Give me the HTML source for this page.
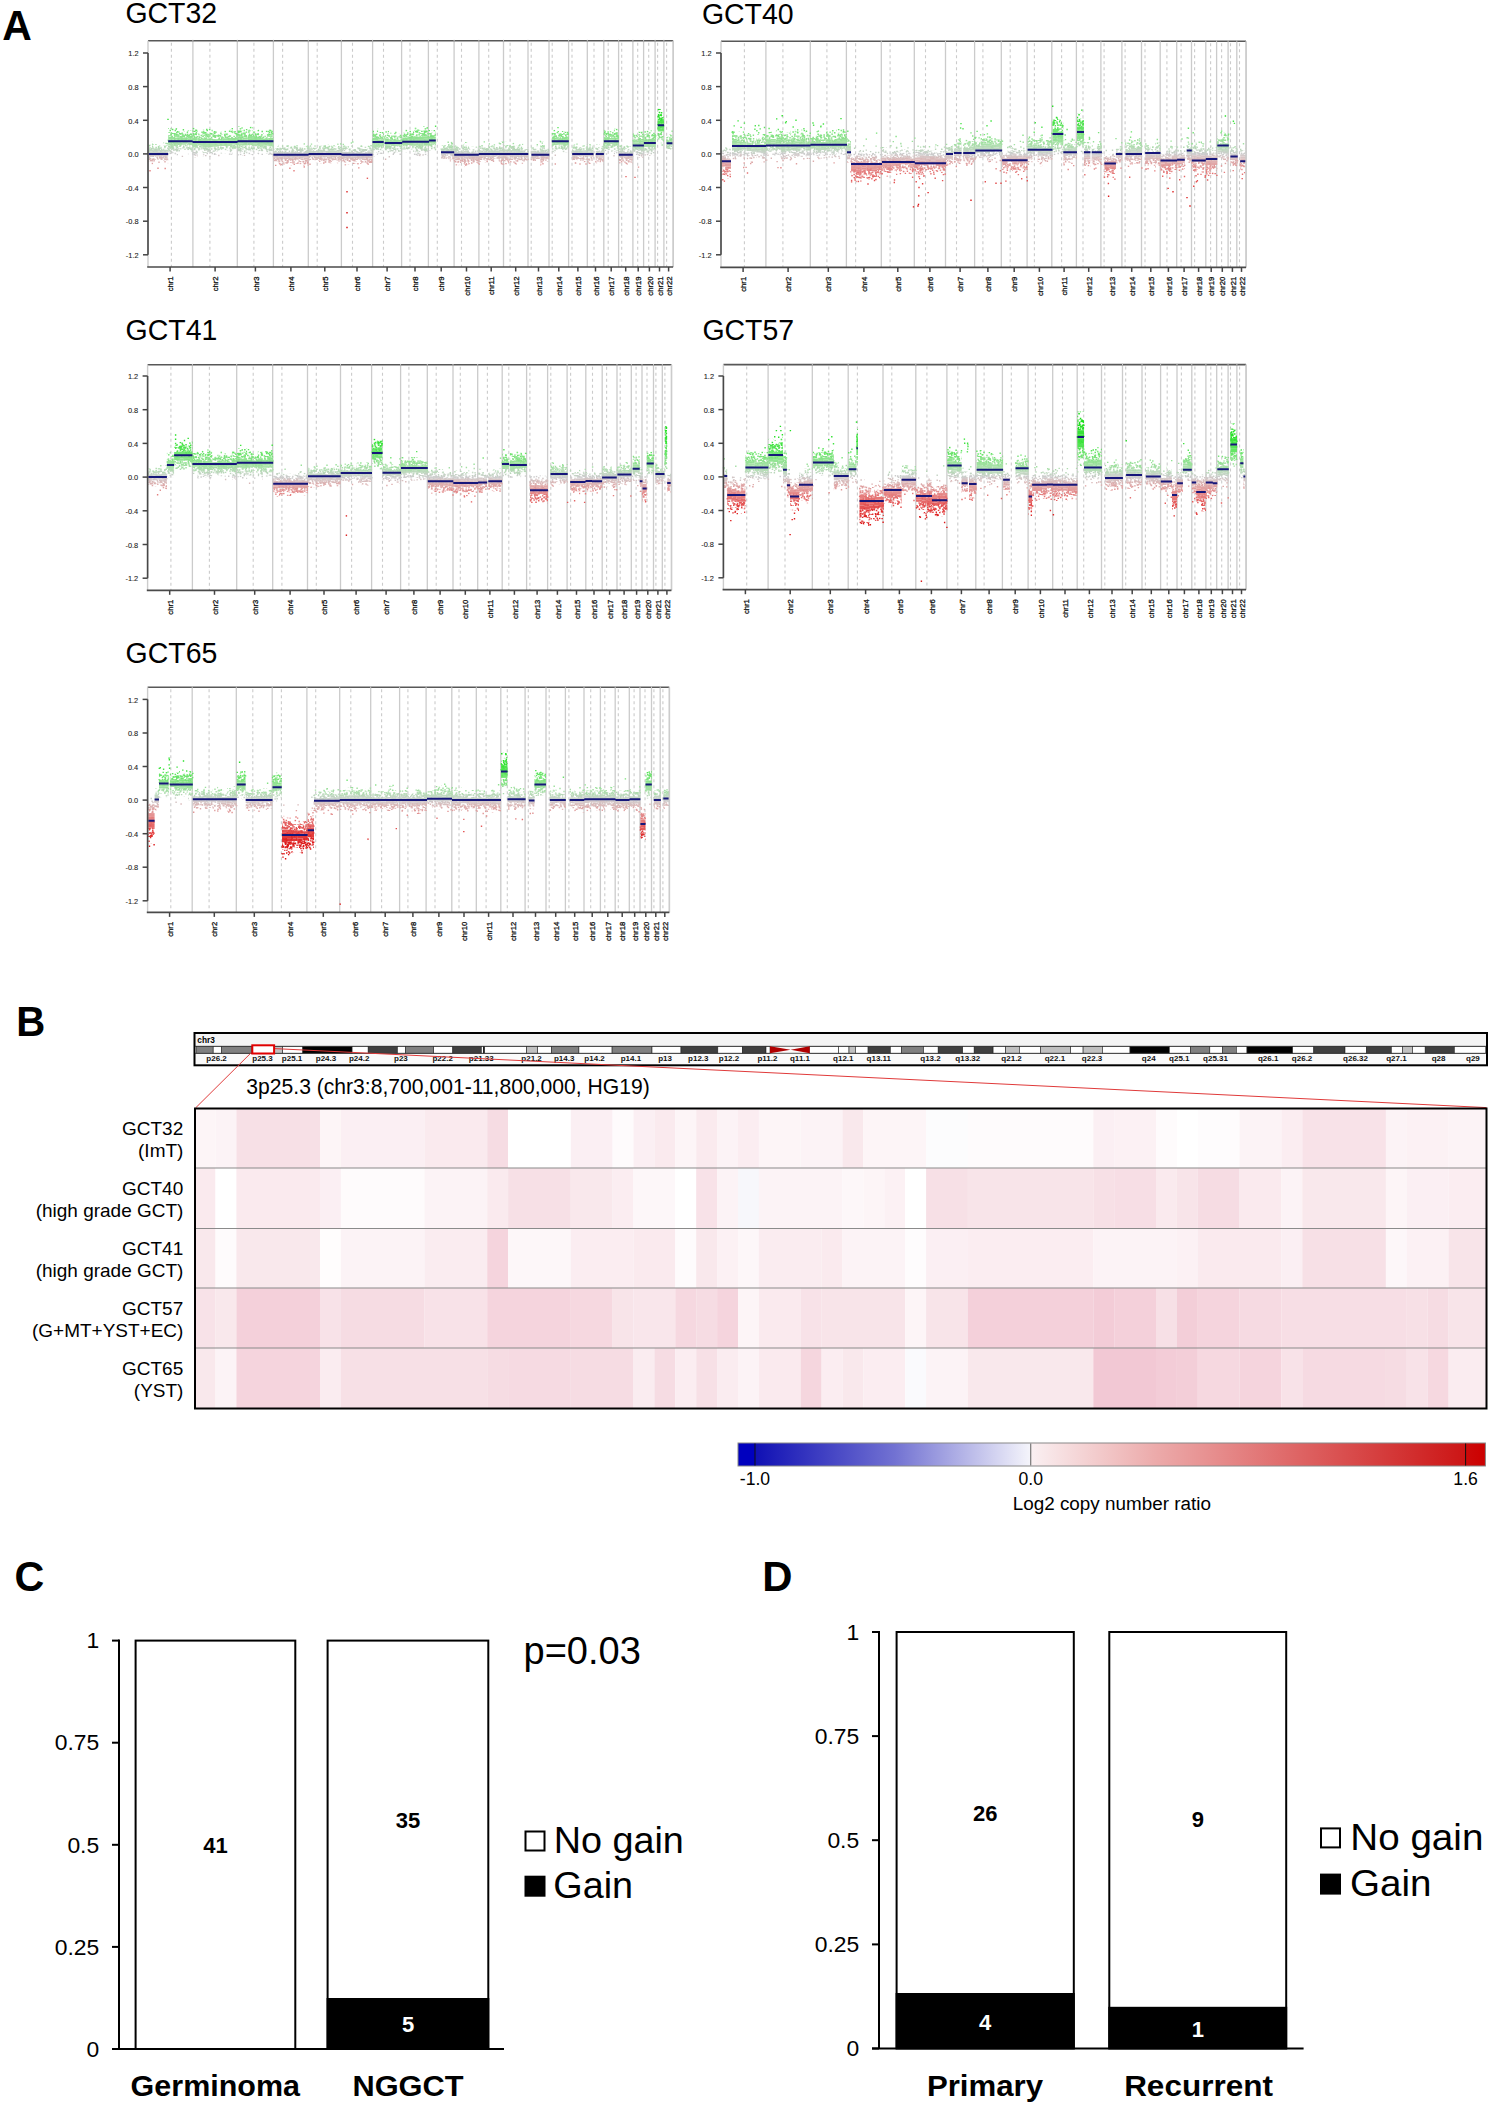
<!DOCTYPE html><html><head><meta charset="utf-8"><style>
html,body{margin:0;padding:0;background:#fff;width:1490px;height:2106px;overflow:hidden}
svg{display:block;font-family:"Liberation Sans", sans-serif}
.cb{stroke:#cbcbcb;stroke-width:1.3}
.cd{stroke:#cbcbcb;stroke-width:1.1;stroke-dasharray:3 3}
.yl{font-size:7.4px;text-anchor:end;fill:#1a1a1a;stroke:#1a1a1a;stroke-width:0.08}
.xl{font-size:7.7px;text-anchor:end;fill:#111;stroke:#111;stroke-width:0.3}
</style></head><body>
<svg width="1490" height="2106" viewBox="0 0 1490 2106">
<rect width="1490" height="2106" fill="#fff"/>
<defs>
<pattern id="pD" patternUnits="userSpaceOnUse" width="31" height="19"><path d="M7.4 10.3h1.5M11.5 11.5h1.5M19.4 1.2h1.5M0.4 15.9h1.5M8 4.5h1.5M30.9 8.9h1.5M-0.1 8.9h1.5M25.9 9.1h1.5M19.8 2.9h1.5M19.7 16.5h1.5M16.2 14.1h1.5M20.8 1.2h1.5M23.5 11.2h1.5M9.3 0.6h1.5M26.8 9h1.5M22.3 16.7h1.5M22.1 17.5h1.5M22.1 -1.5h1.5M12.2 15.2h1.5M13.8 17.8h1.5M13.8 -1.2h1.5M27.2 1.9h1.5M4.2 4.1h1.5M29.9 8.3h1.5M-1.1 8.3h1.5M19.4 5.7h1.5M15.7 7.3h1.5M10.9 11.1h1.5M18.1 17.2h1.5M21.1 17.6h1.5M21.1 -1.4h1.5M26.5 18.8h1.5M26.5 -0.2h1.5M20.8 3.1h1.5M26.7 18.3h1.5M26.7 -0.7h1.5M28 10.8h1.5M22.1 4h1.5M25.8 10.9h1.5M8.8 1.2h1.5M26.5 18.8h1.5M26.5 -0.2h1.5M2.7 15.2h1.5M12.7 2.9h1.5M9.1 14.6h1.5M27.1 0.8h1.5M19.1 0.9h1.5M22.3 6.3h1.5M27.3 18.6h1.5M27.3 -0.4h1.5M15.7 19h1.5M15.7 -0h1.5M9.6 1.5h1.5M18.6 0.6h1.5M6.1 7.8h1.5M18.9 3h1.5M1.3 16.5h1.5M9.7 18.2h1.5M9.7 -0.8h1.5M27.8 7.2h1.5M14.3 9.9h1.5M20 11.3h1.5M17.3 11.8h1.5M29.2 9.6h1.5M13.4 13.7h1.5M7.4 5.7h1.5M30.3 9.9h1.5M-0.7 9.9h1.5M17 0.2h1.5M12.9 11h1.5M0.6 11.7h1.5M19.6 1.1h1.5M19.4 8.9h1.5M21.1 6.7h1.5M21.9 14h1.5M0.7 1.2h1.5M21 18.3h1.5M21 -0.7h1.5M7.8 8.7h1.5M18.4 6.1h1.5M11.3 5.9h1.5M11.4 11.3h1.5M9.3 7.2h1.5M23.9 0.5h1.5M17.6 14h1.5M9.6 4.2h1.5M24.9 4.5h1.5M5.8 8.3h1.5M21.6 1.9h1.5M10 6.3h1.5M25.8 8.3h1.5M26.5 3.2h1.5M10.4 12.4h1.5M27.4 8.6h1.5M7 2.3h1.5M16.4 3.6h1.5M25 15.9h1.5M5.7 5.3h1.5M25 12.2h1.5M25 6.6h1.5M4 5.5h1.5M24.6 5.2h1.5M10.7 7.9h1.5M13 7.8h1.5M28.5 3h1.5M0.1 17.9h1.5M0.1 -1.1h1.5M27.3 18.8h1.5M27.3 -0.2h1.5M13.5 18.1h1.5M13.5 -0.9h1.5M28.7 4.2h1.5M23.1 15.9h1.5M20.6 9.9h1.5M9 6.5h1.5M7.1 1.3h1.5M18.2 5.5h1.5M25.1 0.9h1.5M28 13.2h1.5M28.6 17h1.5M27.9 11h1.5M0.4 14.2h1.5M5.3 5.7h1.5M20.5 10h1.5M12.8 17.8h1.5M12.8 -1.2h1.5M19 6.5h1.5M7.8 16.4h1.5M14.8 14.9h1.5M10.9 3.7h1.5M16.6 15.5h1.5M5.3 15h1.5M28.6 15.3h1.5M25.5 0.1h1.5M19.5 16.4h1.5M1.5 5.2h1.5M8.3 10h1.5M13.1 9h1.5M24.1 0h1.5M1.7 2.4h1.5M3.9 1.3h1.5M30.2 16.2h1.5M-0.8 16.2h1.5M2.7 9.5h1.5M9.8 6h1.5M10.9 12.3h1.5M18.2 6.9h1.5M5.9 6.2h1.5M3.8 10.6h1.5M22.2 7.2h1.5M2.5 3.4h1.5M11.6 11.5h1.5M24.3 7.2h1.5M24.8 11.8h1.5M13.4 7.1h1.5M15.4 13.4h1.5M13 13.2h1.5M14.3 4.7h1.5M16.6 13.2h1.5M2.2 8.1h1.5M13.2 16.7h1.5M29 7.1h1.5M27.8 15h1.5M8.1 8.8h1.5M3.8 15.5h1.5M20.5 16.9h1.5M24.6 12.7h1.5M22.7 10.7h1.5M3.2 11.2h1.5M0.2 2.7h1.5M24 0.8h1.5M2.8 1.9h1.5M27.3 3.4h1.5M0.7 16h1.5M3.8 16h1.5M20.9 15.9h1.5M29.5 11h1.5M-1.5 11h1.5M24.8 0.7h1.5M23.8 9.7h1.5M22.2 2h1.5M23.2 17.8h1.5M23.2 -1.2h1.5M1.9 6.2h1.5M17.5 15.7h1.5M7.5 3.4h1.5M7.7 11.7h1.5M23.4 7.5h1.5M11.4 7.5h1.5M10.9 7.9h1.5M2.6 9.5h1.5M30.2 7.8h1.5M-0.8 7.8h1.5M23.2 3.1h1.5M21.4 14.4h1.5M20.9 9.8h1.5M15 12.2h1.5M27.8 2.8h1.5M3 14.2h1.5M28.4 9.8h1.5M13.7 13.7h1.5M5.8 5.1h1.5M6.2 11.1h1.5M9.8 4.4h1.5M21.4 18.1h1.5M21.4 -0.9h1.5M9.2 13.4h1.5M12.8 16.2h1.5M18.1 5.1h1.5M6.7 0.4h1.5M14.9 7.3h1.5M5.3 6.8h1.5" fill="none" stroke="#fff" stroke-width="1.5"/></pattern>
<pattern id="pS" patternUnits="userSpaceOnUse" width="37" height="23"><path d="M11.9 17.8h1.5M5.3 22.8h1.5M5.3 -0.2h1.5M17.7 13.8h1.5M17.3 19.2h1.5M30.4 12.8h1.5M17.8 16.6h1.5M31.7 9.2h1.5M27.1 22.1h1.5M27.1 -0.9h1.5M17.3 5.3h1.5M8.7 16.5h1.5M25 22.1h1.5M25 -0.9h1.5M31.6 5.6h1.5M7 5.9h1.5M6.9 16.2h1.5M31.8 20.7h1.5M9.4 19.9h1.5M11.6 9.7h1.5M27 2h1.5M3.4 19.2h1.5M10.8 8.2h1.5M21.5 15.5h1.5M0.3 7.7h1.5M16.1 11.2h1.5M7.8 13.5h1.5M35.3 9h1.5M20.1 2.7h1.5M10.2 15.3h1.5M4.2 20.4h1.5M33.6 2.2h1.5M34.8 8.6h1.5M28.6 17.4h1.5M10.9 15.5h1.5M24.2 18.5h1.5M9.8 17.3h1.5M35.6 15.5h1.5M-1.4 15.5h1.5M19.8 2.6h1.5M18.3 8.1h1.5M26.6 15.6h1.5M21 4.2h1.5M23.9 14.5h1.5M6.6 20.5h1.5M24.2 2.8h1.5M34.5 3.3h1.5M12.3 16.6h1.5M22.1 12.8h1.5M24 10.5h1.5M11.6 4.1h1.5M2.5 16.5h1.5M27.9 12.5h1.5M27.4 8.3h1.5M9.8 8.8h1.5M32.3 1h1.5M18.7 5.7h1.5M28.4 8.1h1.5M12.3 9.3h1.5M20 17.7h1.5M13.1 19.5h1.5M4.1 6.2h1.5M3.7 2.6h1.5M28.8 16.7h1.5M6.8 4.4h1.5M15.4 17.1h1.5M30.2 17.2h1.5M21.9 3.4h1.5M14.7 4.5h1.5M19.5 13.1h1.5M7.5 5.8h1.5M28.9 0.7h1.5M29.7 20.5h1.5M35.1 8.8h1.5" fill="none" stroke="#fff" stroke-width="1.5"/></pattern>
<mask id="mD" maskUnits="userSpaceOnUse" x="0" y="0" width="1490" height="950"><rect width="1490" height="950" fill="url(#pD)"/></mask>
<mask id="mS" maskUnits="userSpaceOnUse" x="0" y="0" width="1490" height="950"><rect width="1490" height="950" fill="url(#pS)"/></mask>
</defs>
<text transform="translate(2.2 39.9) scale(0.963 1)" font-size="42.5" font-weight="bold">A</text>
<text transform="translate(16.2 1036.1) scale(0.945 1)" font-size="42.5" font-weight="bold">B</text>
<text transform="translate(14.4 1590.7) scale(0.970 1)" font-size="42.5" font-weight="bold">C</text>
<text transform="translate(762.3 1590.9) scale(0.985 1)" font-size="42.5" font-weight="bold">D</text>
<text transform="translate(125.4 23.4) scale(0.965 1)" font-size="29.5">GCT32</text>
<line x1="192.9" y1="40.7" x2="192.9" y2="267" class="cb"/>
<line x1="237.3" y1="40.7" x2="237.3" y2="267" class="cb"/>
<line x1="273.4" y1="40.7" x2="273.4" y2="267" class="cb"/>
<line x1="308.3" y1="40.7" x2="308.3" y2="267" class="cb"/>
<line x1="341.4" y1="40.7" x2="341.4" y2="267" class="cb"/>
<line x1="372.6" y1="40.7" x2="372.6" y2="267" class="cb"/>
<line x1="401.6" y1="40.7" x2="401.6" y2="267" class="cb"/>
<line x1="428.4" y1="40.7" x2="428.4" y2="267" class="cb"/>
<line x1="454.1" y1="40.7" x2="454.1" y2="267" class="cb"/>
<line x1="478.9" y1="40.7" x2="478.9" y2="267" class="cb"/>
<line x1="503.5" y1="40.7" x2="503.5" y2="267" class="cb"/>
<line x1="528" y1="40.7" x2="528" y2="267" class="cb"/>
<line x1="549" y1="40.7" x2="549" y2="267" class="cb"/>
<line x1="568.6" y1="40.7" x2="568.6" y2="267" class="cb"/>
<line x1="587.3" y1="40.7" x2="587.3" y2="267" class="cb"/>
<line x1="603.8" y1="40.7" x2="603.8" y2="267" class="cb"/>
<line x1="618.6" y1="40.7" x2="618.6" y2="267" class="cb"/>
<line x1="632.9" y1="40.7" x2="632.9" y2="267" class="cb"/>
<line x1="643.6" y1="40.7" x2="643.6" y2="267" class="cb"/>
<line x1="655.1" y1="40.7" x2="655.1" y2="267" class="cb"/>
<line x1="663.9" y1="40.7" x2="663.9" y2="267" class="cb"/>
<line x1="673.3" y1="40.7" x2="673.3" y2="267" class="cb"/>
<line x1="171.4" y1="42.7" x2="171.4" y2="267" class="cd"/>
<line x1="209.9" y1="42.7" x2="209.9" y2="267" class="cd"/>
<line x1="253.9" y1="42.7" x2="253.9" y2="267" class="cd"/>
<line x1="282.6" y1="42.7" x2="282.6" y2="267" class="cd"/>
<line x1="317.2" y1="42.7" x2="317.2" y2="267" class="cd"/>
<line x1="352.5" y1="42.7" x2="352.5" y2="267" class="cd"/>
<line x1="383.5" y1="42.7" x2="383.5" y2="267" class="cd"/>
<line x1="410" y1="42.7" x2="410" y2="267" class="cd"/>
<line x1="437.3" y1="42.7" x2="437.3" y2="267" class="cd"/>
<line x1="461.5" y1="42.7" x2="461.5" y2="267" class="cd"/>
<line x1="488.7" y1="42.7" x2="488.7" y2="267" class="cd"/>
<line x1="510.1" y1="42.7" x2="510.1" y2="267" class="cd"/>
<line x1="531.2" y1="42.7" x2="531.2" y2="267" class="cd"/>
<line x1="552.2" y1="42.7" x2="552.2" y2="267" class="cd"/>
<line x1="572" y1="42.7" x2="572" y2="267" class="cd"/>
<line x1="594" y1="42.7" x2="594" y2="267" class="cd"/>
<line x1="608.2" y1="42.7" x2="608.2" y2="267" class="cd"/>
<line x1="621.7" y1="42.7" x2="621.7" y2="267" class="cd"/>
<line x1="637.7" y1="42.7" x2="637.7" y2="267" class="cd"/>
<line x1="648.7" y1="42.7" x2="648.7" y2="267" class="cd"/>
<line x1="657.6" y1="42.7" x2="657.6" y2="267" class="cd"/>
<line x1="666.6" y1="42.7" x2="666.6" y2="267" class="cd"/>
<path d="M657.7 108.9h6.3v2.5h-6.3z" fill="#28e128" stroke="none" mask="url(#mS)"/>
<path d="M657.7 111.3h6.3v2.5h-6.3z" fill="#29e129" stroke="none" mask="url(#mS)"/>
<path d="M187.7 126.7h4.9v2h-4.9zM237.5 126.5h5.1v2.1h-5.1zM247.8 126.4h5.1v2.1h-5.1zM412.9 126.5h5.4v2.1h-5.4zM418.3 126.5h5.4v2.2h-5.4zM423.6 126.5h5.4v2.1h-5.4z" fill="#58e458" stroke="none" mask="url(#mS)"/>
<path d="M168.2 128.1h4.9v1.9h-4.9zM173.1 128.1h4.9v2h-4.9zM192.6 127.8h5v2.2h-5zM247.8 128.4h5.1v2.1h-5.1zM372.5 128.2h5.6v2.1h-5.6z" fill="#5fe45f" stroke="none" mask="url(#mS)"/>
<path d="M168.2 130h4.9v1.9h-4.9zM173.1 130h4.9v2h-4.9zM178 129.1h4.9v1.7h-4.9zM187.7 128.7h4.9v2h-4.9zM192.6 129.9h5v2.2h-5zM202.6 129.4h5v2h-5zM207.6 129.1h5v2h-5zM227.5 129.3h5v1.9h-5zM237.5 128.5h5.1v2.1h-5.1zM242.6 129h5.1v1.8h-5.1zM252.9 129.9h5.1v1.8h-5.1zM258 129.3h5.1v1.9h-5.1zM268.3 129.3h5.1v1.9h-5.1zM402.2 129.5h5.4v1.7h-5.4zM407.6 130.2h5.4v1.7h-5.4zM412.9 128.6h5.4v2.1h-5.4zM418.3 128.6h5.4v2.2h-5.4zM423.6 128.6h5.4v2.1h-5.4zM429 130.1h6.8v1.5h-6.8zM551.8 129.8h5.7v1.7h-5.7zM603.9 129.5h5v1.7h-5zM613.8 128.6h5v1.9h-5z" fill="#68e468" stroke="none" mask="url(#mS)"/>
<path d="M178 130.8h4.9v1.7h-4.9zM182.8 130.9h4.9v1.4h-4.9zM202.6 131.4h5v2h-5zM207.6 131.1h5v2h-5zM212.6 130.9h5v1.8h-5zM217.5 131.3h5v1.6h-5zM222.5 130.5h5v1.7h-5zM227.5 131.1h5v1.9h-5zM232.5 131h5v1.5h-5zM242.6 130.7h5.1v1.8h-5.1zM252.9 131.6h5.1v1.8h-5.1zM258 131.1h5.1v1.9h-5.1zM263.1 130.6h5.1v1.7h-5.1zM268.3 131.1h5.1v1.9h-5.1zM372.5 130.2h5.6v2.1h-5.6zM378.1 132h5.6v1.6h-5.6zM384.6 130.8h4.4v1.7h-4.4zM402.2 131.1h5.4v1.7h-5.4zM407.6 131.8h5.4v1.7h-5.4zM429 131.6h6.8v1.5h-6.8zM551.8 131.5h5.7v1.7h-5.7zM557.5 131.1h5.7v1.5h-5.7zM563.1 131.7h5.7v1.5h-5.7zM603.9 131.2h5v1.7h-5zM608.9 131.3h5v1.4h-5zM613.8 130.5h5v1.9h-5zM638.3 131.7h5.6v1.9h-5.6zM643.9 130.6h5.9v1.8h-5.9zM649.8 130.4h6v1.9h-6z" fill="#70e370" stroke="none" mask="url(#mS)"/>
<path d="M182.8 132.3h4.9v1.4h-4.9zM197.6 133h5v1.4h-5zM212.6 132.7h5v1.8h-5zM217.5 132.9h5v1.6h-5zM222.5 132.2h5v1.7h-5zM232.5 132.5h5v1.5h-5zM263.1 132.3h5.1v1.7h-5.1zM378.1 133.6h5.6v1.6h-5.6zM384.6 132.4h4.4v1.7h-4.4zM389 132.7h4.4v1.4h-4.4zM393.4 132.5h4.4v1.5h-4.4zM397.8 133.6h4.4v1.4h-4.4zM557.5 132.6h5.7v1.5h-5.7zM563.1 133.2h5.7v1.5h-5.7zM608.9 132.7h5v1.4h-5zM632.8 132.7h5.5v1.8h-5.5zM638.3 133.6h5.6v1.9h-5.6zM643.9 132.4h5.9v1.8h-5.9zM649.8 132.2h6v1.9h-6z" fill="#79e379" stroke="none" mask="url(#mS)"/>
<path d="M197.6 134.4h5v1.4h-5zM389 134.1h4.4v1.4h-4.4zM393.4 134h4.4v1.5h-4.4zM397.8 134.9h4.4v1.4h-4.4zM632.8 134.4h5.5v1.8h-5.5zM666.6 134.4h6.4v1.3h-6.4zM666.6 135.6h6.4v1.3h-6.4z" fill="#81e281" stroke="none" mask="url(#mS)"/>
<path d="M657.7 138.3h6.3v2.5h-6.3z" fill="#90e190" stroke="none" mask="url(#mS)"/>
<path d="M148 141.5h5.1v1.7h-5.1zM449.8 141.6h4.4v1.5h-4.4zM464 141.9h4.9v1.9h-4.9zM498.6 141.4h4.9v1.7h-4.9zM503.5 141.7h5v1.7h-5zM540.3 141.4h4.5v1.8h-4.5zM657.7 140.7h6.3v2.5h-6.3z" fill="#9de09d" stroke="none" mask="url(#mS)"/>
<path d="M148 143.2h5.1v1.7h-5.1zM153.1 143.9h5v1.4h-5zM158.1 143.4h5v1.4h-5zM163.1 142.6h5.1v1.5h-5.1zM293.5 143.7h5v1.7h-5zM303.6 143.2h5v1.8h-5zM318 142.8h4.7v1.5h-4.7zM327.4 143.9h4.7v1.4h-4.7zM332.1 143.8h4.7v1.4h-4.7zM336.8 143.3h4.7v1.5h-4.7zM441 142.3h4.4v1.4h-4.4zM441 143.7h4.4v1.4h-4.4zM449.8 143h4.4v1.5h-4.4zM464 143.7h4.9v1.9h-4.9zM488.7 143.3h4.9v1.5h-4.9zM498.6 143h4.9v1.7h-4.9zM503.5 143.3h5v1.7h-5zM508.5 143.1h4.9v1.5h-4.9zM513.4 142.3h5v1.6h-5zM518.4 143.8h4.9v1.5h-4.9zM531.4 143.9h4.5v1.5h-4.5zM540.3 143.2h4.5v1.8h-4.5zM572.2 143.9h5.3v1.4h-5.3zM582.9 143.9h5.3v1.4h-5.3zM588.2 142.2h5.3v1.6h-5.3zM588.2 143.7h5.3v1.6h-5.3z" fill="#a4dfa4" stroke="none" mask="url(#mS)"/>
<path d="M153.1 145.2h5v1.4h-5zM158.1 144.8h5v1.4h-5zM163.1 144.1h5.1v1.5h-5.1zM278.4 144.7h5v1.5h-5zM283.5 144.2h5v1.7h-5zM288.5 145.2h5v1.5h-5zM293.5 145.4h5v1.7h-5zM303.6 145h5v1.8h-5zM308.6 145.2h4.7v1.2h-4.7zM313.3 145.2h4.7v1.3h-4.7zM318 144.3h4.7v1.5h-4.7zM322.7 144.1h4.7v1.5h-4.7zM322.7 145.5h4.7v1.5h-4.7zM327.4 145.3h4.7v1.4h-4.7zM332.1 145.2h4.7v1.4h-4.7zM336.8 144.7h4.7v1.5h-4.7zM341.5 144.8h5.2v1.5h-5.2zM346.7 145.2h5.2v1.5h-5.2zM357 144.3h5.2v1.6h-5.2zM367.3 143.9h5.2v1.6h-5.2zM367.3 145.5h5.2v1.6h-5.2zM445.4 144.1h4.4v1.1h-4.4zM445.4 145.2h4.4v1.1h-4.4zM454.2 144.9h4.9v1.5h-4.9zM459.1 144.2h4.9v1.5h-4.9zM478.8 144.7h4.9v1.5h-4.9zM483.8 145.6h4.9v1.3h-4.9zM488.7 144.8h4.9v1.5h-4.9zM493.6 145.2h4.9v1.2h-4.9zM508.5 144.5h4.9v1.5h-4.9zM513.4 143.9h5v1.6h-5zM518.4 145.3h4.9v1.5h-4.9zM531.4 145.4h4.5v1.5h-4.5zM572.2 145.3h5.3v1.4h-5.3zM577.5 144.8h5.3v1.2h-5.3zM582.9 145.2h5.3v1.4h-5.3zM595.8 144.6h4v1.4h-4zM599.8 144.9h4.1v1.4h-4.1zM618.8 144.6h4.7v1.4h-4.7zM623.5 145.5h4.7v1.4h-4.7z" fill="#aadeaa" stroke="none" mask="url(#mS)"/>
<path d="M273.4 146.2h5v1.3h-5zM278.4 146.2h5v1.5h-5zM283.5 145.8h5v1.7h-5zM288.5 146.7h5v1.5h-5zM298.5 146.5h5v1.3h-5zM308.6 146.4h4.7v1.2h-4.7zM313.3 146.4h4.7v1.3h-4.7zM341.5 146.2h5.2v1.5h-5.2zM346.7 146.6h5.2v1.5h-5.2zM351.8 146.7h5.2v1.3h-5.2zM357 145.9h5.2v1.6h-5.2zM362.2 146.4h5.2v1.4h-5.2zM454.2 146.4h4.9v1.5h-4.9zM459.1 145.7h4.9v1.5h-4.9zM469 146.8h4.9v1.3h-4.9zM473.9 146.2h4.9v1.4h-4.9zM478.8 146.1h4.9v1.5h-4.9zM483.8 146.8h4.9v1.3h-4.9zM493.6 146.3h4.9v1.2h-4.9zM523.3 146.9h5v1.2h-5zM535.9 146.8h4.5v1.1h-4.5zM577.5 146h5.3v1.2h-5.3zM595.8 145.9h4v1.4h-4zM599.8 146.3h4.1v1.4h-4.1zM618.8 146h4.7v1.4h-4.7zM623.5 146.9h4.7v1.4h-4.7zM628.1 146h4.7v1.4h-4.7z" fill="#b1dbb1" stroke="none" mask="url(#mS)"/>
<path d="M182.8 147.6h4.9v1.4h-4.9zM232.5 148.6h5v1.5h-5zM273.4 147.5h5v1.3h-5zM298.5 147.8h5v1.3h-5zM351.8 148h5.2v1.3h-5.2zM362.2 147.7h5.2v1.4h-5.2zM429 147.6h6.8v1.5h-6.8zM469 148.1h4.9v1.3h-4.9zM473.9 147.5h4.9v1.4h-4.9zM523.3 148h5v1.2h-5zM535.9 147.8h4.5v1.1h-4.5zM544.8 147.7h4.5v1h-4.5zM544.8 148.7h4.5v1h-4.5zM557.5 148.9h5.7v1.5h-5.7zM608.9 147.8h5v1.4h-5zM628.1 147.4h4.7v1.4h-4.7zM666.6 148.9h6.4v1.3h-6.4z" fill="#b9d7b9" stroke="none" mask="url(#mS)"/>
<path d="M178 149.3h4.9v1.7h-4.9zM182.8 149h4.9v1.4h-4.9zM187.7 150.3h4.9v2h-4.9zM197.6 149.4h5v1.4h-5zM217.5 150.4h5v1.6h-5zM222.5 150.5h5v1.7h-5zM232.5 150.1h5v1.5h-5zM242.6 150.4h5.1v1.8h-5.1zM252.9 150.5h5.1v1.8h-5.1zM263.1 150.3h5.1v1.7h-5.1zM384.6 150.2h4.4v1.7h-4.4zM389 149h4.4v1.4h-4.4zM389 150.4h4.4v1.4h-4.4zM393.4 150h4.4v1.5h-4.4zM397.8 149.4h4.4v1.4h-4.4zM397.8 150.7h4.4v1.4h-4.4zM402.2 149.6h5.4v1.7h-5.4zM407.6 149.5h5.4v1.7h-5.4zM429 149h6.8v1.5h-6.8zM551.8 149.6h5.7v1.7h-5.7zM557.5 150.4h5.7v1.5h-5.7zM563.1 149.6h5.7v1.5h-5.7zM603.9 149h5v1.7h-5zM608.9 149.1h5v1.4h-5zM666.6 150.1h6.4v1.3h-6.4z" fill="#c0d4c0" stroke="none" mask="url(#mS)"/>
<path d="M168.2 150.7h4.9v1.9h-4.9zM173.1 151.4h4.9v2h-4.9zM178 151h4.9v1.7h-4.9zM197.6 150.7h5v1.4h-5zM212.6 151.6h5v1.8h-5zM217.5 152h5v1.6h-5zM222.5 152.1h5v1.7h-5zM227.5 151h5v1.9h-5zM237.5 151.2h5.1v2.1h-5.1zM242.6 152.2h5.1v1.8h-5.1zM247.8 150.4h5.1v2.1h-5.1zM252.9 152.2h5.1v1.8h-5.1zM258 151.3h5.1v1.9h-5.1zM263.1 152h5.1v1.7h-5.1zM268.3 151.3h5.1v1.9h-5.1zM378.1 150.8h5.6v1.6h-5.6zM384.6 151.9h4.4v1.7h-4.4zM393.4 151.5h4.4v1.5h-4.4zM402.2 151.2h5.4v1.7h-5.4zM407.6 151.2h5.4v1.7h-5.4zM412.9 151.6h5.4v2.1h-5.4zM418.3 151.9h5.4v2.2h-5.4zM423.6 151.1h5.4v2.1h-5.4zM551.8 151.2h5.7v1.7h-5.7zM563.1 151.1h5.7v1.5h-5.7zM603.9 150.6h5v1.7h-5zM613.8 150.9h5v1.9h-5zM643.9 152.1h5.9v1.8h-5.9zM649.8 152.1h6v1.9h-6z" fill="#c6d0c6" stroke="none" mask="url(#mS)"/>
<path d="M168.2 152.6h4.9v1.9h-4.9zM173.1 153.3h4.9v2h-4.9zM187.7 152.2h4.9v2h-4.9zM192.6 153.2h5v2.2h-5zM202.6 152.6h5v2h-5zM207.6 152.9h5v2h-5zM212.6 153.3h5v1.8h-5zM227.5 152.9h5v1.9h-5zM237.5 153.3h5.1v2.1h-5.1zM247.8 152.4h5.1v2.1h-5.1zM258 153.1h5.1v1.9h-5.1zM268.3 153.1h5.1v1.9h-5.1zM372.5 152.7h5.6v2.1h-5.6zM378.1 152.4h5.6v1.6h-5.6zM412.9 153.7h5.4v2.1h-5.4zM423.6 153.2h5.4v2.1h-5.4zM613.8 152.7h5v1.9h-5zM632.8 153.2h5.5v1.8h-5.5z" fill="#cccccc" stroke="none" mask="url(#mS)"/>
<path d="M202.6 154.6h5v2h-5zM207.6 154.9h5v2h-5zM372.5 154.7h5.6v2.1h-5.6zM418.3 154h5.4v2.2h-5.4zM632.8 154.9h5.5v1.8h-5.5zM638.3 154h5.6v1.9h-5.6zM643.9 153.9h5.9v1.8h-5.9zM649.8 153.9h6v1.9h-6z" fill="#d1c6c6" stroke="none" mask="url(#mS)"/>
<path d="M192.6 155.4h5v2.2h-5zM445.4 157.3h4.4v1.1h-4.4zM638.3 155.9h5.6v1.9h-5.6z" fill="#d6c0c0" stroke="none" mask="url(#mS)"/>
<path d="M441 158.7h4.4v1.4h-4.4zM445.4 158.4h4.4v1.1h-4.4zM493.6 158.7h4.9v1.2h-4.9zM535.9 159h4.5v1.1h-4.5zM577.5 159.2h5.3v1.2h-5.3z" fill="#d9b8b8" stroke="none" mask="url(#mS)"/>
<path d="M153.1 159.6h5v1.4h-5zM158.1 160h5v1.4h-5zM163.1 160.5h5.1v1.5h-5.1zM308.6 159.6h4.7v1.2h-4.7zM308.6 160.8h4.7v1.2h-4.7zM313.3 159.9h4.7v1.3h-4.7zM318 160.4h4.7v1.5h-4.7zM327.4 160.5h4.7v1.4h-4.7zM332.1 160.2h4.7v1.4h-4.7zM336.8 160.4h4.7v1.5h-4.7zM441 160.1h4.4v1.4h-4.4zM449.8 159.3h4.4v1.5h-4.4zM483.8 160.6h4.9v1.3h-4.9zM493.6 159.8h4.9v1.2h-4.9zM508.5 160.2h4.9v1.5h-4.9zM518.4 160.8h4.9v1.5h-4.9zM523.3 160.3h5v1.2h-5zM535.9 160h4.5v1.1h-4.5zM544.8 159.6h4.5v1h-4.5zM544.8 160.6h4.5v1h-4.5zM572.2 160.5h5.3v1.4h-5.3zM577.5 160.4h5.3v1.2h-5.3zM582.9 159.6h5.3v1.4h-5.3zM595.8 160.5h4v1.4h-4z" fill="#dbb0b0" stroke="none" mask="url(#mS)"/>
<path d="M148 161.3h5.1v1.7h-5.1zM153.1 161h5v1.4h-5zM158.1 161.3h5v1.4h-5zM163.1 162h5.1v1.5h-5.1zM273.4 161.2h5v1.3h-5zM273.4 162.5h5v1.3h-5zM298.5 162.1h5v1.3h-5zM313.3 161.1h4.7v1.3h-4.7zM318 161.8h4.7v1.5h-4.7zM322.7 161.2h4.7v1.5h-4.7zM327.4 161.9h4.7v1.4h-4.7zM332.1 161.6h4.7v1.4h-4.7zM336.8 161.8h4.7v1.5h-4.7zM346.7 162h5.2v1.5h-5.2zM351.8 161.5h5.2v1.3h-5.2zM362.2 162.2h5.2v1.4h-5.2zM449.8 160.8h4.4v1.5h-4.4zM459.1 161.7h4.9v1.5h-4.9zM469 161.8h4.9v1.3h-4.9zM473.9 161.9h4.9v1.4h-4.9zM478.8 161.9h4.9v1.5h-4.9zM483.8 161.8h4.9v1.3h-4.9zM488.7 161h4.9v1.5h-4.9zM498.6 161.4h4.9v1.7h-4.9zM503.5 161.2h5v1.7h-5zM508.5 161.6h4.9v1.5h-4.9zM513.4 161.3h5v1.6h-5zM518.4 162.2h4.9v1.5h-4.9zM523.3 161.5h5v1.2h-5zM531.4 161h4.5v1.5h-4.5zM572.2 161.9h5.3v1.4h-5.3zM582.9 160.9h5.3v1.4h-5.3zM588.2 160.8h5.3v1.6h-5.3zM588.2 162.4h5.3v1.6h-5.3zM595.8 161.8h4v1.4h-4zM599.8 161.7h4.1v1.4h-4.1zM618.8 160.9h4.7v1.4h-4.7zM618.8 162.2h4.7v1.4h-4.7zM623.5 161.6h4.7v1.4h-4.7zM628.1 162.4h4.7v1.4h-4.7z" fill="#dea8a8" stroke="none" mask="url(#mS)"/>
<path d="M148 162.9h5.1v1.7h-5.1zM278.4 162.5h5v1.5h-5zM278.4 164h5v1.5h-5zM283.5 163.6h5v1.7h-5zM288.5 163h5v1.5h-5zM298.5 163.3h5v1.3h-5zM322.7 162.6h4.7v1.5h-4.7zM341.5 162.5h5.2v1.5h-5.2zM341.5 163.9h5.2v1.5h-5.2zM346.7 163.4h5.2v1.5h-5.2zM351.8 162.7h5.2v1.3h-5.2zM357 163h5.2v1.6h-5.2zM362.2 163.5h5.2v1.4h-5.2zM367.3 162.8h5.2v1.6h-5.2zM454.2 162.5h4.9v1.5h-4.9zM454.2 164h4.9v1.5h-4.9zM459.1 163.1h4.9v1.5h-4.9zM464 163.9h4.9v1.9h-4.9zM469 163.1h4.9v1.3h-4.9zM473.9 163.2h4.9v1.4h-4.9zM478.8 163.3h4.9v1.5h-4.9zM488.7 162.5h4.9v1.5h-4.9zM498.6 163.1h4.9v1.7h-4.9zM503.5 162.8h5v1.7h-5zM513.4 162.9h5v1.6h-5zM531.4 162.4h4.5v1.5h-4.5zM540.3 162.8h4.5v1.8h-4.5zM599.8 163.1h4.1v1.4h-4.1zM623.5 163h4.7v1.4h-4.7zM628.1 163.8h4.7v1.4h-4.7z" fill="#dfa0a0" stroke="none" mask="url(#mS)"/>
<path d="M283.5 165.2h5v1.7h-5zM288.5 164.5h5v1.5h-5zM293.5 164.1h5v1.7h-5zM303.6 164.4h5v1.8h-5zM357 164.6h5.2v1.6h-5.2zM367.3 164.4h5.2v1.6h-5.2zM540.3 164.6h4.5v1.8h-4.5z" fill="#e09999" stroke="none" mask="url(#mS)"/>
<path d="M293.5 165.7h5v1.7h-5zM303.6 166.2h5v1.8h-5zM464 165.7h4.9v1.9h-4.9z" fill="#e29191" stroke="none" mask="url(#mS)"/>
<path d="M657.7 113.8h6.3v3.5h-6.3z" fill="#2ce22c" stroke="none" mask="url(#mD)"/>
<path d="M657.7 117.2h6.3v3.5h-6.3z" fill="#37e237" stroke="none" mask="url(#mD)"/>
<path d="M187.7 130.6h4.9v2.8h-4.9zM237.5 130.6h5.1v2.9h-5.1zM247.8 130.4h5.1v2.9h-5.1zM412.9 130.6h5.4v3h-5.4zM418.3 130.8h5.4v3h-5.4zM423.6 130.6h5.4v2.9h-5.4z" fill="#70e370" stroke="none" mask="url(#mD)"/>
<path d="M168.2 131.9h4.9v2.7h-4.9zM173.1 131.9h4.9v2.8h-4.9zM178 132.5h4.9v2.4h-4.9zM192.6 132h5v3h-5zM207.6 133h5v2.8h-5zM227.5 132.9h5v2.6h-5zM242.6 132.5h5.1v2.5h-5.1zM252.9 133.3h5.1v2.4h-5.1zM258 133h5.1v2.6h-5.1zM268.3 133h5.1v2.6h-5.1zM372.5 132.3h5.6v2.9h-5.6zM402.2 132.8h5.4v2.4h-5.4zM407.6 133.4h5.4v2.3h-5.4zM429 133h6.8v2.1h-6.8zM551.8 133.1h5.7v2.4h-5.7zM603.9 132.8h5v2.3h-5zM613.8 132.3h5v2.6h-5zM657.7 131.4h6.3v3.5h-6.3z" fill="#79e379" stroke="none" mask="url(#mD)"/>
<path d="M168.2 134.5h4.9v2.7h-4.9zM173.1 134.7h4.9v2.8h-4.9zM178 134.8h4.9v2.4h-4.9zM182.8 133.7h4.9v2h-4.9zM187.7 133.4h4.9v2.8h-4.9zM202.6 133.3h5v2.8h-5zM212.6 134.4h5v2.5h-5zM217.5 134.5h5v2.3h-5zM222.5 133.8h5v2.4h-5zM232.5 133.9h5v2.1h-5zM237.5 133.5h5.1v2.9h-5.1zM247.8 133.2h5.1v2.9h-5.1zM263.1 133.9h5.1v2.3h-5.1zM378.1 135.1h5.6v2.2h-5.6zM384.6 134h4.4v2.3h-4.4zM412.9 133.6h5.4v3h-5.4zM418.3 133.7h5.4v3h-5.4zM423.6 133.5h5.4v2.9h-5.4zM429 135.1h6.8v2.1h-6.8zM557.5 134h5.7v2.1h-5.7zM563.1 134.7h5.7v2.1h-5.7zM603.9 135.1h5v2.3h-5zM608.9 134.1h5v2h-5zM613.8 134.9h5v2.6h-5zM643.9 134.2h5.9v2.6h-5.9zM649.8 134h6v2.6h-6z" fill="#81e281" stroke="none" mask="url(#mD)"/>
<path d="M182.8 135.6h4.9v2h-4.9zM192.6 135h5v3h-5zM197.6 135.8h5v2h-5zM202.6 136h5v2.8h-5zM207.6 135.8h5v2.8h-5zM217.5 136.8h5v2.3h-5zM222.5 136.2h5v2.4h-5zM227.5 135.5h5v2.6h-5zM232.5 136h5v2.1h-5zM242.6 135h5.1v2.5h-5.1zM252.9 135.7h5.1v2.4h-5.1zM258 135.5h5.1v2.6h-5.1zM263.1 136.2h5.1v2.3h-5.1zM268.3 135.5h5.1v2.6h-5.1zM372.5 135.1h5.6v2.9h-5.6zM384.6 136.3h4.4v2.3h-4.4zM389 135.4h4.4v2h-4.4zM393.4 135.4h4.4v2.1h-4.4zM397.8 136.2h4.4v1.9h-4.4zM402.2 135.2h5.4v2.4h-5.4zM407.6 135.7h5.4v2.3h-5.4zM551.8 135.4h5.7v2.4h-5.7zM557.5 136.1h5.7v2.1h-5.7zM563.1 136.8h5.7v2.1h-5.7zM608.9 136h5v2h-5zM632.8 136.1h5.5v2.4h-5.5zM638.3 135.4h5.6v2.6h-5.6zM649.8 136.5h6v2.6h-6zM657.7 134.8h6.3v3.5h-6.3zM666.6 136.8h6.4v1.7h-6.4z" fill="#8ae28a" stroke="none" mask="url(#mD)"/>
<path d="M197.6 137.7h5v2h-5zM212.6 136.8h5v2.5h-5zM378.1 137.3h5.6v2.2h-5.6zM389 137.3h4.4v2h-4.4zM393.4 137.5h4.4v2.1h-4.4zM397.8 138.1h4.4v1.9h-4.4zM638.3 138h5.6v2.6h-5.6zM643.9 136.7h5.9v2.6h-5.9zM666.6 138.5h6.4v1.7h-6.4z" fill="#90e190" stroke="none" mask="url(#mD)"/>
<path d="M632.8 138.5h5.5v2.4h-5.5z" fill="#97e097" stroke="none" mask="url(#mD)"/>
<path d="M429 143.5h6.8v2.1h-6.8z" fill="#a4dfa4" stroke="none" mask="url(#mD)"/>
<path d="M148 144.8h5.1v2.4h-5.1zM178 144.6h4.9v2.4h-4.9zM182.8 143.7h4.9v2h-4.9zM187.7 144.8h4.9v2.8h-4.9zM232.5 144.5h5v2.1h-5zM247.8 144.8h5.1v2.9h-5.1zM389 145.2h4.4v2h-4.4zM402.2 144.9h5.4v2.4h-5.4zM407.6 145h5.4v2.3h-5.4zM441 145.1h4.4v2h-4.4zM449.8 144.5h4.4v2.1h-4.4zM498.6 144.7h4.9v2.4h-4.9zM503.5 145h5v2.3h-5zM540.3 145h4.5v2.5h-4.5zM551.8 145h5.7v2.4h-5.7zM557.5 144.7h5.7v2.1h-5.7zM603.9 144.5h5v2.3h-5zM608.9 143.9h5v2h-5z" fill="#aadeaa" stroke="none" mask="url(#mD)"/>
<path d="M153.1 146.5h5v1.9h-5zM158.1 146.2h5v2h-5zM163.1 145.6h5.1v2.1h-5.1zM168.2 145.5h4.9v2.7h-4.9zM173.1 145.9h4.9v2.8h-4.9zM182.8 145.7h4.9v2h-4.9zM197.6 145.6h5v2h-5zM212.6 146.7h5v2.5h-5zM217.5 146h5v2.3h-5zM222.5 145.8h5v2.4h-5zM227.5 146h5v2.6h-5zM232.5 146.6h5v2.1h-5zM237.5 145.4h5.1v2.9h-5.1zM242.6 145.4h5.1v2.5h-5.1zM252.9 145.7h5.1v2.4h-5.1zM258 146.2h5.1v2.6h-5.1zM263.1 145.7h5.1v2.3h-5.1zM268.3 146.2h5.1v2.6h-5.1zM303.6 146.7h5v2.5h-5zM318 145.8h4.7v2.1h-4.7zM322.7 146.9h4.7v2h-4.7zM327.4 146.7h4.7v2h-4.7zM332.1 146.5h4.7v2h-4.7zM336.8 146.1h4.7v2h-4.7zM378.1 146.4h5.6v2.2h-5.6zM384.6 145.7h4.4v2.3h-4.4zM393.4 145.9h4.4v2.1h-4.4zM397.8 145.7h4.4v1.9h-4.4zM412.9 145.7h5.4v3h-5.4zM418.3 146h5.4v3h-5.4zM423.6 145.4h5.4v2.9h-5.4zM429 145.5h6.8v2.1h-6.8zM441 147h4.4v2h-4.4zM445.4 146.3h4.4v1.6h-4.4zM449.8 146.6h4.4v2.1h-4.4zM464 145.5h4.9v2.6h-4.9zM488.7 146.2h4.9v2.1h-4.9zM508.5 146h4.9v2h-4.9zM513.4 145.5h5v2.3h-5zM518.4 146.7h4.9v2h-4.9zM531.4 146.8h4.5v2h-4.5zM557.5 146.8h5.7v2.1h-5.7zM563.1 145.4h5.7v2.1h-5.7zM572.2 146.7h5.3v2h-5.3zM582.9 146.5h5.3v1.9h-5.3zM588.2 145.3h5.3v2.2h-5.3zM603.9 146.7h5v2.3h-5zM608.9 145.9h5v2h-5zM613.8 145.7h5v2.6h-5zM666.6 145.5h6.4v1.7h-6.4z" fill="#b1dbb1" stroke="none" mask="url(#mD)"/>
<path d="M148 147.1h5.1v2.4h-5.1zM153.1 148.3h5v1.9h-5zM158.1 148.1h5v2h-5zM163.1 147.7h5.1v2.1h-5.1zM168.2 148.1h4.9v2.7h-4.9zM178 147h4.9v2.4h-4.9zM187.7 147.5h4.9v2.8h-4.9zM192.6 147.3h5v3h-5zM197.6 147.5h5v2h-5zM202.6 147.2h5v2.8h-5zM207.6 147.3h5v2.8h-5zM217.5 148.2h5v2.3h-5zM222.5 148.1h5v2.4h-5zM242.6 147.9h5.1v2.5h-5.1zM247.8 147.6h5.1v2.9h-5.1zM252.9 148.1h5.1v2.4h-5.1zM263.1 148h5.1v2.3h-5.1zM273.4 148.7h5v1.8h-5zM278.4 147.7h5v2.1h-5zM283.5 147.4h5v2.3h-5zM288.5 148.2h5v2.1h-5zM293.5 147.1h5v2.4h-5zM308.6 147.6h4.7v1.7h-4.7zM313.3 147.7h4.7v1.8h-4.7zM318 147.8h4.7v2.1h-4.7zM327.4 148.6h4.7v2h-4.7zM332.1 148.5h4.7v2h-4.7zM336.8 148.1h4.7v2h-4.7zM341.5 147.7h5.2v2.1h-5.2zM346.7 148h5.2v2h-5.2zM357 147.4h5.2v2.2h-5.2zM367.3 147h5.2v2.3h-5.2zM372.5 147h5.6v2.9h-5.6zM384.6 148h4.4v2.3h-4.4zM389 147.1h4.4v2h-4.4zM393.4 148h4.4v2.1h-4.4zM397.8 147.5h4.4v1.9h-4.4zM402.2 147.2h5.4v2.4h-5.4zM407.6 147.3h5.4v2.3h-5.4zM423.6 148.2h5.4v2.9h-5.4zM445.4 147.8h4.4v1.6h-4.4zM454.2 147.9h4.9v2.1h-4.9zM459.1 147.1h4.9v2.1h-4.9zM464 148.1h4.9v2.6h-4.9zM478.8 147.6h4.9v2.1h-4.9zM483.8 148.1h4.9v1.8h-4.9zM488.7 148.3h4.9v2.1h-4.9zM493.6 147.5h4.9v1.6h-4.9zM498.6 147.1h4.9v2.4h-4.9zM503.5 147.2h5v2.3h-5zM508.5 147.9h4.9v2h-4.9zM513.4 147.7h5v2.3h-5zM518.4 148.6h4.9v2h-4.9zM535.9 148.8h4.5v1.5h-4.5zM540.3 147.5h4.5v2.5h-4.5zM551.8 147.3h5.7v2.4h-5.7zM563.1 147.5h5.7v2.1h-5.7zM572.2 148.6h5.3v2h-5.3zM577.5 147.2h5.3v1.7h-5.3zM582.9 148.3h5.3v1.9h-5.3zM588.2 147.5h5.3v2.2h-5.3zM595.8 147.3h4v1.9h-4zM599.8 147.7h4.1v2h-4.1zM613.8 148.3h5v2.6h-5zM618.8 147.3h4.7v1.9h-4.7zM623.5 148.2h4.7v1.9h-4.7zM632.8 148.4h5.5v2.4h-5.5zM643.9 147.1h5.9v2.6h-5.9zM649.8 147h6v2.6h-6zM666.6 147.2h6.4v1.7h-6.4z" fill="#b9d7b9" stroke="none" mask="url(#mD)"/>
<path d="M173.1 148.6h4.9v2.8h-4.9zM202.6 149.9h5v2.8h-5zM212.6 149.2h5v2.5h-5zM227.5 148.5h5v2.6h-5zM237.5 148.3h5.1v2.9h-5.1zM258 148.7h5.1v2.6h-5.1zM268.3 148.7h5.1v2.6h-5.1zM273.4 150.5h5v1.8h-5zM278.4 149.7h5v2.1h-5zM283.5 149.7h5v2.3h-5zM288.5 150.2h5v2.1h-5zM293.5 149.5h5v2.4h-5zM298.5 149.1h5v1.9h-5zM303.6 149.2h5v2.5h-5zM308.6 149.3h4.7v1.7h-4.7zM313.3 149.4h4.7v1.8h-4.7zM322.7 148.9h4.7v2h-4.7zM341.5 149.8h5.2v2.1h-5.2zM346.7 149.9h5.2v2h-5.2zM351.8 149.2h5.2v1.8h-5.2zM357 149.6h5.2v2.2h-5.2zM362.2 149h5.2v1.9h-5.2zM367.3 149.2h5.2v2.3h-5.2zM372.5 149.8h5.6v2.9h-5.6zM378.1 148.6h5.6v2.2h-5.6zM412.9 148.7h5.4v3h-5.4zM418.3 148.9h5.4v3h-5.4zM454.2 149.9h4.9v2.1h-4.9zM459.1 149.1h4.9v2.1h-4.9zM469 149.3h4.9v1.8h-4.9zM473.9 148.8h4.9v1.9h-4.9zM478.8 149.6h4.9v2.1h-4.9zM483.8 149.8h4.9v1.8h-4.9zM493.6 149h4.9v1.6h-4.9zM523.3 149.1h5v1.6h-5zM531.4 148.8h4.5v2h-4.5zM535.9 150.2h4.5v1.5h-4.5zM544.8 149.7h4.5v1.4h-4.5zM577.5 148.9h5.3v1.7h-5.3zM595.8 149.1h4v1.9h-4zM599.8 149.7h4.1v2h-4.1zM618.8 149.2h4.7v1.9h-4.7zM623.5 150.1h4.7v1.9h-4.7zM628.1 148.8h4.7v2h-4.7zM638.3 148.8h5.6v2.6h-5.6zM643.9 149.6h5.9v2.6h-5.9zM649.8 149.6h6v2.6h-6z" fill="#c0d4c0" stroke="none" mask="url(#mD)"/>
<path d="M192.6 150.3h5v3h-5zM207.6 150.1h5v2.8h-5zM298.5 150.9h5v1.9h-5zM351.8 150.9h5.2v1.8h-5.2zM362.2 150.8h5.2v1.9h-5.2zM469 151.1h4.9v1.8h-4.9zM473.9 150.7h4.9v1.9h-4.9zM523.3 150.7h5v1.6h-5zM544.8 151.1h4.5v1.4h-4.5zM628.1 150.7h4.7v2h-4.7zM632.8 150.8h5.5v2.4h-5.5zM638.3 151.4h5.6v2.6h-5.6z" fill="#c6d0c6" stroke="none" mask="url(#mD)"/>
<path d="M441 154.9h4.4v2h-4.4zM445.4 154.2h4.4v1.6h-4.4zM449.8 155.2h4.4v2.1h-4.4zM493.6 155.5h4.9v1.6h-4.9z" fill="#d1c6c6" stroke="none" mask="url(#mD)"/>
<path d="M148 156.7h5.1v2.4h-5.1zM153.1 156h5v1.9h-5zM158.1 156.1h5v2h-5zM163.1 156.3h5.1v2.1h-5.1zM308.6 156.2h4.7v1.7h-4.7zM313.3 156.4h4.7v1.8h-4.7zM318 156.3h4.7v2.1h-4.7zM327.4 156.7h4.7v2h-4.7zM332.1 156.4h4.7v2h-4.7zM336.8 156.4h4.7v2h-4.7zM441 156.8h4.4v2h-4.4zM445.4 155.7h4.4v1.6h-4.4zM483.8 157.1h4.9v1.8h-4.9zM488.7 156.9h4.9v2.1h-4.9zM493.6 157.1h4.9v1.6h-4.9zM498.6 156.7h4.9v2.4h-4.9zM503.5 156.6h5v2.3h-5zM508.5 156.2h4.9v2h-4.9zM513.4 156.8h5v2.3h-5zM518.4 156.8h4.9v2h-4.9zM523.3 157.2h5v1.6h-5zM531.4 157h4.5v2h-4.5zM535.9 156.1h4.5v1.5h-4.5zM544.8 156.8h4.5v1.4h-4.5zM572.2 156.6h5.3v2h-5.3zM577.5 155.8h5.3v1.7h-5.3zM582.9 155.9h5.3v1.9h-5.3zM588.2 156.5h5.3v2.2h-5.3zM595.8 156.8h4v1.9h-4zM618.8 157.1h4.7v1.9h-4.7z" fill="#d6c0c0" stroke="none" mask="url(#mD)"/>
<path d="M153.1 157.8h5v1.9h-5zM158.1 158h5v2h-5zM163.1 158.4h5.1v2.1h-5.1zM273.4 157.7h5v1.8h-5zM278.4 158.3h5v2.1h-5zM298.5 158.4h5v1.9h-5zM308.6 157.9h4.7v1.7h-4.7zM313.3 158.2h4.7v1.8h-4.7zM318 158.3h4.7v2.1h-4.7zM322.7 157.2h4.7v2h-4.7zM327.4 158.6h4.7v2h-4.7zM332.1 158.3h4.7v2h-4.7zM336.8 158.4h4.7v2h-4.7zM341.5 158.3h5.2v2.1h-5.2zM346.7 158.1h5.2v2h-5.2zM351.8 158.1h5.2v1.8h-5.2zM357 158.7h5.2v2.2h-5.2zM362.2 158.5h5.2v1.9h-5.2zM367.3 158.4h5.2v2.3h-5.2zM449.8 157.3h4.4v2.1h-4.4zM454.2 158.4h4.9v2.1h-4.9zM459.1 157.6h4.9v2.1h-4.9zM469 158.3h4.9v1.8h-4.9zM473.9 158.3h4.9v1.9h-4.9zM478.8 157.9h4.9v2.1h-4.9zM483.8 158.8h4.9v1.8h-4.9zM508.5 158.2h4.9v2h-4.9zM518.4 158.8h4.9v2h-4.9zM523.3 158.8h5v1.6h-5zM535.9 157.6h4.5v1.5h-4.5zM540.3 157.8h4.5v2.5h-4.5zM544.8 158.2h4.5v1.4h-4.5zM572.2 158.6h5.3v2h-5.3zM577.5 157.5h5.3v1.7h-5.3zM582.9 157.8h5.3v1.9h-5.3zM588.2 158.6h5.3v2.2h-5.3zM595.8 158.7h4v1.9h-4zM599.8 157.8h4.1v2h-4.1zM623.5 157.9h4.7v1.9h-4.7zM628.1 158.6h4.7v2h-4.7z" fill="#d9b8b8" stroke="none" mask="url(#mD)"/>
<path d="M148 159h5.1v2.4h-5.1zM273.4 159.5h5v1.8h-5zM278.4 160.4h5v2.1h-5zM283.5 159h5v2.3h-5zM288.5 158.9h5v2.1h-5zM293.5 159.3h5v2.4h-5zM298.5 160.2h5v1.9h-5zM303.6 159.5h5v2.5h-5zM322.7 159.2h4.7v2h-4.7zM341.5 160.4h5.2v2.1h-5.2zM346.7 160.1h5.2v2h-5.2zM351.8 159.8h5.2v1.8h-5.2zM362.2 160.3h5.2v1.9h-5.2zM459.1 159.6h4.9v2.1h-4.9zM464 158.8h4.9v2.6h-4.9zM469 160.1h4.9v1.8h-4.9zM473.9 160.1h4.9v1.9h-4.9zM478.8 159.9h4.9v2.1h-4.9zM488.7 158.9h4.9v2.1h-4.9zM498.6 159.1h4.9v2.4h-4.9zM503.5 158.9h5v2.3h-5zM513.4 159.1h5v2.3h-5zM531.4 159h4.5v2h-4.5zM599.8 159.7h4.1v2h-4.1zM618.8 159h4.7v1.9h-4.7zM623.5 159.8h4.7v1.9h-4.7zM628.1 160.5h4.7v2h-4.7z" fill="#dbb0b0" stroke="none" mask="url(#mD)"/>
<path d="M283.5 161.3h5v2.3h-5zM288.5 160.9h5v2.1h-5zM293.5 161.7h5v2.4h-5zM357 160.8h5.2v2.2h-5.2zM367.3 160.6h5.2v2.3h-5.2zM454.2 160.5h4.9v2.1h-4.9zM464 161.3h4.9v2.6h-4.9zM540.3 160.3h4.5v2.5h-4.5z" fill="#dea8a8" stroke="none" mask="url(#mD)"/>
<path d="M303.6 161.9h5v2.5h-5z" fill="#dfa0a0" stroke="none" mask="url(#mD)"/>
<path d="M657.7 120.6h6.3v2.7h-6.3z" fill="#44e344" stroke="none" fill-opacity="0.92"/>
<path d="M657.7 123.3h6.3v2.7h-6.3z" fill="#52e352" stroke="none" fill-opacity="0.92"/>
<path d="M657.7 126h6.3v2.7h-6.3z" fill="#58e458" stroke="none" fill-opacity="0.92"/>
<path d="M657.7 128.7h6.3v2.7h-6.3z" fill="#68e468" stroke="none" fill-opacity="0.92"/>
<path d="M187.7 136.1h4.9v2.2h-4.9zM237.5 136.4h5.1v2.3h-5.1zM247.8 136h5.1v2.3h-5.1zM412.9 136.5h5.4v2.4h-5.4zM418.3 136.7h5.4v2.4h-5.4zM423.6 136.4h5.4v2.3h-5.4zM429 137.1h6.8v1.6h-6.8z" fill="#8ae28a" stroke="none" fill-opacity="0.92"/>
<path d="M168.2 137.1h4.9v2.1h-4.9zM173.1 137.4h4.9v2.2h-4.9zM178 137.2h4.9v1.9h-4.9zM182.8 137.6h4.9v1.6h-4.9zM187.7 138.3h4.9v2.2h-4.9zM192.6 138h5v2.4h-5zM222.5 138.5h5v1.9h-5zM227.5 138h5v2h-5zM232.5 138.1h5v1.7h-5zM242.6 137.5h5.1v2h-5.1zM247.8 138.2h5.1v2.3h-5.1zM252.9 138.1h5.1v1.9h-5.1zM258 138.1h5.1v2.1h-5.1zM263.1 138.5h5.1v1.9h-5.1zM268.3 138.1h5.1v2.1h-5.1zM372.5 138h5.6v2.3h-5.6zM384.6 138.6h4.4v1.8h-4.4zM402.2 137.5h5.4v1.9h-5.4zM407.6 137.9h5.4v1.8h-5.4zM429 138.7h6.8v1.6h-6.8zM551.8 137.7h5.7v1.9h-5.7zM557.5 138.2h5.7v1.7h-5.7zM603.9 137.3h5v1.8h-5zM608.9 137.9h5v1.6h-5zM613.8 137.5h5v2.1h-5z" fill="#90e190" stroke="none" fill-opacity="0.92"/>
<path d="M168.2 139.2h4.9v2.1h-4.9zM173.1 139.5h4.9v2.2h-4.9zM178 139.1h4.9v1.9h-4.9zM182.8 139.1h4.9v1.6h-4.9zM197.6 139.6h5v1.5h-5zM202.6 138.7h5v2.2h-5zM207.6 138.6h5v2.2h-5zM212.6 139.2h5v1.9h-5zM217.5 139h5v1.8h-5zM222.5 140.3h5v1.9h-5zM227.5 140h5v2h-5zM232.5 139.7h5v1.7h-5zM237.5 138.6h5.1v2.3h-5.1zM242.6 139.5h5.1v2h-5.1zM252.9 140h5.1v1.9h-5.1zM258 140.1h5.1v2.1h-5.1zM263.1 140.3h5.1v1.9h-5.1zM268.3 140.1h5.1v2.1h-5.1zM378.1 139.5h5.6v1.8h-5.6zM384.6 140.3h4.4v1.8h-4.4zM389 139.2h4.4v1.5h-4.4zM393.4 139.5h4.4v1.7h-4.4zM397.8 139.9h4.4v1.5h-4.4zM402.2 139.3h5.4v1.9h-5.4zM407.6 139.7h5.4v1.8h-5.4zM412.9 138.8h5.4v2.4h-5.4zM418.3 139h5.4v2.4h-5.4zM423.6 138.6h5.4v2.3h-5.4zM429 140.3h6.8v1.6h-6.8zM551.8 139.6h5.7v1.9h-5.7zM557.5 139.8h5.7v1.7h-5.7zM563.1 138.8h5.7v1.7h-5.7zM603.9 139.1h5v1.8h-5zM608.9 139.4h5v1.6h-5zM613.8 139.5h5v2.1h-5zM643.9 139.2h5.9v2h-5.9zM649.8 139.1h6v2h-6zM666.6 140.2h6.4v1.4h-6.4z" fill="#97e097" stroke="none" fill-opacity="0.92"/>
<path d="M168.2 141.3h4.9v2.1h-4.9zM173.1 141.7h4.9v2.2h-4.9zM178 140.9h4.9v1.9h-4.9zM182.8 140.6h4.9v1.6h-4.9zM182.8 142.2h4.9v1.6h-4.9zM187.7 140.4h4.9v2.2h-4.9zM192.6 140.3h5v2.4h-5zM197.6 141.1h5v1.5h-5zM202.6 140.8h5v2.2h-5zM207.6 140.8h5v2.2h-5zM212.6 141.1h5v1.9h-5zM217.5 140.7h5v1.8h-5zM232.5 141.3h5v1.7h-5zM237.5 140.9h5.1v2.3h-5.1zM242.6 141.5h5.1v2h-5.1zM247.8 140.4h5.1v2.3h-5.1zM252.9 141.9h5.1v1.9h-5.1zM372.5 140.2h5.6v2.3h-5.6zM378.1 141.2h5.6v1.8h-5.6zM389 140.7h4.4v1.5h-4.4zM393.4 141.1h4.4v1.7h-4.4zM397.8 141.3h4.4v1.5h-4.4zM402.2 141.2h5.4v1.9h-5.4zM407.6 141.5h5.4v1.8h-5.4zM412.9 141.1h5.4v2.4h-5.4zM418.3 141.3h5.4v2.4h-5.4zM423.6 140.9h5.4v2.3h-5.4zM429 141.9h6.8v1.6h-6.8zM551.8 141.4h5.7v1.9h-5.7zM557.5 141.5h5.7v1.7h-5.7zM563.1 140.5h5.7v1.7h-5.7zM563.1 142.1h5.7v1.7h-5.7zM603.9 140.9h5v1.8h-5zM608.9 140.9h5v1.6h-5zM613.8 141.6h5v2.1h-5zM632.8 140.9h5.5v1.9h-5.5zM638.3 140.6h5.6v2.1h-5.6zM643.9 141.2h5.9v2h-5.9zM649.8 141.1h6v2h-6zM666.6 141.5h6.4v1.4h-6.4z" fill="#9de09d" stroke="none" fill-opacity="0.92"/>
<path d="M168.2 143.4h4.9v2.1h-4.9zM178 142.8h4.9v1.9h-4.9zM187.7 142.6h4.9v2.2h-4.9zM192.6 142.6h5v2.4h-5zM197.6 142.6h5v1.5h-5zM202.6 143h5v2.2h-5zM207.6 143h5v2.2h-5zM212.6 143h5v1.9h-5zM217.5 142.5h5v1.8h-5zM222.5 142.2h5v1.9h-5zM227.5 142h5v2h-5zM232.5 142.9h5v1.7h-5zM237.5 143.2h5.1v2.3h-5.1zM242.6 143.4h5.1v2h-5.1zM247.8 142.6h5.1v2.3h-5.1zM258 142.1h5.1v2.1h-5.1zM263.1 142.1h5.1v1.9h-5.1zM268.3 142.1h5.1v2.1h-5.1zM372.5 142.5h5.6v2.3h-5.6zM378.1 143h5.6v1.8h-5.6zM384.6 142.1h4.4v1.8h-4.4zM389 142.2h4.4v1.5h-4.4zM389 143.7h4.4v1.5h-4.4zM393.4 142.7h4.4v1.7h-4.4zM397.8 142.8h4.4v1.5h-4.4zM402.2 143h5.4v1.9h-5.4zM407.6 143.3h5.4v1.8h-5.4zM412.9 143.4h5.4v2.4h-5.4zM423.6 143.1h5.4v2.3h-5.4zM551.8 143.2h5.7v1.9h-5.7zM557.5 143.1h5.7v1.7h-5.7zM563.1 143.8h5.7v1.7h-5.7zM603.9 142.7h5v1.8h-5zM608.9 142.4h5v1.6h-5zM632.8 142.8h5.5v1.9h-5.5zM638.3 142.7h5.6v2.1h-5.6zM643.9 143.2h5.9v2h-5.9zM649.8 143.1h6v2h-6zM666.6 142.9h6.4v1.4h-6.4z" fill="#a4dfa4" stroke="none" fill-opacity="0.92"/>
<path d="M173.1 143.8h4.9v2.2h-4.9zM192.6 145h5v2.4h-5zM197.6 144.1h5v1.5h-5zM202.6 145.1h5v2.2h-5zM207.6 145.1h5v2.2h-5zM212.6 144.9h5v1.9h-5zM217.5 144.2h5v1.8h-5zM222.5 144h5v1.9h-5zM227.5 144h5v2h-5zM252.9 143.8h5.1v1.9h-5.1zM258 144.1h5.1v2.1h-5.1zM263.1 143.9h5.1v1.9h-5.1zM268.3 144.1h5.1v2.1h-5.1zM372.5 144.7h5.6v2.3h-5.6zM378.1 144.7h5.6v1.8h-5.6zM384.6 143.9h4.4v1.8h-4.4zM393.4 144.3h4.4v1.7h-4.4zM397.8 144.2h4.4v1.5h-4.4zM418.3 143.6h5.4v2.4h-5.4zM613.8 143.6h5v2.1h-5zM632.8 144.6h5.5v1.9h-5.5zM638.3 144.7h5.6v2.1h-5.6zM643.9 145.1h5.9v2h-5.9zM649.8 145h6v2h-6zM666.6 144.2h6.4v1.4h-6.4z" fill="#aadeaa" stroke="none" fill-opacity="0.92"/>
<path d="M632.8 146.5h5.5v1.9h-5.5zM638.3 146.8h5.6v2.1h-5.6z" fill="#b1dbb1" stroke="none" fill-opacity="0.92"/>
<path d="M441 148.9h4.4v1.6h-4.4zM449.8 148.7h4.4v1.7h-4.4z" fill="#b9d7b9" stroke="none" fill-opacity="0.92"/>
<path d="M148 149.4h5.1v1.9h-5.1zM153.1 150.2h5v1.5h-5zM158.1 150h5v1.6h-5zM163.1 149.8h5.1v1.7h-5.1zM318 149.8h4.7v1.7h-4.7zM327.4 150.6h4.7v1.6h-4.7zM332.1 150.4h4.7v1.6h-4.7zM336.8 150.1h4.7v1.6h-4.7zM441 150.4h4.4v1.6h-4.4zM445.4 149.4h4.4v1.3h-4.4zM445.4 150.6h4.4v1.3h-4.4zM449.8 150.3h4.4v1.7h-4.4zM488.7 150.4h4.9v1.7h-4.9zM493.6 150.6h4.9v1.3h-4.9zM498.6 149.4h4.9v1.9h-4.9zM503.5 149.5h5v1.8h-5zM508.5 149.9h4.9v1.6h-4.9zM513.4 149.9h5v1.8h-5zM540.3 150h4.5v2h-4.5zM572.2 150.6h5.3v1.6h-5.3zM577.5 150.5h5.3v1.4h-5.3zM582.9 150.2h5.3v1.5h-5.3zM588.2 149.6h5.3v1.8h-5.3z" fill="#c0d4c0" stroke="none" fill-opacity="0.92"/>
<path d="M148 151.2h5.1v1.9h-5.1zM153.1 151.6h5v1.5h-5zM158.1 151.5h5v1.6h-5zM163.1 151.4h5.1v1.7h-5.1zM273.4 152.2h5v1.4h-5zM278.4 151.8h5v1.7h-5zM283.5 152h5v1.8h-5zM293.5 151.9h5v1.9h-5zM303.6 151.7h5v2h-5zM308.6 151h4.7v1.4h-4.7zM308.6 152.3h4.7v1.4h-4.7zM313.3 151.1h4.7v1.4h-4.7zM318 151.5h4.7v1.7h-4.7zM322.7 150.9h4.7v1.6h-4.7zM327.4 152.1h4.7v1.6h-4.7zM332.1 151.9h4.7v1.6h-4.7zM336.8 151.7h4.7v1.6h-4.7zM341.5 151.8h5.2v1.7h-5.2zM346.7 151.9h5.2v1.6h-5.2zM357 151.8h5.2v1.8h-5.2zM367.3 151.5h5.2v1.8h-5.2zM441 151.9h4.4v1.6h-4.4zM445.4 151.8h4.4v1.3h-4.4zM449.8 151.9h4.4v1.7h-4.4zM454.2 152h4.9v1.7h-4.9zM459.1 151.2h4.9v1.6h-4.9zM464 150.7h4.9v2.1h-4.9zM478.8 151.6h4.9v1.6h-4.9zM483.8 151.6h4.9v1.4h-4.9zM488.7 152h4.9v1.7h-4.9zM493.6 151.8h4.9v1.3h-4.9zM498.6 151.2h4.9v1.9h-4.9zM503.5 151.3h5v1.8h-5zM508.5 151.5h4.9v1.6h-4.9zM513.4 151.6h5v1.8h-5zM518.4 150.6h4.9v1.6h-4.9zM518.4 152.2h4.9v1.6h-4.9zM523.3 152.3h5v1.3h-5zM531.4 150.8h4.5v1.6h-4.5zM535.9 151.7h4.5v1.2h-4.5zM540.3 152h4.5v2h-4.5zM544.8 152.5h4.5v1.1h-4.5zM572.2 152.1h5.3v1.6h-5.3zM577.5 151.9h5.3v1.4h-5.3zM582.9 151.6h5.3v1.5h-5.3zM588.2 151.4h5.3v1.8h-5.3zM595.8 151h4v1.5h-4zM599.8 151.6h4.1v1.6h-4.1zM618.8 151.1h4.7v1.5h-4.7zM623.5 152h4.7v1.5h-4.7z" fill="#c6d0c6" stroke="none" fill-opacity="0.92"/>
<path d="M148 153.1h5.1v1.9h-5.1zM153.1 153.1h5v1.5h-5zM158.1 153.1h5v1.6h-5zM163.1 153.1h5.1v1.7h-5.1zM273.4 153.6h5v1.4h-5zM278.4 153.4h5v1.7h-5zM283.5 153.7h5v1.8h-5zM288.5 152.3h5v1.7h-5zM293.5 153.7h5v1.9h-5zM298.5 152.7h5v1.5h-5zM303.6 153.6h5v2h-5zM308.6 153.6h4.7v1.4h-4.7zM313.3 152.4h4.7v1.4h-4.7zM313.3 153.8h4.7v1.4h-4.7zM318 153.1h4.7v1.7h-4.7zM322.7 152.5h4.7v1.6h-4.7zM327.4 153.6h4.7v1.6h-4.7zM332.1 153.4h4.7v1.6h-4.7zM336.8 153.3h4.7v1.6h-4.7zM341.5 153.5h5.2v1.7h-5.2zM346.7 153.5h5.2v1.6h-5.2zM351.8 152.6h5.2v1.4h-5.2zM351.8 154h5.2v1.4h-5.2zM357 153.5h5.2v1.8h-5.2zM362.2 152.7h5.2v1.5h-5.2zM367.3 153.2h5.2v1.8h-5.2zM441 153.4h4.4v1.6h-4.4zM445.4 153h4.4v1.3h-4.4zM449.8 153.6h4.4v1.7h-4.4zM454.2 153.6h4.9v1.7h-4.9zM459.1 152.8h4.9v1.6h-4.9zM464 152.7h4.9v2.1h-4.9zM469 152.8h4.9v1.4h-4.9zM473.9 152.5h4.9v1.5h-4.9zM473.9 153.9h4.9v1.5h-4.9zM478.8 153.2h4.9v1.6h-4.9zM483.8 153h4.9v1.4h-4.9zM488.7 153.6h4.9v1.7h-4.9zM493.6 153.1h4.9v1.3h-4.9zM498.6 153.1h4.9v1.9h-4.9zM503.5 153.1h5v1.8h-5zM508.5 153.1h4.9v1.6h-4.9zM513.4 153.4h5v1.8h-5zM518.4 153.7h4.9v1.6h-4.9zM523.3 153.5h5v1.3h-5zM531.4 152.3h4.5v1.6h-4.5zM531.4 153.9h4.5v1.6h-4.5zM535.9 152.8h4.5v1.2h-4.5zM535.9 153.9h4.5v1.2h-4.5zM544.8 153.6h4.5v1.1h-4.5zM572.2 153.6h5.3v1.6h-5.3zM577.5 153.2h5.3v1.4h-5.3zM582.9 153.1h5.3v1.5h-5.3zM588.2 153.1h5.3v1.8h-5.3zM595.8 152.4h4v1.5h-4zM595.8 153.9h4v1.5h-4zM599.8 153.2h4.1v1.6h-4.1zM618.8 152.6h4.7v1.5h-4.7zM623.5 153.4h4.7v1.5h-4.7zM628.1 152.6h4.7v1.5h-4.7z" fill="#cccccc" stroke="none" fill-opacity="0.92"/>
<path d="M148 154.9h5.1v1.9h-5.1zM153.1 154.5h5v1.5h-5zM158.1 154.6h5v1.6h-5zM163.1 154.7h5.1v1.7h-5.1zM273.4 155h5v1.4h-5zM278.4 155.1h5v1.7h-5zM283.5 155.5h5v1.8h-5zM288.5 153.9h5v1.7h-5zM288.5 155.6h5v1.7h-5zM298.5 154.2h5v1.5h-5zM298.5 155.6h5v1.5h-5zM308.6 154.9h4.7v1.4h-4.7zM313.3 155.1h4.7v1.4h-4.7zM318 154.7h4.7v1.7h-4.7zM322.7 154.1h4.7v1.6h-4.7zM322.7 155.6h4.7v1.6h-4.7zM327.4 155.1h4.7v1.6h-4.7zM332.1 154.9h4.7v1.6h-4.7zM336.8 154.8h4.7v1.6h-4.7zM341.5 155.1h5.2v1.7h-5.2zM346.7 155h5.2v1.6h-5.2zM351.8 155.3h5.2v1.4h-5.2zM357 155.2h5.2v1.8h-5.2zM362.2 154.1h5.2v1.5h-5.2zM362.2 155.6h5.2v1.5h-5.2zM367.3 154.9h5.2v1.8h-5.2zM454.2 155.2h4.9v1.7h-4.9zM459.1 154.4h4.9v1.6h-4.9zM464 154.7h4.9v2.1h-4.9zM469 154.2h4.9v1.4h-4.9zM469 155.6h4.9v1.4h-4.9zM473.9 155.4h4.9v1.5h-4.9zM478.8 154.7h4.9v1.6h-4.9zM483.8 154.3h4.9v1.4h-4.9zM483.8 155.7h4.9v1.4h-4.9zM488.7 155.2h4.9v1.7h-4.9zM493.6 154.3h4.9v1.3h-4.9zM498.6 154.9h4.9v1.9h-4.9zM503.5 154.8h5v1.8h-5zM508.5 154.6h4.9v1.6h-4.9zM513.4 155.1h5v1.8h-5zM518.4 155.3h4.9v1.6h-4.9zM523.3 154.7h5v1.3h-5zM531.4 155.5h4.5v1.6h-4.5zM535.9 155h4.5v1.2h-4.5zM540.3 153.9h4.5v2h-4.5zM544.8 154.7h4.5v1.1h-4.5zM544.8 155.7h4.5v1.1h-4.5zM572.2 155.1h5.3v1.6h-5.3zM577.5 154.5h5.3v1.4h-5.3zM582.9 154.5h5.3v1.5h-5.3zM588.2 154.8h5.3v1.8h-5.3zM595.8 155.3h4v1.5h-4zM599.8 154.7h4.1v1.6h-4.1zM618.8 154.1h4.7v1.5h-4.7zM618.8 155.6h4.7v1.5h-4.7zM623.5 154.9h4.7v1.5h-4.7zM628.1 154.1h4.7v1.5h-4.7zM628.1 155.6h4.7v1.5h-4.7z" fill="#d1c6c6" stroke="none" fill-opacity="0.92"/>
<path d="M273.4 156.3h5v1.4h-5zM278.4 156.7h5v1.7h-5zM288.5 157.2h5v1.7h-5zM293.5 155.6h5v1.9h-5zM298.5 157h5v1.5h-5zM303.6 155.6h5v2h-5zM341.5 156.7h5.2v1.7h-5.2zM346.7 156.6h5.2v1.6h-5.2zM351.8 156.7h5.2v1.4h-5.2zM357 156.9h5.2v1.8h-5.2zM362.2 157h5.2v1.5h-5.2zM367.3 156.7h5.2v1.8h-5.2zM454.2 156.8h4.9v1.7h-4.9zM459.1 156h4.9v1.6h-4.9zM464 156.7h4.9v2.1h-4.9zM469 157h4.9v1.4h-4.9zM473.9 156.8h4.9v1.5h-4.9zM478.8 156.3h4.9v1.6h-4.9zM523.3 156h5v1.3h-5zM540.3 155.9h4.5v2h-4.5zM599.8 156.2h4.1v1.6h-4.1zM623.5 156.4h4.7v1.5h-4.7zM628.1 157.1h4.7v1.5h-4.7z" fill="#d6c0c0" stroke="none" fill-opacity="0.92"/>
<path d="M283.5 157.3h5v1.8h-5zM293.5 157.4h5v1.9h-5zM303.6 157.5h5v2h-5z" fill="#d9b8b8" stroke="none" fill-opacity="0.92"/>
<path d="M153.8 154.6h1.4M158.1 154.9h1.4M148.7 153.1h1.4M159 153h1.4M164.6 154h1.4M160.2 154.9h1.4M148.5 154.2h1.4M163.3 153.8h1.4M155.7 154.1h1.4M162.7 152.8h1.4M148.5 153.2h1.4M147.8 153.2h1.4M150.9 154.4h1.4M147.4 155.2h1.4M151.5 154.4h1.4M147.3 153.1h1.4M159.7 152.9h1.4M152.4 154.9h1.4M156.7 152.7h1.4M154.2 153.2h1.4M158 152.8h1.4M163.8 153.4h1.4M193.9 152.8h1.4M214.1 153.6h1.4M252 154.6h1.4M300.3 152.8h1.4M272.9 154.9h1.4M280.7 154.6h1.4M284.5 153.9h1.4M303.7 154.9h1.4M299 152.7h1.4M292.8 152.8h1.4M273.7 153.3h1.4M276.6 153.4h1.4M276.2 154.6h1.4M303.1 153.9h1.4M290 154.6h1.4M286.8 153.7h1.4M278.7 154.1h1.4M303.9 153.8h1.4M278.1 154.7h1.4M279.6 153.1h1.4M286.4 153.4h1.4M298.1 152.8h1.4M300.2 152.9h1.4M294.6 153.2h1.4M278.4 153.8h1.4M290.7 152.9h1.4M280.6 152.8h1.4M305.8 153.7h1.4M277.3 153.1h1.4M287.7 153.1h1.4M329.5 153.4h1.4M311.2 153.4h1.4M315.6 154.9h1.4M323.3 153.9h1.4M337.4 154.7h1.4M314.8 154.7h1.4M321.8 152.7h1.4M329.4 154.2h1.4M318.8 155.1h1.4M313.9 152.9h1.4M317.8 154.8h1.4M312.1 154.3h1.4M334.8 153.5h1.4M326.1 152.9h1.4M327.9 154.8h1.4M323.2 154.1h1.4M310.8 153.3h1.4M314.1 153.3h1.4M311.4 154h1.4M348.7 154.1h1.4M343.4 152.9h1.4M369 152.8h1.4M370.7 154.5h1.4M348.7 153.9h1.4M368.8 153.8h1.4M364.2 153.7h1.4M348.2 154.5h1.4M361.8 155.2h1.4M345.6 153.2h1.4M348.8 154.4h1.4M343.8 154.8h1.4M368.6 155.1h1.4M365.8 154.6h1.4M366.6 154.6h1.4M346.6 152.9h1.4M359.7 155.1h1.4M359.8 152.7h1.4M366 154.4h1.4M363.5 153.6h1.4M363.2 153.7h1.4M352.3 153.4h1.4M344.5 153.5h1.4M362.5 154.5h1.4M367.8 153.2h1.4M356.1 154.3h1.4M359.1 153h1.4M345.4 154.8h1.4M352.9 152.7h1.4M364.9 154.6h1.4M370.5 154.7h1.4M341.4 153.2h1.4M399.5 154.3h1.4M393.1 153.2h1.4M392.6 154.3h1.4M443.6 154.6h1.4M446.8 152.7h1.4M441.6 152.8h1.4M450.5 153.2h1.4M443.1 153.1h1.4M444.8 154.7h1.4M448.3 153.2h1.4M452.8 153.2h1.4M451.8 154.9h1.4M463 153.9h1.4M453.6 155.1h1.4M464.8 153.8h1.4M462.4 153h1.4M461 155h1.4M461.5 152.9h1.4M465.3 154.6h1.4M467.5 153.8h1.4M455.2 152.7h1.4M461.7 153.5h1.4M476.3 154.6h1.4M457.3 154.6h1.4M466.4 153.4h1.4M472.5 154.1h1.4M477.8 154.7h1.4M469.1 155.1h1.4M460 154.5h1.4M472.2 152.7h1.4M460.8 153.2h1.4M474.9 154.7h1.4M485.6 153.5h1.4M482.9 154.4h1.4M489.7 154h1.4M499.4 154h1.4M498.3 152.9h1.4M496.8 153.4h1.4M523.1 154.8h1.4M520.3 153.9h1.4M507.4 153.2h1.4M511.6 154.6h1.4M509.2 153.2h1.4M489.1 154.4h1.4M518.4 154.5h1.4M501.8 153.8h1.4M513.6 153.2h1.4M494.1 153.2h1.4M488.1 152.8h1.4M500 154.5h1.4M522.7 154.5h1.4M519.7 153.1h1.4M511.3 154.6h1.4M511.8 153.4h1.4M483.1 153.8h1.4M494.6 155.1h1.4M478.4 154.6h1.4M480.6 154.1h1.4M507 153.1h1.4M491.6 155h1.4M509.7 152.8h1.4M523.8 155h1.4M483.1 154.9h1.4M523.2 153h1.4M482.7 154.3h1.4M492.5 153.9h1.4M494.6 153.8h1.4M505.4 154.4h1.4M482.9 153.1h1.4M485.5 152.8h1.4M502.7 154.9h1.4M487.9 153.4h1.4M539.4 154h1.4M540.9 154.1h1.4M546.6 155h1.4M535.1 153.8h1.4M541.8 154.8h1.4M545.3 153.5h1.4M535.1 154h1.4M534.2 153.3h1.4M539.3 154.8h1.4M544.6 154.7h1.4M548 154.8h1.4M545.5 152.9h1.4M539.5 153.7h1.4M542.4 153.4h1.4M531 153.5h1.4M534 153.2h1.4M547.8 153.7h1.4M545.6 154.8h1.4M533.8 154.8h1.4M590.6 154.3h1.4M574.3 155.1h1.4M584.4 154.4h1.4M574.5 153.8h1.4M580.5 153.3h1.4M592 154h1.4M581.2 153.7h1.4M586.6 155h1.4M575.7 154.2h1.4M572.4 154h1.4M583.5 152.9h1.4M592.4 154.2h1.4M574.4 153h1.4M589.2 154.8h1.4M590.4 153.7h1.4M585.1 152.8h1.4M580.9 154.1h1.4M581.5 154.9h1.4M585.8 153.6h1.4M597 155h1.4M595.4 154.7h1.4M602.5 153.6h1.4M601.2 153.4h1.4M599.9 154h1.4M598.3 154.6h1.4M603 153.3h1.4M598 154.6h1.4M605.8 154h1.4M627.2 155.1h1.4M619.9 153.7h1.4M625.4 154.7h1.4M628.8 154h1.4M623.5 152.7h1.4M627.1 154.1h1.4M624.5 154.2h1.4M621.3 154.5h1.4M619.1 154.9h1.4M631 153.5h1.4M621 153.9h1.4M620.6 155.1h1.4M628.5 154.2h1.4M631.3 152.9h1.4M621.3 153.7h1.4M624.2 152.9h1.4M621.4 154.1h1.4M642.8 153h1.4M642.7 153.8h1.4" fill="none" stroke="#cccccc" stroke-width="1.4"/>
<path d="M148.5 150.8h1.4M155.9 151.1h1.4M160 151.2h1.4M156.5 150.2h1.4M162 152.4h1.4M160.4 152h1.4M148.5 152.6h1.4M154.5 150.9h1.4M155.2 150.5h1.4M148.6 151.3h1.4M164.4 151.8h1.4M152.6 151.3h1.4M154 150.6h1.4M154.5 150.3h1.4M191.2 151.1h1.4M169.3 150.5h1.4M169.5 151.7h1.4M209.4 150.6h1.4M196.6 152.1h1.4M243.9 151.8h1.4M266.1 150.9h1.4M258.9 150.4h1.4M306.7 150.3h1.4M298.9 150.6h1.4M277.8 151.5h1.4M304.9 151.8h1.4M306.6 152.2h1.4M291.6 150.8h1.4M280 151.8h1.4M285 151.4h1.4M297.5 150.3h1.4M291.1 152h1.4M304.7 151.9h1.4M299.9 151.9h1.4M283.7 152.1h1.4M296.5 151.4h1.4M300.1 150.6h1.4M305.8 151.5h1.4M291.7 152.3h1.4M273.2 151.6h1.4M317.8 151.7h1.4M337.6 150.8h1.4M329.9 151.4h1.4M326.2 151.5h1.4M309.2 151h1.4M308.1 150.2h1.4M309.2 152.4h1.4M316.3 150.8h1.4M318.1 150.9h1.4M312.7 152.2h1.4M320.3 151.2h1.4M327.7 152.3h1.4M321.8 151.4h1.4M314.5 151.9h1.4M321.1 150.9h1.4M312.8 151h1.4M341.8 150.4h1.4M360.8 151.8h1.4M343.8 150.4h1.4M362.9 150.9h1.4M356.1 151.7h1.4M352.6 150.3h1.4M357.5 152.6h1.4M348.6 152.3h1.4M365.7 150.4h1.4M360.4 151.5h1.4M370.9 150.7h1.4M400.8 151.1h1.4M391 150.5h1.4M395 150.9h1.4M398.3 151.3h1.4M447.8 150.2h1.4M450.5 152h1.4M450 152.5h1.4M446.6 150.4h1.4M441.3 150.8h1.4M467.3 151h1.4M467 152.1h1.4M462.1 152.5h1.4M471.4 152.2h1.4M476.6 151.1h1.4M468.3 152.4h1.4M458.1 151.6h1.4M454.9 150.6h1.4M472.6 151.1h1.4M455 151.1h1.4M506.8 151.1h1.4M513.6 152.5h1.4M484.8 151.9h1.4M523.6 151.1h1.4M491.2 150.4h1.4M498.4 152h1.4M519.8 152.5h1.4M519.1 152h1.4M485.7 151.6h1.4M517.9 152.2h1.4M497 151.9h1.4M488 152.1h1.4M523.9 151.3h1.4M494.4 150.7h1.4M503.4 151.6h1.4M516.2 152.3h1.4M481.9 151.3h1.4M498.8 152.3h1.4M527.5 151.8h1.4M493.6 151.6h1.4M521 151.3h1.4M517.8 150.5h1.4M492.5 152.6h1.4M519.6 152.1h1.4M480.2 151h1.4M489.2 150.9h1.4M491.5 151.7h1.4M507.6 150.3h1.4M510.9 151.6h1.4M483.9 152h1.4M503.2 150.7h1.4M535 151.9h1.4M545.8 150.6h1.4M537 152h1.4M546.9 152h1.4M544.9 151.3h1.4M536.8 151.9h1.4M537.8 151.2h1.4M552.4 151.4h1.4M554.3 150.5h1.4M587.6 150.2h1.4M576.3 151.8h1.4M585.9 152.2h1.4M576.1 152.4h1.4M572.1 150.4h1.4M580.1 152.3h1.4M575 151.3h1.4M579.1 151.9h1.4M590.9 152.2h1.4M581.6 152.1h1.4M586.6 152.3h1.4M575.9 151.4h1.4M597 152.6h1.4M597 152.4h1.4M603 151.8h1.4M601.1 151.2h1.4M604.8 150.4h1.4M611.1 151.1h1.4M620.1 151.7h1.4M623.2 151.2h1.4M621.6 150.6h1.4M631.2 152.1h1.4M630.1 151.2h1.4M630.2 152.6h1.4M623.2 151.2h1.4M627.2 151.3h1.4M633.8 150.5h1.4M650.8 150.8h1.4" fill="none" stroke="#c3d2c3" stroke-width="1.4"/>
<path d="M150.2 155.9h1.4M161 155.5h1.4M165 155.3h1.4M155.1 156.1h1.4M152 155.9h1.4M157.7 155.2h1.4M165 157h1.4M164.7 155.4h1.4M181.7 156.4h1.4M218.1 155.5h1.4M243.8 155.4h1.4M297.2 155.8h1.4M292.2 157.1h1.4M300.5 155.2h1.4M276.5 156.5h1.4M297.1 156.4h1.4M283.9 156.8h1.4M273.4 155.7h1.4M288.1 157.5h1.4M272.7 156.5h1.4M282.7 155.9h1.4M275.5 156.5h1.4M304 155.6h1.4M299.2 155.8h1.4M276.3 156.1h1.4M298.5 155.3h1.4M286.7 156h1.4M292.9 156.7h1.4M285.2 155.2h1.4M287.5 156.2h1.4M289.2 156.3h1.4M302 155.2h1.4M302.6 156.4h1.4M272.8 155.2h1.4M322 155.5h1.4M308.1 156.6h1.4M323.3 156.8h1.4M339.5 156.7h1.4M308.8 157.2h1.4M335.1 156.1h1.4M309.5 156.4h1.4M329.5 155.9h1.4M337.8 157.1h1.4M330.8 156.7h1.4M330.3 155.6h1.4M333 156.8h1.4M335 156.1h1.4M338.1 157.6h1.4M321.5 155.2h1.4M312.9 155.5h1.4M332 156.1h1.4M309.5 155.3h1.4M319.9 156.1h1.4M320.6 156.2h1.4M339 156.2h1.4M309.9 155.7h1.4M331 157.6h1.4M308 156.2h1.4M335.9 155.8h1.4M330.4 155.2h1.4M313.8 156.4h1.4M333.8 156.2h1.4M356.9 156.4h1.4M358.4 157.4h1.4M360.7 157.4h1.4M354.7 157.5h1.4M365.2 155.6h1.4M344.1 157.6h1.4M348.8 156.6h1.4M366.3 155.9h1.4M347.7 156h1.4M346 157.1h1.4M361.5 157.3h1.4M371.1 157.3h1.4M358.5 155.9h1.4M346.4 155.2h1.4M343.3 156.7h1.4M367.8 156.6h1.4M346.6 157h1.4M356.7 155.8h1.4M346.5 155.2h1.4M362.6 156.5h1.4M349.5 156.1h1.4M368.2 156.3h1.4M361.8 156.6h1.4M356.9 156.4h1.4M388.6 156.8h1.4M441.8 156.8h1.4M452 155.5h1.4M442.5 155.4h1.4M441.9 157.6h1.4M441.8 155.8h1.4M449.4 157.3h1.4M454.6 155.9h1.4M460.2 156.9h1.4M477.9 156.1h1.4M457.7 155.6h1.4M455.5 156.7h1.4M459.8 156.2h1.4M457.5 155.4h1.4M463.3 156.8h1.4M468.3 157h1.4M461.5 156.6h1.4M470.2 157.3h1.4M468.2 155.2h1.4M473.5 156.1h1.4M468.3 156.3h1.4M471.7 156h1.4M454.2 156.1h1.4M455 156.6h1.4M476.6 155.4h1.4M457.2 155.3h1.4M459 156.2h1.4M494.9 156.1h1.4M512.2 156.1h1.4M502.9 156h1.4M491.6 157.2h1.4M496 155.6h1.4M497.9 157.3h1.4M510.1 156.4h1.4M501.5 157.3h1.4M524 157.6h1.4M511.8 155.6h1.4M503.9 155.8h1.4M509.6 156h1.4M498.3 156.4h1.4M518.2 156.9h1.4M526.2 157h1.4M515.5 157.4h1.4M479.4 157.2h1.4M520.6 157.1h1.4M488.1 155.7h1.4M504.7 157.3h1.4M480.6 155.8h1.4M504.5 156.4h1.4M520.8 155.5h1.4M517.7 156h1.4M492.6 156.2h1.4M505.8 155.2h1.4M517.7 156.5h1.4M497.5 157.1h1.4M511.7 157.1h1.4M524.1 157.4h1.4M482.5 156.1h1.4M523.9 155.7h1.4M492.9 155.2h1.4M484.6 155.7h1.4M531.3 157.3h1.4M547.5 155.9h1.4M542.9 155.7h1.4M547.9 156.6h1.4M535.2 156.7h1.4M534.9 156.9h1.4M547.6 156.7h1.4M532.3 155.8h1.4M548.4 155.8h1.4M554.6 155.3h1.4M586.4 156.6h1.4M572.3 157.2h1.4M573.9 155.8h1.4M578.6 155.9h1.4M584.9 156.5h1.4M582.4 155.5h1.4M592.5 155.5h1.4M575.6 157.1h1.4M592.2 155.6h1.4M591.7 155.4h1.4M571.8 155.2h1.4M573.7 157h1.4M573.7 155.6h1.4M596.2 155.5h1.4M595.7 156.3h1.4M600.4 155.2h1.4M613.3 155.7h1.4M630.8 157h1.4M627.4 156.1h1.4M621.4 156.2h1.4M619.4 156.6h1.4M619.8 157h1.4M621.5 156.1h1.4M628.3 157.3h1.4M630.7 157.1h1.4M621.1 155.5h1.4" fill="none" stroke="#d4c3c3" stroke-width="1.4"/>
<path d="M151 148.7h1.4M150.4 149.5h1.4M148.9 150h1.4M158.4 149.3h1.4M154.8 149.5h1.4M161 149.6h1.4M149.3 147.8h1.4M158.1 149.4h1.4M172.3 147.8h1.4M188 147.8h1.4M191.2 149.7h1.4M171.1 149.2h1.4M186.3 148h1.4M182.4 147.9h1.4M190.5 149.6h1.4M172.9 148.4h1.4M169.1 148h1.4M187.5 149.4h1.4M184.3 149.3h1.4M198.2 149.8h1.4M214.5 148.8h1.4M220.8 147.9h1.4M222.2 147.8h1.4M214.8 149.5h1.4M204.8 148.2h1.4M196.9 147.6h1.4M205.7 148.4h1.4M214.6 148.7h1.4M194.1 148.7h1.4M232.2 148.6h1.4M258.6 147.9h1.4M238.2 149.3h1.4M240 148.6h1.4M253.3 148.7h1.4M257.6 148.3h1.4M283.6 148.5h1.4M280.2 148.7h1.4M285.5 149.7h1.4M285.7 149.9h1.4M299.5 148.2h1.4M296 149.8h1.4M284.2 149.8h1.4M276.3 149.2h1.4M289.9 147.9h1.4M277 148.8h1.4M286.5 149.3h1.4M301.5 148.4h1.4M319.3 148.7h1.4M327.9 148.4h1.4M328.8 150.1h1.4M308.1 148.2h1.4M331.5 149.5h1.4M323.9 148.7h1.4M333.9 148.9h1.4M365 149.7h1.4M359.3 149h1.4M348.8 149.4h1.4M349.1 149.8h1.4M342.7 148.5h1.4M354.3 149.7h1.4M375.7 148.2h1.4M381 147.6h1.4M377.4 149.2h1.4M393.4 149.1h1.4M386.7 147.8h1.4M385 147.8h1.4M385.7 148.9h1.4M391.6 148.1h1.4M389.4 149.1h1.4M389.3 148.1h1.4M425.2 148.9h1.4M420.7 147.6h1.4M421.5 148.9h1.4M407.9 147.8h1.4M433.7 147.7h1.4M434.8 149.3h1.4M441.8 149.1h1.4M443.3 149.3h1.4M448.1 149.7h1.4M447.6 149.9h1.4M445.5 148.2h1.4M440.5 149.1h1.4M442.8 150h1.4M441.8 149.3h1.4M444.1 148.5h1.4M445.3 149.4h1.4M446.9 149.5h1.4M450.9 149.8h1.4M456.2 148.7h1.4M457.4 147.6h1.4M502.1 149.5h1.4M507.7 150h1.4M495.9 147.8h1.4M484.1 148.2h1.4M485.4 149.7h1.4M512.3 147.8h1.4M514.9 149.7h1.4M518.6 150h1.4M512.5 147.6h1.4M513.3 149.5h1.4M500.1 148.5h1.4M490.9 149.8h1.4M512.1 149.5h1.4M510.6 147.9h1.4M487 148.9h1.4M521.3 148.8h1.4M533.5 149.6h1.4M547.6 149.4h1.4M541.8 150h1.4M532.9 149.1h1.4M565.8 148.3h1.4M561.8 147.7h1.4M564.8 149.3h1.4M555.8 148.4h1.4M563.9 147.9h1.4M562.1 149.2h1.4M577.3 149.9h1.4M588.3 149.2h1.4M589.4 149.6h1.4M588.7 148.3h1.4M579.6 150h1.4M586.2 149.5h1.4M595.4 148.5h1.4M602.6 149.5h1.4M596.4 148.8h1.4M596 148.7h1.4M608.1 147.6h1.4M606.9 148.5h1.4M621.2 148.7h1.4M622.1 149.2h1.4M635.7 148.7h1.4M634.7 149.1h1.4M636.6 149.4h1.4M634.7 148.3h1.4M644.7 149h1.4M650.2 149.8h1.4M644.3 150.1h1.4M646 149.8h1.4M669.9 148.9h1.4M666.4 147.6h1.4M668.9 148.1h1.4" fill="none" stroke="#b9d7b9" stroke-width="1.4"/>
<path d="M159 157.7h1.4M149.9 158.6h1.4M152.9 159.4h1.4M298.8 158.2h1.4M281.1 158.2h1.4M294.9 159.1h1.4M275 159.5h1.4M294.9 159.1h1.4M273.8 158.2h1.4M279.2 158.1h1.4M276.6 158.2h1.4M294.8 159.9h1.4M286.1 158.6h1.4M280.9 159.9h1.4M277.1 158.8h1.4M295 158.2h1.4M277.7 159h1.4M295.3 158.5h1.4M294.9 157.8h1.4M280.1 158.9h1.4M289.2 158.8h1.4M280.7 159.6h1.4M338.5 158.3h1.4M312.5 159.2h1.4M314.4 159.5h1.4M325.4 159.7h1.4M324.1 159.7h1.4M320.2 158.9h1.4M319.9 159h1.4M318.4 158.3h1.4M309.7 159.4h1.4M308.4 159.9h1.4M340.2 157.8h1.4M331.9 159.7h1.4M320 158.1h1.4M327.7 159.6h1.4M334.6 157.8h1.4M327 157.8h1.4M337 157.9h1.4M366.2 157.9h1.4M361.8 159.1h1.4M341.9 158.4h1.4M345.1 159.6h1.4M354.8 158.4h1.4M366.9 159.4h1.4M340.9 158.3h1.4M366.1 158.5h1.4M341.3 158.1h1.4M366.4 158.1h1.4M357.3 158.1h1.4M365.9 157.8h1.4M357.6 157.8h1.4M384.9 159.3h1.4M445.7 158.1h1.4M457.7 158.7h1.4M469.1 158.6h1.4M469.1 158.4h1.4M471.6 157.7h1.4M476.2 157.9h1.4M477.8 158.5h1.4M461.6 158h1.4M466.8 159h1.4M472.6 159.9h1.4M472.5 159.1h1.4M456.7 159.2h1.4M473.2 157.8h1.4M455.1 159.8h1.4M492.1 159.5h1.4M479.1 158.4h1.4M505 158h1.4M498.8 158h1.4M527.5 159.3h1.4M490.7 158.2h1.4M513.4 158h1.4M521.1 158.1h1.4M496.5 158h1.4M501.5 159.8h1.4M480.8 157.8h1.4M492.7 157.9h1.4M524.6 158.6h1.4M502.1 159.5h1.4M486.5 159h1.4M541.1 159.2h1.4M543.4 157.8h1.4M547.2 158h1.4M534.3 159.2h1.4M545.5 157.8h1.4M541.3 159.6h1.4M543 159h1.4M530.8 159.5h1.4M541.5 157.7h1.4M536.7 158.4h1.4M577.4 157.9h1.4M572.8 159.1h1.4M575.7 158.3h1.4M572.8 158.7h1.4M577.1 158.1h1.4M588.8 159.2h1.4M573 158.4h1.4M581.8 158.3h1.4M574.2 157.8h1.4M600.2 159.4h1.4M598.8 158.8h1.4M602 159.7h1.4M627.4 158.2h1.4M621.4 158.3h1.4M620.1 159.7h1.4" fill="none" stroke="#d9b8b8" stroke-width="1.4"/>
<path d="M157.9 146.8h1.4M164 146.5h1.4M175.5 146.7h1.4M179.2 146.2h1.4M171.4 145.2h1.4M185.1 145.6h1.4M171.1 146.7h1.4M195.2 145.3h1.4M217.4 145.7h1.4M194.6 145.2h1.4M192.1 145.5h1.4M196.5 146.1h1.4M233.5 145.9h1.4M216.9 145.1h1.4M232.6 146.1h1.4M225.6 146.5h1.4M205.1 147h1.4M208.7 145.6h1.4M235.2 147h1.4M209.3 146.6h1.4M242.3 147.3h1.4M272.4 147.1h1.4M239.1 145.6h1.4M237 146.4h1.4M237.3 147.3h1.4M252.1 145.6h1.4M255.2 145.5h1.4M240.6 146.6h1.4M272.4 145.9h1.4M259.7 146.6h1.4M244 147.4h1.4M281.9 146.1h1.4M309.8 146h1.4M328.7 146.5h1.4M324.7 146.4h1.4M340.1 147.4h1.4M347.6 146.9h1.4M378.2 147h1.4M374.1 147.3h1.4M375 145.8h1.4M380.6 146.9h1.4M380.6 145.6h1.4M378.6 146.6h1.4M398.7 146.1h1.4M390.2 146.7h1.4M390.1 147h1.4M385.6 147.5h1.4M400.9 146.8h1.4M391.1 145.2h1.4M392.7 145.3h1.4M394 145.7h1.4M386.9 146.7h1.4M421.3 147.5h1.4M405.3 145.6h1.4M406 145.5h1.4M422 146.6h1.4M414.7 147.4h1.4M430.3 145.8h1.4M430.6 145.7h1.4M430.8 145.1h1.4M450.3 147.1h1.4M451.8 146.6h1.4M449.2 147.5h1.4M449.3 146.8h1.4M448.1 145.6h1.4M464 147.2h1.4M463.6 147.3h1.4M520.8 147.5h1.4M488.7 147.3h1.4M491.2 146.5h1.4M563.8 145.7h1.4M560.9 146.8h1.4M564.1 145.6h1.4M560.6 146.1h1.4M563.9 147.5h1.4M564.3 146.2h1.4M562.5 145.9h1.4M576 147.3h1.4M612.2 145.6h1.4M610.9 146.2h1.4M613.9 145.5h1.4M609.3 145.6h1.4M612 146.7h1.4M607.7 145.1h1.4M614.1 145.6h1.4M626.3 146.1h1.4M623.7 147.2h1.4M634.6 145.5h1.4M635 145.5h1.4M641.9 146.2h1.4M642.6 146.3h1.4M632.9 146.6h1.4M638.4 146.5h1.4M639.6 145.2h1.4M634.7 147.2h1.4M651.9 146.6h1.4M644 146.2h1.4M649.1 146.7h1.4M670.5 146.4h1.4M667 146.6h1.4M668.9 145.4h1.4" fill="none" stroke="#aedcae" stroke-width="1.4"/>
<path d="M164.3 161.8h1.4M158.3 162.2h1.4M302.5 161.7h1.4M287.1 160.7h1.4M330.4 161.4h1.4M319 161.4h1.4M324.5 162.1h1.4M329.5 160.5h1.4M328.6 160.7h1.4M353.1 160.5h1.4M342.5 160.3h1.4M459.9 162.4h1.4M476.6 160.8h1.4M453.7 160.6h1.4M467.8 160.8h1.4M461.9 160.7h1.4M457.5 161.7h1.4M492.8 161.3h1.4M486.6 161.5h1.4M500.5 162.1h1.4M500.6 160.8h1.4M516.9 160.8h1.4M507.7 161.2h1.4M542.5 160.5h1.4M595.1 161.7h1.4M599.6 161.5h1.4M630.3 161.9h1.4" fill="none" stroke="#ddacac" stroke-width="1.4"/>
<path d="M191.4 144.5h1.4M178.1 144.3h1.4M180.3 143.8h1.4M189.8 144h1.4M170.5 143.3h1.4M171.3 142.6h1.4M189 144.9h1.4M167.9 142.8h1.4M174 144.4h1.4M168.7 142.7h1.4M204.6 143.4h1.4M202.9 143.8h1.4M193.8 143.1h1.4M225.6 144h1.4M236.1 143.1h1.4M231.9 142.9h1.4M220 144.3h1.4M224.6 142.9h1.4M215.1 144.2h1.4M228.7 142.8h1.4M208.6 144.1h1.4M236.7 145h1.4M224.2 144.1h1.4M235.7 144.1h1.4M214.5 142.6h1.4M193.3 142.8h1.4M196.8 142.7h1.4M221 144.5h1.4M209.3 143h1.4M218.9 143.6h1.4M201.8 144.9h1.4M200.2 144.9h1.4M225.4 144.2h1.4M199.5 142.9h1.4M225.5 144.9h1.4M203.7 143.7h1.4M243.9 143h1.4M263.7 143.3h1.4M267 143.2h1.4M245.7 144.1h1.4M251 144.5h1.4M246 143h1.4M237.2 143.6h1.4M242.7 144.2h1.4M248 144.1h1.4M270.7 143.8h1.4M265 143.5h1.4M244.6 143.7h1.4M258.3 143.8h1.4M251.9 143.9h1.4M263.1 142.6h1.4M267.6 142.9h1.4M265.1 143.6h1.4M269 143.8h1.4M265.4 144.4h1.4M244.9 143.7h1.4M259.2 142.8h1.4M268.1 144h1.4M257 144.1h1.4M270.4 145h1.4M310.8 144.1h1.4M350.7 143h1.4M342.6 144.5h1.4M382.4 144.2h1.4M382.5 142.7h1.4M373.2 143.3h1.4M378 144.5h1.4M373.5 143.9h1.4M376.2 144.9h1.4M393 144.6h1.4M393.2 143.1h1.4M392.9 144h1.4M387.2 143.3h1.4M398.7 144.3h1.4M386 142.9h1.4M385.7 144.9h1.4M397.5 143.8h1.4M391.8 144.9h1.4M388.2 143.5h1.4M392.4 142.9h1.4M401 144.9h1.4M393.3 143.7h1.4M387.3 142.9h1.4M411 144.1h1.4M413.6 142.6h1.4M425.6 144.9h1.4M411.4 144h1.4M424.9 143.6h1.4M415.2 142.6h1.4M416.7 143.1h1.4M409.5 142.8h1.4M412.6 142.7h1.4M424.2 144.8h1.4M402.6 143.4h1.4M424 143.7h1.4M421.6 143.2h1.4M426.4 143.2h1.4M403 145.1h1.4M421.9 142.7h1.4M409.8 143.4h1.4M409.5 144.5h1.4M404.6 143.6h1.4M406.8 143.7h1.4M418.3 145h1.4M408.1 144.4h1.4M406.5 144.7h1.4M411.4 145h1.4M405.7 143.2h1.4M430.2 145h1.4M433.8 143.1h1.4M434.8 142.7h1.4M428.9 144.7h1.4M493.7 144.9h1.4M519.1 145h1.4M536.6 144.8h1.4M541.6 143.1h1.4M553.6 143.9h1.4M564.6 144.9h1.4M563.7 143.1h1.4M552.9 144.6h1.4M567.1 143.6h1.4M562.5 143.1h1.4M576.3 144.1h1.4M606.9 144.7h1.4M607.9 144.9h1.4M603.4 144.1h1.4M604.2 142.8h1.4M607.7 143h1.4M615.9 144.3h1.4M603.3 144.3h1.4M639 144.9h1.4M638.3 143.6h1.4M632.7 144.5h1.4M635.3 145h1.4M639.4 143.3h1.4M639.4 143.6h1.4M639 142.7h1.4M647.4 144.9h1.4M648.4 143.7h1.4M651.2 142.9h1.4M643.4 143.5h1.4M646.4 142.9h1.4M647.2 144.8h1.4M646.3 143.5h1.4M661.5 145h1.4M666.3 142.7h1.4M672.1 143.7h1.4M589.3 144.6h1.4" fill="none" stroke="#a4dfa4" stroke-width="1.4"/>
<path d="M297.3 163h1.4M309.3 164.3h1.4M585.3 164h1.4M574.8 163h1.4M579.3 164h1.4M554.6 164h1.4" fill="none" stroke="#dfa0a0" stroke-width="1.4"/>
<path d="M168.2 141.7h1.4M172.9 142.4h1.4M187.7 141.3h1.4M167.6 140.3h1.4M171.7 142.1h1.4M178.5 141.8h1.4M172.3 141.7h1.4M181.4 140h1.4M184.3 140.5h1.4M170.2 141.8h1.4M179.7 141.8h1.4M173.6 140.6h1.4M177.1 141h1.4M195.1 141.4h1.4M213.2 142.1h1.4M195.9 142h1.4M222.6 142h1.4M197.9 141.1h1.4M213.9 140.1h1.4M221.5 142.4h1.4M213.4 141.5h1.4M198.5 142.3h1.4M232 141.7h1.4M228.7 141.2h1.4M231.7 141.1h1.4M198.2 141h1.4M229.6 142h1.4M224.8 142h1.4M205.3 141.5h1.4M200.5 141.4h1.4M207.3 141.9h1.4M230.6 142.5h1.4M234.7 141h1.4M232.1 142.2h1.4M209.5 142.2h1.4M231.6 141.8h1.4M210.8 142.1h1.4M221.9 141.8h1.4M207.1 141h1.4M222.5 140.1h1.4M235.4 140.8h1.4M201.9 142.1h1.4M233 142h1.4M234.3 141.6h1.4M233.6 140h1.4M248.3 140.9h1.4M268.5 141.6h1.4M262.3 140.8h1.4M257.2 141.5h1.4M270.2 142.2h1.4M267.9 141.7h1.4M258.2 140.5h1.4M261.2 142.4h1.4M249.9 141.7h1.4M270 141.1h1.4M269.3 140.1h1.4M238.3 141.2h1.4M266.9 142.5h1.4M254.4 140.6h1.4M255.1 142.4h1.4M270.9 141.4h1.4M239.2 141.2h1.4M244.3 141.4h1.4M242.6 140.2h1.4M257.8 141.4h1.4M238 141h1.4M241.5 142h1.4M240.6 141.2h1.4M241.6 141.1h1.4M270.6 140.9h1.4M266 141.6h1.4M352.1 142h1.4M378.7 140.8h1.4M375.3 141.2h1.4M371.9 140.1h1.4M376.7 140.5h1.4M380.1 141.8h1.4M382 141.9h1.4M380.4 142.4h1.4M379.9 140.8h1.4M377.4 140.7h1.4M390.2 140.4h1.4M419.3 140.6h1.4M413.4 140.2h1.4M419.3 140.5h1.4M402.6 140.2h1.4M423.9 142h1.4M424.4 140.5h1.4M420.3 142.4h1.4M412.5 140.2h1.4M410.2 141h1.4M411.2 141.1h1.4M428.1 141.4h1.4M404.4 142.4h1.4M413.1 142.2h1.4M426.1 141.9h1.4M411.4 141.6h1.4M416.7 140.5h1.4M433 141.3h1.4M430.6 140.9h1.4M430.3 141.9h1.4M428.5 142.5h1.4M447.5 142.3h1.4M483.6 141.9h1.4M539.7 141.4h1.4M558.8 141.3h1.4M566.5 142.2h1.4M567.7 142.5h1.4M556.4 142.5h1.4M556.6 142.3h1.4M556.5 141.1h1.4M561.8 141.1h1.4M565.2 142.5h1.4M557.1 141.8h1.4M608.7 141.1h1.4M613.5 140.3h1.4M609.8 141.3h1.4M617.1 142h1.4M615.7 141.2h1.4M613.4 141.5h1.4M603.6 140.4h1.4M617.6 142.4h1.4M617.1 140.8h1.4M615.5 142.2h1.4M641.4 141.2h1.4M632.4 140.7h1.4M633.4 141.6h1.4M639.4 140.2h1.4M641.5 141.4h1.4M641 141.1h1.4M639.6 141.1h1.4M645.8 140.8h1.4M648 142.5h1.4M647.6 141.5h1.4M643.9 142h1.4M650.6 141.4h1.4M654.3 140.7h1.4M651.4 142.2h1.4M651.7 140.8h1.4M645.5 140.5h1.4M651.1 141.2h1.4M650.1 140.9h1.4M667.7 141.7h1.4M670.8 142.2h1.4M666.6 140.7h1.4M666.7 141.6h1.4" fill="none" stroke="#9ae09a" stroke-width="1.4"/>
<path d="M275 165.4h1.4M637.8 167.1h1.4" fill="none" stroke="#e19595" stroke-width="1.4"/>
<path d="M189.7 138.1h1.4M185.8 138h1.4M173.4 137.7h1.4M173.6 137.9h1.4M181.2 139h1.4M174.1 139.5h1.4M177.8 138.8h1.4M181 139.3h1.4M186 137.9h1.4M185.4 139.5h1.4M177.4 139.2h1.4M231 138h1.4M199 137.6h1.4M205.8 138h1.4M200.9 138.8h1.4M218.2 139.2h1.4M212.1 139.6h1.4M198.3 140h1.4M233.5 139.3h1.4M204.3 138.7h1.4M199.4 139.7h1.4M208.8 139.5h1.4M194.7 140h1.4M209.8 139h1.4M202.3 138.9h1.4M220.9 139.9h1.4M220.5 139.8h1.4M235 137.7h1.4M235 139h1.4M221.8 137.5h1.4M198.3 138.2h1.4M232.2 139.3h1.4M234.8 138.3h1.4M226.3 138h1.4M193.5 139.3h1.4M227.9 138.9h1.4M248.5 139.2h1.4M240.3 139.5h1.4M255 139h1.4M265.4 138.6h1.4M259.7 138h1.4M247.8 137.9h1.4M250.1 139.2h1.4M240.7 137.5h1.4M251.3 138.9h1.4M255.4 139h1.4M237.6 139.8h1.4M253.8 138.1h1.4M240.1 138h1.4M255 138.6h1.4M263.5 139.9h1.4M240.2 138.8h1.4M237.2 139.3h1.4M251.4 139.8h1.4M375 138h1.4M372.8 139h1.4M381.6 138.3h1.4M380.6 137.7h1.4M386.5 139.8h1.4M394.1 139.8h1.4M384.1 138.9h1.4M391.6 139.2h1.4M399.6 137.6h1.4M390.1 137.6h1.4M405.7 138.9h1.4M423.9 139.9h1.4M406.2 139.6h1.4M411.2 138.3h1.4M404.9 138.9h1.4M409.6 139.3h1.4M410.9 139.1h1.4M413 139.7h1.4M416.1 138h1.4M415.3 138.1h1.4M403.1 139.5h1.4M402.2 139.8h1.4M410.3 140h1.4M431.3 138.5h1.4M431.3 139.8h1.4M432.1 139.8h1.4M430.5 138.7h1.4M557.3 137.6h1.4M562.7 138.4h1.4M553.5 139.5h1.4M554.3 138.6h1.4M567.5 138.7h1.4M561.9 138.8h1.4M552.3 138.1h1.4M564.8 137.7h1.4M559.6 138.1h1.4M614.7 139.4h1.4M608.4 137.7h1.4M614.7 138.7h1.4M607.5 138.4h1.4M617.6 138.1h1.4M604.9 139.5h1.4M637.9 139.8h1.4M639.3 138.9h1.4M644.1 137.9h1.4M651.6 138.8h1.4M653 138h1.4M645.3 140h1.4M648.9 139.1h1.4M671.8 137.5h1.4M672.2 137.6h1.4M669.9 140h1.4M666.5 137.6h1.4M671.2 139h1.4M670.6 139.7h1.4" fill="none" stroke="#90e190" stroke-width="1.4"/>
<path d="M164.5 168.5h1.4M289.2 168.2h1.4M358.1 167.9h1.4M157.3 168.2h1.4" fill="none" stroke="#e38a8a" stroke-width="1.4"/>
<path d="M183.4 135.9h1.4M185.2 135.3h1.4M170.7 136.9h1.4M179.7 136.7h1.4M181.1 137h1.4M169.3 135.6h1.4M186.6 136.2h1.4M191.7 136h1.4M190.3 136.8h1.4M203.4 135.2h1.4M214.5 137.4h1.4M217.5 136.3h1.4M229 136.5h1.4M215.4 135.8h1.4M212.4 135h1.4M201.5 136.1h1.4M224.8 136h1.4M228.8 136h1.4M200.6 135.4h1.4M207.1 136.5h1.4M206.1 135.1h1.4M245.7 136h1.4M259.1 136.9h1.4M241.1 135.7h1.4M241.9 137.3h1.4M267.8 135h1.4M253.3 136.3h1.4M255.5 136.3h1.4M262.8 137.2h1.4M254.5 137.3h1.4M259.6 137.5h1.4M252.7 135.7h1.4M260.2 137.3h1.4M238.9 135.9h1.4M373.1 136.4h1.4M377.8 137.4h1.4M376.1 137.2h1.4M373.6 135.2h1.4M373 135.5h1.4M393.8 136.7h1.4M386.9 135.3h1.4M384 137.1h1.4M388.3 135.6h1.4M391 137.5h1.4M411.6 136.8h1.4M410.1 137.5h1.4M409.1 135.5h1.4M405 135.4h1.4M421.2 135.5h1.4M402.8 135.9h1.4M409 137.5h1.4M427.5 136.4h1.4M403.8 136.3h1.4M424.2 135.1h1.4M423.8 135.2h1.4M433.2 135.8h1.4M432.8 136.6h1.4M552.8 137.3h1.4M558.7 135.9h1.4M562 136.8h1.4M553 137.2h1.4M553.4 137.2h1.4M612.9 135.5h1.4M604.6 135.1h1.4M617.6 137.3h1.4M613.5 136.8h1.4M633.9 136h1.4M653.9 137.3h1.4M646.8 136.3h1.4M654.9 135.7h1.4M654.7 136.6h1.4" fill="none" stroke="#86e286" stroke-width="1.4"/>
<path d="M293.3 170.7h1.4M149.3 170.7h1.4" fill="none" stroke="#e47e7e" stroke-width="1.4"/>
<path d="M190.8 134.7h1.4M190.4 134.2h1.4M170.6 134.9h1.4M173.8 134.9h1.4M176.1 134.4h1.4M186.7 132.5h1.4M170.1 134.1h1.4M184.7 134.5h1.4M203.7 132.7h1.4M235.8 133.8h1.4M213.7 133.2h1.4M203.1 132.5h1.4M220.2 133.2h1.4M214.2 133.3h1.4M234.9 133.6h1.4M270.8 133.9h1.4M261.2 134.7h1.4M240.9 134.7h1.4M395.1 132.5h1.4M411.8 134.5h1.4M418.4 134.7h1.4M407.1 133h1.4M416.2 135h1.4M423.5 133.2h1.4M566.3 134.4h1.4M556.6 132.6h1.4M563.2 133.8h1.4M567.5 134h1.4M560.1 134h1.4M614.1 134.3h1.4M605.9 134.6h1.4M603.5 134h1.4M605.9 134h1.4" fill="none" stroke="#79e379" stroke-width="1.4"/>
<path d="M201.4 132.3h1.4M253.8 132.1h1.4M245.7 132.1h1.4M415 131.6h1.4M671.6 131.2h1.4" fill="none" stroke="#6ce36c" stroke-width="1.4"/>
<path d="M634.3 177.4h1.4M625.3 176.6h1.4" fill="none" stroke="#e46767" stroke-width="1.4"/>
<path d="M175.6 129h1.4M182.7 129.8h1.4M206.1 129.5h1.4M231.6 128.6h1.4M557.3 127.6h1.4M662 129.1h1.4M657.6 128.7h1.4M657.4 128.1h1.4M659 128.9h1.4" fill="none" stroke="#5fe45f" stroke-width="1.4"/>
<path d="M366.7 178.3h1.4" fill="none" stroke="#e45c5c" stroke-width="1.4"/>
<path d="M434.9 126.3h1.4M661 125.6h1.4M662.9 125.8h1.4M660 127.3h1.4" fill="none" stroke="#55e455" stroke-width="1.4"/>
<path d="M657.2 124.4h1.4M660.9 122.7h1.4M658 123.8h1.4M661.5 124.9h1.4" fill="none" stroke="#4be34b" stroke-width="1.4"/>
<path d="M661 120.5h1.4M661.2 120.4h1.4M659.9 120.2h1.4M660.3 120.5h1.4" fill="none" stroke="#41e341" stroke-width="1.4"/>
<path d="M660.4 119.1h1.4M167.3 119.4h1.4" fill="none" stroke="#37e237" stroke-width="1.4"/>
<path d="M657.4 116.7h1.4" fill="none" stroke="#2de22d" stroke-width="1.4"/>
<path d="M346.3 191.7h1.4" fill="none" stroke="#df2727" stroke-width="1.4"/>
<path d="M346.3 212.8h1.4" fill="none" stroke="#d90f0f" stroke-width="1.4"/>
<path d="M346.3 227.5h1.4" fill="none" stroke="#d70a0a" stroke-width="1.4"/>
<path d="M148 153.9H168.2M168.2 141.3H192.6M192.6 142.1H237.5M237.5 141.3H273.4M273.4 154.7H308.6M308.6 153.9H341.5M341.5 154.7H372.5M372.5 142.1H383.7M384.6 143H402.2M402.2 141.7H429M429 140.4H435.8M441 152.2H454.2M454.2 154.7H478.8M478.8 153.9H528.3M531.4 154.7H549.3M551.8 141.3H568.8M572.2 153.9H593.5M595.8 153.9H603.9M603.9 141.3H618.8M618.8 154.7H632.8M632.8 145.5H643.9M643.9 143H655.8M657.7 125.3H664M666.6 143.3H673" fill="none" stroke="#16167a" stroke-width="2"/>
<line x1="148" y1="40.7" x2="673.1" y2="40.7" stroke="#585858" stroke-width="1.6"/>
<line x1="192.9" y1="39.8" x2="192.9" y2="41.6" stroke="#c4c4c4" stroke-width="1"/>
<line x1="237.3" y1="39.8" x2="237.3" y2="41.6" stroke="#c4c4c4" stroke-width="1"/>
<line x1="273.4" y1="39.8" x2="273.4" y2="41.6" stroke="#c4c4c4" stroke-width="1"/>
<line x1="308.3" y1="39.8" x2="308.3" y2="41.6" stroke="#c4c4c4" stroke-width="1"/>
<line x1="341.4" y1="39.8" x2="341.4" y2="41.6" stroke="#c4c4c4" stroke-width="1"/>
<line x1="372.6" y1="39.8" x2="372.6" y2="41.6" stroke="#c4c4c4" stroke-width="1"/>
<line x1="401.6" y1="39.8" x2="401.6" y2="41.6" stroke="#c4c4c4" stroke-width="1"/>
<line x1="428.4" y1="39.8" x2="428.4" y2="41.6" stroke="#c4c4c4" stroke-width="1"/>
<line x1="454.1" y1="39.8" x2="454.1" y2="41.6" stroke="#c4c4c4" stroke-width="1"/>
<line x1="478.9" y1="39.8" x2="478.9" y2="41.6" stroke="#c4c4c4" stroke-width="1"/>
<line x1="503.5" y1="39.8" x2="503.5" y2="41.6" stroke="#c4c4c4" stroke-width="1"/>
<line x1="528" y1="39.8" x2="528" y2="41.6" stroke="#c4c4c4" stroke-width="1"/>
<line x1="549" y1="39.8" x2="549" y2="41.6" stroke="#c4c4c4" stroke-width="1"/>
<line x1="568.6" y1="39.8" x2="568.6" y2="41.6" stroke="#c4c4c4" stroke-width="1"/>
<line x1="587.3" y1="39.8" x2="587.3" y2="41.6" stroke="#c4c4c4" stroke-width="1"/>
<line x1="603.8" y1="39.8" x2="603.8" y2="41.6" stroke="#c4c4c4" stroke-width="1"/>
<line x1="618.6" y1="39.8" x2="618.6" y2="41.6" stroke="#c4c4c4" stroke-width="1"/>
<line x1="632.9" y1="39.8" x2="632.9" y2="41.6" stroke="#c4c4c4" stroke-width="1"/>
<line x1="643.6" y1="39.8" x2="643.6" y2="41.6" stroke="#c4c4c4" stroke-width="1"/>
<line x1="655.1" y1="39.8" x2="655.1" y2="41.6" stroke="#c4c4c4" stroke-width="1"/>
<line x1="663.9" y1="39.8" x2="663.9" y2="41.6" stroke="#c4c4c4" stroke-width="1"/>
<line x1="673.1" y1="40.7" x2="673.1" y2="267" stroke="#ccc" stroke-width="1.4"/>
<line x1="148" y1="40.7" x2="148" y2="267" stroke="#ccc" stroke-width="1.4"/>
<line x1="148" y1="53" x2="148" y2="254.8" stroke="#484848" stroke-width="1.6"/>
<line x1="147.2" y1="267" x2="673.1" y2="267" stroke="#4a4a4a" stroke-width="1.7"/>
<line x1="143" y1="53" x2="148" y2="53" stroke="#444" stroke-width="1.5"/>
<text x="138.6" y="56.2" class="yl">1.2</text>
<line x1="143" y1="86.6" x2="148" y2="86.6" stroke="#444" stroke-width="1.5"/>
<text x="138.6" y="89.8" class="yl">0.8</text>
<line x1="143" y1="120.3" x2="148" y2="120.3" stroke="#444" stroke-width="1.5"/>
<text x="138.6" y="123.5" class="yl">0.4</text>
<line x1="143" y1="153.9" x2="148" y2="153.9" stroke="#444" stroke-width="1.5"/>
<text x="138.6" y="157.1" class="yl">0.0</text>
<line x1="143" y1="187.5" x2="148" y2="187.5" stroke="#444" stroke-width="1.5"/>
<text x="138.6" y="190.7" class="yl">-0.4</text>
<line x1="143" y1="221.2" x2="148" y2="221.2" stroke="#444" stroke-width="1.5"/>
<text x="138.6" y="224.4" class="yl">-0.8</text>
<line x1="143" y1="254.8" x2="148" y2="254.8" stroke="#444" stroke-width="1.5"/>
<text x="138.6" y="258" class="yl">-1.2</text>
<line x1="170.1" y1="267" x2="170.1" y2="271.5" stroke="#444" stroke-width="1.5"/>
<text transform="translate(173.2 276.4) rotate(-90)" class="xl">chr1</text>
<line x1="215.1" y1="267" x2="215.1" y2="271.5" stroke="#444" stroke-width="1.5"/>
<text transform="translate(218.2 276.4) rotate(-90)" class="xl">chr2</text>
<line x1="255.4" y1="267" x2="255.4" y2="271.5" stroke="#444" stroke-width="1.5"/>
<text transform="translate(258.5 276.4) rotate(-90)" class="xl">chr3</text>
<line x1="290.9" y1="267" x2="290.9" y2="271.5" stroke="#444" stroke-width="1.5"/>
<text transform="translate(294 276.4) rotate(-90)" class="xl">chr4</text>
<line x1="324.8" y1="267" x2="324.8" y2="271.5" stroke="#444" stroke-width="1.5"/>
<text transform="translate(327.9 276.4) rotate(-90)" class="xl">chr5</text>
<line x1="357" y1="267" x2="357" y2="271.5" stroke="#444" stroke-width="1.5"/>
<text transform="translate(360.1 276.4) rotate(-90)" class="xl">chr6</text>
<line x1="387.1" y1="267" x2="387.1" y2="271.5" stroke="#444" stroke-width="1.5"/>
<text transform="translate(390.2 276.4) rotate(-90)" class="xl">chr7</text>
<line x1="415" y1="267" x2="415" y2="271.5" stroke="#444" stroke-width="1.5"/>
<text transform="translate(418.1 276.4) rotate(-90)" class="xl">chr8</text>
<line x1="441.2" y1="267" x2="441.2" y2="271.5" stroke="#444" stroke-width="1.5"/>
<text transform="translate(444.3 276.4) rotate(-90)" class="xl">chr9</text>
<line x1="466.5" y1="267" x2="466.5" y2="271.5" stroke="#444" stroke-width="1.5"/>
<text transform="translate(469.6 276.4) rotate(-90)" class="xl">chr10</text>
<line x1="491.2" y1="267" x2="491.2" y2="271.5" stroke="#444" stroke-width="1.5"/>
<text transform="translate(494.3 276.4) rotate(-90)" class="xl">chr11</text>
<line x1="515.7" y1="267" x2="515.7" y2="271.5" stroke="#444" stroke-width="1.5"/>
<text transform="translate(518.8 276.4) rotate(-90)" class="xl">chr12</text>
<line x1="538.5" y1="267" x2="538.5" y2="271.5" stroke="#444" stroke-width="1.5"/>
<text transform="translate(541.6 276.4) rotate(-90)" class="xl">chr13</text>
<line x1="558.8" y1="267" x2="558.8" y2="271.5" stroke="#444" stroke-width="1.5"/>
<text transform="translate(561.9 276.4) rotate(-90)" class="xl">chr14</text>
<line x1="577.9" y1="267" x2="577.9" y2="271.5" stroke="#444" stroke-width="1.5"/>
<text transform="translate(581 276.4) rotate(-90)" class="xl">chr15</text>
<line x1="595.5" y1="267" x2="595.5" y2="271.5" stroke="#444" stroke-width="1.5"/>
<text transform="translate(598.6 276.4) rotate(-90)" class="xl">chr16</text>
<line x1="611.2" y1="267" x2="611.2" y2="271.5" stroke="#444" stroke-width="1.5"/>
<text transform="translate(614.3 276.4) rotate(-90)" class="xl">chr17</text>
<line x1="625.7" y1="267" x2="625.7" y2="271.5" stroke="#444" stroke-width="1.5"/>
<text transform="translate(628.8 276.4) rotate(-90)" class="xl">chr18</text>
<line x1="638.2" y1="267" x2="638.2" y2="271.5" stroke="#444" stroke-width="1.5"/>
<text transform="translate(641.3 276.4) rotate(-90)" class="xl">chr19</text>
<line x1="649.4" y1="267" x2="649.4" y2="271.5" stroke="#444" stroke-width="1.5"/>
<text transform="translate(652.5 276.4) rotate(-90)" class="xl">chr20</text>
<line x1="659.5" y1="267" x2="659.5" y2="271.5" stroke="#444" stroke-width="1.5"/>
<text transform="translate(662.6 276.4) rotate(-90)" class="xl">chr21</text>
<line x1="668.6" y1="267" x2="668.6" y2="271.5" stroke="#444" stroke-width="1.5"/>
<text transform="translate(671.7 276.4) rotate(-90)" class="xl">chr22</text>
<text transform="translate(701.9 23.8) scale(0.965 1)" font-size="29.5">GCT40</text>
<line x1="765.9" y1="41.2" x2="765.9" y2="267.4" class="cb"/>
<line x1="810.3" y1="41.2" x2="810.3" y2="267.4" class="cb"/>
<line x1="846.4" y1="41.2" x2="846.4" y2="267.4" class="cb"/>
<line x1="881.3" y1="41.2" x2="881.3" y2="267.4" class="cb"/>
<line x1="914.3" y1="41.2" x2="914.3" y2="267.4" class="cb"/>
<line x1="945.5" y1="41.2" x2="945.5" y2="267.4" class="cb"/>
<line x1="974.6" y1="41.2" x2="974.6" y2="267.4" class="cb"/>
<line x1="1001.3" y1="41.2" x2="1001.3" y2="267.4" class="cb"/>
<line x1="1027.1" y1="41.2" x2="1027.1" y2="267.4" class="cb"/>
<line x1="1051.8" y1="41.2" x2="1051.8" y2="267.4" class="cb"/>
<line x1="1076.4" y1="41.2" x2="1076.4" y2="267.4" class="cb"/>
<line x1="1100.9" y1="41.2" x2="1100.9" y2="267.4" class="cb"/>
<line x1="1121.9" y1="41.2" x2="1121.9" y2="267.4" class="cb"/>
<line x1="1141.5" y1="41.2" x2="1141.5" y2="267.4" class="cb"/>
<line x1="1160.2" y1="41.2" x2="1160.2" y2="267.4" class="cb"/>
<line x1="1176.7" y1="41.2" x2="1176.7" y2="267.4" class="cb"/>
<line x1="1191.5" y1="41.2" x2="1191.5" y2="267.4" class="cb"/>
<line x1="1205.8" y1="41.2" x2="1205.8" y2="267.4" class="cb"/>
<line x1="1216.6" y1="41.2" x2="1216.6" y2="267.4" class="cb"/>
<line x1="1228.1" y1="41.2" x2="1228.1" y2="267.4" class="cb"/>
<line x1="1236.8" y1="41.2" x2="1236.8" y2="267.4" class="cb"/>
<line x1="1246.2" y1="41.2" x2="1246.2" y2="267.4" class="cb"/>
<line x1="744.4" y1="43.2" x2="744.4" y2="267.4" class="cd"/>
<line x1="782.9" y1="43.2" x2="782.9" y2="267.4" class="cd"/>
<line x1="826.9" y1="43.2" x2="826.9" y2="267.4" class="cd"/>
<line x1="855.6" y1="43.2" x2="855.6" y2="267.4" class="cd"/>
<line x1="890.1" y1="43.2" x2="890.1" y2="267.4" class="cd"/>
<line x1="925.5" y1="43.2" x2="925.5" y2="267.4" class="cd"/>
<line x1="956.5" y1="43.2" x2="956.5" y2="267.4" class="cd"/>
<line x1="982.9" y1="43.2" x2="982.9" y2="267.4" class="cd"/>
<line x1="1010.2" y1="43.2" x2="1010.2" y2="267.4" class="cd"/>
<line x1="1034.4" y1="43.2" x2="1034.4" y2="267.4" class="cd"/>
<line x1="1061.6" y1="43.2" x2="1061.6" y2="267.4" class="cd"/>
<line x1="1083" y1="43.2" x2="1083" y2="267.4" class="cd"/>
<line x1="1104.1" y1="43.2" x2="1104.1" y2="267.4" class="cd"/>
<line x1="1125.1" y1="43.2" x2="1125.1" y2="267.4" class="cd"/>
<line x1="1145" y1="43.2" x2="1145" y2="267.4" class="cd"/>
<line x1="1166.9" y1="43.2" x2="1166.9" y2="267.4" class="cd"/>
<line x1="1181.1" y1="43.2" x2="1181.1" y2="267.4" class="cd"/>
<line x1="1194.6" y1="43.2" x2="1194.6" y2="267.4" class="cd"/>
<line x1="1210.6" y1="43.2" x2="1210.6" y2="267.4" class="cd"/>
<line x1="1221.6" y1="43.2" x2="1221.6" y2="267.4" class="cd"/>
<line x1="1230.5" y1="43.2" x2="1230.5" y2="267.4" class="cd"/>
<line x1="1239.5" y1="43.2" x2="1239.5" y2="267.4" class="cd"/>
<path d="M1077 113.3h7v2.8h-7z" fill="#2ce22c" stroke="none" mask="url(#mS)"/>
<path d="M1052.5 115.5h5.4v2.9h-5.4zM1077 116.1h7v2.8h-7z" fill="#30e230" stroke="none" mask="url(#mS)"/>
<path d="M1052.5 118.3h5.4v2.9h-5.4zM1057.9 119.4h5.4v2.6h-5.4z" fill="#3ee33e" stroke="none" mask="url(#mS)"/>
<path d="M1057.9 121.9h5.4v2.6h-5.4z" fill="#4be34b" stroke="none" mask="url(#mS)"/>
<path d="M790.7 129.4h4.9v2.3h-4.9zM800.6 129.7h4.9v2h-4.9zM836.6 129h5.2v2h-5.2z" fill="#68e468" stroke="none" mask="url(#mS)"/>
<path d="M732 130.9h4.9v2.1h-4.9zM736.9 131h4.9v2.2h-4.9zM766 132h4.9v1.6h-4.9zM770.9 131.4h4.9v1.6h-4.9zM775.9 130.6h4.9v1.9h-4.9zM790.7 131.7h4.9v2.3h-4.9zM795.7 131.3h4.9v2.1h-4.9zM800.6 131.7h4.9v2h-4.9zM815.7 131.2h5.2v2.1h-5.2zM826.1 131.4h5.2v1.8h-5.2zM836.6 131h5.2v2h-5.2zM841.8 130.7h5.2v1.8h-5.2z" fill="#70e370" stroke="none" mask="url(#mS)"/>
<path d="M732 133h4.9v2.1h-4.9zM736.9 133.1h4.9v2.2h-4.9zM766 133.5h4.9v1.6h-4.9zM770.9 133h4.9v1.6h-4.9zM775.9 132.5h4.9v1.9h-4.9zM785.8 132.7h4.9v2h-4.9zM795.7 133.4h4.9v2.1h-4.9zM815.7 133.3h5.2v2.1h-5.2zM820.9 133.3h5.2v1.9h-5.2zM826.1 133.1h5.2v1.8h-5.2zM831.4 132h5.2v1.9h-5.2zM841.8 132.5h5.2v1.8h-5.2zM1223 132.3h5.8v2.4h-5.8z" fill="#79e379" stroke="none" mask="url(#mS)"/>
<path d="M741.7 133.8h4.9v1.7h-4.9zM746.6 134h4.9v1.9h-4.9zM756.3 134.3h4.9v2h-4.9zM761.1 134.6h4.9v2.1h-4.9zM780.8 134.1h4.9v2h-4.9zM785.8 134.7h4.9v2h-4.9zM805.6 134h4.9v1.8h-4.9zM810.5 135.1h5.2v1.5h-5.2zM820.9 135.1h5.2v1.9h-5.2zM831.4 133.8h5.2v1.9h-5.2zM980.7 134.1h5.4v2h-5.4zM986 134.7h5.4v1.9h-5.4zM1223 134.6h5.8v2.4h-5.8z" fill="#81e281" stroke="none" mask="url(#mS)"/>
<path d="M741.7 135.5h4.9v1.7h-4.9zM746.6 135.9h4.9v1.9h-4.9zM756.3 136.3h4.9v2h-4.9zM761.1 136.6h4.9v2.1h-4.9zM780.8 136h4.9v2h-4.9zM805.6 135.8h4.9v1.8h-4.9zM810.5 136.6h5.2v1.5h-5.2zM980.7 136h5.4v2h-5.4zM986 136.6h5.4v1.9h-5.4zM996.7 136.4h5.4v1.6h-5.4zM1027.6 136.7h5v1.9h-5zM1032.6 136.7h5v1.7h-5zM1037.6 135.6h5v2.2h-5zM1217.3 135.7h5.8v1.9h-5.8z" fill="#8ae28a" stroke="none" mask="url(#mS)"/>
<path d="M751.4 137.7h4.9v1.6h-4.9zM847 137.3h4v1.9h-4zM969.2 137.3h6v1.9h-6zM975.3 138.6h5.4v1.6h-5.4zM991.4 137.6h5.4v1.5h-5.4zM996.7 138h5.4v1.6h-5.4zM1027.6 138.5h5v1.9h-5zM1032.6 138.3h5v1.7h-5zM1037.6 137.8h5v2.2h-5zM1047.5 137.4h5v1.9h-5zM1136.5 138.2h5.5v1.9h-5.5zM1217.3 137.5h5.8v1.9h-5.8z" fill="#90e190" stroke="none" mask="url(#mS)"/>
<path d="M751.4 139.2h4.9v1.6h-4.9zM847 139.1h4v1.9h-4zM957.8 139.1h3.9v1.8h-3.9zM963.2 139.5h6v1.9h-6zM969.2 139.2h6v1.9h-6zM975.3 140.2h5.4v1.6h-5.4zM991.4 139h5.4v1.5h-5.4zM1047.5 139.3h5v1.9h-5zM1063.3 140.4h4.6v1.7h-4.6zM1131 139.8h5.5v1.7h-5.5zM1136.5 140h5.5v1.9h-5.5z" fill="#97e097" stroke="none" mask="url(#mS)"/>
<path d="M953.9 141.1h3.9v1.7h-3.9zM957.8 140.9h3.9v1.8h-3.9zM963.2 141.3h6v1.9h-6zM1042.5 141.2h5v1.5h-5zM1067.9 140.7h4.6v1.6h-4.6zM1072.4 141.7h4.6v1.4h-4.6zM1084 141.9h6.4v1.9h-6.4zM1125.5 142h5.5v1.7h-5.5zM1131 141.5h5.5v1.7h-5.5z" fill="#9de09d" stroke="none" mask="url(#mS)"/>
<path d="M953.9 142.7h3.9v1.7h-3.9zM1042.5 142.7h5v1.5h-5zM1063.3 142.1h4.6v1.7h-4.6zM1067.9 142.3h4.6v1.6h-4.6zM1072.4 143.1h4.6v1.4h-4.6zM1096.8 142.8h5.1v1.6h-5.1zM1125.5 143.6h5.5v1.7h-5.5zM1145.2 142.4h5.1v2h-5.1zM1155.4 142.6h5.1v1.9h-5.1zM1186.7 143.1h5.1v1.4h-5.1zM1191.8 142.5h4.7v2.2h-4.7zM1201.1 143.2h4.7v2.1h-4.7z" fill="#a4dfa4" stroke="none" mask="url(#mS)"/>
<path d="M946 144.4h7v1.6h-7zM1084 143.8h6.4v1.9h-6.4zM1091.7 145h5.1v1.5h-5.1zM1096.8 144.4h5.1v1.6h-5.1zM1145.2 144.3h5.1v2h-5.1zM1155.4 144.4h5.1v1.9h-5.1zM1186.7 144.5h5.1v1.4h-5.1zM1191.8 144.6h4.7v2.2h-4.7zM1201.1 145.3h4.7v2.1h-4.7zM1205.8 144.8h5.8v2.3h-5.8z" fill="#aadeaa" stroke="none" mask="url(#mS)"/>
<path d="M920 145.3h5.2v2.2h-5.2zM925.2 146.9h5.2v2h-5.2zM930.4 146.4h5.2v2h-5.2zM946 145.9h7v1.6h-7zM1022.5 146.4h5.1v1.9h-5.1zM1077 146.6h7v2.8h-7zM1091.7 146.5h5.1v1.5h-5.1zM1115.9 146.2h6.4v1.3h-6.4zM1150.3 146.3h5.1v1.4h-5.1zM1171.6 146.8h5.5v1.9h-5.5zM1196.5 146.3h4.7v1.7h-4.7zM1211.5 146.9h5.8v2h-5.8zM1230.4 147.2h7.3v1.4h-7.3zM1240.2 146.8h5.8v1.7h-5.8z" fill="#b1dbb1" stroke="none" mask="url(#mS)"/>
<path d="M882 147.3h4.7v2.1h-4.7zM891.4 148h4.7v1.9h-4.7zM914.8 148.2h5.2v2h-5.2zM920 147.5h5.2v2.2h-5.2zM930.4 148.4h5.2v2h-5.2zM1007.2 147.8h5.1v1.5h-5.1zM1012.3 147.1h5.1v1.9h-5.1zM1017.4 148.1h5.1v1.6h-5.1zM1022.5 148.3h5.1v1.9h-5.1zM1115.9 147.5h6.4v1.3h-6.4zM1150.3 147.7h5.1v1.4h-5.1zM1171.6 148.6h5.5v1.9h-5.5zM1196.5 147.9h4.7v1.7h-4.7zM1205.8 147h5.8v2.3h-5.8zM1230.4 148.5h7.3v1.4h-7.3zM1240.2 148.5h5.8v1.7h-5.8z" fill="#b9d7b9" stroke="none" mask="url(#mS)"/>
<path d="M721 149h5v1.9h-5zM726 149.3h5v2.2h-5zM766 150.3h4.9v1.6h-4.9zM770.9 150.5h4.9v1.6h-4.9zM882 149.4h4.7v2.1h-4.7zM891.4 149.9h4.7v1.9h-4.7zM896.1 149h4.7v1.9h-4.7zM900.7 149.6h4.7v1.6h-4.7zM914.8 150.1h5.2v2h-5.2zM925.2 148.8h5.2v2h-5.2zM935.6 149.6h5.2v1.8h-5.2zM940.8 149.3h5.2v1.9h-5.2zM1007.2 149.3h5.1v1.5h-5.1zM1012.3 149h5.1v1.9h-5.1zM1017.4 149.7h5.1v1.6h-5.1zM1052.5 149.3h5.4v2.9h-5.4zM1057.9 149.7h5.4v2.6h-5.4zM1077 149.4h7v2.8h-7zM1177.1 150.6h3.8v1.5h-3.8zM1180.9 150.2h3.9v1.4h-3.9zM1211.5 148.8h5.8v2h-5.8z" fill="#c0d4c0" stroke="none" mask="url(#mS)"/>
<path d="M721 150.9h5v1.9h-5zM726 151.4h5v2.2h-5zM766 151.8h4.9v1.6h-4.9zM770.9 152.1h4.9v1.6h-4.9zM826.1 151.8h5.2v1.8h-5.2zM841.8 151.5h5.2v1.8h-5.2zM856.2 151.2h5.2v2.3h-5.2zM886.7 152.1h4.7v1.8h-4.7zM896.1 150.9h4.7v1.9h-4.7zM900.7 151.2h4.7v1.6h-4.7zM905.4 150.8h4.7v1.5h-4.7zM905.4 152.2h4.7v1.5h-4.7zM935.6 151.4h5.2v1.8h-5.2zM940.8 151.2h5.2v1.9h-5.2zM1002.1 152.1h5.1v1.3h-5.1zM1110.2 152h5.8v1.9h-5.8zM1166 150.6h5.5v1.7h-5.5zM1177.1 152.1h3.8v1.5h-3.8zM1180.9 151.5h3.9v1.4h-3.9z" fill="#c6d0c6" stroke="none" mask="url(#mS)"/>
<path d="M775.9 153h4.9v1.9h-4.9zM800.6 153.1h4.9v2h-4.9zM810.5 152.6h5.2v1.5h-5.2zM826.1 153.5h5.2v1.8h-5.2zM836.6 152.9h5.2v2h-5.2zM841.8 153.2h5.2v1.8h-5.2zM851 153.2h5.2v2h-5.2zM856.2 153.5h5.2v2.3h-5.2zM861.3 153.8h5.2v1.8h-5.2zM871.7 152.8h5.2v2.1h-5.2zM886.7 153.9h4.7v1.8h-4.7zM910.1 153.5h4.7v1.5h-4.7zM1002.1 153.3h5.1v1.3h-5.1zM1052.5 152.2h5.4v2.9h-5.4zM1057.9 152.3h5.4v2.6h-5.4zM1160.5 152.9h5.5v1.5h-5.5zM1166 152.3h5.5v1.7h-5.5z" fill="#cccccc" stroke="none" mask="url(#mS)"/>
<path d="M741.7 154.2h4.9v1.7h-4.9zM775.9 154.9h4.9v1.9h-4.9zM800.6 155h4.9v2h-4.9zM805.6 155.5h4.9v1.8h-4.9zM810.5 154.1h5.2v1.5h-5.2zM820.9 154.9h5.2v1.9h-5.2zM831.4 154.3h5.2v1.9h-5.2zM836.6 154.9h5.2v2h-5.2zM851 155.2h5.2v2h-5.2zM861.3 155.5h5.2v1.8h-5.2zM866.5 154.3h5.2v1.9h-5.2zM871.7 154.8h5.2v2.1h-5.2zM910.1 154.9h4.7v1.5h-4.7zM991.4 154.7h5.4v1.5h-5.4zM996.7 155.6h5.4v1.6h-5.4zM1104.4 154.1h5.8v1.6h-5.8zM1104.4 155.6h5.8v1.6h-5.8zM1110.2 153.9h5.8v1.9h-5.8zM1160.5 154.4h5.5v1.5h-5.5z" fill="#d1c6c6" stroke="none" mask="url(#mS)"/>
<path d="M732 155.6h4.9v2.1h-4.9zM736.9 156.4h4.9v2.2h-4.9zM741.7 155.9h4.9v1.7h-4.9zM746.6 155.9h4.9v1.9h-4.9zM751.4 156.1h4.9v1.6h-4.9zM785.8 156.2h4.9v2h-4.9zM790.7 156.6h4.9v2.3h-4.9zM795.7 156.4h4.9v2.1h-4.9zM815.7 155.6h5.2v2.1h-5.2zM820.9 156.7h5.2v1.9h-5.2zM831.4 156.1h5.2v1.9h-5.2zM866.5 156.1h5.2v1.9h-5.2zM876.8 156.8h5.2v1.5h-5.2zM975.3 157.1h5.4v1.6h-5.4zM986 156.8h5.4v1.9h-5.4zM991.4 156.2h5.4v1.5h-5.4zM996.7 157.2h5.4v1.6h-5.4zM1032.6 156.2h5v1.7h-5z" fill="#d6c0c0" stroke="none" mask="url(#mS)"/>
<path d="M732 157.7h4.9v2.1h-4.9zM736.9 158.5h4.9v2.2h-4.9zM746.6 157.8h4.9v1.9h-4.9zM751.4 157.6h4.9v1.6h-4.9zM756.3 158.1h4.9v2h-4.9zM761.1 158.8h4.9v2.1h-4.9zM780.8 157.8h4.9v2h-4.9zM785.8 158.2h4.9v2h-4.9zM795.7 158.4h4.9v2.1h-4.9zM805.6 157.3h4.9v1.8h-4.9zM815.7 157.6h5.2v2.1h-5.2zM876.8 158.3h5.2v1.5h-5.2zM975.3 158.7h5.4v1.6h-5.4zM980.7 157.2h5.4v2h-5.4zM986 158.6h5.4v1.9h-5.4zM1027.6 158.5h5v1.9h-5zM1032.6 157.8h5v1.7h-5zM1042.5 159h5v1.5h-5zM1072.4 157.9h4.6v1.4h-4.6zM1217.3 157.5h5.8v1.9h-5.8z" fill="#d9b8b8" stroke="none" mask="url(#mS)"/>
<path d="M756.3 160.1h4.9v2h-4.9zM780.8 159.7h4.9v2h-4.9zM790.7 158.8h4.9v2.3h-4.9zM847 159.1h4v1.9h-4zM957.8 160.4h3.9v1.8h-3.9zM969.2 160.1h6v1.9h-6zM980.7 159.1h5.4v2h-5.4zM1027.6 160.3h5v1.9h-5zM1042.5 160.5h5v1.5h-5zM1047.5 159.4h5v1.9h-5zM1067.9 159.6h4.6v1.6h-4.6zM1072.4 159.3h4.6v1.4h-4.6zM1131 160h5.5v1.7h-5.5zM1136.5 160.1h5.5v1.9h-5.5zM1186.7 159.8h5.1v1.4h-5.1zM1217.3 159.3h5.8v1.9h-5.8zM1223 159.9h5.8v2.4h-5.8z" fill="#dbb0b0" stroke="none" mask="url(#mS)"/>
<path d="M761.1 160.8h4.9v2.1h-4.9zM847 160.9h4v1.9h-4zM953.9 160.8h3.9v1.7h-3.9zM957.8 162.2h3.9v1.8h-3.9zM963.2 161.1h6v1.9h-6zM969.2 161.9h6v1.9h-6zM1037.6 161.8h5v2.2h-5zM1047.5 161.3h5v1.9h-5zM1063.3 160.8h4.6v1.7h-4.6zM1067.9 161.2h4.6v1.6h-4.6zM1091.7 162.4h5.1v1.5h-5.1zM1096.8 161.3h5.1v1.6h-5.1zM1115.9 161.3h6.4v1.3h-6.4zM1125.5 161.9h5.5v1.7h-5.5zM1131 161.7h5.5v1.7h-5.5zM1136.5 161.9h5.5v1.9h-5.5zM1186.7 161.2h5.1v1.4h-5.1z" fill="#dea8a8" stroke="none" mask="url(#mS)"/>
<path d="M946 163h7v1.6h-7zM953.9 162.4h3.9v1.7h-3.9zM963.2 162.9h6v1.9h-6zM1063.3 162.4h4.6v1.7h-4.6zM1091.7 163.8h5.1v1.5h-5.1zM1096.8 162.8h5.1v1.6h-5.1zM1115.9 162.6h6.4v1.3h-6.4zM1125.5 163.6h5.5v1.7h-5.5zM1150.3 162.9h5.1v1.4h-5.1zM1223 162.2h5.8v2.4h-5.8zM1230.4 163.7h7.3v1.4h-7.3z" fill="#dfa0a0" stroke="none" mask="url(#mS)"/>
<path d="M946 164.5h7v1.6h-7zM1007.2 165.8h5.1v1.5h-5.1zM1037.6 164h5v2.2h-5zM1084 164.6h6.4v1.9h-6.4zM1150.3 164.3h5.1v1.4h-5.1zM1155.4 164.2h5.1v1.9h-5.1zM1230.4 165.1h7.3v1.4h-7.3z" fill="#e09999" stroke="none" mask="url(#mS)"/>
<path d="M1002.1 167.4h5.1v1.3h-5.1zM1007.2 167.3h5.1v1.5h-5.1zM1017.4 167.1h5.1v1.6h-5.1zM1084 166.5h6.4v1.9h-6.4zM1145.2 165.8h5.1v2h-5.1zM1155.4 166.1h5.1v1.9h-5.1zM1180.9 166.5h3.9v1.4h-3.9zM1196.5 166.5h4.7v1.7h-4.7zM1240.2 166.5h5.8v1.7h-5.8z" fill="#e29191" stroke="none" mask="url(#mS)"/>
<path d="M856.2 180.4h5.2v2.3h-5.2zM871.7 179h5.2v2.1h-5.2z" fill="#e35454" stroke="none" mask="url(#mS)"/>
<path d="M900.7 168.6h4.7v1.6h-4.7zM905.4 168h4.7v1.5h-4.7zM1002.1 168.7h5.1v1.3h-5.1zM1017.4 168.7h5.1v1.6h-5.1zM1022.5 168.4h5.1v1.9h-5.1zM1145.2 167.7h5.1v2h-5.1zM1171.6 168.7h5.5v1.9h-5.5zM1177.1 168h3.8v1.5h-3.8zM1180.9 167.9h3.9v1.4h-3.9zM1191.8 168.6h4.7v2.2h-4.7zM1196.5 168.2h4.7v1.7h-4.7zM1201.1 168h4.7v2.1h-4.7zM1240.2 168.1h5.8v1.7h-5.8z" fill="#e38a8a" stroke="none" mask="url(#mS)"/>
<path d="M851 178.7h5.2v2h-5.2zM856.2 178.2h5.2v2.3h-5.2zM866.5 177.8h5.2v1.9h-5.2z" fill="#e45c5c" stroke="none" mask="url(#mS)"/>
<path d="M726 176.8h5v2.2h-5zM851 176.7h5.2v2h-5.2zM861.3 176.2h5.2v1.8h-5.2zM866.5 176h5.2v1.9h-5.2zM871.7 177h5.2v2.1h-5.2zM1110.2 175.8h5.8v1.9h-5.8z" fill="#e46464" stroke="none" mask="url(#mS)"/>
<path d="M726 174.7h5v2.2h-5zM861.3 174.5h5.2v1.8h-5.2zM876.8 175.6h5.2v1.5h-5.2zM882 174.6h4.7v2.1h-4.7zM886.7 174.7h4.7v1.8h-4.7z" fill="#e46b6b" stroke="none" mask="url(#mS)"/>
<path d="M721 173.5h5v1.9h-5zM876.8 174.2h5.2v1.5h-5.2zM882 172.5h4.7v2.1h-4.7zM886.7 172.9h4.7v1.8h-4.7zM896.1 173.2h4.7v1.9h-4.7zM914.8 173.2h5.2v2h-5.2zM920 173.3h5.2v2.2h-5.2zM935.6 172.8h5.2v1.8h-5.2zM940.8 173.5h5.2v1.9h-5.2zM1104.4 173.6h5.8v1.6h-5.8zM1110.2 173.9h5.8v1.9h-5.8zM1205.8 173.7h5.8v2.3h-5.8zM1211.5 172.6h5.8v2h-5.8z" fill="#e47373" stroke="none" mask="url(#mS)"/>
<path d="M721 171.7h5v1.9h-5zM891.4 172.2h4.7v1.9h-4.7zM896.1 171.4h4.7v1.9h-4.7zM910.1 170.9h4.7v1.5h-4.7zM910.1 172.4h4.7v1.5h-4.7zM914.8 171.3h5.2v2h-5.2zM920 171.1h5.2v2.2h-5.2zM925.2 171.7h5.2v2h-5.2zM930.4 172h5.2v2h-5.2zM935.6 171h5.2v1.8h-5.2zM940.8 171.7h5.2v1.9h-5.2zM1012.3 171.5h5.1v1.9h-5.1zM1104.4 172.1h5.8v1.6h-5.8zM1160.5 170.8h5.5v1.5h-5.5zM1160.5 172.3h5.5v1.5h-5.5zM1166 172.1h5.5v1.7h-5.5zM1191.8 170.7h4.7v2.2h-4.7zM1205.8 171.5h5.8v2.3h-5.8zM1211.5 170.7h5.8v2h-5.8z" fill="#e47a7a" stroke="none" mask="url(#mS)"/>
<path d="M891.4 170.4h4.7v1.9h-4.7zM900.7 170.1h4.7v1.6h-4.7zM905.4 169.4h4.7v1.5h-4.7zM925.2 169.8h5.2v2h-5.2zM930.4 170h5.2v2h-5.2zM1012.3 169.6h5.1v1.9h-5.1zM1022.5 170.2h5.1v1.9h-5.1zM1166 170.4h5.5v1.7h-5.5zM1171.6 170.5h5.5v1.9h-5.5zM1177.1 169.5h3.8v1.5h-3.8zM1201.1 170.1h4.7v2.1h-4.7z" fill="#e48282" stroke="none" mask="url(#mS)"/>
<path d="M1077 118.9h7v3.9h-7z" fill="#3ee33e" stroke="none" mask="url(#mD)"/>
<path d="M1052.5 121.1h5.4v4h-5.4z" fill="#4be34b" stroke="none" mask="url(#mD)"/>
<path d="M1077 122.8h7v3.9h-7z" fill="#52e352" stroke="none" mask="url(#mD)"/>
<path d="M1052.5 125.1h5.4v4h-5.4zM1057.9 124.4h5.4v3.6h-5.4z" fill="#58e458" stroke="none" mask="url(#mD)"/>
<path d="M1057.9 128h5.4v3.6h-5.4z" fill="#68e468" stroke="none" mask="url(#mD)"/>
<path d="M836.6 133h5.2v2.8h-5.2z" fill="#79e379" stroke="none" mask="url(#mD)"/>
<path d="M766 135h4.9v2.2h-4.9zM770.9 134.6h4.9v2.3h-4.9zM775.9 134.3h4.9v2.7h-4.9zM790.7 133.9h4.9v3.2h-4.9zM800.6 133.6h4.9v2.8h-4.9zM826.1 134.8h5.2v2.4h-5.2zM841.8 134.2h5.2v2.5h-5.2z" fill="#81e281" stroke="none" mask="url(#mD)"/>
<path d="M732 135h4.9v2.9h-4.9zM736.9 135.2h4.9v3h-4.9zM770.9 136.8h4.9v2.3h-4.9zM795.7 135.5h4.9v3h-4.9zM800.6 136.3h4.9v2.8h-4.9zM815.7 135.3h5.2v2.9h-5.2zM831.4 135.7h5.2v2.7h-5.2zM836.6 135.8h5.2v2.8h-5.2zM841.8 136.6h5.2v2.5h-5.2z" fill="#8ae28a" stroke="none" mask="url(#mD)"/>
<path d="M732 137.9h4.9v2.9h-4.9zM741.7 137.2h4.9v2.4h-4.9zM746.6 137.7h4.9v2.6h-4.9zM766 137.2h4.9v2.2h-4.9zM775.9 137h4.9v2.7h-4.9zM780.8 138h4.9v2.8h-4.9zM785.8 136.6h4.9v2.8h-4.9zM790.7 137.1h4.9v3.2h-4.9zM805.6 137.5h4.9v2.6h-4.9zM810.5 138h5.2v2.1h-5.2zM815.7 138.1h5.2v2.9h-5.2zM820.9 136.9h5.2v2.6h-5.2zM826.1 137.2h5.2v2.4h-5.2zM831.4 138.3h5.2v2.7h-5.2zM980.7 138h5.4v2.7h-5.4zM1223 136.9h5.8v3.3h-5.8z" fill="#90e190" stroke="none" mask="url(#mD)"/>
<path d="M736.9 138.2h4.9v3h-4.9zM741.7 139.6h4.9v2.4h-4.9zM756.3 138.3h4.9v2.8h-4.9zM761.1 138.7h4.9v2.9h-4.9zM785.8 139.4h4.9v2.8h-4.9zM795.7 138.4h4.9v3h-4.9zM810.5 140.1h5.2v2.1h-5.2zM820.9 139.4h5.2v2.6h-5.2zM986 138.4h5.4v2.6h-5.4zM996.7 139.6h5.4v2.3h-5.4zM1032.6 139.9h5v2.3h-5zM1077 138.8h7v3.9h-7zM1217.3 139.4h5.8v2.6h-5.8z" fill="#97e097" stroke="none" mask="url(#mD)"/>
<path d="M746.6 140.2h4.9v2.6h-4.9zM751.4 140.8h4.9v2.2h-4.9zM756.3 141.1h4.9v2.8h-4.9zM761.1 141.5h4.9v2.9h-4.9zM780.8 140.8h4.9v2.8h-4.9zM805.6 140.1h4.9v2.6h-4.9zM847 141h4v2.6h-4zM969.2 141.1h6v2.7h-6zM975.3 141.7h5.4v2.2h-5.4zM980.7 140.7h5.4v2.7h-5.4zM986 141h5.4v2.6h-5.4zM991.4 140.5h5.4v2h-5.4zM996.7 141.8h5.4v2.3h-5.4zM1027.6 140.3h5v2.6h-5zM1037.6 140h5v3.1h-5zM1047.5 141.1h5v2.6h-5zM1223 140.1h5.8v3.3h-5.8z" fill="#9de09d" stroke="none" mask="url(#mD)"/>
<path d="M751.4 142.9h4.9v2.2h-4.9zM957.8 142.6h3.9v2.5h-3.9zM963.2 143.1h6v2.6h-6zM991.4 142.5h5.4v2h-5.4zM1027.6 142.9h5v2.6h-5zM1032.6 142.2h5v2.3h-5zM1037.6 143.1h5v3.1h-5zM1052.5 141.4h5.4v4h-5.4zM1057.9 142.6h5.4v3.6h-5.4zM1131 143.2h5.5v2.4h-5.5zM1136.5 141.8h5.5v2.6h-5.5zM1217.3 141.9h5.8v2.6h-5.8z" fill="#a4dfa4" stroke="none" mask="url(#mD)"/>
<path d="M847 143.5h4v2.6h-4zM953.9 144.3h3.9v2.3h-3.9zM969.2 143.8h6v2.7h-6zM975.3 143.9h5.4v2.2h-5.4zM1042.5 144.2h5v2.1h-5zM1047.5 143.7h5v2.6h-5zM1063.3 143.8h4.6v2.4h-4.6zM1067.9 143.8h4.6v2.3h-4.6zM1072.4 144.4h4.6v1.9h-4.6zM1077 142.7h7v3.9h-7zM1136.5 144.4h5.5v2.6h-5.5z" fill="#aadeaa" stroke="none" mask="url(#mD)"/>
<path d="M766 146h4.9v2.2h-4.9zM770.9 146.1h4.9v2.3h-4.9zM841.8 146.7h5.2v2.5h-5.2zM953.9 146.6h3.9v2.3h-3.9zM957.8 145.1h3.9v2.5h-3.9zM963.2 145.6h6v2.6h-6zM1042.5 146.3h5v2.1h-5zM1052.5 145.4h5.4v4h-5.4zM1057.9 146.2h5.4v3.6h-5.4zM1063.3 146.2h4.6v2.4h-4.6zM1067.9 146h4.6v2.3h-4.6zM1072.4 146.3h4.6v1.9h-4.6zM1084 145.7h6.4v2.7h-6.4zM1096.8 145.9h5.1v2.2h-5.1zM1125.5 145.3h5.5v2.4h-5.5zM1131 145.6h5.5v2.4h-5.5zM1145.2 146.3h5.1v2.8h-5.1zM1155.4 146.2h5.1v2.6h-5.1zM1186.7 145.9h5.1v2h-5.1z" fill="#b1dbb1" stroke="none" mask="url(#mD)"/>
<path d="M766 148.2h4.9v2.2h-4.9zM770.9 148.3h4.9v2.3h-4.9zM775.9 147.8h4.9v2.7h-4.9zM800.6 147.6h4.9v2.8h-4.9zM810.5 148.5h5.2v2.1h-5.2zM826.1 147h5.2v2.4h-5.2zM836.6 147.4h5.2v2.8h-5.2zM946 147.5h7v2.2h-7zM1084 148.4h6.4v2.7h-6.4zM1091.7 147.9h5.1v2.1h-5.1zM1096.8 148.1h5.1v2.2h-5.1zM1115.9 148.8h6.4v1.8h-6.4zM1125.5 147.6h5.5v2.4h-5.5zM1186.7 147.8h5.1v2h-5.1zM1191.8 146.8h4.7v3.1h-4.7zM1201.1 147.3h4.7v2.9h-4.7z" fill="#b9d7b9" stroke="none" mask="url(#mD)"/>
<path d="M732 149.8h4.9v2.9h-4.9zM741.7 149.4h4.9v2.4h-4.9zM815.7 149.9h5.2v2.9h-5.2zM820.9 149.9h5.2v2.6h-5.2zM826.1 149.4h5.2v2.4h-5.2zM831.4 149.1h5.2v2.7h-5.2zM841.8 149.1h5.2v2.5h-5.2zM920 149.6h5.2v3.1h-5.2zM946 149.7h7v2.2h-7zM1022.5 150.1h5.1v2.6h-5.1zM1091.7 150h5.1v2.1h-5.1zM1145.2 149h5.1v2.8h-5.1zM1150.3 149.1h5.1v2h-5.1zM1155.4 148.7h5.1v2.6h-5.1zM1196.5 149.6h4.7v2.4h-4.7zM1205.8 149.3h5.8v3.2h-5.8zM1230.4 149.9h7.3v2h-7.3zM1240.2 150.1h5.8v2.3h-5.8z" fill="#c0d4c0" stroke="none" mask="url(#mD)"/>
<path d="M736.9 150.5h4.9v3h-4.9zM741.7 151.8h4.9v2.4h-4.9zM746.6 150.8h4.9v2.6h-4.9zM751.4 151.8h4.9v2.2h-4.9zM775.9 150.4h4.9v2.7h-4.9zM785.8 150.7h4.9v2.8h-4.9zM790.7 150.2h4.9v3.2h-4.9zM795.7 150.5h4.9v3h-4.9zM800.6 150.3h4.9v2.8h-4.9zM805.6 150.4h4.9v2.6h-4.9zM810.5 150.6h5.2v2.1h-5.2zM831.4 151.7h5.2v2.7h-5.2zM836.6 150.2h5.2v2.8h-5.2zM882 151.5h4.7v3h-4.7zM891.4 151.7h4.7v2.7h-4.7zM925.2 150.7h5.2v2.7h-5.2zM930.4 150.4h5.2v2.8h-5.2zM986 151.6h5.4v2.6h-5.4zM991.4 150.7h5.4v2h-5.4zM996.7 151.1h5.4v2.3h-5.4zM1007.2 150.8h5.1v2.1h-5.1zM1012.3 150.8h5.1v2.7h-5.1zM1017.4 151.3h5.1v2.3h-5.1zM1032.6 151.6h5v2.3h-5zM1115.9 150.5h6.4v1.8h-6.4zM1150.3 151h5.1v2h-5.1zM1171.6 150.4h5.5v2.6h-5.5zM1191.8 149.9h4.7v3.1h-4.7zM1201.1 150.2h4.7v2.9h-4.7zM1211.5 150.8h5.8v2.8h-5.8zM1230.4 151.8h7.3v2h-7.3z" fill="#c6d0c6" stroke="none" mask="url(#mD)"/>
<path d="M721 152.8h5v2.7h-5zM732 152.7h4.9v2.9h-4.9zM746.6 153.4h4.9v2.6h-4.9zM756.3 152.5h4.9v2.8h-4.9zM761.1 153.1h4.9v2.9h-4.9zM780.8 152.2h4.9v2.8h-4.9zM805.6 153h4.9v2.6h-4.9zM815.7 152.8h5.2v2.9h-5.2zM820.9 152.4h5.2v2.6h-5.2zM896.1 152.7h4.7v2.7h-4.7zM900.7 152.7h4.7v2.3h-4.7zM905.4 153.7h4.7v2.1h-4.7zM914.8 152h5.2v2.8h-5.2zM920 152.6h5.2v3.1h-5.2zM925.2 153.4h5.2v2.7h-5.2zM930.4 153.1h5.2v2.8h-5.2zM935.6 153.2h5.2v2.6h-5.2zM940.8 153h5.2v2.7h-5.2zM975.3 152.8h5.4v2.2h-5.4zM980.7 151.8h5.4v2.7h-5.4zM991.4 152.7h5.4v2h-5.4zM996.7 153.4h5.4v2.3h-5.4zM1007.2 152.9h5.1v2.1h-5.1zM1017.4 153.5h5.1v2.3h-5.1zM1022.5 152.6h5.1v2.6h-5.1zM1027.6 153.4h5v2.6h-5zM1171.6 153h5.5v2.6h-5.5zM1177.1 153.5h3.8v2.1h-3.8zM1180.9 152.9h3.9v2h-3.9zM1196.5 152h4.7v2.4h-4.7zM1205.8 152.4h5.8v3.2h-5.8zM1217.3 152.4h5.8v2.6h-5.8zM1240.2 152.4h5.8v2.3h-5.8z" fill="#cccccc" stroke="none" mask="url(#mD)"/>
<path d="M726 153.5h5v3h-5zM736.9 153.4h4.9v3h-4.9zM751.4 153.9h4.9v2.2h-4.9zM780.8 155h4.9v2.8h-4.9zM785.8 153.5h4.9v2.8h-4.9zM790.7 153.4h4.9v3.2h-4.9zM795.7 153.4h4.9v3h-4.9zM847 154h4v2.6h-4zM882 154.5h4.7v3h-4.7zM891.4 154.3h4.7v2.7h-4.7zM900.7 155h4.7v2.3h-4.7zM914.8 154.7h5.2v2.8h-5.2zM969.2 154.8h6v2.7h-6zM975.3 155h5.4v2.2h-5.4zM980.7 154.5h5.4v2.7h-5.4zM986 154.2h5.4v2.6h-5.4zM1002.1 154.6h5.1v1.8h-5.1zM1012.3 153.5h5.1v2.7h-5.1zM1032.6 153.9h5v2.3h-5zM1042.5 154.9h5v2.1h-5zM1047.5 154.3h5v2.6h-5zM1067.9 155.2h4.6v2.3h-4.6zM1072.4 154.1h4.6v1.9h-4.6zM1136.5 155h5.5v2.6h-5.5zM1166 153.9h5.5v2.4h-5.5zM1180.9 154.8h3.9v2h-3.9zM1211.5 153.6h5.8v2.8h-5.8zM1217.3 155h5.8v2.6h-5.8zM1223 153.5h5.8v3.3h-5.8z" fill="#d1c6c6" stroke="none" mask="url(#mD)"/>
<path d="M721 155.4h5v2.7h-5zM726 156.5h5v3h-5zM756.3 155.3h4.9v2.8h-4.9zM761.1 155.9h4.9v2.9h-4.9zM847 156.6h4v2.6h-4zM856.2 155.7h5.2v3.2h-5.2zM886.7 155.6h4.7v2.5h-4.7zM896.1 155.3h4.7v2.7h-4.7zM905.4 155.7h4.7v2.1h-4.7zM910.1 156.4h4.7v2.1h-4.7zM935.6 155.7h5.2v2.6h-5.2zM940.8 155.7h5.2v2.7h-5.2zM953.9 156.2h3.9v2.3h-3.9zM957.8 155.4h3.9v2.5h-3.9zM963.2 156h6v2.6h-6zM1002.1 156.4h5.1v1.8h-5.1zM1027.6 156h5v2.6h-5zM1037.6 155.7h5v3.1h-5zM1042.5 156.9h5v2.1h-5zM1063.3 156h4.6v2.4h-4.6zM1072.4 156h4.6v1.9h-4.6zM1096.8 157h5.1v2.2h-5.1zM1110.2 155.7h5.8v2.6h-5.8zM1131 155.3h5.5v2.4h-5.5zM1160.5 155.9h5.5v2.1h-5.5zM1166 156.2h5.5v2.4h-5.5zM1177.1 155.5h3.8v2.1h-3.8zM1186.7 155.9h5.1v2h-5.1z" fill="#d6c0c0" stroke="none" mask="url(#mD)"/>
<path d="M851 157.1h5.2v2.8h-5.2zM861.3 157.2h5.2v2.5h-5.2zM866.5 157.9h5.2v2.6h-5.2zM871.7 156.8h5.2v2.9h-5.2zM886.7 158h4.7v2.5h-4.7zM910.1 158.4h4.7v2.1h-4.7zM946 158.6h7v2.2h-7zM953.9 158.5h3.9v2.3h-3.9zM957.8 157.9h3.9v2.5h-3.9zM969.2 157.4h6v2.7h-6zM1047.5 156.9h5v2.6h-5zM1063.3 158.4h4.6v2.4h-4.6zM1067.9 157.4h4.6v2.3h-4.6zM1091.7 158.3h5.1v2.1h-5.1zM1104.4 157.1h5.8v2.2h-5.8zM1110.2 158.2h5.8v2.6h-5.8zM1115.9 157.8h6.4v1.8h-6.4zM1125.5 157.3h5.5v2.4h-5.5zM1131 157.7h5.5v2.4h-5.5zM1136.5 157.5h5.5v2.6h-5.5zM1160.5 158h5.5v2.1h-5.5zM1186.7 157.9h5.1v2h-5.1zM1223 156.7h5.8v3.3h-5.8z" fill="#d9b8b8" stroke="none" mask="url(#mD)"/>
<path d="M851 159.9h5.2v2.8h-5.2zM856.2 158.8h5.2v3.2h-5.2zM861.3 159.6h5.2v2.5h-5.2zM871.7 159.7h5.2v2.9h-5.2zM876.8 159.7h5.2v2.1h-5.2zM963.2 158.6h6v2.6h-6zM1037.6 158.8h5v3.1h-5zM1084 159.3h6.4v2.7h-6.4zM1091.7 160.4h5.1v2.1h-5.1zM1096.8 159.2h5.1v2.2h-5.1zM1104.4 159.2h5.8v2.2h-5.8zM1115.9 159.6h6.4v1.8h-6.4zM1125.5 159.6h5.5v2.4h-5.5zM1150.3 159h5.1v2h-5.1zM1155.4 159.2h5.1v2.6h-5.1zM1230.4 159.8h7.3v2h-7.3z" fill="#dbb0b0" stroke="none" mask="url(#mD)"/>
<path d="M866.5 160.4h5.2v2.6h-5.2zM876.8 161.7h5.2v2.1h-5.2zM946 160.8h7v2.2h-7zM1007.2 161.6h5.1v2.1h-5.1zM1145.2 160.3h5.1v2.8h-5.1zM1150.3 161h5.1v2h-5.1zM1155.4 161.7h5.1v2.6h-5.1zM1196.5 161.8h4.7v2.4h-4.7zM1230.4 161.8h7.3v2h-7.3zM1240.2 161.9h5.8v2.3h-5.8z" fill="#dea8a8" stroke="none" mask="url(#mD)"/>
<path d="M1002.1 163.8h5.1v1.8h-5.1zM1007.2 163.7h5.1v2.1h-5.1zM1017.4 162.7h5.1v2.3h-5.1zM1022.5 163.2h5.1v2.6h-5.1zM1084 162h6.4v2.7h-6.4zM1145.2 163h5.1v2.8h-5.1zM1180.9 162.7h3.9v2h-3.9zM1191.8 162.5h4.7v3.1h-4.7zM1201.1 162.2h4.7v2.9h-4.7z" fill="#dfa0a0" stroke="none" mask="url(#mD)"/>
<path d="M891.4 165.1h4.7v2.7h-4.7zM900.7 164.1h4.7v2.3h-4.7zM905.4 164h4.7v2.1h-4.7zM925.2 164.5h5.2v2.7h-5.2zM930.4 164.5h5.2v2.8h-5.2zM1002.1 165.6h5.1v1.8h-5.1zM1012.3 164.3h5.1v2.7h-5.1zM1017.4 164.9h5.1v2.3h-5.1zM1171.6 163.6h5.5v2.6h-5.5zM1177.1 164h3.8v2.1h-3.8zM1180.9 164.6h3.9v2h-3.9zM1196.5 164.2h4.7v2.4h-4.7zM1211.5 165.1h5.8v2.8h-5.8zM1240.2 164.2h5.8v2.3h-5.8z" fill="#e09999" stroke="none" mask="url(#mD)"/>
<path d="M721 166.4h5v2.7h-5zM882 166.6h4.7v3h-4.7zM896.1 166.1h4.7v2.7h-4.7zM900.7 166.3h4.7v2.3h-4.7zM905.4 166h4.7v2.1h-4.7zM910.1 166.8h4.7v2.1h-4.7zM914.8 165.9h5.2v2.8h-5.2zM920 165.1h5.2v3.1h-5.2zM935.6 166h5.2v2.6h-5.2zM940.8 166.5h5.2v2.7h-5.2zM1022.5 165.8h5.1v2.6h-5.1zM1160.5 166.7h5.5v2.1h-5.5zM1166 165.8h5.5v2.4h-5.5zM1171.6 166.2h5.5v2.6h-5.5zM1177.1 166h3.8v2.1h-3.8zM1191.8 165.5h4.7v3.1h-4.7zM1201.1 165.1h4.7v2.9h-4.7zM1205.8 165.3h5.8v3.2h-5.8z" fill="#e29191" stroke="none" mask="url(#mD)"/>
<path d="M886.7 168.1h4.7v2.5h-4.7zM891.4 167.8h4.7v2.7h-4.7zM920 168.1h5.2v3.1h-5.2zM925.2 167.2h5.2v2.7h-5.2zM930.4 167.3h5.2v2.8h-5.2zM935.6 168.5h5.2v2.6h-5.2zM1012.3 167h5.1v2.7h-5.1zM1104.4 167.9h5.8v2.2h-5.8zM1160.5 168.7h5.5v2.1h-5.5zM1166 168.1h5.5v2.4h-5.5zM1211.5 167.9h5.8v2.8h-5.8z" fill="#e38a8a" stroke="none" mask="url(#mD)"/>
<path d="M851 174h5.2v2.8h-5.2zM856.2 175h5.2v3.2h-5.2zM871.7 174.2h5.2v2.9h-5.2z" fill="#e46b6b" stroke="none" mask="url(#mD)"/>
<path d="M856.2 171.9h5.2v3.2h-5.2zM861.3 172.1h5.2v2.5h-5.2zM866.5 173.4h5.2v2.6h-5.2z" fill="#e47373" stroke="none" mask="url(#mD)"/>
<path d="M726 171.8h5v3h-5zM851 171.2h5.2v2.8h-5.2zM866.5 170.9h5.2v2.6h-5.2zM871.7 171.4h5.2v2.9h-5.2zM876.8 172.1h5.2v2.1h-5.2zM886.7 170.5h4.7v2.5h-4.7zM1110.2 171.4h5.8v2.6h-5.8z" fill="#e47a7a" stroke="none" mask="url(#mD)"/>
<path d="M721 169h5v2.7h-5zM726 168.8h5v3h-5zM861.3 169.6h5.2v2.5h-5.2zM876.8 170.1h5.2v2.1h-5.2zM882 169.6h4.7v3h-4.7zM896.1 168.7h4.7v2.7h-4.7zM910.1 168.9h4.7v2.1h-4.7zM914.8 168.6h5.2v2.8h-5.2zM940.8 169.1h5.2v2.7h-5.2zM1104.4 170h5.8v2.2h-5.8zM1110.2 168.8h5.8v2.6h-5.8zM1205.8 168.4h5.8v3.2h-5.8z" fill="#e48282" stroke="none" mask="url(#mD)"/>
<path d="M1077 126.6h7v3.1h-7z" fill="#5fe45f" stroke="none" fill-opacity="0.92"/>
<path d="M1052.5 129h5.4v3.2h-5.4z" fill="#68e468" stroke="none" fill-opacity="0.92"/>
<path d="M1077 129.7h7v3.1h-7z" fill="#70e370" stroke="none" fill-opacity="0.92"/>
<path d="M1052.5 132.1h5.4v3.2h-5.4zM1057.9 131.5h5.4v2.8h-5.4zM1077 132.7h7v3.1h-7z" fill="#79e379" stroke="none" fill-opacity="0.92"/>
<path d="M1057.9 134.3h5.4v2.8h-5.4z" fill="#81e281" stroke="none" fill-opacity="0.92"/>
<path d="M1052.5 135.2h5.4v3.2h-5.4zM1077 135.8h7v3.1h-7z" fill="#8ae28a" stroke="none" fill-opacity="0.92"/>
<path d="M1057.9 137.1h5.4v2.8h-5.4z" fill="#90e190" stroke="none" fill-opacity="0.92"/>
<path d="M766 139.3h4.9v1.7h-4.9zM770.9 139h4.9v1.8h-4.9zM775.9 139.6h4.9v2.1h-4.9zM800.6 139.1h4.9v2.2h-4.9zM826.1 139.6h5.2v1.9h-5.2zM836.6 138.6h5.2v2.2h-5.2zM841.8 139.1h5.2v2h-5.2zM1052.5 138.3h5.4v3.2h-5.4zM1057.9 139.9h5.4v2.8h-5.4z" fill="#97e097" stroke="none" fill-opacity="0.92"/>
<path d="M732 140.8h4.9v2.3h-4.9zM736.9 141.2h4.9v2.4h-4.9zM741.7 141.9h4.9v1.9h-4.9zM766 141h4.9v1.7h-4.9zM770.9 140.8h4.9v1.8h-4.9zM775.9 141.6h4.9v2.1h-4.9zM790.7 140.3h4.9v2.5h-4.9zM795.7 141.3h4.9v2.3h-4.9zM800.6 141.2h4.9v2.2h-4.9zM810.5 142.1h5.2v1.7h-5.2zM815.7 141h5.2v2.3h-5.2zM820.9 141.9h5.2v2h-5.2zM826.1 141.4h5.2v1.9h-5.2zM831.4 140.9h5.2v2.1h-5.2zM836.6 140.8h5.2v2.2h-5.2zM841.8 141h5.2v2h-5.2z" fill="#9de09d" stroke="none" fill-opacity="0.92"/>
<path d="M732 143h4.9v2.3h-4.9zM736.9 143.5h4.9v2.4h-4.9zM746.6 142.8h4.9v2.1h-4.9zM766 142.7h4.9v1.7h-4.9zM770.9 142.5h4.9v1.8h-4.9zM780.8 143.5h4.9v2.2h-4.9zM785.8 142.1h4.9v2.2h-4.9zM790.7 142.8h4.9v2.5h-4.9zM800.6 143.3h4.9v2.2h-4.9zM805.6 142.6h4.9v2h-4.9zM810.5 143.7h5.2v1.7h-5.2zM815.7 143.2h5.2v2.3h-5.2zM826.1 143.3h5.2v1.9h-5.2zM831.4 142.9h5.2v2.1h-5.2zM836.6 143h5.2v2.2h-5.2zM841.8 142.9h5.2v2h-5.2zM980.7 143.4h5.4v2.2h-5.4zM986 143.6h5.4v2.1h-5.4zM1223 143.4h5.8v2.6h-5.8z" fill="#a4dfa4" stroke="none" fill-opacity="0.92"/>
<path d="M741.7 143.8h4.9v1.9h-4.9zM746.6 144.8h4.9v2.1h-4.9zM751.4 145.1h4.9v1.7h-4.9zM756.3 143.8h4.9v2.2h-4.9zM761.1 144.3h4.9v2.3h-4.9zM766 144.4h4.9v1.7h-4.9zM770.9 144.3h4.9v1.8h-4.9zM775.9 143.7h4.9v2.1h-4.9zM785.8 144.2h4.9v2.2h-4.9zM795.7 143.6h4.9v2.3h-4.9zM805.6 144.5h4.9v2h-4.9zM810.5 145.3h5.2v1.7h-5.2zM820.9 143.9h5.2v2h-5.2zM826.1 145.2h5.2v1.9h-5.2zM831.4 145h5.2v2.1h-5.2zM836.6 145.2h5.2v2.2h-5.2zM841.8 144.8h5.2v2h-5.2zM991.4 144.5h5.4v1.6h-5.4zM996.7 144.1h5.4v1.8h-5.4zM1032.6 144.5h5v1.8h-5zM1217.3 144.4h5.8v2h-5.8z" fill="#aadeaa" stroke="none" fill-opacity="0.92"/>
<path d="M732 145.3h4.9v2.3h-4.9zM736.9 145.8h4.9v2.4h-4.9zM741.7 145.7h4.9v1.9h-4.9zM746.6 146.8h4.9v2.1h-4.9zM751.4 146.7h4.9v1.7h-4.9zM756.3 146h4.9v2.2h-4.9zM761.1 146.5h4.9v2.3h-4.9zM775.9 145.7h4.9v2.1h-4.9zM780.8 145.7h4.9v2.2h-4.9zM785.8 146.4h4.9v2.2h-4.9zM790.7 145.3h4.9v2.5h-4.9zM795.7 145.9h4.9v2.3h-4.9zM800.6 145.5h4.9v2.2h-4.9zM805.6 146.5h4.9v2h-4.9zM810.5 146.9h5.2v1.7h-5.2zM815.7 145.4h5.2v2.3h-5.2zM820.9 145.9h5.2v2h-5.2zM847 146h4v2h-4zM969.2 146.4h6v2.1h-6zM975.3 146h5.4v1.7h-5.4zM980.7 145.5h5.4v2.2h-5.4zM986 145.6h5.4v2.1h-5.4zM991.4 146h5.4v1.6h-5.4zM996.7 145.8h5.4v1.8h-5.4zM1027.6 145.4h5v2.1h-5zM1032.6 146.3h5v1.8h-5zM1037.6 146.1h5v2.5h-5zM1047.5 146.2h5v2.1h-5zM1136.5 146.9h5.5v2.1h-5.5zM1217.3 146.4h5.8v2h-5.8zM1223 145.9h5.8v2.6h-5.8z" fill="#b1dbb1" stroke="none" fill-opacity="0.92"/>
<path d="M732 147.6h4.9v2.3h-4.9zM736.9 148.1h4.9v2.4h-4.9zM741.7 147.5h4.9v1.9h-4.9zM751.4 148.4h4.9v1.7h-4.9zM756.3 148.2h4.9v2.2h-4.9zM780.8 147.9h4.9v2.2h-4.9zM785.8 148.6h4.9v2.2h-4.9zM790.7 147.7h4.9v2.5h-4.9zM795.7 148.2h4.9v2.3h-4.9zM805.6 148.5h4.9v2h-4.9zM815.7 147.7h5.2v2.3h-5.2zM820.9 147.9h5.2v2h-5.2zM831.4 147h5.2v2.1h-5.2zM847 148h4v2h-4zM957.8 147.6h3.9v2h-3.9zM963.2 148.1h6v2h-6zM969.2 148.5h6v2.1h-6zM975.3 147.7h5.4v1.7h-5.4zM980.7 147.6h5.4v2.2h-5.4zM986 147.6h5.4v2.1h-5.4zM991.4 147.6h5.4v1.6h-5.4zM996.7 147.6h5.4v1.8h-5.4zM1027.6 147.4h5v2.1h-5zM1032.6 148h5v1.8h-5zM1042.5 148.3h5v1.7h-5zM1047.5 148.3h5v2.1h-5zM1063.3 148.6h4.6v1.9h-4.6zM1067.9 148.3h4.6v1.8h-4.6zM1072.4 148.2h4.6v1.5h-4.6zM1131 147.9h5.5v1.9h-5.5zM1217.3 148.4h5.8v2h-5.8z" fill="#b9d7b9" stroke="none" fill-opacity="0.92"/>
<path d="M746.6 148.8h4.9v2.1h-4.9zM751.4 150.1h4.9v1.7h-4.9zM761.1 148.7h4.9v2.3h-4.9zM780.8 150.1h4.9v2.2h-4.9zM847 150h4v2h-4zM953.9 148.9h3.9v1.9h-3.9zM957.8 149.6h3.9v2h-3.9zM963.2 150.1h6v2h-6zM975.3 149.4h5.4v1.7h-5.4zM980.7 149.7h5.4v2.2h-5.4zM986 149.6h5.4v2.1h-5.4zM991.4 149.2h5.4v1.6h-5.4zM996.7 149.4h5.4v1.8h-5.4zM1027.6 149.4h5v2.1h-5zM1032.6 149.8h5v1.8h-5zM1037.6 148.5h5v2.5h-5zM1042.5 150h5v1.7h-5zM1047.5 150.3h5v2.1h-5zM1063.3 150.4h4.6v1.9h-4.6zM1067.9 150h4.6v1.8h-4.6zM1072.4 149.7h4.6v1.5h-4.6zM1096.8 150.2h5.1v1.7h-5.1zM1125.5 150h5.5v1.9h-5.5zM1131 149.8h5.5v1.9h-5.5zM1136.5 149h5.5v2.1h-5.5zM1186.7 149.8h5.1v1.6h-5.1zM1223 148.4h5.8v2.6h-5.8z" fill="#c0d4c0" stroke="none" fill-opacity="0.92"/>
<path d="M756.3 150.4h4.9v2.2h-4.9zM761.1 150.9h4.9v2.3h-4.9zM847 152h4v2h-4zM946 151.8h7v1.8h-7zM953.9 150.7h3.9v1.9h-3.9zM957.8 151.5h3.9v2h-3.9zM969.2 150.6h6v2.1h-6zM975.3 151.1h5.4v1.7h-5.4zM1027.6 151.4h5v2.1h-5zM1037.6 150.9h5v2.5h-5zM1042.5 151.6h5v1.7h-5zM1067.9 151.7h4.6v1.8h-4.6zM1072.4 151.2h4.6v1.5h-4.6zM1084 151h6.4v2.1h-6.4zM1091.7 152h5.1v1.6h-5.1zM1096.8 151.9h5.1v1.7h-5.1zM1115.9 152.3h6.4v1.4h-6.4zM1125.5 151.8h5.5v1.9h-5.5zM1131 151.6h5.5v1.9h-5.5zM1136.5 151h5.5v2.1h-5.5zM1145.2 151.7h5.1v2.2h-5.1zM1155.4 151.3h5.1v2h-5.1zM1186.7 151.3h5.1v1.6h-5.1zM1217.3 150.4h5.8v2h-5.8zM1223 151h5.8v2.6h-5.8z" fill="#c6d0c6" stroke="none" fill-opacity="0.92"/>
<path d="M946 153.5h7v1.8h-7zM953.9 152.6h3.9v1.9h-3.9zM957.8 153.5h3.9v2h-3.9zM963.2 152.1h6v2h-6zM969.2 152.7h6v2.1h-6zM1037.6 153.3h5v2.5h-5zM1042.5 153.2h5v1.7h-5zM1047.5 152.3h5v2.1h-5zM1063.3 152.3h4.6v1.9h-4.6zM1067.9 153.5h4.6v1.8h-4.6zM1072.4 152.6h4.6v1.5h-4.6zM1084 153.1h6.4v2.1h-6.4zM1091.7 153.6h5.1v1.6h-5.1zM1096.8 153.6h5.1v1.7h-5.1zM1115.9 153.7h6.4v1.4h-6.4zM1125.5 153.6h5.5v1.9h-5.5zM1131 153.5h5.5v1.9h-5.5zM1136.5 153h5.5v2.1h-5.5zM1150.3 153h5.1v1.6h-5.1zM1155.4 153.3h5.1v2h-5.1zM1186.7 152.8h5.1v1.6h-5.1zM1191.8 152.9h4.7v2.4h-4.7zM1201.1 153.1h4.7v2.3h-4.7zM1230.4 153.8h7.3v1.6h-7.3z" fill="#cccccc" stroke="none" fill-opacity="0.92"/>
<path d="M946 155.2h7v1.8h-7zM953.9 154.4h3.9v1.9h-3.9zM963.2 154.1h6v2h-6zM1007.2 155h5.1v1.7h-5.1zM1022.5 155.2h5.1v2.1h-5.1zM1063.3 154.1h4.6v1.9h-4.6zM1084 155.2h6.4v2.1h-6.4zM1091.7 155.2h5.1v1.6h-5.1zM1096.8 155.3h5.1v1.7h-5.1zM1115.9 155h6.4v1.4h-6.4zM1125.5 155.5h5.5v1.9h-5.5zM1145.2 153.9h5.1v2.2h-5.1zM1150.3 154.5h5.1v1.6h-5.1zM1155.4 155.2h5.1v2h-5.1zM1186.7 154.4h5.1v1.6h-5.1zM1196.5 154.4h4.7v1.9h-4.7zM1230.4 155.3h7.3v1.6h-7.3zM1240.2 154.7h5.8v1.8h-5.8z" fill="#d1c6c6" stroke="none" fill-opacity="0.92"/>
<path d="M891.4 157h4.7v2.1h-4.7zM900.7 157.2h4.7v1.8h-4.7zM920 155.6h5.2v2.4h-5.2zM925.2 156.1h5.2v2.2h-5.2zM930.4 155.9h5.2v2.2h-5.2zM946 156.9h7v1.8h-7zM1007.2 156.6h5.1v1.7h-5.1zM1012.3 156.1h5.1v2.1h-5.1zM1017.4 155.7h5.1v1.8h-5.1zM1091.7 156.8h5.1v1.6h-5.1zM1115.9 156.4h6.4v1.4h-6.4zM1145.2 156h5.1v2.2h-5.1zM1150.3 156h5.1v1.6h-5.1zM1171.6 155.6h5.5v2.1h-5.5zM1180.9 156.7h3.9v1.5h-3.9zM1191.8 155.3h4.7v2.4h-4.7zM1196.5 156.2h4.7v1.9h-4.7zM1201.1 155.4h4.7v2.3h-4.7zM1205.8 155.5h5.8v2.5h-5.8zM1211.5 156.4h5.8v2.2h-5.8zM1230.4 156.8h7.3v1.6h-7.3zM1240.2 156.5h5.8v1.8h-5.8z" fill="#d6c0c0" stroke="none" fill-opacity="0.92"/>
<path d="M721 158.1h5v2.1h-5zM882 157.4h4.7v2.4h-4.7zM896.1 157.9h4.7v2.1h-4.7zM900.7 158.9h4.7v1.8h-4.7zM905.4 157.7h4.7v1.6h-4.7zM914.8 157.4h5.2v2.2h-5.2zM920 158h5.2v2.4h-5.2zM925.2 158.2h5.2v2.2h-5.2zM930.4 158h5.2v2.2h-5.2zM935.6 158.2h5.2v2h-5.2zM940.8 158.3h5.2v2.1h-5.2zM1002.1 158.2h5.1v1.5h-5.1zM1007.2 158.3h5.1v1.7h-5.1zM1012.3 158.1h5.1v2.1h-5.1zM1017.4 157.5h5.1v1.8h-5.1zM1022.5 157.2h5.1v2.1h-5.1zM1084 157.2h6.4v2.1h-6.4zM1145.2 158.1h5.1v2.2h-5.1zM1150.3 157.5h5.1v1.6h-5.1zM1155.4 157.2h5.1v2h-5.1zM1166 158.5h5.5v1.9h-5.5zM1171.6 157.6h5.5v2.1h-5.5zM1177.1 157.6h3.8v1.6h-3.8zM1180.9 158.2h3.9v1.5h-3.9zM1191.8 157.7h4.7v2.4h-4.7zM1196.5 158.1h4.7v1.9h-4.7zM1201.1 157.7h4.7v2.3h-4.7zM1205.8 157.9h5.8v2.5h-5.8zM1211.5 158.6h5.8v2.2h-5.8zM1230.4 158.3h7.3v1.6h-7.3zM1240.2 158.3h5.8v1.8h-5.8z" fill="#d9b8b8" stroke="none" fill-opacity="0.92"/>
<path d="M721 160.1h5v2.1h-5zM726 159.4h5v2.4h-5zM882 159.7h4.7v2.4h-4.7zM886.7 160.4h4.7v2h-4.7zM891.4 159h4.7v2.1h-4.7zM896.1 160h4.7v2.1h-4.7zM905.4 159.3h4.7v1.6h-4.7zM910.1 160.4h4.7v1.6h-4.7zM914.8 159.5h5.2v2.2h-5.2zM925.2 160.3h5.2v2.2h-5.2zM930.4 160.2h5.2v2.2h-5.2zM935.6 160.1h5.2v2h-5.2zM940.8 160.3h5.2v2.1h-5.2zM1002.1 159.6h5.1v1.5h-5.1zM1007.2 159.9h5.1v1.7h-5.1zM1012.3 160.2h5.1v2.1h-5.1zM1017.4 159.2h5.1v1.8h-5.1zM1022.5 159.2h5.1v2.1h-5.1zM1160.5 160.1h5.5v1.7h-5.5zM1166 160.3h5.5v1.9h-5.5zM1171.6 159.6h5.5v2.1h-5.5zM1177.1 159.2h3.8v1.6h-3.8zM1180.9 159.7h3.9v1.5h-3.9zM1191.8 160.1h4.7v2.4h-4.7zM1196.5 159.9h4.7v1.9h-4.7zM1201.1 160h4.7v2.3h-4.7zM1240.2 160.1h5.8v1.8h-5.8z" fill="#dbb0b0" stroke="none" fill-opacity="0.92"/>
<path d="M726 161.8h5v2.4h-5zM861.3 162.1h5.2v1.9h-5.2zM891.4 161h4.7v2.1h-4.7zM896.1 162h4.7v2.1h-4.7zM900.7 160.7h4.7v1.8h-4.7zM905.4 160.8h4.7v1.6h-4.7zM910.1 162h4.7v1.6h-4.7zM914.8 161.7h5.2v2.2h-5.2zM920 160.4h5.2v2.4h-5.2zM935.6 162.1h5.2v2h-5.2zM1002.1 161h5.1v1.5h-5.1zM1002.1 162.4h5.1v1.5h-5.1zM1017.4 160.9h5.1v1.8h-5.1zM1022.5 161.2h5.1v2.1h-5.1zM1104.4 161.3h5.8v1.7h-5.8zM1110.2 160.8h5.8v2.1h-5.8zM1160.5 161.7h5.5v1.7h-5.5zM1166 162.2h5.5v1.9h-5.5zM1171.6 161.6h5.5v2.1h-5.5zM1177.1 160.8h3.8v1.6h-3.8zM1180.9 161.2h3.9v1.5h-3.9zM1205.8 160.4h5.8v2.5h-5.8zM1211.5 160.7h5.8v2.2h-5.8z" fill="#dea8a8" stroke="none" fill-opacity="0.92"/>
<path d="M721 162.2h5v2.1h-5zM851 162.6h5.2v2.2h-5.2zM856.2 162h5.2v2.5h-5.2zM866.5 163h5.2v2h-5.2zM871.7 162.5h5.2v2.3h-5.2zM876.8 163.8h5.2v1.6h-5.2zM882 162h4.7v2.4h-4.7zM886.7 162.4h4.7v2h-4.7zM891.4 163.1h4.7v2.1h-4.7zM900.7 162.4h4.7v1.8h-4.7zM905.4 162.4h4.7v1.6h-4.7zM910.1 163.6h4.7v1.6h-4.7zM920 162.7h5.2v2.4h-5.2zM925.2 162.4h5.2v2.2h-5.2zM930.4 162.4h5.2v2.2h-5.2zM940.8 162.4h5.2v2.1h-5.2zM1012.3 162.3h5.1v2.1h-5.1zM1104.4 162.9h5.8v1.7h-5.8zM1110.2 162.8h5.8v2.1h-5.8zM1160.5 163.4h5.5v1.7h-5.5zM1177.1 162.4h3.8v1.6h-3.8zM1205.8 162.8h5.8v2.5h-5.8zM1211.5 162.9h5.8v2.2h-5.8z" fill="#dfa0a0" stroke="none" fill-opacity="0.92"/>
<path d="M721 164.3h5v2.1h-5zM726 164.1h5v2.4h-5zM851 164.8h5.2v2.2h-5.2zM856.2 164.5h5.2v2.5h-5.2zM861.3 164h5.2v1.9h-5.2zM866.5 164.9h5.2v2h-5.2zM871.7 164.7h5.2v2.3h-5.2zM876.8 165.3h5.2v1.6h-5.2zM882 164.3h4.7v2.4h-4.7zM886.7 164.3h4.7v2h-4.7zM896.1 164.1h4.7v2.1h-4.7zM910.1 165.2h4.7v1.6h-4.7zM914.8 163.8h5.2v2.2h-5.2zM935.6 164.1h5.2v2h-5.2zM940.8 164.4h5.2v2.1h-5.2zM1104.4 164.6h5.8v1.7h-5.8zM1110.2 164.8h5.8v2.1h-5.8zM1160.5 165h5.5v1.7h-5.5zM1166 164h5.5v1.9h-5.5z" fill="#e09999" stroke="none" fill-opacity="0.92"/>
<path d="M726 166.4h5v2.4h-5zM851 166.9h5.2v2.2h-5.2zM856.2 166.9h5.2v2.5h-5.2zM861.3 165.9h5.2v1.9h-5.2zM866.5 166.9h5.2v2h-5.2zM871.7 166.9h5.2v2.3h-5.2zM876.8 166.9h5.2v1.6h-5.2zM886.7 166.2h4.7v2h-4.7zM1104.4 166.2h5.8v1.7h-5.8zM1110.2 166.8h5.8v2.1h-5.8z" fill="#e29191" stroke="none" fill-opacity="0.92"/>
<path d="M861.3 167.8h5.2v1.9h-5.2zM876.8 168.5h5.2v1.6h-5.2z" fill="#e38a8a" stroke="none" fill-opacity="0.92"/>
<path d="M851 169.1h5.2v2.2h-5.2zM856.2 169.4h5.2v2.5h-5.2zM866.5 168.9h5.2v2h-5.2zM871.7 169.2h5.2v2.3h-5.2z" fill="#e48282" stroke="none" fill-opacity="0.92"/>
<path d="M726.5 154.7h1.4M729.5 152.9h1.4M721.8 153.4h1.4M729.6 153.8h1.4M728.2 154.6h1.4M734.3 154.2h1.4M746.2 153.4h1.4M736.1 154.6h1.4M743.9 155.1h1.4M737 154.7h1.4M743.6 152.6h1.4M743.6 154.6h1.4M731.7 153.5h1.4M765.1 153h1.4M772.4 154.2h1.4M774.1 154.7h1.4M795.1 154.9h1.4M801.3 153.2h1.4M806.9 152.9h1.4M780.8 153.5h1.4M765.5 154.8h1.4M808.4 153h1.4M794.4 153.2h1.4M777.4 154.2h1.4M803.2 153.5h1.4M809 154.3h1.4M774.6 153.2h1.4M792.7 154.1h1.4M797.7 153.7h1.4M803.7 154.1h1.4M813.1 154.6h1.4M844.6 153.8h1.4M816.7 152.8h1.4M824.8 154.1h1.4M810.6 154.1h1.4M819.9 152.8h1.4M848 153.9h1.4M850.3 154.8h1.4M849.7 152.7h1.4M881.2 154.5h1.4M871.9 154.4h1.4M865.6 153.9h1.4M860.6 155h1.4M879.9 154.8h1.4M872 154h1.4M866 154.4h1.4M858.1 153.9h1.4M871.9 154.3h1.4M874.1 154.7h1.4M913.8 153.9h1.4M892.8 153.6h1.4M908.2 153.2h1.4M895.2 153.8h1.4M923.5 154.4h1.4M916.2 154.9h1.4M922.7 153h1.4M928.5 154h1.4M931.1 153.2h1.4M939.7 153.8h1.4M949.8 155h1.4M959.4 153.5h1.4M971.9 152.7h1.4M965.2 154.3h1.4M970.7 154.1h1.4M969.7 154.1h1.4M962.6 153.4h1.4M976.3 152.7h1.4M981.4 154.4h1.4M990.1 155h1.4M980.6 153.7h1.4M1001 153.8h1.4M977.3 154.9h1.4M1001.3 152.9h1.4M983.2 154h1.4M981.8 153h1.4M1001.1 153.9h1.4M1009.7 154.8h1.4M1001.5 153.7h1.4M1010.3 153.3h1.4M1011.6 153.5h1.4M1033.6 152.8h1.4M1049.1 153.1h1.4M1033.3 154.8h1.4M1030.7 153h1.4M1041.4 153.6h1.4M1029.5 154.7h1.4M1038.7 152.8h1.4M1027.4 153.5h1.4M1046 153.1h1.4M1066.1 154h1.4M1067.5 154h1.4M1069.6 153.2h1.4M1074.5 153h1.4M1075.9 153.8h1.4M1070.3 154.1h1.4M1068.9 154.8h1.4M1084.6 154.1h1.4M1086.9 154.3h1.4M1101.1 153.3h1.4M1098 154h1.4M1095.7 153.5h1.4M1098.8 154.1h1.4M1112.3 154.7h1.4M1118.3 153.9h1.4M1120.8 154.9h1.4M1119.5 154.8h1.4M1140.6 154.8h1.4M1133.2 154.8h1.4M1129 152.9h1.4M1139.5 152.8h1.4M1125.9 155.1h1.4M1129 153.9h1.4M1135.5 152.7h1.4M1128.5 153.8h1.4M1148.7 152.9h1.4M1153.4 153.5h1.4M1148.8 153.7h1.4M1159.4 154.6h1.4M1155.6 152.7h1.4M1148.4 155.1h1.4M1160 153.8h1.4M1166.5 153.5h1.4M1166.1 154.1h1.4M1204.2 154.1h1.4M1201.5 153.9h1.4M1194.8 153.9h1.4M1198.5 154.3h1.4M1209.6 153.1h1.4M1205.7 153.6h1.4M1206.4 153.8h1.4M1209.3 153.2h1.4M1206.6 154h1.4M1215.3 153.9h1.4M1222.7 154.6h1.4M1227.3 153.9h1.4M1225.8 154.1h1.4M1220.5 153.5h1.4M1223.5 152.8h1.4M1234.4 155.1h1.4" fill="none" stroke="#cccccc" stroke-width="1.4"/>
<path d="M727.2 152.6h1.4M723.6 150.2h1.4M737.4 150.6h1.4M762.4 151.3h1.4M752.2 150.3h1.4M736.4 151.4h1.4M763 150.2h1.4M756.5 150.8h1.4M764.3 151.8h1.4M766 150.4h1.4M799.3 152.4h1.4M769.3 151.3h1.4M775.7 150.6h1.4M781.7 151.7h1.4M789 152.4h1.4M795.4 150.4h1.4M784.9 151.8h1.4M818 152h1.4M837 150.7h1.4M813.2 150.6h1.4M823.6 151.4h1.4M841.3 150.9h1.4M817.9 150.8h1.4M836.3 151.2h1.4M830.7 150.9h1.4M813.5 151.8h1.4M817.3 151h1.4M819 152h1.4M845.6 151.7h1.4M849.8 150.4h1.4M875.1 152.4h1.4M859.7 150.8h1.4M865.6 150.1h1.4M862.6 151.3h1.4M869.9 151.6h1.4M877.9 152.5h1.4M893.8 151.7h1.4M912.9 152.5h1.4M899.7 150.9h1.4M906.4 150.8h1.4M885.1 151.2h1.4M896.9 151.5h1.4M901.3 150.3h1.4M882.7 151h1.4M926.9 152.6h1.4M915.4 150.6h1.4M940.3 151.8h1.4M921.6 150.4h1.4M924.2 151.8h1.4M928.4 151.6h1.4M927.5 150.4h1.4M952.2 152h1.4M951.5 150.3h1.4M951.4 151.6h1.4M959.1 151h1.4M953.9 151.2h1.4M966.9 151.2h1.4M966.6 150.1h1.4M970 151.2h1.4M1000 151.5h1.4M993.3 151.8h1.4M986.9 150.7h1.4M988.5 152.6h1.4M974.7 151.4h1.4M980.2 151.7h1.4M978 150.1h1.4M999.8 150.6h1.4M982.8 150.9h1.4M991.2 151.5h1.4M982.6 150.5h1.4M983.7 150.8h1.4M997.6 150.7h1.4M1000.9 150.1h1.4M1000.4 150.5h1.4M1011.5 150.9h1.4M1018.6 150.7h1.4M1036.6 150.2h1.4M1039.7 151.5h1.4M1029.7 151.4h1.4M1029.6 152.1h1.4M1046.5 152.6h1.4M1032.3 151.4h1.4M1038.6 151.3h1.4M1061.8 151.5h1.4M1069.3 150.3h1.4M1069.9 152.5h1.4M1073 152.4h1.4M1073.3 151.4h1.4M1086.8 150.5h1.4M1085.3 150.2h1.4M1089 152.3h1.4M1097.2 151.7h1.4M1098.5 150.5h1.4M1097.7 151.7h1.4M1100.8 152.4h1.4M1091.8 150.1h1.4M1100.1 150.8h1.4M1092 151.1h1.4M1091.9 151.2h1.4M1111.8 150.3h1.4M1105.6 150.5h1.4M1119 152.6h1.4M1119.8 150.5h1.4M1136.7 152h1.4M1129.2 151h1.4M1126.5 152.5h1.4M1152.5 151.9h1.4M1158.2 152.3h1.4M1156.9 150.9h1.4M1156.6 151.2h1.4M1168.4 151.1h1.4M1175.4 150.2h1.4M1168.5 152.1h1.4M1183.9 151.2h1.4M1180.1 150.8h1.4M1177.4 150.5h1.4M1190.3 150.4h1.4M1187 152h1.4M1191.1 151.8h1.4M1199.4 150.9h1.4M1204.4 150.5h1.4M1191.3 151.3h1.4M1209.4 152.1h1.4M1227.4 150.7h1.4M1222.3 150.7h1.4M1225.6 152h1.4M1232.4 150.9h1.4M1231.3 150.4h1.4M1232.4 151.6h1.4M1241.3 150.6h1.4M1245 152.1h1.4" fill="none" stroke="#c3d2c3" stroke-width="1.4"/>
<path d="M722.8 157.2h1.4M721.9 157h1.4M724.6 157.2h1.4M734.6 156.9h1.4M739.8 156h1.4M734.6 157.7h1.4M747.1 155.9h1.4M767.3 155.3h1.4M825.7 157.4h1.4M835 156.6h1.4M828.5 156.9h1.4M848.2 155.2h1.4M849.1 156.3h1.4M856.2 156.2h1.4M867.9 157.3h1.4M865.5 157.4h1.4M875.1 156.5h1.4M857.3 156.4h1.4M875.7 157.2h1.4M894.7 155.2h1.4M897.8 157.5h1.4M913.8 155.3h1.4M905.3 156.7h1.4M908.1 157.6h1.4M884.4 155.6h1.4M905.2 156.3h1.4M901.7 155.3h1.4M939.8 156.3h1.4M944.8 156.4h1.4M934 157.4h1.4M919.3 156.9h1.4M937.8 156.5h1.4M922.8 156.8h1.4M947.7 155.2h1.4M949.9 156.6h1.4M945.6 156.4h1.4M947.4 156.1h1.4M950.1 156.9h1.4M948.2 157.1h1.4M959.1 157.4h1.4M960 155.5h1.4M957.5 155.2h1.4M954 157.6h1.4M967.3 156.1h1.4M962.6 156.2h1.4M1000 156.7h1.4M999.9 156.8h1.4M981.4 157.1h1.4M984.4 155.3h1.4M1000.3 156.3h1.4M988.6 157.4h1.4M983.3 155.6h1.4M1011.8 157.3h1.4M1005.8 155.8h1.4M1003.4 156.1h1.4M1024 155.9h1.4M1016.5 157.6h1.4M1013.7 156.5h1.4M1015 156.1h1.4M1010.8 156.2h1.4M1051.4 155.7h1.4M1049.9 157.2h1.4M1029.3 155.7h1.4M1042.1 157.4h1.4M1046.1 155.8h1.4M1042.8 155.2h1.4M1073.4 156.8h1.4M1087.3 155.7h1.4M1112.1 155.6h1.4M1105.7 156.7h1.4M1119.7 155.5h1.4M1118.5 156.5h1.4M1120.6 155.6h1.4M1140.8 156.5h1.4M1136 156.5h1.4M1136 155.3h1.4M1130.2 157.2h1.4M1128.8 155.3h1.4M1125 157.3h1.4M1137.2 157.3h1.4M1131.2 155.7h1.4M1134.7 156.5h1.4M1139.5 156h1.4M1138.1 156.4h1.4M1126.4 156h1.4M1146.7 155.4h1.4M1151.8 157.4h1.4M1157.8 156.5h1.4M1156.1 157.3h1.4M1146.3 155.5h1.4M1150.1 157.3h1.4M1150.8 155.4h1.4M1156 155.7h1.4M1159.3 155.2h1.4M1159.5 155.4h1.4M1148.8 157.6h1.4M1174.2 155.3h1.4M1159.8 155.8h1.4M1176.2 156.5h1.4M1168.2 156h1.4M1163.1 155.8h1.4M1181.1 155.7h1.4M1183.3 155.3h1.4M1177.4 155.5h1.4M1178.2 156.1h1.4M1188.1 155.7h1.4M1186.1 155.6h1.4M1194 156.9h1.4M1203.5 156.4h1.4M1213.1 155.2h1.4M1215.5 155.6h1.4M1226.4 157.5h1.4M1222.1 156.7h1.4M1234.4 156.7h1.4M1236.2 155.8h1.4M1232.1 156.8h1.4M1234.2 155.4h1.4" fill="none" stroke="#d4c3c3" stroke-width="1.4"/>
<path d="M725.2 147.9h1.4M726 149h1.4M729.3 149.5h1.4M725.7 148.7h1.4M764.4 148.4h1.4M761.3 149.8h1.4M755.8 149.5h1.4M764.9 148.3h1.4M747.1 148.5h1.4M737.6 149.6h1.4M758 149.7h1.4M750.1 149.9h1.4M761.4 148.5h1.4M750.1 149.8h1.4M755 147.7h1.4M783.7 149.9h1.4M776.2 147.8h1.4M798.3 150.1h1.4M787 149.8h1.4M782.2 149.2h1.4M781.9 150.1h1.4M777.6 148.3h1.4M787.7 148h1.4M789 149.6h1.4M795.1 149.4h1.4M773.5 148.8h1.4M780.1 149h1.4M766.2 148.9h1.4M807.9 149.2h1.4M796.2 148h1.4M792.6 148.7h1.4M788 149.3h1.4M771.3 149.6h1.4M794.4 148.1h1.4M835.3 148.1h1.4M833.8 149.2h1.4M830 147.6h1.4M838.2 147.6h1.4M828.2 148.3h1.4M833.9 149.7h1.4M814 148.8h1.4M824.2 148.2h1.4M845.1 149.9h1.4M825.9 148.5h1.4M844.3 148.3h1.4M836.1 149.7h1.4M816.2 148.6h1.4M880.4 147.9h1.4M853.9 148.3h1.4M895.9 148h1.4M882.7 149.9h1.4M912.4 149.9h1.4M907.3 147.9h1.4M941 149.2h1.4M934.9 149.3h1.4M950.9 149.1h1.4M948.4 147.6h1.4M948.9 149.5h1.4M949.2 148h1.4M945.4 148.2h1.4M958.6 149h1.4M957.2 148h1.4M973.8 148.1h1.4M968.9 148.4h1.4M966.4 149h1.4M972.5 148.6h1.4M964 148.7h1.4M965.8 149.8h1.4M992.1 148.2h1.4M990 149.2h1.4M999.3 147.6h1.4M997.7 149.9h1.4M994.8 149.9h1.4M993.4 149.2h1.4M975.3 148.8h1.4M996.3 149.2h1.4M1012.2 148.6h1.4M1014 149.3h1.4M1046.4 148.7h1.4M1033.5 148.5h1.4M1044.8 149h1.4M1042.1 149.7h1.4M1028.8 148.8h1.4M1051.1 150.1h1.4M1042.4 147.9h1.4M1051.1 149.6h1.4M1042.6 150h1.4M1050 148.2h1.4M1044.3 148.8h1.4M1052.6 149.2h1.4M1072.8 147.9h1.4M1074.6 150.1h1.4M1074.3 147.9h1.4M1063.7 148h1.4M1064.6 150h1.4M1064.6 149.4h1.4M1068.1 149.4h1.4M1085.1 147.7h1.4M1096.8 148.1h1.4M1099.8 148.2h1.4M1098.7 148.6h1.4M1091.9 149.7h1.4M1120.5 149.3h1.4M1120.9 149.2h1.4M1120.9 148.4h1.4M1138.1 148.3h1.4M1125.3 149.9h1.4M1136 149.6h1.4M1126.3 149.7h1.4M1151.6 149.9h1.4M1147.6 149.6h1.4M1155.2 147.9h1.4M1145.1 148.5h1.4M1159.4 148.8h1.4M1156.8 147.9h1.4M1168.3 149h1.4M1189 149.6h1.4M1188.5 149.4h1.4M1188.6 149h1.4M1211.9 148.1h1.4M1207.1 150h1.4M1220.3 148.4h1.4M1219.1 148h1.4M1221.5 150h1.4M1228.1 148h1.4M1225.1 148.7h1.4M1235.5 148.6h1.4M1231 149.3h1.4M1240 149.5h1.4" fill="none" stroke="#b9d7b9" stroke-width="1.4"/>
<path d="M723.5 158.7h1.4M725.1 160.1h1.4M743.6 158.4h1.4M750.8 158.3h1.4M785.4 158.1h1.4M803.1 158.7h1.4M770.6 158.2h1.4M789.7 159.8h1.4M790.7 158.8h1.4M766 160.1h1.4M838.7 158.1h1.4M848.6 157.9h1.4M850.7 158.6h1.4M861.9 158.6h1.4M851 159.6h1.4M869.9 159.3h1.4M873.9 159.5h1.4M872.8 159.6h1.4M854.4 160h1.4M853.1 158.9h1.4M870.9 158.7h1.4M896 158.2h1.4M887.7 159.2h1.4M899.8 157.8h1.4M902.8 158.1h1.4M901.8 159.3h1.4M895.9 160.1h1.4M904.8 158.4h1.4M891.4 159.8h1.4M893.3 158.3h1.4M889.1 159.5h1.4M906.4 158.2h1.4M929.5 160.1h1.4M931.9 158.2h1.4M930.1 157.8h1.4M927.6 159.6h1.4M944.4 159.9h1.4M932.6 158h1.4M936.3 157.8h1.4M920.7 158.7h1.4M946.2 158.9h1.4M956.3 159.5h1.4M954 158.5h1.4M956.7 158.8h1.4M959.8 159.6h1.4M974.5 159h1.4M969.3 160.1h1.4M965.8 158.7h1.4M987.3 158.5h1.4M994.3 158.2h1.4M991.5 159.8h1.4M974.7 158h1.4M1026.8 158.8h1.4M1019.3 159.6h1.4M1009.3 158.7h1.4M1022.5 158.9h1.4M1026.4 157.8h1.4M1007.1 157.7h1.4M1020.2 158.6h1.4M1011.1 158.9h1.4M1015 160.1h1.4M1015.9 158.8h1.4M1009.3 158.6h1.4M1014.9 159.3h1.4M1015.7 158.4h1.4M1001.5 158.4h1.4M1050.7 158.7h1.4M1041 159h1.4M1043.8 159.8h1.4M1075.6 157.8h1.4M1065 158.4h1.4M1071.2 158.9h1.4M1068.4 158.8h1.4M1085.2 158.6h1.4M1093.2 159h1.4M1096.2 157.7h1.4M1098.1 157.8h1.4M1106.3 158.5h1.4M1107 158.5h1.4M1112.3 158.4h1.4M1104.7 158.5h1.4M1120 159.6h1.4M1119.8 160.1h1.4M1124.9 158.3h1.4M1133.5 159.6h1.4M1130.4 158.9h1.4M1125.6 158.4h1.4M1156.4 159.7h1.4M1156.5 158.6h1.4M1145.1 158.9h1.4M1174.7 159.8h1.4M1163.3 159.2h1.4M1160.2 159.3h1.4M1167.7 158.3h1.4M1169 159.5h1.4M1162.7 160.1h1.4M1172.1 158.3h1.4M1182.4 159.1h1.4M1184 158h1.4M1203.5 159.1h1.4M1197.1 157.9h1.4M1201.2 159.7h1.4M1198.4 159.5h1.4M1202.2 160.2h1.4M1209.8 159.2h1.4M1215.9 157.7h1.4M1214.9 159.4h1.4M1214.6 159.6h1.4M1207.7 159.4h1.4M1213.9 160.1h1.4M1213.6 160h1.4M1221.4 157.9h1.4M1236.3 157.9h1.4" fill="none" stroke="#d9b8b8" stroke-width="1.4"/>
<path d="M745.4 145.6h1.4M742.1 146.7h1.4M757.7 146.7h1.4M756 147.4h1.4M756.8 147.1h1.4M758.7 146.3h1.4M735.5 145.2h1.4M759.8 146.3h1.4M755.5 146.6h1.4M750.6 147.3h1.4M753.5 147.5h1.4M795.1 145.8h1.4M775.2 145.9h1.4M769.7 146.5h1.4M800.9 146.6h1.4M772.2 146.9h1.4M788 147.4h1.4M781.3 146h1.4M801.1 147.4h1.4M787 146.6h1.4M766.2 146.3h1.4M791.4 146.4h1.4M776.1 147h1.4M800.9 146.3h1.4M769.3 145.4h1.4M796.5 145.8h1.4M781.8 146.5h1.4M770.4 147.5h1.4M786.8 146.8h1.4M838.8 145.3h1.4M843.6 145.9h1.4M840.1 147.4h1.4M810.8 145.4h1.4M843.3 145.5h1.4M827.7 147.4h1.4M821.7 146.9h1.4M844.1 146.6h1.4M818.5 146.6h1.4M820.9 145.5h1.4M843.5 147.5h1.4M831.2 146.5h1.4M845.9 146h1.4M846.7 146h1.4M848.9 147.4h1.4M846.5 145.6h1.4M863.1 145.8h1.4M875.4 146.1h1.4M900.7 146.3h1.4M895.9 147.5h1.4M881.7 147.6h1.4M890.2 145.7h1.4M928.8 146.7h1.4M917.4 146.3h1.4M936.9 145.6h1.4M943.8 147.1h1.4M950.8 146.7h1.4M957.5 147.4h1.4M957.3 146.8h1.4M973.4 146.1h1.4M963 145.2h1.4M968.1 145.7h1.4M994.2 146.5h1.4M990.4 146.6h1.4M990.9 147.5h1.4M991.5 146.1h1.4M992.1 147.2h1.4M991.6 146h1.4M978.4 145.4h1.4M977.6 146h1.4M1020.2 147h1.4M1010.6 146.4h1.4M1007 147.5h1.4M1008.6 146.7h1.4M1051.3 146.6h1.4M1030.3 145.1h1.4M1039.8 147.4h1.4M1048.7 146.8h1.4M1047.6 147.6h1.4M1042.8 146.4h1.4M1051.7 146h1.4M1030.1 146.3h1.4M1030.9 145.8h1.4M1027 146.5h1.4M1052.7 146.6h1.4M1057 145.7h1.4M1071.8 147.3h1.4M1070.9 147.6h1.4M1067.6 145.5h1.4M1072.4 146.6h1.4M1076.2 146.5h1.4M1067.5 147h1.4M1087.8 146.3h1.4M1089.3 147.1h1.4M1085.5 146h1.4M1097.3 146.7h1.4M1130.9 145.9h1.4M1141.2 146.2h1.4M1130 146.3h1.4M1137.6 146.8h1.4M1140 145.4h1.4M1152.3 147h1.4M1152 147.2h1.4M1158.6 145.4h1.4M1146.5 146.1h1.4M1145.7 146h1.4M1157.5 146.9h1.4M1170.4 146.5h1.4M1171.5 147h1.4M1170 147.1h1.4M1183.1 147.3h1.4M1176.7 147.1h1.4M1186.5 145.9h1.4M1216.7 145.6h1.4M1228 145.3h1.4M1226.8 146.7h1.4M1226.4 147.2h1.4M1234.4 146.8h1.4" fill="none" stroke="#aedcae" stroke-width="1.4"/>
<path d="M751.6 162.3h1.4M750.7 162.1h1.4M763.4 161.9h1.4M776.4 161.6h1.4M812.7 161.2h1.4M855.1 160.9h1.4M860.7 161.8h1.4M863.4 161.4h1.4M850.7 162.1h1.4M855.7 161.3h1.4M850.3 161.1h1.4M853.6 160.6h1.4M889.2 160.6h1.4M890.9 162.3h1.4M911.5 160.4h1.4M893.6 162.7h1.4M892.6 160.5h1.4M910.5 160.4h1.4M884.6 160.2h1.4M913.6 160.9h1.4M910.1 162.1h1.4M899.2 161.2h1.4M906.6 161.8h1.4M896.8 162.6h1.4M886.1 162.1h1.4M912.1 162h1.4M891.8 161.4h1.4M910.8 161.1h1.4M887.6 161.9h1.4M916.6 160.6h1.4M942.9 161.3h1.4M918.6 161.8h1.4M942.8 162.2h1.4M921.4 161.7h1.4M928.9 160.6h1.4M947 160.7h1.4M948.9 161.1h1.4M945.6 162.3h1.4M959.4 160.7h1.4M954.1 161.7h1.4M957.5 160.4h1.4M972.3 161.7h1.4M968.9 161.6h1.4M972.8 160.8h1.4M1000.6 160.5h1.4M989.6 161.4h1.4M999.5 160.5h1.4M995.8 162.1h1.4M988.4 161.6h1.4M1002.6 161.5h1.4M1004.7 161.1h1.4M1008 160.3h1.4M1006.6 160.6h1.4M1004.4 160.4h1.4M1011.1 161.4h1.4M1020.6 162.5h1.4M1025.5 161.5h1.4M1044.9 160.7h1.4M1046.7 161.2h1.4M1040.7 162.6h1.4M1088.9 160.9h1.4M1099.2 161.9h1.4M1107 160.5h1.4M1104.1 162.5h1.4M1112.5 161.6h1.4M1113.4 162.7h1.4M1119.2 160.5h1.4M1116.1 162.7h1.4M1119.2 161.7h1.4M1131.3 162.6h1.4M1155.5 162.1h1.4M1159.8 160.4h1.4M1163.5 160.9h1.4M1161.9 161.1h1.4M1162.8 160.6h1.4M1177.4 160.6h1.4M1177.9 161.3h1.4M1188.5 162.2h1.4M1192.8 161.5h1.4M1192 160.2h1.4M1197.9 160.8h1.4M1204.4 160.9h1.4M1203.4 160.8h1.4M1210.7 160.3h1.4M1208.2 162.3h1.4M1210.3 162.6h1.4M1208.5 161.4h1.4M1236.9 160.8h1.4M1231.1 162.1h1.4M1243.1 161.8h1.4M1239.7 162.2h1.4M1239.8 161.9h1.4" fill="none" stroke="#ddacac" stroke-width="1.4"/>
<path d="M732.6 145h1.4M755.4 145h1.4M739.9 143.1h1.4M754.4 142.7h1.4M737.6 144.6h1.4M740.4 144.5h1.4M741.5 144.8h1.4M740 143.7h1.4M799 142.9h1.4M806.4 144.3h1.4M769 142.9h1.4M803 144.4h1.4M794.7 145h1.4M786.8 144.8h1.4M791.2 143.2h1.4M799.6 143.7h1.4M786.8 143.6h1.4M799.7 143.3h1.4M791.8 142.7h1.4M781.8 144.7h1.4M779.8 143.6h1.4M800.7 142.8h1.4M767.7 142.6h1.4M775.4 143h1.4M769.5 145h1.4M794.8 142.9h1.4M785.2 144h1.4M808 144.5h1.4M773 144.6h1.4M812.2 143.7h1.4M819.1 144.5h1.4M810.4 143.6h1.4M837.8 142.8h1.4M829.4 143.5h1.4M841.6 144.8h1.4M836.2 144.7h1.4M821.8 143.8h1.4M811.1 145h1.4M826.6 144.5h1.4M823.3 142.6h1.4M832.7 145h1.4M823.3 142.9h1.4M828.9 142.8h1.4M845.2 142.6h1.4M826 143h1.4M814.4 143.9h1.4M810.4 144.3h1.4M840.4 145h1.4M835.1 143.2h1.4M825.8 144.7h1.4M900.2 143.9h1.4M900.1 143.4h1.4M935.2 144.9h1.4M945.9 144.4h1.4M954.4 144.9h1.4M953.9 144.7h1.4M974.4 144.7h1.4M966.7 143.1h1.4M980.9 143.6h1.4M990.4 143.9h1.4M979 143.2h1.4M992.6 143.4h1.4M981.2 143.5h1.4M1001 144.3h1.4M974.6 143.2h1.4M975 143.3h1.4M1013.7 144.6h1.4M1047.2 143.4h1.4M1028.2 144.8h1.4M1051.4 144.4h1.4M1029.9 144.4h1.4M1055.9 144h1.4M1069.2 143.9h1.4M1081.3 143h1.4M1086.9 142.6h1.4M1097.7 144.7h1.4M1099.9 144.5h1.4M1100 143.8h1.4M1121 142.7h1.4M1124.9 144h1.4M1129.3 143.9h1.4M1156.8 143.2h1.4M1145.1 144h1.4M1195.6 144.1h1.4M1225.1 144.2h1.4M1217 143h1.4M1227 144.5h1.4M1242.8 143.7h1.4" fill="none" stroke="#a4dfa4" stroke-width="1.4"/>
<path d="M725 164.7h1.4M722 163.5h1.4M722.1 163.5h1.4M750 163.6h1.4M743.5 163h1.4M795.8 163.8h1.4M833.4 162.9h1.4M855.1 164.8h1.4M864.1 163.6h1.4M852.7 164.8h1.4M874.5 163.5h1.4M870.4 163h1.4M876.2 165.2h1.4M853.3 162.8h1.4M885.5 164.3h1.4M898.8 163.8h1.4M909.8 163.2h1.4M899.4 164h1.4M895.8 164.5h1.4M905.2 164.5h1.4M907.4 162.8h1.4M944 165.2h1.4M936.1 164.2h1.4M942.9 164h1.4M932.7 163.7h1.4M920.6 163.6h1.4M914.6 163.5h1.4M923.9 164.9h1.4M941.5 164.8h1.4M920.7 163.7h1.4M932.5 163.1h1.4M923.7 164.9h1.4M942.2 163.4h1.4M926 165h1.4M931.3 163.1h1.4M915.5 163.6h1.4M966.2 165.2h1.4M970.8 164.4h1.4M966.2 163.7h1.4M971.1 163.4h1.4M968.4 163h1.4M1014.4 163.3h1.4M1004.9 164.8h1.4M1003.4 164.3h1.4M1020.8 165.2h1.4M1013.9 163.5h1.4M1021.8 164.5h1.4M1027.7 164.3h1.4M1071.2 163.4h1.4M1063.4 164.8h1.4M1083.8 164.8h1.4M1100.9 164.4h1.4M1104.4 164.9h1.4M1106.8 163.8h1.4M1113.7 164h1.4M1131.4 163.9h1.4M1136.2 162.8h1.4M1138.5 162.9h1.4M1146.7 162.9h1.4M1144.9 163.1h1.4M1165.4 162.9h1.4M1175.7 164.5h1.4M1171.5 163.5h1.4M1164.8 164h1.4M1168.8 164.2h1.4M1176 165.1h1.4M1167 164.1h1.4M1175.6 164.7h1.4M1174 163.6h1.4M1177 163.9h1.4M1178.3 165h1.4M1181.8 164.6h1.4M1190.9 162.9h1.4M1197.9 162.9h1.4M1201.9 165h1.4M1191.9 162.9h1.4M1209 163.7h1.4M1205.4 164.4h1.4M1235 165h1.4M1233 164.4h1.4M1235.1 163h1.4M1233.9 163.8h1.4M1239.8 165.2h1.4M1239.9 164.1h1.4" fill="none" stroke="#dfa0a0" stroke-width="1.4"/>
<path d="M733.3 140.2h1.4M733.3 141.8h1.4M756.7 142.5h1.4M735.1 141.7h1.4M762 141.9h1.4M760.9 142.4h1.4M758.8 141.7h1.4M752.7 141.1h1.4M749.9 141.1h1.4M782.5 140.8h1.4M788.1 140.1h1.4M784.4 141.8h1.4M780.2 142.3h1.4M807.5 142.5h1.4M800.7 142.4h1.4M779.3 140.2h1.4M792.5 140.9h1.4M792.1 141.7h1.4M779.2 141.8h1.4M792.7 140.2h1.4M782 140.2h1.4M790.5 140.5h1.4M802.9 141.2h1.4M832.6 141.4h1.4M830 142.1h1.4M822.5 140.7h1.4M828.3 140.9h1.4M828.4 140.2h1.4M816.5 142h1.4M819 141.6h1.4M840.6 140.4h1.4M835.8 140.1h1.4M834.3 141.4h1.4M811.3 141.2h1.4M813.1 141.7h1.4M828.7 141.4h1.4M831.6 140.8h1.4M823.4 140h1.4M846.2 141.2h1.4M911.7 141.4h1.4M892.6 141.6h1.4M967.9 142.1h1.4M983.4 142.3h1.4M1001.8 141.3h1.4M1019.7 141.4h1.4M1022.5 142.2h1.4M1039.3 142.2h1.4M1045.9 140.8h1.4M1049.2 141.5h1.4M1047.3 140.8h1.4M1040.2 141.2h1.4M1047.7 141.9h1.4M1050.3 140.6h1.4M1027.5 141.8h1.4M1050.2 141.9h1.4M1039.6 140.2h1.4M1043.1 142.1h1.4M1053.6 140.3h1.4M1057.7 140.6h1.4M1055.1 141.9h1.4M1075.4 142.4h1.4M1073.3 140.1h1.4M1076.9 140h1.4M1083.5 142.5h1.4M1092.8 141.7h1.4M1099.2 141.7h1.4M1138.8 140.9h1.4M1170.4 141.1h1.4M1187.7 142.1h1.4M1198.5 142.2h1.4M1200.6 142.2h1.4M1209.5 141.9h1.4M1221.6 140.7h1.4" fill="none" stroke="#9ae09a" stroke-width="1.4"/>
<path d="M728.8 167.6h1.4M743 167.5h1.4M745.4 167.4h1.4M777.3 167.6h1.4M867.9 165.9h1.4M858.1 165.4h1.4M854.2 165.9h1.4M853.5 167.3h1.4M862.2 166.1h1.4M867.1 166h1.4M877.5 166.9h1.4M874.8 165.9h1.4M861 165.4h1.4M879.1 166.1h1.4M874.1 167.1h1.4M852.6 167.1h1.4M892 167.2h1.4M889.8 166.4h1.4M885.4 166.6h1.4M898.2 167.4h1.4M909.9 167.1h1.4M893.3 165.6h1.4M913.5 166.1h1.4M895.3 165.5h1.4M882.7 167.7h1.4M898.9 166.4h1.4M891.3 165.8h1.4M885.2 166.6h1.4M938.3 166h1.4M943.9 166.1h1.4M942.1 166.7h1.4M927 166.8h1.4M941.4 167h1.4M915.2 167.5h1.4M918.2 166.9h1.4M955.6 166.5h1.4M1011.9 166.9h1.4M1010.7 166.9h1.4M1017.2 167.4h1.4M1011 167.7h1.4M1007.5 166.9h1.4M1008.6 165.4h1.4M1003.1 167.7h1.4M1073 165.6h1.4M1105.5 167.6h1.4M1105 165.6h1.4M1110 166.2h1.4M1105.6 167.5h1.4M1105.7 167.3h1.4M1127.8 166.4h1.4M1168.4 165.4h1.4M1161.7 166.2h1.4M1162.9 165.5h1.4M1167.9 165.5h1.4M1182.7 166.4h1.4M1179.6 166.8h1.4M1184 165.3h1.4M1194.1 165.7h1.4M1197.2 167.2h1.4M1200.1 166.7h1.4M1213.6 165.5h1.4M1213.7 167h1.4M1210.2 165.8h1.4M1220.8 166h1.4M1241.2 165.7h1.4M1243.4 166.6h1.4M1241.9 165.3h1.4M1242.9 166.1h1.4" fill="none" stroke="#e19595" stroke-width="1.4"/>
<path d="M740.2 138h1.4M761.7 138.5h1.4M742.7 138.4h1.4M764.2 138.4h1.4M752.9 138.8h1.4M733 139.7h1.4M748.8 138.6h1.4M740.5 138.1h1.4M791.5 139h1.4M802 138.3h1.4M805.8 139.2h1.4M784.5 138.7h1.4M803.8 138.9h1.4M805.7 138.8h1.4M777.9 138.5h1.4M842.6 138h1.4M838.5 138.5h1.4M844.6 138.5h1.4M812.2 138.5h1.4M835.2 139.6h1.4M840.1 139.8h1.4M816.3 138.8h1.4M827.9 138h1.4M828.2 138.8h1.4M865.6 139.1h1.4M914.2 138.1h1.4M959.4 139h1.4M974.1 137.8h1.4M972.9 139.4h1.4M978.4 137.9h1.4M974.7 138.3h1.4M1049.4 137.9h1.4M1039.5 138.9h1.4M1041.3 139.6h1.4M1061.3 137.6h1.4M1055.3 140h1.4M1054.7 139h1.4M1060.2 137.6h1.4M1053.5 140h1.4M1071.5 140h1.4M1071.6 139.1h1.4M1064.8 139.6h1.4M1082.8 139.6h1.4M1079.3 139.1h1.4M1077.3 138h1.4M1078.9 138.8h1.4M1088.7 139.3h1.4M1088.9 138.5h1.4M1115.3 138.6h1.4M1128.9 140h1.4M1156.6 139.5h1.4M1181.3 139h1.4M1187.7 138.1h1.4M1186.5 137.8h1.4M1227.8 139.1h1.4M1222.2 139.2h1.4" fill="none" stroke="#90e190" stroke-width="1.4"/>
<path d="M727.7 167.8h1.4M725.1 169h1.4M780.2 167.8h1.4M857.9 168.5h1.4M870.3 168.7h1.4M858 168.7h1.4M878.6 168.3h1.4M866.7 168.7h1.4M860 170h1.4M909.6 169.3h1.4M905.6 168.2h1.4M888.3 169.6h1.4M883.6 169.1h1.4M898.9 170h1.4M888.9 168.2h1.4M891.1 169.5h1.4M888.1 168.5h1.4M887.2 169.2h1.4M938.5 167.9h1.4M942.8 168.8h1.4M925.4 169.8h1.4M914.6 169.8h1.4M921.2 169.2h1.4M927.8 168.6h1.4M920.6 169.1h1.4M938.8 168.2h1.4M995.4 168.8h1.4M1019.3 169.7h1.4M1006.6 168.9h1.4M1024.1 169.7h1.4M1002.1 169.4h1.4M1025.4 167.8h1.4M1010.5 169.2h1.4M1017.8 169h1.4M1067.5 169.5h1.4M1093.7 169h1.4M1095.2 168.1h1.4M1113.6 168.3h1.4M1111.8 168.3h1.4M1106.4 168.3h1.4M1105.8 169.2h1.4M1106.2 168.7h1.4M1112.5 168h1.4M1120.3 168.1h1.4M1141.2 168h1.4M1145.4 169h1.4M1167.9 167.9h1.4M1168.7 170.2h1.4M1181.9 169.1h1.4M1192.9 170.3h1.4M1202.8 168.5h1.4M1198.4 168h1.4M1205.8 169.4h1.4M1241.2 169.5h1.4" fill="none" stroke="#e38a8a" stroke-width="1.4"/>
<path d="M732 136.4h1.4M744.4 137.3h1.4M743.2 137.5h1.4M747.4 135.4h1.4M762.3 137.5h1.4M764 135.1h1.4M750.1 136.4h1.4M752.7 135.3h1.4M772.3 137.1h1.4M784.8 135.3h1.4M786.8 136.8h1.4M781.2 137.4h1.4M781.3 136.5h1.4M820 135.2h1.4M823.4 136.7h1.4M812.5 137.4h1.4M841.4 135.1h1.4M820 136.8h1.4M820.8 137.5h1.4M895.4 136.5h1.4M972 136h1.4M975.1 137.4h1.4M989.3 137.5h1.4M1022.3 135.3h1.4M1028.8 137.3h1.4M1041.4 135.3h1.4M1058 136.6h1.4M1059.5 135.6h1.4M1053.5 135.9h1.4M1054.7 135.4h1.4M1057.4 135.7h1.4M1057.9 136.7h1.4M1081.3 135.8h1.4M1078 135.6h1.4M1082 135.2h1.4M1079.3 137.4h1.4M1081.7 137.3h1.4M1088.7 137.4h1.4M1129.9 137.2h1.4M1224.3 135.3h1.4M1223.8 135.4h1.4" fill="none" stroke="#86e286" stroke-width="1.4"/>
<path d="M727.3 171.5h1.4M724.6 171.6h1.4M726.2 171.8h1.4M723.9 170.9h1.4M724 172h1.4M850.1 171.9h1.4M860 172.5h1.4M862.5 170.9h1.4M853.4 172h1.4M868.1 171.2h1.4M853.7 170.7h1.4M875.4 170.6h1.4M864.1 172.2h1.4M868.3 172.8h1.4M869.6 170.3h1.4M879.8 171.6h1.4M875.6 172.6h1.4M911.7 170.6h1.4M902.8 171.5h1.4M906.7 171.3h1.4M917.8 172.5h1.4M919.3 170.6h1.4M936.7 171.1h1.4M929.5 171.6h1.4M932 170.3h1.4M921.6 172.2h1.4M935.9 170.6h1.4M919.8 172.1h1.4M933 172.2h1.4M999.7 170.7h1.4M1006.7 170.4h1.4M1016.1 171.4h1.4M1003.3 172.3h1.4M1154.1 170.9h1.4M1163.1 171.6h1.4M1166.5 172.2h1.4M1169.3 171.3h1.4M1166.1 171.8h1.4M1202.3 172h1.4M1194.2 170.6h1.4M1206.1 171.1h1.4M1205.9 172.3h1.4M1223.7 172.4h1.4M1232.5 170.6h1.4M1243.9 172.6h1.4" fill="none" stroke="#e47e7e" stroke-width="1.4"/>
<path d="M758 132.7h1.4M747.9 133.6h1.4M762.7 134.6h1.4M732.4 133.5h1.4M763.9 134.7h1.4M809.6 133.2h1.4M780.4 132.6h1.4M875.9 133.1h1.4M983.7 134.6h1.4M979.9 134.9h1.4M986.7 133.9h1.4M1051 133.5h1.4M1059.4 134h1.4M1064.5 135h1.4M1081 133.5h1.4M1082.9 134.5h1.4M1077.8 132.6h1.4M1097.9 132.6h1.4M1192.5 132.8h1.4M1220.4 132.8h1.4M1227.9 134.2h1.4M970.3 132.9h1.4" fill="none" stroke="#79e379" stroke-width="1.4"/>
<path d="M723.7 174.2h1.4M746.8 173h1.4M855.6 173.5h1.4M879.4 173h1.4M881.1 173.5h1.4M904.7 173.4h1.4M899.7 173.6h1.4M908.7 173.1h1.4M922.4 173.9h1.4M920.5 174.1h1.4M930.2 173.8h1.4M933.3 174.3h1.4M1005.8 172.9h1.4M1017.7 174.6h1.4M1084.1 174.8h1.4M1107.2 174.8h1.4M1108 174.8h1.4M1166.2 173.5h1.4M1197.2 174.3h1.4M1200.3 174.4h1.4M1209.3 173.2h1.4M1241.8 174.3h1.4" fill="none" stroke="#e47373" stroke-width="1.4"/>
<path d="M756.2 130.7h1.4M742.8 132.1h1.4M731.5 132.2h1.4M796.8 132.1h1.4M805.8 131.3h1.4M781.5 131.7h1.4M842.8 130h1.4M817.7 131.1h1.4M832.1 130.8h1.4M847.1 131.2h1.4M976.4 131.4h1.4M1033.5 132.2h1.4M1060.8 132h1.4M1130.7 131.9h1.4M1220.9 131.1h1.4" fill="none" stroke="#6ce36c" stroke-width="1.4"/>
<path d="M857.2 176.9h1.4M878.9 177.6h1.4M872.2 176.5h1.4M872.2 176.8h1.4M867.9 177.8h1.4M911.9 177.2h1.4M923.5 175.9h1.4M923 176h1.4M918.3 176.7h1.4M1026 177.1h1.4M1103.8 177.3h1.4M1106.9 176.7h1.4M1129 177.2h1.4M1162 176.3h1.4M1183.8 176.5h1.4M1204.6 175.7h1.4M1204.5 177.2h1.4M1195.3 175.8h1.4M1216.2 175.4h1.4" fill="none" stroke="#e46767" stroke-width="1.4"/>
<path d="M754.2 129.3h1.4M763.8 127.5h1.4M759.5 128.9h1.4M768.4 128.5h1.4M777.6 129.5h1.4M797 129.9h1.4M803.2 128.7h1.4M959.9 128h1.4M1056.8 129.8h1.4M1057.1 127.9h1.4M1066.4 129.5h1.4M1078.3 128.9h1.4M1080.1 127.6h1.4M1081.3 129h1.4M1079.3 128.2h1.4M1077.6 128.8h1.4M1187.7 128.2h1.4M962.3 128.7h1.4" fill="none" stroke="#5fe45f" stroke-width="1.4"/>
<path d="M722.1 179.8h1.4M854.3 178.9h1.4M850.9 180.4h1.4M893.8 180h1.4M919 178.6h1.4M934.5 178.2h1.4M1021 178.8h1.4M1114.2 179.1h1.4M1169.1 178.1h1.4M1179 179.8h1.4M1206.9 180h1.4M1241.5 178.6h1.4" fill="none" stroke="#e45c5c" stroke-width="1.4"/>
<path d="M758.1 125.5h1.4M733.5 125.9h1.4M754.6 125.7h1.4M740.4 127.4h1.4M792.5 127h1.4M820.1 126.8h1.4M812.9 125.3h1.4M986.3 125.7h1.4M1041.2 127.2h1.4M1052.3 125.1h1.4M1062.4 125.9h1.4M1059.5 125.2h1.4M1061.6 127.1h1.4M1080.9 126.6h1.4M820.3 126.1h1.4" fill="none" stroke="#55e455" stroke-width="1.4"/>
<path d="M723.7 181.1h1.4M873.8 180.5h1.4M850.9 181.9h1.4M893.6 182.5h1.4M941.9 180.6h1.4M915.5 181.7h1.4M984.6 181.7h1.4M1005.2 181.1h1.4M1026.6 180.8h1.4M1195.7 181.8h1.4M1196.7 180.7h1.4" fill="none" stroke="#e35050" stroke-width="1.4"/>
<path d="M743.7 123.1h1.4M784.9 122.8h1.4M822.7 124h1.4M812.3 123h1.4M1034.6 122.7h1.4M1060.6 123.3h1.4M1052.5 122.6h1.4M1233.7 123.4h1.4M960.3 123.6h1.4" fill="none" stroke="#4be34b" stroke-width="1.4"/>
<path d="M867.3 184h1.4M921.9 183.7h1.4M995.3 183.2h1.4M1107.7 183.5h1.4M1000.3 183.3h1.4" fill="none" stroke="#e24444" stroke-width="1.4"/>
<path d="M737.4 120.9h1.4M785.6 121.6h1.4M990.4 121h1.4M1059.4 120.4h1.4M1058.9 121.8h1.4M1232.7 121.3h1.4M795.3 120.3h1.4" fill="none" stroke="#41e341" stroke-width="1.4"/>
<path d="M1193.1 186.2h1.4M918.3 187.5h1.4" fill="none" stroke="#e13838" stroke-width="1.4"/>
<path d="M776 118.9h1.4M840.3 118.6h1.4" fill="none" stroke="#37e237" stroke-width="1.4"/>
<path d="M1167.4 188.4h1.4" fill="none" stroke="#e02c2c" stroke-width="1.4"/>
<path d="M781.5 115.7h1.4M1224.7 116h1.4" fill="none" stroke="#2de22d" stroke-width="1.4"/>
<path d="M927.4 192.6h1.4M1172.3 191.7h1.4" fill="none" stroke="#df2727" stroke-width="1.4"/>
<path d="M1081.1 110.1h1.4" fill="none" stroke="#29e129" stroke-width="1.4"/>
<path d="M1052 106.3h1.4" fill="none" stroke="#24e024" stroke-width="1.4"/>
<path d="M1107.9 196.2h1.4M918.1 195.9h1.4M1186.3 197.6h1.4" fill="none" stroke="#dd1d1d" stroke-width="1.4"/>
<path d="M970.3 200.2h1.4" fill="none" stroke="#dc1818" stroke-width="1.4"/>
<path d="M917.8 204.4h1.4" fill="none" stroke="#db1414" stroke-width="1.4"/>
<path d="M917.3 206h1.4M912.8 206.9h1.4M1189.3 206h1.4" fill="none" stroke="#da1212" stroke-width="1.4"/>
<path d="M721 161.2H731M732 146.1H766M766 145.5H810.5M810.5 144.8H847M847 152.2H851M851 164H882M882 162H914.8M914.8 163.2H946M946 153.9H953M953.9 153.1H961.6M963.2 153.1H975.3M975.3 150.5H1002.1M1002.1 160.3H1027.6M1027.6 149.7H1052.5M1052.5 134.1H1063.3M1063.3 152.2H1077M1077 132H1084M1084 152.2H1090.4M1091.7 152.2H1101.9M1104.4 163.6H1115.9M1115.9 153.9H1122.3M1125.5 153.9H1142M1145.2 153.1H1160.5M1160.5 160.6H1177.1M1177.1 159.8H1184.8M1186.7 150.5H1191.8M1191.8 160.6H1205.8M1205.8 158.9H1217.3M1217.3 145.5H1228.8M1230.4 156.4H1237.7M1240.2 161.2H1246" fill="none" stroke="#16167a" stroke-width="2"/>
<line x1="721" y1="41.2" x2="1246" y2="41.2" stroke="#585858" stroke-width="1.6"/>
<line x1="765.9" y1="40.3" x2="765.9" y2="42.1" stroke="#c4c4c4" stroke-width="1"/>
<line x1="810.3" y1="40.3" x2="810.3" y2="42.1" stroke="#c4c4c4" stroke-width="1"/>
<line x1="846.4" y1="40.3" x2="846.4" y2="42.1" stroke="#c4c4c4" stroke-width="1"/>
<line x1="881.3" y1="40.3" x2="881.3" y2="42.1" stroke="#c4c4c4" stroke-width="1"/>
<line x1="914.3" y1="40.3" x2="914.3" y2="42.1" stroke="#c4c4c4" stroke-width="1"/>
<line x1="945.5" y1="40.3" x2="945.5" y2="42.1" stroke="#c4c4c4" stroke-width="1"/>
<line x1="974.6" y1="40.3" x2="974.6" y2="42.1" stroke="#c4c4c4" stroke-width="1"/>
<line x1="1001.3" y1="40.3" x2="1001.3" y2="42.1" stroke="#c4c4c4" stroke-width="1"/>
<line x1="1027.1" y1="40.3" x2="1027.1" y2="42.1" stroke="#c4c4c4" stroke-width="1"/>
<line x1="1051.8" y1="40.3" x2="1051.8" y2="42.1" stroke="#c4c4c4" stroke-width="1"/>
<line x1="1076.4" y1="40.3" x2="1076.4" y2="42.1" stroke="#c4c4c4" stroke-width="1"/>
<line x1="1100.9" y1="40.3" x2="1100.9" y2="42.1" stroke="#c4c4c4" stroke-width="1"/>
<line x1="1121.9" y1="40.3" x2="1121.9" y2="42.1" stroke="#c4c4c4" stroke-width="1"/>
<line x1="1141.5" y1="40.3" x2="1141.5" y2="42.1" stroke="#c4c4c4" stroke-width="1"/>
<line x1="1160.2" y1="40.3" x2="1160.2" y2="42.1" stroke="#c4c4c4" stroke-width="1"/>
<line x1="1176.7" y1="40.3" x2="1176.7" y2="42.1" stroke="#c4c4c4" stroke-width="1"/>
<line x1="1191.5" y1="40.3" x2="1191.5" y2="42.1" stroke="#c4c4c4" stroke-width="1"/>
<line x1="1205.8" y1="40.3" x2="1205.8" y2="42.1" stroke="#c4c4c4" stroke-width="1"/>
<line x1="1216.6" y1="40.3" x2="1216.6" y2="42.1" stroke="#c4c4c4" stroke-width="1"/>
<line x1="1228.1" y1="40.3" x2="1228.1" y2="42.1" stroke="#c4c4c4" stroke-width="1"/>
<line x1="1236.8" y1="40.3" x2="1236.8" y2="42.1" stroke="#c4c4c4" stroke-width="1"/>
<line x1="1246" y1="41.2" x2="1246" y2="267.4" stroke="#ccc" stroke-width="1.4"/>
<line x1="721" y1="41.2" x2="721" y2="267.4" stroke="#ccc" stroke-width="1.4"/>
<line x1="721" y1="53" x2="721" y2="254.8" stroke="#484848" stroke-width="1.6"/>
<line x1="720.2" y1="267.4" x2="1246" y2="267.4" stroke="#4a4a4a" stroke-width="1.7"/>
<line x1="716" y1="53" x2="721" y2="53" stroke="#444" stroke-width="1.5"/>
<text x="711.6" y="56.2" class="yl">1.2</text>
<line x1="716" y1="86.6" x2="721" y2="86.6" stroke="#444" stroke-width="1.5"/>
<text x="711.6" y="89.8" class="yl">0.8</text>
<line x1="716" y1="120.3" x2="721" y2="120.3" stroke="#444" stroke-width="1.5"/>
<text x="711.6" y="123.5" class="yl">0.4</text>
<line x1="716" y1="153.9" x2="721" y2="153.9" stroke="#444" stroke-width="1.5"/>
<text x="711.6" y="157.1" class="yl">0.0</text>
<line x1="716" y1="187.5" x2="721" y2="187.5" stroke="#444" stroke-width="1.5"/>
<text x="711.6" y="190.7" class="yl">-0.4</text>
<line x1="716" y1="221.2" x2="721" y2="221.2" stroke="#444" stroke-width="1.5"/>
<text x="711.6" y="224.4" class="yl">-0.8</text>
<line x1="716" y1="254.8" x2="721" y2="254.8" stroke="#444" stroke-width="1.5"/>
<text x="711.6" y="258" class="yl">-1.2</text>
<line x1="743.1" y1="267.4" x2="743.1" y2="271.9" stroke="#444" stroke-width="1.5"/>
<text transform="translate(746.2 276.8) rotate(-90)" class="xl">chr1</text>
<line x1="788.1" y1="267.4" x2="788.1" y2="271.9" stroke="#444" stroke-width="1.5"/>
<text transform="translate(791.2 276.8) rotate(-90)" class="xl">chr2</text>
<line x1="828.3" y1="267.4" x2="828.3" y2="271.9" stroke="#444" stroke-width="1.5"/>
<text transform="translate(831.4 276.8) rotate(-90)" class="xl">chr3</text>
<line x1="863.9" y1="267.4" x2="863.9" y2="271.9" stroke="#444" stroke-width="1.5"/>
<text transform="translate(867 276.8) rotate(-90)" class="xl">chr4</text>
<line x1="897.8" y1="267.4" x2="897.8" y2="271.9" stroke="#444" stroke-width="1.5"/>
<text transform="translate(900.9 276.8) rotate(-90)" class="xl">chr5</text>
<line x1="929.9" y1="267.4" x2="929.9" y2="271.9" stroke="#444" stroke-width="1.5"/>
<text transform="translate(933 276.8) rotate(-90)" class="xl">chr6</text>
<line x1="960.1" y1="267.4" x2="960.1" y2="271.9" stroke="#444" stroke-width="1.5"/>
<text transform="translate(963.2 276.8) rotate(-90)" class="xl">chr7</text>
<line x1="987.9" y1="267.4" x2="987.9" y2="271.9" stroke="#444" stroke-width="1.5"/>
<text transform="translate(991 276.8) rotate(-90)" class="xl">chr8</text>
<line x1="1014.2" y1="267.4" x2="1014.2" y2="271.9" stroke="#444" stroke-width="1.5"/>
<text transform="translate(1017.3 276.8) rotate(-90)" class="xl">chr9</text>
<line x1="1039.4" y1="267.4" x2="1039.4" y2="271.9" stroke="#444" stroke-width="1.5"/>
<text transform="translate(1042.5 276.8) rotate(-90)" class="xl">chr10</text>
<line x1="1064.1" y1="267.4" x2="1064.1" y2="271.9" stroke="#444" stroke-width="1.5"/>
<text transform="translate(1067.2 276.8) rotate(-90)" class="xl">chr11</text>
<line x1="1088.7" y1="267.4" x2="1088.7" y2="271.9" stroke="#444" stroke-width="1.5"/>
<text transform="translate(1091.8 276.8) rotate(-90)" class="xl">chr12</text>
<line x1="1111.4" y1="267.4" x2="1111.4" y2="271.9" stroke="#444" stroke-width="1.5"/>
<text transform="translate(1114.5 276.8) rotate(-90)" class="xl">chr13</text>
<line x1="1131.7" y1="267.4" x2="1131.7" y2="271.9" stroke="#444" stroke-width="1.5"/>
<text transform="translate(1134.8 276.8) rotate(-90)" class="xl">chr14</text>
<line x1="1150.8" y1="267.4" x2="1150.8" y2="271.9" stroke="#444" stroke-width="1.5"/>
<text transform="translate(1153.9 276.8) rotate(-90)" class="xl">chr15</text>
<line x1="1168.4" y1="267.4" x2="1168.4" y2="271.9" stroke="#444" stroke-width="1.5"/>
<text transform="translate(1171.5 276.8) rotate(-90)" class="xl">chr16</text>
<line x1="1184.1" y1="267.4" x2="1184.1" y2="271.9" stroke="#444" stroke-width="1.5"/>
<text transform="translate(1187.2 276.8) rotate(-90)" class="xl">chr17</text>
<line x1="1198.6" y1="267.4" x2="1198.6" y2="271.9" stroke="#444" stroke-width="1.5"/>
<text transform="translate(1201.7 276.8) rotate(-90)" class="xl">chr18</text>
<line x1="1211.2" y1="267.4" x2="1211.2" y2="271.9" stroke="#444" stroke-width="1.5"/>
<text transform="translate(1214.3 276.8) rotate(-90)" class="xl">chr19</text>
<line x1="1222.3" y1="267.4" x2="1222.3" y2="271.9" stroke="#444" stroke-width="1.5"/>
<text transform="translate(1225.4 276.8) rotate(-90)" class="xl">chr20</text>
<line x1="1232.4" y1="267.4" x2="1232.4" y2="271.9" stroke="#444" stroke-width="1.5"/>
<text transform="translate(1235.5 276.8) rotate(-90)" class="xl">chr21</text>
<line x1="1241.5" y1="267.4" x2="1241.5" y2="271.9" stroke="#444" stroke-width="1.5"/>
<text transform="translate(1244.6 276.8) rotate(-90)" class="xl">chr22</text>
<text transform="translate(125.6 339.9) scale(0.965 1)" font-size="29.5">GCT41</text>
<line x1="192.4" y1="364.8" x2="192.4" y2="590.3" class="cb"/>
<line x1="236.7" y1="364.8" x2="236.7" y2="590.3" class="cb"/>
<line x1="272.7" y1="364.8" x2="272.7" y2="590.3" class="cb"/>
<line x1="307.5" y1="364.8" x2="307.5" y2="590.3" class="cb"/>
<line x1="340.5" y1="364.8" x2="340.5" y2="590.3" class="cb"/>
<line x1="371.6" y1="364.8" x2="371.6" y2="590.3" class="cb"/>
<line x1="400.6" y1="364.8" x2="400.6" y2="590.3" class="cb"/>
<line x1="427.3" y1="364.8" x2="427.3" y2="590.3" class="cb"/>
<line x1="453" y1="364.8" x2="453" y2="590.3" class="cb"/>
<line x1="477.7" y1="364.8" x2="477.7" y2="590.3" class="cb"/>
<line x1="502.2" y1="364.8" x2="502.2" y2="590.3" class="cb"/>
<line x1="526.6" y1="364.8" x2="526.6" y2="590.3" class="cb"/>
<line x1="547.6" y1="364.8" x2="547.6" y2="590.3" class="cb"/>
<line x1="567.1" y1="364.8" x2="567.1" y2="590.3" class="cb"/>
<line x1="585.8" y1="364.8" x2="585.8" y2="590.3" class="cb"/>
<line x1="602.2" y1="364.8" x2="602.2" y2="590.3" class="cb"/>
<line x1="617" y1="364.8" x2="617" y2="590.3" class="cb"/>
<line x1="631.3" y1="364.8" x2="631.3" y2="590.3" class="cb"/>
<line x1="642" y1="364.8" x2="642" y2="590.3" class="cb"/>
<line x1="653.5" y1="364.8" x2="653.5" y2="590.3" class="cb"/>
<line x1="662.3" y1="364.8" x2="662.3" y2="590.3" class="cb"/>
<line x1="671.6" y1="364.8" x2="671.6" y2="590.3" class="cb"/>
<line x1="170.9" y1="366.8" x2="170.9" y2="590.3" class="cd"/>
<line x1="209.4" y1="366.8" x2="209.4" y2="590.3" class="cd"/>
<line x1="253.2" y1="366.8" x2="253.2" y2="590.3" class="cd"/>
<line x1="281.9" y1="366.8" x2="281.9" y2="590.3" class="cd"/>
<line x1="316.3" y1="366.8" x2="316.3" y2="590.3" class="cd"/>
<line x1="351.6" y1="366.8" x2="351.6" y2="590.3" class="cd"/>
<line x1="382.5" y1="366.8" x2="382.5" y2="590.3" class="cd"/>
<line x1="408.9" y1="366.8" x2="408.9" y2="590.3" class="cd"/>
<line x1="436.2" y1="366.8" x2="436.2" y2="590.3" class="cd"/>
<line x1="460.3" y1="366.8" x2="460.3" y2="590.3" class="cd"/>
<line x1="487.4" y1="366.8" x2="487.4" y2="590.3" class="cd"/>
<line x1="508.8" y1="366.8" x2="508.8" y2="590.3" class="cd"/>
<line x1="529.9" y1="366.8" x2="529.9" y2="590.3" class="cd"/>
<line x1="550.8" y1="366.8" x2="550.8" y2="590.3" class="cd"/>
<line x1="570.6" y1="366.8" x2="570.6" y2="590.3" class="cd"/>
<line x1="592.5" y1="366.8" x2="592.5" y2="590.3" class="cd"/>
<line x1="606.6" y1="366.8" x2="606.6" y2="590.3" class="cd"/>
<line x1="620.2" y1="366.8" x2="620.2" y2="590.3" class="cd"/>
<line x1="636.1" y1="366.8" x2="636.1" y2="590.3" class="cd"/>
<line x1="647" y1="366.8" x2="647" y2="590.3" class="cd"/>
<line x1="655.9" y1="366.8" x2="655.9" y2="590.3" class="cd"/>
<line x1="664.9" y1="366.8" x2="664.9" y2="590.3" class="cd"/>
<path d="M377.2 436h5.2v2.5h-5.2z" fill="#2be12b" stroke="none" mask="url(#mS)"/>
<path d="M372 438.6h5.2v2.1h-5.2zM377.2 438.4h5.2v2.5h-5.2z" fill="#30e230" stroke="none" mask="url(#mS)"/>
<path d="M187.8 441.4h4.6v2.2h-4.6zM372 440.7h5.2v2.1h-5.2z" fill="#37e237" stroke="none" mask="url(#mS)"/>
<path d="M174.1 443.2h4.6v1.9h-4.6zM178.7 441.7h4.6v2.1h-4.6zM183.2 442.7h4.6v2h-4.6z" fill="#3ee33e" stroke="none" mask="url(#mS)"/>
<path d="M178.7 443.7h4.6v2.1h-4.6zM183.2 444.6h4.6v2h-4.6zM187.8 443.5h4.6v2.2h-4.6z" fill="#44e344" stroke="none" mask="url(#mS)"/>
<path d="M174.1 445.1h4.6v1.9h-4.6z" fill="#4be34b" stroke="none" mask="url(#mS)"/>
<path d="M242 448.1h5.2v2.2h-5.2zM257.6 447.2h5.2v2.4h-5.2z" fill="#52e352" stroke="none" mask="url(#mS)"/>
<path d="M197.3 449.8h4.9v2.1h-4.9zM207.2 449.5h4.9v2.3h-4.9zM231.9 449.4h4.9v2.2h-4.9zM236.8 448.6h5.2v2.1h-5.2zM257.6 449.5h5.2v2.4h-5.2z" fill="#58e458" stroke="none" mask="url(#mS)"/>
<path d="M217.1 450.7h4.9v2.1h-4.9zM231.9 451.5h4.9v2.2h-4.9zM236.8 450.6h5.2v2.1h-5.2zM242 450.3h5.2v2.2h-5.2zM262.8 451.1h5.2v1.9h-5.2zM268 451.4h5.2v1.8h-5.2zM515.4 450.8h5.7v2h-5.7zM646.7 451.7h7.1v1.7h-7.1z" fill="#5fe45f" stroke="none" mask="url(#mS)"/>
<path d="M166.9 452.4h7.2v1.8h-7.2zM192.4 452.9h4.9v1.6h-4.9zM197.3 451.8h4.9v2.1h-4.9zM202.3 453h4.9v1.8h-4.9zM207.2 451.7h4.9v2.3h-4.9zM217.1 452.8h4.9v2.1h-4.9zM247.2 452h5.2v1.7h-5.2zM252.4 453.6h5.2v1.5h-5.2zM262.8 452.9h5.2v1.9h-5.2zM268 453.1h5.2v1.8h-5.2zM502 453.4h7v1.7h-7zM509.7 451.9h5.7v1.9h-5.7zM515.4 452.8h5.7v2h-5.7zM521.2 452.5h5.7v1.7h-5.7zM646.7 453.4h7.1v1.7h-7.1z" fill="#68e468" stroke="none" mask="url(#mS)"/>
<path d="M166.9 454.2h7.2v1.8h-7.2zM192.4 454.4h4.9v1.6h-4.9zM202.3 454.7h4.9v1.8h-4.9zM222 453.6h4.9v1.7h-4.9zM222 455.2h4.9v1.7h-4.9zM247.2 453.7h5.2v1.7h-5.2zM252.4 455h5.2v1.5h-5.2zM502 455.1h7v1.7h-7zM509.7 453.7h5.7v1.9h-5.7zM521.2 454.1h5.7v1.7h-5.7z" fill="#70e370" stroke="none" mask="url(#mS)"/>
<path d="M212.1 456.2h4.9v1.3h-4.9zM226.9 455.4h4.9v1.4h-4.9zM226.9 456.8h4.9v1.4h-4.9zM401 456.6h5.4v1.8h-5.4zM632.6 455.6h7.1v1.9h-7.1z" fill="#79e379" stroke="none" mask="url(#mS)"/>
<path d="M212.1 457.5h4.9v1.3h-4.9zM401 458.4h5.4v1.8h-5.4zM406.4 457.1h5.4v1.7h-5.4zM411.7 457.1h5.4v1.7h-5.4zM417.1 457.5h5.4v1.7h-5.4zM632.6 457.4h7.1v1.9h-7.1z" fill="#81e281" stroke="none" mask="url(#mS)"/>
<path d="M406.4 458.8h5.4v1.7h-5.4zM411.7 458.8h5.4v1.7h-5.4zM417.1 459.2h5.4v1.7h-5.4zM422.4 458.7h5.4v1.5h-5.4zM422.4 460.2h5.4v1.5h-5.4z" fill="#8ae28a" stroke="none" mask="url(#mS)"/>
<path d="M361.6 461.9h5.2v1.7h-5.2zM382.5 461.2h4.6v1.6h-4.6zM387.1 461.2h4.6v1.5h-4.6z" fill="#90e190" stroke="none" mask="url(#mS)"/>
<path d="M340.7 463.6h5.2v1.5h-5.2zM356.4 462.6h5.2v1.5h-5.2zM361.6 463.6h5.2v1.7h-5.2zM366.8 462.4h5.2v1.7h-5.2zM382.5 462.8h4.6v1.6h-4.6zM387.1 462.7h4.6v1.5h-4.6zM396.4 463.6h4.6v1.4h-4.6zM550.5 462.2h5.7v1.8h-5.7zM622.1 462h4.7v1.7h-4.7zM626.7 462h4.7v1.7h-4.7z" fill="#97e097" stroke="none" mask="url(#mS)"/>
<path d="M174.1 465.1h4.6v1.9h-4.6zM340.7 465h5.2v1.5h-5.2zM345.9 464h5.2v1.4h-5.2zM345.9 465.4h5.2v1.4h-5.2zM351.1 465.2h5.2v1.2h-5.2zM356.4 464.1h5.2v1.5h-5.2zM366.8 464.1h5.2v1.7h-5.2zM372 463.6h5.2v2.1h-5.2zM377.2 464.9h5.2v2.5h-5.2zM391.8 464.1h4.6v1.3h-4.6zM391.8 465.3h4.6v1.3h-4.6zM396.4 465h4.6v1.4h-4.6zM550.5 464h5.7v1.8h-5.7zM556.2 465.2h5.7v1.5h-5.7zM562 464h5.7v1.6h-5.7zM602.1 465.2h4.9v1.7h-4.9zM617.4 463.8h4.7v1.5h-4.7zM617.4 465.2h4.7v1.5h-4.7zM622.1 463.7h4.7v1.7h-4.7zM626.7 463.7h4.7v1.7h-4.7z" fill="#9de09d" stroke="none" mask="url(#mS)"/>
<path d="M162.1 465.5h4.8v1.8h-4.8zM178.7 466.6h4.6v2.1h-4.6zM183.2 465.9h4.6v2h-4.6zM308 466.2h4.7v1.5h-4.7zM312.7 466.5h4.7v1.5h-4.7zM317.3 466.3h4.7v1.5h-4.7zM322 466.4h4.7v1.6h-4.7zM336 465.5h4.7v1.6h-4.7zM336 467h4.7v1.6h-4.7zM351.1 466.3h5.2v1.2h-5.2zM372 465.7h5.2v2.1h-5.2zM432.9 466.6h5.1v2h-5.1zM556.2 466.6h5.7v1.5h-5.7zM562 465.6h5.7v1.6h-5.7zM602.1 466.8h4.9v1.7h-4.9zM607 466.2h4.9v1.5h-4.9zM655.4 465.6h4.6v1.4h-4.6zM655.4 467h4.6v1.4h-4.6zM660 466.3h4.5v1.3h-4.5z" fill="#a4dfa4" stroke="none" mask="url(#mS)"/>
<path d="M147.6 467.9h4.8v1.4h-4.8zM152.4 467.2h4.8v1.5h-4.8zM152.4 468.6h4.8v1.5h-4.8zM157.2 468.3h4.8v1.3h-4.8zM162.1 467.2h4.8v1.8h-4.8zM174.1 467h4.6v1.9h-4.6zM183.2 467.8h4.6v2h-4.6zM187.8 466.8h4.6v2.2h-4.6zM308 467.7h4.7v1.5h-4.7zM312.7 468h4.7v1.5h-4.7zM317.3 467.8h4.7v1.5h-4.7zM322 468h4.7v1.6h-4.7zM326.7 467.7h4.7v1.4h-4.7zM331.4 467.8h4.7v1.4h-4.7zM377.2 467.3h5.2v2.5h-5.2zM427.8 467.6h5.1v1.9h-5.1zM497.4 468.5h4.6v1.7h-4.6zM607 467.6h4.9v1.5h-4.9zM611.9 467.2h4.9v1.6h-4.9zM611.9 468.7h4.9v1.6h-4.9zM660 467.5h4.5v1.3h-4.5z" fill="#aadeaa" stroke="none" mask="url(#mS)"/>
<path d="M147.6 469.3h4.8v1.4h-4.8zM157.2 469.6h4.8v1.3h-4.8zM178.7 468.7h4.6v2.1h-4.6zM187.8 468.9h4.6v2.2h-4.6zM326.7 469.1h4.7v1.4h-4.7zM331.4 469.1h4.7v1.4h-4.7zM427.8 469.4h5.1v1.9h-5.1zM432.9 468.6h5.1v2h-5.1zM438 469h5.1v1.8h-5.1zM443.1 470.4h5.1v1.7h-5.1zM448.2 470.1h5.1v1.8h-5.1zM453.3 470.3h5v1.8h-5zM463.2 469.2h5v2h-5zM478.1 468.8h4.4v1.9h-4.4zM488.3 470.1h4.6v1.5h-4.6zM492.9 469.4h4.6v1.6h-4.6zM497.4 470.2h4.6v1.7h-4.6zM575.3 469.8h5.1v1.8h-5.1zM639.7 469.1h2.8v1.7h-2.8z" fill="#b1dbb1" stroke="none" mask="url(#mS)"/>
<path d="M192.4 471h4.9v1.6h-4.9zM212.1 471.5h4.9v1.3h-4.9zM226.9 471.7h4.9v1.4h-4.9zM252.4 471.1h5.2v1.5h-5.2zM293.1 471h5v1.9h-5zM298.1 472h5v1.8h-5zM438 470.7h5.1v1.8h-5.1zM443.1 472h5.1v1.7h-5.1zM448.2 471.8h5.1v1.8h-5.1zM458.3 470.5h5v1.8h-5zM463.2 471.1h5v2h-5zM468.2 470.5h5v1.8h-5zM473.1 471h5v1.6h-5zM478.1 470.6h4.4v1.9h-4.4zM488.3 471.6h4.6v1.5h-4.6zM492.9 471h4.6v1.6h-4.6zM570.2 472h5.1v1.6h-5.1zM575.3 471.6h5.1v1.8h-5.1zM580.4 471.1h5.1v1.5h-5.1zM585.5 470.5h6.4v1.5h-6.4zM585.5 472h6.4v1.5h-6.4zM591.9 471.9h5.1v1.5h-5.1zM639.7 470.8h2.8v1.7h-2.8zM646.7 471.5h7.1v1.7h-7.1zM667.2 471.7h4.2v1.6h-4.2z" fill="#b9d7b9" stroke="none" mask="url(#mS)"/>
<path d="M192.4 472.5h4.9v1.6h-4.9zM212.1 472.8h4.9v1.3h-4.9zM222 473.3h4.9v1.7h-4.9zM226.9 473.1h4.9v1.4h-4.9zM236.8 473.1h5.2v2.1h-5.2zM247.2 472.2h5.2v1.7h-5.2zM252.4 472.5h5.2v1.5h-5.2zM262.8 472.9h5.2v1.9h-5.2zM268 472.2h5.2v1.8h-5.2zM273.2 472.7h5v1.7h-5zM278.2 472.5h5v1.7h-5zM283.1 473.7h5v1.6h-5zM288.1 473.4h5v1.7h-5zM293.1 472.8h5v1.9h-5zM298.1 473.7h5v1.8h-5zM303 472.7h5v1.7h-5zM453.3 472.1h5v1.8h-5zM458.3 472.2h5v1.8h-5zM468.2 472.2h5v1.8h-5zM473.1 472.6h5v1.6h-5zM482.6 472.2h4.4v1.4h-4.4zM482.6 473.5h4.4v1.4h-4.4zM502 473.5h7v1.7h-7zM521.2 472.1h5.7v1.7h-5.7zM570.2 473.5h5.1v1.6h-5.1zM580.4 472.6h5.1v1.5h-5.1zM591.9 473.4h5.1v1.5h-5.1zM597 472.4h5.1v1.4h-5.1zM597 473.7h5.1v1.4h-5.1zM646.7 473.2h7.1v1.7h-7.1zM667.2 473.2h4.2v1.6h-4.2z" fill="#c0d4c0" stroke="none" mask="url(#mS)"/>
<path d="M166.9 473.8h7.2v1.8h-7.2zM197.3 474.6h4.9v2.1h-4.9zM202.3 473.8h4.9v1.8h-4.9zM222 474.9h4.9v1.7h-4.9zM236.8 475.2h5.2v2.1h-5.2zM242 474.5h5.2v2.2h-5.2zM247.2 473.9h5.2v1.7h-5.2zM257.6 475h5.2v2.4h-5.2zM262.8 474.7h5.2v1.9h-5.2zM268 473.9h5.2v1.8h-5.2zM273.2 474.4h5v1.7h-5zM278.2 474.1h5v1.7h-5zM283.1 475.2h5v1.6h-5zM288.1 475h5v1.7h-5zM303 474.4h5v1.7h-5zM502 475.2h7v1.7h-7zM509.7 473.9h5.7v1.9h-5.7zM515.4 473.9h5.7v2h-5.7zM521.2 473.8h5.7v1.7h-5.7zM642.5 475.2h4.2v1.9h-4.2z" fill="#c6d0c6" stroke="none" mask="url(#mS)"/>
<path d="M166.9 475.5h7.2v1.8h-7.2zM197.3 476.7h4.9v2.1h-4.9zM202.3 475.5h4.9v1.8h-4.9zM207.2 476.2h4.9v2.3h-4.9zM217.1 475.4h4.9v2.1h-4.9zM231.9 475.2h4.9v2.2h-4.9zM242 476.7h5.2v2.2h-5.2zM422.4 476.3h5.4v1.5h-5.4zM509.7 475.8h5.7v1.9h-5.7zM515.4 475.8h5.7v2h-5.7zM530 476.1h4.5v2h-4.5zM534.5 475.5h4.5v2h-4.5zM539 475.6h4.5v2h-4.5zM543.5 475.7h4.5v2h-4.5z" fill="#cccccc" stroke="none" mask="url(#mS)"/>
<path d="M207.2 478.4h4.9v2.3h-4.9zM217.1 477.5h4.9v2.1h-4.9zM231.9 477.4h4.9v2.2h-4.9zM257.6 477.3h5.2v2.4h-5.2zM351.1 478.7h5.2v1.2h-5.2zM391.8 478.5h4.6v1.3h-4.6zM401 477.9h5.4v1.8h-5.4zM406.4 477.5h5.4v1.7h-5.4zM411.7 477.3h5.4v1.7h-5.4zM417.1 477.2h5.4v1.7h-5.4zM422.4 477.8h5.4v1.5h-5.4zM530 478.1h4.5v2h-4.5zM534.5 477.5h4.5v2h-4.5zM539 477.6h4.5v2h-4.5zM543.5 477.7h4.5v2h-4.5zM632.6 477.4h7.1v1.9h-7.1zM642.5 477h4.2v1.9h-4.2z" fill="#d1c6c6" stroke="none" mask="url(#mS)"/>
<path d="M345.9 480.5h5.2v1.4h-5.2zM351.1 479.8h5.2v1.2h-5.2zM356.4 480.4h5.2v1.5h-5.2zM382.5 479.9h4.6v1.6h-4.6zM387.1 479.2h4.6v1.5h-4.6zM391.8 479.8h4.6v1.3h-4.6zM396.4 480.4h4.6v1.4h-4.6zM401 479.7h5.4v1.8h-5.4zM406.4 479.2h5.4v1.7h-5.4zM411.7 478.9h5.4v1.7h-5.4zM417.1 478.8h5.4v1.7h-5.4zM632.6 479.2h7.1v1.9h-7.1z" fill="#d6c0c0" stroke="none" mask="url(#mS)"/>
<path d="M340.7 480.6h5.2v1.5h-5.2zM340.7 482.1h5.2v1.5h-5.2zM345.9 481.9h5.2v1.4h-5.2zM356.4 481.9h5.2v1.5h-5.2zM361.6 482h5.2v1.7h-5.2zM366.8 482.1h5.2v1.7h-5.2zM382.5 481.5h4.6v1.6h-4.6zM387.1 480.7h4.6v1.5h-4.6zM396.4 481.8h4.6v1.4h-4.6zM556.2 482h5.7v1.5h-5.7zM617.4 480.6h4.7v1.5h-4.7zM617.4 482h4.7v1.5h-4.7zM622.1 481.8h4.7v1.7h-4.7zM626.7 481.8h4.7v1.7h-4.7zM655.4 481.7h4.6v1.4h-4.6zM660 481.2h4.5v1.3h-4.5z" fill="#d9b8b8" stroke="none" mask="url(#mS)"/>
<path d="M157.2 483h4.8v1.3h-4.8zM317.3 483.8h4.7v1.5h-4.7zM331.4 483.5h4.7v1.4h-4.7zM361.6 483.7h5.2v1.7h-5.2zM366.8 483.7h5.2v1.7h-5.2zM550.5 483.2h5.7v1.8h-5.7zM556.2 483.4h5.7v1.5h-5.7zM562 482.9h5.7v1.6h-5.7zM607 483.9h4.9v1.5h-4.9zM622.1 483.5h4.7v1.7h-4.7zM626.7 483.4h4.7v1.7h-4.7zM655.4 483h4.6v1.4h-4.6zM660 482.5h4.5v1.3h-4.5z" fill="#dbb0b0" stroke="none" mask="url(#mS)"/>
<path d="M147.6 484.7h4.8v1.4h-4.8zM152.4 484.2h4.8v1.5h-4.8zM152.4 485.6h4.8v1.5h-4.8zM157.2 484.2h4.8v1.3h-4.8zM308 484h4.7v1.5h-4.7zM308 485.5h4.7v1.5h-4.7zM312.7 484.4h4.7v1.5h-4.7zM317.3 485.2h4.7v1.5h-4.7zM322 485h4.7v1.6h-4.7zM326.7 484.1h4.7v1.4h-4.7zM326.7 485.5h4.7v1.4h-4.7zM331.4 484.8h4.7v1.4h-4.7zM336 484.2h4.7v1.6h-4.7zM550.5 484.9h5.7v1.8h-5.7zM562 484.4h5.7v1.6h-5.7zM602.1 484.6h4.9v1.7h-4.9zM607 485.4h4.9v1.5h-4.9zM611.9 485.5h4.9v1.6h-4.9z" fill="#dea8a8" stroke="none" mask="url(#mS)"/>
<path d="M147.6 486.1h4.8v1.4h-4.8zM162.1 486.2h4.8v1.8h-4.8zM312.7 485.9h4.7v1.5h-4.7zM322 486.6h4.7v1.6h-4.7zM336 485.7h4.7v1.6h-4.7zM602.1 486.2h4.9v1.7h-4.9zM611.9 487h4.9v1.6h-4.9z" fill="#dfa0a0" stroke="none" mask="url(#mS)"/>
<path d="M162.1 487.9h4.8v1.8h-4.8zM482.6 487.9h4.4v1.4h-4.4zM488.3 488.1h4.6v1.5h-4.6zM492.9 488.4h4.6v1.6h-4.6zM497.4 488.7h4.6v1.7h-4.6zM580.4 489h5.1v1.5h-5.1zM585.5 488.4h6.4v1.5h-6.4zM597 488h5.1v1.4h-5.1zM639.7 488.8h2.8v1.7h-2.8z" fill="#e09999" stroke="none" mask="url(#mS)"/>
<path d="M427.8 489.8h5.1v1.9h-5.1zM438 489.8h5.1v1.8h-5.1zM443.1 490.4h5.1v1.7h-5.1zM473.1 489.7h5v1.6h-5zM478.1 490.4h4.4v1.9h-4.4zM482.6 489.2h4.4v1.4h-4.4zM488.3 489.6h4.6v1.5h-4.6zM492.9 490h4.6v1.6h-4.6zM497.4 490.4h4.6v1.7h-4.6zM570.2 490h5.1v1.6h-5.1zM580.4 490.5h5.1v1.5h-5.1zM585.5 489.9h6.4v1.5h-6.4zM591.9 489.6h5.1v1.5h-5.1zM597 489.3h5.1v1.4h-5.1zM639.7 490.4h2.8v1.7h-2.8zM667.2 490.2h4.2v1.6h-4.2z" fill="#e29191" stroke="none" mask="url(#mS)"/>
<path d="M278.2 492.3h5v1.7h-5zM427.8 491.7h5.1v1.9h-5.1zM432.9 490.5h5.1v2h-5.1zM438 491.5h5.1v1.8h-5.1zM443.1 492.1h5.1v1.7h-5.1zM448.2 491.1h5.1v1.8h-5.1zM453.3 491.8h5v1.8h-5zM458.3 491h5v1.8h-5zM468.2 490.9h5v1.8h-5zM473.1 491.2h5v1.6h-5zM570.2 491.5h5.1v1.6h-5.1zM575.3 491.2h5.1v1.8h-5.1zM591.9 491.1h5.1v1.5h-5.1zM667.2 491.8h4.2v1.6h-4.2z" fill="#e38a8a" stroke="none" mask="url(#mS)"/>
<path d="M530 501h4.5v2h-4.5zM534.5 501.3h4.5v2h-4.5zM539 501.5h4.5v2h-4.5zM543.5 501.6h4.5v2h-4.5z" fill="#e45c5c" stroke="none" mask="url(#mS)"/>
<path d="M530 499.1h4.5v2h-4.5zM534.5 499.3h4.5v2h-4.5zM539 499.5h4.5v2h-4.5zM543.5 499.6h4.5v2h-4.5zM642.5 499.5h4.2v1.9h-4.2z" fill="#e46464" stroke="none" mask="url(#mS)"/>
<path d="M642.5 497.6h4.2v1.9h-4.2z" fill="#e46b6b" stroke="none" mask="url(#mS)"/>
<path d="M273.2 494.8h5v1.7h-5zM283.1 494.1h5v1.6h-5zM288.1 494.4h5v1.7h-5zM293.1 495.1h5v1.9h-5zM298.1 494.3h5v1.8h-5zM303 494.2h5v1.7h-5zM463.2 494.2h5v2h-5z" fill="#e47a7a" stroke="none" mask="url(#mS)"/>
<path d="M273.2 493.1h5v1.7h-5zM278.2 493.9h5v1.7h-5zM283.1 492.5h5v1.6h-5zM288.1 492.8h5v1.7h-5zM293.1 493.2h5v1.9h-5zM298.1 492.6h5v1.8h-5zM303 492.6h5v1.7h-5zM432.9 492.5h5.1v2h-5.1zM448.2 492.8h5.1v1.8h-5.1zM453.3 493.6h5v1.8h-5zM458.3 492.7h5v1.8h-5zM463.2 492.2h5v2h-5zM468.2 492.6h5v1.8h-5zM478.1 492.2h4.4v1.9h-4.4zM575.3 493h5.1v1.8h-5.1z" fill="#e48282" stroke="none" mask="url(#mS)"/>
<path d="M377.2 440.8h5.2v3.4h-5.2z" fill="#37e237" stroke="none" mask="url(#mD)"/>
<path d="M372 442.8h5.2v3h-5.2z" fill="#3ee33e" stroke="none" mask="url(#mD)"/>
<path d="M377.2 444.2h5.2v3.4h-5.2z" fill="#44e344" stroke="none" mask="url(#mD)"/>
<path d="M178.7 445.8h4.6v3h-4.6zM187.8 445.6h4.6v3h-4.6zM372 445.7h5.2v3h-5.2z" fill="#4be34b" stroke="none" mask="url(#mD)"/>
<path d="M174.1 446.9h4.6v2.6h-4.6zM183.2 446.5h4.6v2.8h-4.6z" fill="#52e352" stroke="none" mask="url(#mD)"/>
<path d="M174.1 449.5h4.6v2.6h-4.6zM178.7 448.7h4.6v3h-4.6zM183.2 449.2h4.6v2.8h-4.6zM187.8 448.6h4.6v3h-4.6z" fill="#58e458" stroke="none" mask="url(#mD)"/>
<path d="M236.8 452.7h5.2v2.9h-5.2zM242 452.5h5.2v3.1h-5.2zM257.6 451.8h5.2v3.3h-5.2z" fill="#68e468" stroke="none" mask="url(#mD)"/>
<path d="M197.3 453.9h4.9v3h-4.9zM207.2 453.9h4.9v3.2h-4.9zM231.9 453.7h4.9v3.1h-4.9zM262.8 454.7h5.2v2.6h-5.2zM515.4 454.7h5.7v2.7h-5.7z" fill="#70e370" stroke="none" mask="url(#mD)"/>
<path d="M166.9 456h7.2v2.5h-7.2zM192.4 455.9h4.9v2.2h-4.9zM202.3 456.5h4.9v2.5h-4.9zM217.1 454.8h4.9v2.9h-4.9zM236.8 455.5h5.2v2.9h-5.2zM242 455.6h5.2v3.1h-5.2zM247.2 455.4h5.2v2.4h-5.2zM252.4 456.5h5.2v2.1h-5.2zM257.6 455h5.2v3.3h-5.2zM268 454.9h5.2v2.5h-5.2zM509.7 455.6h5.7v2.6h-5.7zM521.2 455.8h5.7v2.3h-5.7zM646.7 455h7.1v2.4h-7.1z" fill="#79e379" stroke="none" mask="url(#mD)"/>
<path d="M192.4 458h4.9v2.2h-4.9zM197.3 456.8h4.9v3h-4.9zM207.2 457h4.9v3.2h-4.9zM217.1 457.7h4.9v2.9h-4.9zM222 456.8h4.9v2.3h-4.9zM226.9 458.1h4.9v2h-4.9zM231.9 456.7h4.9v3.1h-4.9zM247.2 457.7h5.2v2.4h-5.2zM262.8 457.2h5.2v2.6h-5.2zM268 457.3h5.2v2.5h-5.2zM372 457.8h5.2v3h-5.2zM502 456.8h7v2.4h-7zM515.4 457.4h5.7v2.7h-5.7zM521.2 458.1h5.7v2.3h-5.7zM646.7 457.3h7.1v2.4h-7.1z" fill="#81e281" stroke="none" mask="url(#mD)"/>
<path d="M166.9 458.5h7.2v2.5h-7.2zM202.3 458.9h4.9v2.5h-4.9zM212.1 458.8h4.9v1.8h-4.9zM222 459.1h4.9v2.3h-4.9zM226.9 460h4.9v2h-4.9zM252.4 458.5h5.2v2.1h-5.2zM377.2 458.2h5.2v3.4h-5.2zM502 459.1h7v2.4h-7zM509.7 458.2h5.7v2.6h-5.7zM632.6 459.2h7.1v2.6h-7.1z" fill="#8ae28a" stroke="none" mask="url(#mD)"/>
<path d="M174.1 460h4.6v2.6h-4.6zM178.7 460.8h4.6v3h-4.6zM183.2 460.5h4.6v2.8h-4.6zM187.8 460.9h4.6v3h-4.6zM212.1 460.5h4.9v1.8h-4.9zM372 460.7h5.2v3h-5.2zM401 460.1h5.4v2.5h-5.4zM406.4 460.5h5.4v2.4h-5.4zM411.7 460.4h5.4v2.4h-5.4zM417.1 460.8h5.4v2.3h-5.4zM422.4 461.6h5.4v2.1h-5.4z" fill="#90e190" stroke="none" mask="url(#mD)"/>
<path d="M174.1 462.6h4.6v2.6h-4.6zM377.2 461.5h5.2v3.4h-5.2zM401 462.6h5.4v2.5h-5.4zM406.4 462.9h5.4v2.4h-5.4zM411.7 462.8h5.4v2.4h-5.4zM417.1 463.1h5.4v2.3h-5.4zM632.6 461.8h7.1v2.6h-7.1z" fill="#97e097" stroke="none" mask="url(#mD)"/>
<path d="M178.7 463.7h4.6v3h-4.6zM183.2 463.2h4.6v2.8h-4.6zM187.8 463.8h4.6v3h-4.6zM382.5 464.3h4.6v2.2h-4.6zM387.1 464.2h4.6v2.1h-4.6zM422.4 463.7h5.4v2.1h-5.4z" fill="#9de09d" stroke="none" mask="url(#mD)"/>
<path d="M192.4 466.7h4.9v2.2h-4.9zM340.7 466.5h5.2v2h-5.2zM345.9 466.7h5.2v2h-5.2zM356.4 465.5h5.2v2.1h-5.2zM361.6 465.3h5.2v2.4h-5.2zM366.8 465.7h5.2v2.3h-5.2zM382.5 466.5h4.6v2.2h-4.6zM387.1 466.3h4.6v2.1h-4.6zM391.8 466.5h4.6v1.7h-4.6zM396.4 466.4h4.6v2h-4.6zM550.5 465.7h5.7v2.5h-5.7zM617.4 466.6h4.7v2h-4.7zM622.1 465.3h4.7v2.4h-4.7zM626.7 465.3h4.7v2.4h-4.7z" fill="#a4dfa4" stroke="none" mask="url(#mD)"/>
<path d="M212.1 467.9h4.9v1.8h-4.9zM226.9 467.9h4.9v2h-4.9zM236.8 467.4h5.2v2.9h-5.2zM247.2 467.5h5.2v2.4h-5.2zM252.4 467h5.2v2.1h-5.2zM262.8 467.8h5.2v2.6h-5.2zM268 467.3h5.2v2.5h-5.2zM340.7 468.4h5.2v2h-5.2zM351.1 467.4h5.2v1.6h-5.2zM356.4 467.6h5.2v2.1h-5.2zM361.6 467.6h5.2v2.4h-5.2zM366.8 468h5.2v2.3h-5.2zM391.8 468.2h4.6v1.7h-4.6zM396.4 468.4h4.6v2h-4.6zM521.2 467.6h5.7v2.3h-5.7zM550.5 468.1h5.7v2.5h-5.7zM556.2 468h5.7v2h-5.7zM562 467.1h5.7v2.3h-5.7zM622.1 467.6h4.7v2.4h-4.7zM626.7 467.6h4.7v2.4h-4.7zM646.7 466.9h7.1v2.4h-7.1zM655.4 468.3h4.6v1.9h-4.6z" fill="#aadeaa" stroke="none" mask="url(#mD)"/>
<path d="M152.4 470h4.8v2h-4.8zM162.1 468.9h4.8v2.5h-4.8zM166.9 468.8h7.2v2.5h-7.2zM192.4 468.9h4.9v2.2h-4.9zM197.3 468.8h4.9v3h-4.9zM202.3 468.9h4.9v2.5h-4.9zM212.1 469.7h4.9v1.8h-4.9zM217.1 469.7h4.9v2.9h-4.9zM222 468.7h4.9v2.3h-4.9zM226.9 469.8h4.9v2h-4.9zM231.9 469.2h4.9v3.1h-4.9zM242 468.4h5.2v3.1h-5.2zM247.2 469.8h5.2v2.4h-5.2zM252.4 469h5.2v2.1h-5.2zM257.6 468.5h5.2v3.3h-5.2zM268 469.8h5.2v2.5h-5.2zM308 469.2h4.7v2.1h-4.7zM312.7 469.5h4.7v2.1h-4.7zM317.3 469.2h4.7v2.1h-4.7zM322 469.5h4.7v2.2h-4.7zM336 468.6h4.7v2.2h-4.7zM345.9 468.7h5.2v2h-5.2zM351.1 469h5.2v1.6h-5.2zM502 468.8h7v2.4h-7zM509.7 468.8h5.7v2.6h-5.7zM515.4 468.5h5.7v2.7h-5.7zM521.2 469.9h5.7v2.3h-5.7zM556.2 469.9h5.7v2h-5.7zM562 469.3h5.7v2.3h-5.7zM602.1 468.4h4.9v2.3h-4.9zM607 469.1h4.9v2.1h-4.9zM617.4 468.6h4.7v2h-4.7zM646.7 469.2h7.1v2.4h-7.1zM655.4 470.2h4.6v1.9h-4.6zM660 468.7h4.5v1.8h-4.5z" fill="#b1dbb1" stroke="none" mask="url(#mD)"/>
<path d="M147.6 470.7h4.8v2h-4.8zM157.2 470.8h4.8v1.8h-4.8zM162.1 471.4h4.8v2.5h-4.8zM166.9 471.3h7.2v2.5h-7.2zM202.3 471.4h4.9v2.5h-4.9zM207.2 470h4.9v3.2h-4.9zM222 471h4.9v2.3h-4.9zM236.8 470.3h5.2v2.9h-5.2zM262.8 470.3h5.2v2.6h-5.2zM308 471.3h4.7v2.1h-4.7zM312.7 471.5h4.7v2.1h-4.7zM317.3 471.3h4.7v2.1h-4.7zM322 471.7h4.7v2.2h-4.7zM326.7 470.4h4.7v2h-4.7zM331.4 470.4h4.7v1.9h-4.7zM336 470.8h4.7v2.2h-4.7zM427.8 471.3h5.1v2.6h-5.1zM432.9 470.6h5.1v2.8h-5.1zM502 471.2h7v2.4h-7zM509.7 471.4h5.7v2.6h-5.7zM515.4 471.2h5.7v2.7h-5.7zM602.1 470.7h4.9v2.3h-4.9zM607 471.2h4.9v2.1h-4.9zM611.9 470.3h4.9v2.2h-4.9zM660 470.5h4.5v1.8h-4.5z" fill="#b9d7b9" stroke="none" mask="url(#mD)"/>
<path d="M147.6 472.7h4.8v2h-4.8zM152.4 472h4.8v2h-4.8zM157.2 472.5h4.8v1.8h-4.8zM197.3 471.7h4.9v3h-4.9zM217.1 472.6h4.9v2.9h-4.9zM231.9 472.2h4.9v3.1h-4.9zM242 471.4h5.2v3.1h-5.2zM257.6 471.7h5.2v3.3h-5.2zM326.7 472.3h4.7v2h-4.7zM331.4 472.2h4.7v1.9h-4.7zM401 472.9h5.4v2.5h-5.4zM406.4 472.7h5.4v2.4h-5.4zM411.7 472.6h5.4v2.4h-5.4zM417.1 472.6h5.4v2.3h-5.4zM422.4 472.2h5.4v2.1h-5.4zM438 472.4h5.1v2.5h-5.1zM463.2 473h5v2.7h-5zM478.1 472.4h4.4v2.6h-4.4zM488.3 473.1h4.6v2.1h-4.6zM492.9 472.6h4.6v2.3h-4.6zM497.4 471.9h4.6v2.4h-4.6zM585.5 473.5h6.4v2.1h-6.4zM611.9 472.4h4.9v2.2h-4.9zM632.6 472.3h7.1v2.6h-7.1zM639.7 472.4h2.8v2.3h-2.8z" fill="#c0d4c0" stroke="none" mask="url(#mD)"/>
<path d="M207.2 473.1h4.9v3.2h-4.9zM293.1 474.7h5v2.6h-5zM387.1 475h4.6v2.1h-4.6zM391.8 475.2h4.6v1.7h-4.6zM411.7 474.9h5.4v2.4h-5.4zM417.1 474.9h5.4v2.3h-5.4zM422.4 474.3h5.4v2.1h-5.4zM427.8 473.9h5.1v2.6h-5.1zM432.9 473.3h5.1v2.8h-5.1zM438 474.9h5.1v2.5h-5.1zM443.1 473.7h5.1v2.4h-5.1zM448.2 473.6h5.1v2.5h-5.1zM453.3 473.9h5v2.6h-5zM458.3 473.9h5v2.4h-5zM468.2 473.9h5v2.4h-5zM473.1 474.1h5v2.2h-5zM478.1 474.9h4.4v2.6h-4.4zM482.6 474.9h4.4v1.9h-4.4zM488.3 475.2h4.6v2.1h-4.6zM492.9 474.8h4.6v2.3h-4.6zM497.4 474.3h4.6v2.4h-4.6zM570.2 475h5.1v2.2h-5.1zM575.3 473.4h5.1v2.5h-5.1zM580.4 474.1h5.1v2.1h-5.1zM591.9 474.9h5.1v2.1h-5.1zM597 475h5.1v1.9h-5.1zM632.6 474.9h7.1v2.6h-7.1zM639.7 474.7h2.8v2.3h-2.8zM667.2 474.8h4.2v2.2h-4.2z" fill="#c6d0c6" stroke="none" mask="url(#mD)"/>
<path d="M273.2 476.1h5v2.4h-5zM278.2 475.8h5v2.4h-5zM283.1 476.8h5v2.2h-5zM288.1 476.6h5v2.3h-5zM298.1 475.4h5v2.5h-5zM303 476h5v2.4h-5zM340.7 476.7h5.2v2h-5.2zM345.9 476.7h5.2v2h-5.2zM351.1 475.5h5.2v1.6h-5.2zM351.1 477.1h5.2v1.6h-5.2zM356.4 476.2h5.2v2.1h-5.2zM382.5 475.6h4.6v2.2h-4.6zM391.8 476.9h4.6v1.7h-4.6zM396.4 476.5h4.6v2h-4.6zM401 475.4h5.4v2.5h-5.4zM406.4 475.1h5.4v2.4h-5.4zM443.1 476h5.1v2.4h-5.1zM448.2 476h5.1v2.5h-5.1zM453.3 476.4h5v2.6h-5zM458.3 476.3h5v2.4h-5zM463.2 475.7h5v2.7h-5zM468.2 476.3h5v2.4h-5zM473.1 476.3h5v2.2h-5zM482.6 476.7h4.4v1.9h-4.4zM575.3 475.9h5.1v2.5h-5.1zM580.4 476.2h5.1v2.1h-5.1zM585.5 475.6h6.4v2.1h-6.4zM597 476.9h5.1v1.9h-5.1zM617.4 476.7h4.7v2h-4.7z" fill="#cccccc" stroke="none" mask="url(#mD)"/>
<path d="M278.2 478.1h5v2.4h-5zM293.1 477.3h5v2.6h-5zM298.1 477.8h5v2.5h-5zM303 478.4h5v2.4h-5zM345.9 478.6h5.2v2h-5.2zM356.4 478.3h5.2v2.1h-5.2zM361.6 477.3h5.2v2.4h-5.2zM366.8 477.5h5.2v2.3h-5.2zM382.5 477.7h4.6v2.2h-4.6zM387.1 477.1h4.6v2.1h-4.6zM396.4 478.4h4.6v2h-4.6zM550.5 478.3h5.7v2.5h-5.7zM556.2 478.1h5.7v2h-5.7zM562 478.5h5.7v2.3h-5.7zM570.2 477.1h5.1v2.2h-5.1zM591.9 476.9h5.1v2.1h-5.1zM622.1 477.2h4.7v2.4h-4.7zM626.7 477.2h4.7v2.4h-4.7zM655.4 477.9h4.6v1.9h-4.6zM660 477.7h4.5v1.8h-4.5zM667.2 476.9h4.2v2.2h-4.2z" fill="#d1c6c6" stroke="none" mask="url(#mD)"/>
<path d="M152.4 480.2h4.8v2h-4.8zM157.2 479.6h4.8v1.8h-4.8zM273.2 478.5h5v2.4h-5zM283.1 479h5v2.2h-5zM288.1 478.9h5v2.3h-5zM308 479.9h4.7v2.1h-4.7zM312.7 480.2h4.7v2.1h-4.7zM317.3 479.7h4.7v2.1h-4.7zM326.7 480.3h4.7v2h-4.7zM331.4 479.8h4.7v1.9h-4.7zM336 479.8h4.7v2.2h-4.7zM340.7 478.7h5.2v2h-5.2zM361.6 479.6h5.2v2.4h-5.2zM366.8 479.8h5.2v2.3h-5.2zM530 480h4.5v2.7h-4.5zM534.5 479.4h4.5v2.8h-4.5zM539 479.6h4.5v2.8h-4.5zM543.5 479.7h4.5v2.8h-4.5zM556.2 480h5.7v2h-5.7zM602.1 480.1h4.9v2.3h-4.9zM607 479.8h4.9v2.1h-4.9zM617.4 478.7h4.7v2h-4.7zM622.1 479.5h4.7v2.4h-4.7zM626.7 479.5h4.7v2.4h-4.7zM642.5 478.9h4.2v2.7h-4.2zM655.4 479.8h4.6v1.9h-4.6zM660 479.5h4.5v1.8h-4.5z" fill="#d6c0c0" stroke="none" mask="url(#mD)"/>
<path d="M147.6 480.8h4.8v2h-4.8zM157.2 481.3h4.8v1.8h-4.8zM162.1 481.4h4.8v2.5h-4.8zM317.3 481.7h4.7v2.1h-4.7zM322 480.7h4.7v2.2h-4.7zM331.4 481.6h4.7v1.9h-4.7zM550.5 480.7h5.7v2.5h-5.7zM562 480.7h5.7v2.3h-5.7zM607 481.8h4.9v2.1h-4.9zM611.9 481.2h4.9v2.2h-4.9zM642.5 481.5h4.2v2.7h-4.2z" fill="#d9b8b8" stroke="none" mask="url(#mD)"/>
<path d="M147.6 482.7h4.8v2h-4.8zM152.4 482.2h4.8v2h-4.8zM308 482h4.7v2.1h-4.7zM312.7 482.3h4.7v2.1h-4.7zM322 482.8h4.7v2.2h-4.7zM326.7 482.2h4.7v2h-4.7zM336 482h4.7v2.2h-4.7zM530 482.7h4.5v2.7h-4.5zM534.5 482.2h4.5v2.8h-4.5zM539 482.4h4.5v2.8h-4.5zM543.5 482.5h4.5v2.8h-4.5zM602.1 482.3h4.9v2.3h-4.9zM611.9 483.4h4.9v2.2h-4.9z" fill="#dbb0b0" stroke="none" mask="url(#mD)"/>
<path d="M162.1 483.8h4.8v2.5h-4.8zM427.8 484.6h5.1v2.6h-5.1zM432.9 484.9h5.1v2.8h-5.1zM438 484.9h5.1v2.5h-5.1zM482.6 484.3h4.4v1.9h-4.4zM488.3 483.9h4.6v2.1h-4.6zM492.9 484h4.6v2.3h-4.6zM497.4 484h4.6v2.4h-4.6zM580.4 484.8h5.1v2.1h-5.1zM585.5 484.2h6.4v2.1h-6.4zM597 484.4h5.1v1.9h-5.1zM639.7 484.2h2.8v2.3h-2.8z" fill="#dea8a8" stroke="none" mask="url(#mD)"/>
<path d="M443.1 485.8h5.1v2.4h-5.1zM448.2 486.2h5.1v2.5h-5.1zM453.3 486.8h5v2.6h-5zM458.3 486.2h5v2.4h-5zM468.2 486.2h5v2.4h-5zM473.1 485.3h5v2.2h-5zM478.1 485.4h4.4v2.6h-4.4zM482.6 486.1h4.4v1.9h-4.4zM488.3 486h4.6v2.1h-4.6zM492.9 486.2h4.6v2.3h-4.6zM497.4 486.4h4.6v2.4h-4.6zM570.2 485.8h5.1v2.2h-5.1zM575.3 486.2h5.1v2.5h-5.1zM580.4 486.9h5.1v2.1h-5.1zM585.5 486.3h6.4v2.1h-6.4zM591.9 485.5h5.1v2.1h-5.1zM597 486.2h5.1v1.9h-5.1zM639.7 486.5h2.8v2.3h-2.8zM667.2 485.9h4.2v2.2h-4.2z" fill="#dfa0a0" stroke="none" mask="url(#mD)"/>
<path d="M273.2 488.3h5v2.4h-5zM278.2 487.6h5v2.4h-5zM283.1 488.1h5v2.2h-5zM288.1 488.2h5v2.3h-5zM293.1 488h5v2.6h-5zM298.1 487.8h5v2.5h-5zM303 488h5v2.4h-5zM427.8 487.2h5.1v2.6h-5.1zM432.9 487.7h5.1v2.8h-5.1zM438 487.3h5.1v2.5h-5.1zM443.1 488.1h5.1v2.4h-5.1zM463.2 486.9h5v2.7h-5zM473.1 487.5h5v2.2h-5zM478.1 487.9h4.4v2.6h-4.4zM570.2 487.9h5.1v2.2h-5.1zM591.9 487.5h5.1v2.1h-5.1zM667.2 488.1h4.2v2.2h-4.2z" fill="#e09999" stroke="none" mask="url(#mD)"/>
<path d="M278.2 489.9h5v2.4h-5zM283.1 490.3h5v2.2h-5zM298.1 490.2h5v2.5h-5zM448.2 488.6h5.1v2.5h-5.1zM453.3 489.3h5v2.6h-5zM458.3 488.6h5v2.4h-5zM463.2 489.6h5v2.7h-5zM468.2 488.6h5v2.4h-5zM575.3 488.7h5.1v2.5h-5.1z" fill="#e29191" stroke="none" mask="url(#mD)"/>
<path d="M273.2 490.7h5v2.4h-5zM288.1 490.5h5v2.3h-5zM293.1 490.6h5v2.6h-5zM303 490.3h5v2.4h-5z" fill="#e38a8a" stroke="none" mask="url(#mD)"/>
<path d="M543.5 496.9h4.5v2.8h-4.5z" fill="#e46b6b" stroke="none" mask="url(#mD)"/>
<path d="M530 496.4h4.5v2.7h-4.5zM534.5 496.5h4.5v2.8h-4.5zM539 496.7h4.5v2.8h-4.5z" fill="#e47373" stroke="none" mask="url(#mD)"/>
<path d="M530 493.8h4.5v2.7h-4.5zM534.5 493.7h4.5v2.8h-4.5zM539 493.9h4.5v2.8h-4.5zM543.5 494.1h4.5v2.8h-4.5zM642.5 495h4.2v2.7h-4.2z" fill="#e47a7a" stroke="none" mask="url(#mD)"/>
<path d="M642.5 492.4h4.2v2.7h-4.2z" fill="#e48282" stroke="none" mask="url(#mD)"/>
<path d="M377.2 447.6h5.2v2.7h-5.2z" fill="#52e352" stroke="none" fill-opacity="0.92"/>
<path d="M372 448.6h5.2v2.3h-5.2z" fill="#58e458" stroke="none" fill-opacity="0.92"/>
<path d="M372 450.9h5.2v2.3h-5.2zM377.2 450.2h5.2v2.7h-5.2z" fill="#5fe45f" stroke="none" fill-opacity="0.92"/>
<path d="M174.1 452h4.6v2.1h-4.6zM178.7 451.6h4.6v2.3h-4.6zM183.2 452h4.6v2.2h-4.6zM187.8 451.5h4.6v2.4h-4.6zM372 453.2h5.2v2.3h-5.2zM377.2 452.9h5.2v2.7h-5.2z" fill="#68e468" stroke="none" fill-opacity="0.92"/>
<path d="M174.1 454h4.6v2.1h-4.6zM178.7 453.9h4.6v2.3h-4.6zM183.2 454.1h4.6v2.2h-4.6zM187.8 453.9h4.6v2.4h-4.6z" fill="#70e370" stroke="none" fill-opacity="0.92"/>
<path d="M174.1 456h4.6v2.1h-4.6zM178.7 456.2h4.6v2.3h-4.6zM183.2 456.2h4.6v2.2h-4.6zM187.8 456.2h4.6v2.4h-4.6zM372 455.5h5.2v2.3h-5.2zM377.2 455.5h5.2v2.7h-5.2z" fill="#79e379" stroke="none" fill-opacity="0.92"/>
<path d="M174.1 458h4.6v2.1h-4.6zM183.2 458.3h4.6v2.2h-4.6z" fill="#81e281" stroke="none" fill-opacity="0.92"/>
<path d="M178.7 458.5h4.6v2.3h-4.6zM187.8 458.5h4.6v2.4h-4.6zM192.4 460.1h4.9v1.7h-4.9zM197.3 459.7h4.9v2.3h-4.9zM231.9 459.7h4.9v2.4h-4.9zM236.8 458.4h5.2v2.3h-5.2zM242 458.7h5.2v2.5h-5.2zM247.2 460.1h5.2v1.9h-5.2zM257.6 458.3h5.2v2.6h-5.2zM262.8 459.8h5.2v2h-5.2zM268 459.7h5.2v2h-5.2zM646.7 459.7h7.1v1.9h-7.1z" fill="#8ae28a" stroke="none" fill-opacity="0.92"/>
<path d="M166.9 461h7.2v2h-7.2zM192.4 461.8h4.9v1.7h-4.9zM202.3 461.3h4.9v2h-4.9zM207.2 460.2h4.9v2.5h-4.9zM217.1 460.6h4.9v2.3h-4.9zM222 461.4h4.9v1.9h-4.9zM226.9 461.9h4.9v1.5h-4.9zM236.8 460.6h5.2v2.3h-5.2zM242 461.1h5.2v2.5h-5.2zM252.4 460.6h5.2v1.7h-5.2zM257.6 460.8h5.2v2.6h-5.2zM268 461.6h5.2v2h-5.2zM502 461.5h7v1.9h-7zM509.7 460.7h5.7v2.1h-5.7zM515.4 460.1h5.7v2.2h-5.7zM521.2 460.4h5.7v1.9h-5.7zM646.7 461.5h7.1v1.9h-7.1z" fill="#90e190" stroke="none" fill-opacity="0.92"/>
<path d="M166.9 462.9h7.2v2h-7.2zM192.4 463.4h4.9v1.7h-4.9zM197.3 462h4.9v2.3h-4.9zM202.3 463.2h4.9v2h-4.9zM207.2 462.6h4.9v2.5h-4.9zM212.1 462.3h4.9v1.5h-4.9zM212.1 463.7h4.9v1.5h-4.9zM217.1 462.9h4.9v2.3h-4.9zM222 463.2h4.9v1.9h-4.9zM226.9 463.4h4.9v1.5h-4.9zM231.9 462.1h4.9v2.4h-4.9zM236.8 462.9h5.2v2.3h-5.2zM247.2 461.9h5.2v1.9h-5.2zM252.4 462.2h5.2v1.7h-5.2zM262.8 461.8h5.2v2h-5.2zM502 463.3h7v1.9h-7zM509.7 462.7h5.7v2.1h-5.7zM515.4 462.2h5.7v2.2h-5.7zM521.2 462.2h5.7v1.9h-5.7zM646.7 463.3h7.1v1.9h-7.1z" fill="#97e097" stroke="none" fill-opacity="0.92"/>
<path d="M166.9 464.9h7.2v2h-7.2zM192.4 465.1h4.9v1.7h-4.9zM197.3 464.3h4.9v2.3h-4.9zM202.3 465.1h4.9v2h-4.9zM212.1 465.1h4.9v1.5h-4.9zM222 465.1h4.9v1.9h-4.9zM226.9 464.9h4.9v1.5h-4.9zM231.9 464.4h4.9v2.4h-4.9zM242 463.5h5.2v2.5h-5.2zM247.2 463.8h5.2v1.9h-5.2zM252.4 463.8h5.2v1.7h-5.2zM257.6 463.4h5.2v2.6h-5.2zM262.8 463.8h5.2v2h-5.2zM268 463.5h5.2v2h-5.2zM401 465.1h5.4v2h-5.4zM411.7 465.1h5.4v1.9h-5.4zM502 465.1h7v1.9h-7zM509.7 464.8h5.7v2.1h-5.7zM515.4 464.3h5.7v2.2h-5.7zM521.2 464h5.7v1.9h-5.7zM632.6 464.3h7.1v2.1h-7.1zM646.7 465.1h7.1v1.9h-7.1z" fill="#9de09d" stroke="none" fill-opacity="0.92"/>
<path d="M166.9 466.8h7.2v2h-7.2zM197.3 466.6h4.9v2.3h-4.9zM207.2 465.1h4.9v2.5h-4.9zM212.1 466.5h4.9v1.5h-4.9zM217.1 465.1h4.9v2.3h-4.9zM222 466.9h4.9v1.9h-4.9zM226.9 466.4h4.9v1.5h-4.9zM236.8 465.2h5.2v2.3h-5.2zM242 465.9h5.2v2.5h-5.2zM247.2 465.6h5.2v1.9h-5.2zM252.4 465.4h5.2v1.7h-5.2zM257.6 465.9h5.2v2.6h-5.2zM262.8 465.8h5.2v2h-5.2zM268 465.4h5.2v2h-5.2zM406.4 465.3h5.4v1.9h-5.4zM417.1 465.4h5.4v1.9h-5.4zM422.4 465.7h5.4v1.7h-5.4zM509.7 466.8h5.7v2.1h-5.7zM515.4 466.4h5.7v2.2h-5.7zM521.2 465.8h5.7v1.9h-5.7zM632.6 466.3h7.1v2.1h-7.1z" fill="#a4dfa4" stroke="none" fill-opacity="0.92"/>
<path d="M202.3 467h4.9v2h-4.9zM207.2 467.5h4.9v2.5h-4.9zM217.1 467.4h4.9v2.3h-4.9zM231.9 466.8h4.9v2.4h-4.9zM387.1 468.4h4.6v1.7h-4.6zM401 467.1h5.4v2h-5.4zM406.4 467.1h5.4v1.9h-5.4zM411.7 467h5.4v1.9h-5.4zM417.1 467.2h5.4v1.9h-5.4zM422.4 467.4h5.4v1.7h-5.4zM502 467h7v1.9h-7zM632.6 468.3h7.1v2.1h-7.1z" fill="#aadeaa" stroke="none" fill-opacity="0.92"/>
<path d="M356.4 469.7h5.2v1.7h-5.2zM361.6 469.9h5.2v1.9h-5.2zM382.5 468.7h4.6v1.8h-4.6zM387.1 470.1h4.6v1.7h-4.6zM391.8 469.9h4.6v1.4h-4.6zM396.4 470.3h4.6v1.6h-4.6zM401 469h5.4v2h-5.4zM406.4 469h5.4v1.9h-5.4zM411.7 468.8h5.4v1.9h-5.4zM417.1 469h5.4v1.9h-5.4zM422.4 469h5.4v1.7h-5.4zM622.1 469.9h4.7v1.9h-4.7zM626.7 469.9h4.7v1.9h-4.7z" fill="#b1dbb1" stroke="none" fill-opacity="0.92"/>
<path d="M340.7 470.4h5.2v1.6h-5.2zM340.7 472h5.2v1.6h-5.2zM345.9 470.6h5.2v1.6h-5.2zM345.9 472.1h5.2v1.6h-5.2zM351.1 470.6h5.2v1.3h-5.2zM351.1 471.8h5.2v1.3h-5.2zM356.4 471.3h5.2v1.7h-5.2zM361.6 471.8h5.2v1.9h-5.2zM366.8 470.3h5.2v1.9h-5.2zM382.5 470.4h4.6v1.8h-4.6zM387.1 471.7h4.6v1.7h-4.6zM391.8 471.2h4.6v1.4h-4.6zM396.4 471.8h4.6v1.6h-4.6zM401 471h5.4v2h-5.4zM406.4 470.9h5.4v1.9h-5.4zM411.7 470.7h5.4v1.9h-5.4zM417.1 470.8h5.4v1.9h-5.4zM422.4 470.6h5.4v1.7h-5.4zM550.5 470.6h5.7v2h-5.7zM556.2 471.9h5.7v1.6h-5.7zM562 471.5h5.7v1.8h-5.7zM617.4 470.5h4.7v1.6h-4.7zM617.4 472.1h4.7v1.6h-4.7zM622.1 471.7h4.7v1.9h-4.7zM626.7 471.7h4.7v1.9h-4.7zM632.6 470.3h7.1v2.1h-7.1zM655.4 472.1h4.6v1.5h-4.6z" fill="#b9d7b9" stroke="none" fill-opacity="0.92"/>
<path d="M308 473.3h4.7v1.7h-4.7zM312.7 473.6h4.7v1.7h-4.7zM317.3 473.3h4.7v1.6h-4.7zM336 472.9h4.7v1.8h-4.7zM340.7 473.6h5.2v1.6h-5.2zM345.9 473.6h5.2v1.6h-5.2zM351.1 473.1h5.2v1.3h-5.2zM356.4 473h5.2v1.7h-5.2zM361.6 473.6h5.2v1.9h-5.2zM366.8 472.1h5.2v1.9h-5.2zM382.5 472.1h4.6v1.8h-4.6zM387.1 473.4h4.6v1.7h-4.6zM391.8 472.5h4.6v1.4h-4.6zM391.8 473.8h4.6v1.4h-4.6zM396.4 473.4h4.6v1.6h-4.6zM550.5 472.5h5.7v2h-5.7zM556.2 473.5h5.7v1.6h-5.7zM562 473.3h5.7v1.8h-5.7zM602.1 472.9h4.9v1.8h-4.9zM607 473.3h4.9v1.7h-4.9zM617.4 473.6h4.7v1.6h-4.7zM622.1 473.6h4.7v1.9h-4.7zM626.7 473.6h4.7v1.9h-4.7zM655.4 473.5h4.6v1.5h-4.6zM660 472.2h4.5v1.4h-4.5zM660 473.6h4.5v1.4h-4.5z" fill="#c0d4c0" stroke="none" fill-opacity="0.92"/>
<path d="M147.6 474.6h4.8v1.6h-4.8zM152.4 474h4.8v1.6h-4.8zM157.2 474.2h4.8v1.4h-4.8zM157.2 475.5h4.8v1.4h-4.8zM162.1 473.8h4.8v1.9h-4.8zM308 475h4.7v1.7h-4.7zM312.7 475.3h4.7v1.7h-4.7zM317.3 474.9h4.7v1.6h-4.7zM322 473.9h4.7v1.8h-4.7zM326.7 474.3h4.7v1.6h-4.7zM331.4 474.1h4.7v1.5h-4.7zM331.4 475.5h4.7v1.5h-4.7zM336 474.7h4.7v1.8h-4.7zM340.7 475.1h5.2v1.6h-5.2zM345.9 475.1h5.2v1.6h-5.2zM351.1 474.3h5.2v1.3h-5.2zM356.4 474.6h5.2v1.7h-5.2zM366.8 473.9h5.2v1.9h-5.2zM382.5 473.8h4.6v1.8h-4.6zM396.4 474.9h4.6v1.6h-4.6zM550.5 474.4h5.7v2h-5.7zM556.2 475h5.7v1.6h-5.7zM562 475h5.7v1.8h-5.7zM602.1 474.7h4.9v1.8h-4.9zM607 474.9h4.9v1.7h-4.9zM611.9 474.5h4.9v1.7h-4.9zM617.4 475.2h4.7v1.6h-4.7zM655.4 475h4.6v1.5h-4.6zM660 475h4.5v1.4h-4.5z" fill="#c6d0c6" stroke="none" fill-opacity="0.92"/>
<path d="M147.6 476.2h4.8v1.6h-4.8zM152.4 475.5h4.8v1.6h-4.8zM152.4 477.1h4.8v1.6h-4.8zM157.2 476.9h4.8v1.4h-4.8zM162.1 475.7h4.8v1.9h-4.8zM308 476.6h4.7v1.7h-4.7zM312.7 476.9h4.7v1.7h-4.7zM317.3 476.5h4.7v1.6h-4.7zM322 475.6h4.7v1.8h-4.7zM326.7 475.8h4.7v1.6h-4.7zM331.4 476.9h4.7v1.5h-4.7zM336 476.4h4.7v1.8h-4.7zM361.6 475.5h5.2v1.9h-5.2zM366.8 475.7h5.2v1.9h-5.2zM427.8 476.5h5.1v2.1h-5.1zM432.9 476.1h5.1v2.2h-5.1zM492.9 477h4.6v1.8h-4.6zM497.4 476.6h4.6v1.9h-4.6zM550.5 476.4h5.7v2h-5.7zM556.2 476.5h5.7v1.6h-5.7zM562 476.7h5.7v1.8h-5.7zM602.1 476.5h4.9v1.8h-4.9zM607 476.5h4.9v1.7h-4.9zM611.9 476.2h4.9v1.7h-4.9zM622.1 475.4h4.7v1.9h-4.7zM626.7 475.4h4.7v1.9h-4.7zM639.7 477h2.8v1.9h-2.8zM655.4 476.5h4.6v1.5h-4.6zM660 476.4h4.5v1.4h-4.5z" fill="#cccccc" stroke="none" fill-opacity="0.92"/>
<path d="M147.6 477.7h4.8v1.6h-4.8zM152.4 478.7h4.8v1.6h-4.8zM157.2 478.2h4.8v1.4h-4.8zM162.1 477.6h4.8v1.9h-4.8zM308 478.2h4.7v1.7h-4.7zM312.7 478.6h4.7v1.7h-4.7zM317.3 478.1h4.7v1.6h-4.7zM322 477.3h4.7v1.8h-4.7zM326.7 477.3h4.7v1.6h-4.7zM326.7 478.8h4.7v1.6h-4.7zM331.4 478.4h4.7v1.5h-4.7zM336 478.1h4.7v1.8h-4.7zM427.8 478.5h5.1v2.1h-5.1zM432.9 478.3h5.1v2.2h-5.1zM438 477.3h5.1v2h-5.1zM443.1 478.4h5.1v1.9h-5.1zM448.2 478.5h5.1v2h-5.1zM463.2 478.4h5v2.2h-5zM468.2 478.7h5v1.9h-5zM473.1 478.5h5v1.8h-5zM478.1 477.4h4.4v2h-4.4zM482.6 478.5h4.4v1.5h-4.4zM488.3 477.3h4.6v1.7h-4.6zM497.4 478.5h4.6v1.9h-4.6zM575.3 478.4h5.1v2h-5.1zM580.4 478.3h5.1v1.7h-5.1zM585.5 477.7h6.4v1.7h-6.4zM597 478.7h5.1v1.5h-5.1zM602.1 478.3h4.9v1.8h-4.9zM607 478.1h4.9v1.7h-4.9zM611.9 477.9h4.9v1.7h-4.9z" fill="#d1c6c6" stroke="none" fill-opacity="0.92"/>
<path d="M147.6 479.2h4.8v1.6h-4.8zM162.1 479.5h4.8v1.9h-4.8zM278.2 480.4h5v1.9h-5zM293.1 479.9h5v2.1h-5zM298.1 480.2h5v1.9h-5zM322 479h4.7v1.8h-4.7zM438 479.2h5.1v2h-5.1zM443.1 480.2h5.1v1.9h-5.1zM453.3 478.9h5v2h-5zM458.3 478.7h5v1.9h-5zM473.1 480.2h5v1.8h-5zM478.1 479.4h4.4v2h-4.4zM482.6 480h4.4v1.5h-4.4zM488.3 478.9h4.6v1.7h-4.6zM492.9 478.8h4.6v1.8h-4.6zM497.4 480.3h4.6v1.9h-4.6zM570.2 479.2h5.1v1.7h-5.1zM580.4 479.9h5.1v1.7h-5.1zM585.5 479.3h6.4v1.7h-6.4zM591.9 479h5.1v1.7h-5.1zM597 480.1h5.1v1.5h-5.1zM611.9 479.6h4.9v1.7h-4.9zM639.7 478.8h2.8v1.9h-2.8zM667.2 479.1h4.2v1.7h-4.2z" fill="#d6c0c0" stroke="none" fill-opacity="0.92"/>
<path d="M273.2 480.9h5v1.9h-5zM283.1 481.2h5v1.8h-5zM288.1 481.1h5v1.8h-5zM293.1 481.9h5v2.1h-5zM303 480.7h5v1.9h-5zM427.8 480.5h5.1v2.1h-5.1zM432.9 480.5h5.1v2.2h-5.1zM438 481.1h5.1v2h-5.1zM443.1 482.1h5.1v1.9h-5.1zM448.2 480.4h5.1v2h-5.1zM453.3 480.9h5v2h-5zM458.3 480.6h5v1.9h-5zM463.2 480.5h5v2.2h-5zM468.2 480.6h5v1.9h-5zM473.1 481.9h5v1.8h-5zM478.1 481.4h4.4v2h-4.4zM482.6 481.4h4.4v1.5h-4.4zM488.3 480.6h4.6v1.7h-4.6zM492.9 480.5h4.6v1.8h-4.6zM570.2 480.8h5.1v1.7h-5.1zM575.3 480.3h5.1v2h-5.1zM580.4 481.5h5.1v1.7h-5.1zM585.5 480.9h6.4v1.7h-6.4zM591.9 480.6h5.1v1.7h-5.1zM597 481.5h5.1v1.5h-5.1zM639.7 480.6h2.8v1.9h-2.8zM667.2 480.8h4.2v1.7h-4.2z" fill="#d9b8b8" stroke="none" fill-opacity="0.92"/>
<path d="M273.2 482.7h5v1.9h-5zM278.2 482.2h5v1.9h-5zM283.1 482.9h5v1.8h-5zM288.1 482.9h5v1.8h-5zM298.1 482.1h5v1.9h-5zM303 482.5h5v1.9h-5zM427.8 482.6h5.1v2.1h-5.1zM432.9 482.7h5.1v2.2h-5.1zM438 483h5.1v2h-5.1zM448.2 482.3h5.1v2h-5.1zM453.3 482.8h5v2h-5zM458.3 482.5h5v1.9h-5zM463.2 482.6h5v2.2h-5zM468.2 482.4h5v1.9h-5zM473.1 483.6h5v1.8h-5zM478.1 483.4h4.4v2h-4.4zM482.6 482.8h4.4v1.5h-4.4zM488.3 482.2h4.6v1.7h-4.6zM492.9 482.3h4.6v1.8h-4.6zM497.4 482.1h4.6v1.9h-4.6zM570.2 482.5h5.1v1.7h-5.1zM575.3 482.3h5.1v2h-5.1zM580.4 483.2h5.1v1.7h-5.1zM585.5 482.6h6.4v1.7h-6.4zM591.9 482.2h5.1v1.7h-5.1zM591.9 483.8h5.1v1.7h-5.1zM597 483h5.1v1.5h-5.1zM639.7 482.4h2.8v1.9h-2.8zM667.2 482.5h4.2v1.7h-4.2z" fill="#dbb0b0" stroke="none" fill-opacity="0.92"/>
<path d="M273.2 484.6h5v1.9h-5zM278.2 484h5v1.9h-5zM283.1 484.6h5v1.8h-5zM288.1 484.7h5v1.8h-5zM293.1 484h5v2.1h-5zM298.1 484h5v1.9h-5zM303 484.3h5v1.9h-5zM443.1 483.9h5.1v1.9h-5.1zM448.2 484.2h5.1v2h-5.1zM453.3 484.8h5v2h-5zM458.3 484.4h5v1.9h-5zM463.2 484.8h5v2.2h-5zM468.2 484.3h5v1.9h-5zM534.5 485h4.5v2.2h-4.5zM539 485.2h4.5v2.2h-4.5zM570.2 484.1h5.1v1.7h-5.1zM575.3 484.3h5.1v2h-5.1zM642.5 484.1h4.2v2.1h-4.2zM667.2 484.2h4.2v1.7h-4.2z" fill="#dea8a8" stroke="none" fill-opacity="0.92"/>
<path d="M273.2 486.5h5v1.9h-5zM278.2 485.8h5v1.9h-5zM283.1 486.4h5v1.8h-5zM288.1 486.5h5v1.8h-5zM293.1 486h5v2.1h-5zM298.1 485.9h5v1.9h-5zM303 486.1h5v1.9h-5zM530 485.3h4.5v2.2h-4.5zM543.5 485.3h4.5v2.2h-4.5zM642.5 486.2h4.2v2.1h-4.2z" fill="#dfa0a0" stroke="none" fill-opacity="0.92"/>
<path d="M530 487.4h4.5v2.2h-4.5zM534.5 487.2h4.5v2.2h-4.5zM539 487.4h4.5v2.2h-4.5zM543.5 487.5h4.5v2.2h-4.5zM642.5 488.3h4.2v2.1h-4.2z" fill="#e09999" stroke="none" fill-opacity="0.92"/>
<path d="M530 489.5h4.5v2.2h-4.5zM534.5 489.4h4.5v2.2h-4.5zM539 489.6h4.5v2.2h-4.5zM543.5 489.7h4.5v2.2h-4.5zM642.5 490.3h4.2v2.1h-4.2z" fill="#e29191" stroke="none" fill-opacity="0.92"/>
<path d="M530 491.7h4.5v2.2h-4.5zM534.5 491.5h4.5v2.2h-4.5zM539 491.8h4.5v2.2h-4.5zM543.5 491.9h4.5v2.2h-4.5z" fill="#e38a8a" stroke="none" fill-opacity="0.92"/>
<path d="M159.5 476.4h1.4M158.6 477.9h1.4M156.1 477.5h1.4M155.2 476.5h1.4M155.6 476.2h1.4M148.5 476.8h1.4M153 477h1.4M157.6 477.2h1.4M153.6 478.3h1.4M151.6 476.1h1.4M154.6 476.7h1.4M209.9 477.6h1.4M228 476.2h1.4M254 478.1h1.4M297 476.8h1.4M277.8 478.3h1.4M285.9 476.7h1.4M299.7 478.2h1.4M300.6 477.6h1.4M279.9 477.7h1.4M288.5 478h1.4M296.8 476.2h1.4M282.6 477.5h1.4M273.8 476.5h1.4M286.7 476.3h1.4M281.8 477.8h1.4M292.1 476.5h1.4M321.3 476.5h1.4M321.3 478.3h1.4M313.3 476h1.4M336.9 476.7h1.4M322.4 476.5h1.4M323.3 475.9h1.4M312.2 476.2h1.4M326.6 476.3h1.4M327.9 475.9h1.4M324.6 475.8h1.4M323.1 476h1.4M333.7 476.8h1.4M330.7 475.9h1.4M313.9 476.3h1.4M336.7 476.7h1.4M321.8 477.8h1.4M308.7 477.6h1.4M332 477.8h1.4M329.2 477.2h1.4M328.5 476.2h1.4M316.5 476.9h1.4M370.4 478h1.4M355.5 476h1.4M341.5 476.8h1.4M371.2 477.7h1.4M352.7 475.9h1.4M352.5 475.9h1.4M348.5 476.5h1.4M347.1 477.4h1.4M364.8 476.7h1.4M356.4 478.2h1.4M340.7 476.9h1.4M386 477.5h1.4M389.7 476h1.4M385.4 478.3h1.4M395.1 476.3h1.4M385.2 476.4h1.4M387.1 477.9h1.4M398.7 477.8h1.4M400 477.4h1.4M426.2 476.8h1.4M418.7 476.3h1.4M424.6 476.1h1.4M403.7 476h1.4M411 476.8h1.4M440.1 477.3h1.4M438.5 477.2h1.4M432.9 478.2h1.4M427.6 476.4h1.4M445.6 478.1h1.4M442 477.5h1.4M450.5 476.7h1.4M435.4 476.8h1.4M439.5 477.6h1.4M467.4 478.4h1.4M465.3 476.3h1.4M471.6 477.8h1.4M457 477.8h1.4M454.2 477.5h1.4M494.9 476.4h1.4M498.7 477.3h1.4M487.9 477.2h1.4M495 477.9h1.4M495.6 477.1h1.4M498.6 476.5h1.4M524.7 476.1h1.4M566.3 475.9h1.4M550.3 476.1h1.4M559.9 477.5h1.4M566.6 476.8h1.4M558.8 476.9h1.4M564.1 477h1.4M554.7 475.9h1.4M551.6 477.6h1.4M559.8 477.3h1.4M558.8 477.9h1.4M562 477h1.4M582.6 476.1h1.4M584 476.2h1.4M570 477.9h1.4M570.1 476.8h1.4M589.1 476.6h1.4M587.9 475.9h1.4M591.2 478.2h1.4M591.7 475.9h1.4M599.4 477h1.4M598 476.7h1.4M593.6 477.5h1.4M596.7 476.6h1.4M601.5 476.5h1.4M605.2 476.2h1.4M613.8 476h1.4M611.2 476.3h1.4M608 476.3h1.4M607.8 477.5h1.4M611.7 477.2h1.4M602.6 477.4h1.4M608.9 478h1.4M609.1 478.3h1.4M609.1 477h1.4M608.5 477.1h1.4M602.4 477.1h1.4M610.8 476.8h1.4M617.8 477.5h1.4M623.3 477.5h1.4M626.5 476.7h1.4M618.1 477.7h1.4M620.7 477.8h1.4M626.8 477h1.4M631.9 476.3h1.4M640.2 477.7h1.4M641.1 476.7h1.4M661.8 477h1.4M660.4 477.2h1.4M660.1 476.6h1.4M657.4 475.9h1.4M660.1 476.3h1.4" fill="none" stroke="#cccccc" stroke-width="1.4"/>
<path d="M161.4 474.5h1.4M150.7 473.4h1.4M155.7 475.4h1.4M159.1 475.4h1.4M150.5 474.4h1.4M157.9 473.3h1.4M150.4 475.1h1.4M155.7 475.8h1.4M157 475.6h1.4M147.8 474.3h1.4M158.9 475.7h1.4M171.3 474.5h1.4M233.1 475.4h1.4M235.5 474.9h1.4M204.3 475.2h1.4M243.9 474.3h1.4M252.8 475h1.4M247.2 473.8h1.4M250 474.8h1.4M298 473.9h1.4M276.3 474.2h1.4M276.3 473.6h1.4M320.2 475.7h1.4M339.8 475.1h1.4M328.3 475.7h1.4M316.4 474.5h1.4M337.2 474.8h1.4M332.6 473.6h1.4M331.7 475.4h1.4M332 473.6h1.4M319.7 474.2h1.4M330.7 473.8h1.4M312.9 475h1.4M346.1 473.8h1.4M350.5 473.4h1.4M351 473.6h1.4M361.4 475.3h1.4M366.2 475.6h1.4M347.4 473.6h1.4M343.5 474.6h1.4M361.9 474.3h1.4M369.1 474.8h1.4M344.1 475.6h1.4M365 473.9h1.4M346.3 474.3h1.4M347.8 474.1h1.4M364.1 474.8h1.4M357.9 473.9h1.4M354 473.5h1.4M345.2 474h1.4M354.3 475.8h1.4M348.5 474.5h1.4M349.3 474.5h1.4M345.2 474.6h1.4M341.1 474.5h1.4M358 475.1h1.4M397.8 474.2h1.4M382.7 475.6h1.4M386.9 474.6h1.4M398.1 474.5h1.4M386.2 475.3h1.4M392.7 473.7h1.4M389.8 474.5h1.4M388.8 474h1.4M387 475.3h1.4M393.5 474.3h1.4M393.9 474.3h1.4M382.4 473.7h1.4M394.3 473.6h1.4M387.5 474.8h1.4M390.8 473.4h1.4M404.3 473.9h1.4M404.2 474h1.4M425.1 473.4h1.4M416.1 473.6h1.4M400.8 474.3h1.4M425.6 474.1h1.4M405.7 474.1h1.4M412.5 473.9h1.4M437.8 474.8h1.4M443.3 474h1.4M447.3 475.8h1.4M444.5 474.9h1.4M429.8 474.5h1.4M431.8 474.6h1.4M449.6 473.7h1.4M461.5 473.8h1.4M452.8 475.5h1.4M463 475.1h1.4M482.1 474.2h1.4M484.8 475.4h1.4M496.7 475.5h1.4M488.6 474.8h1.4M489.8 475.2h1.4M499.2 473.8h1.4M518.9 474.8h1.4M517 474.5h1.4M566.2 474.8h1.4M555 475.1h1.4M557 475.2h1.4M561.6 474.9h1.4M561.4 474.2h1.4M561.8 475.3h1.4M551.6 475.1h1.4M550.8 474.4h1.4M564.4 475.3h1.4M558 473.8h1.4M574.4 475.8h1.4M583.2 473.7h1.4M576.1 475.8h1.4M571.8 473.6h1.4M594.3 474.2h1.4M601.1 473.6h1.4M601.2 473.6h1.4M599.1 473.9h1.4M606.7 475.5h1.4M607.4 474.7h1.4M613 473.8h1.4M605.5 474.2h1.4M603.3 475.2h1.4M608.2 473.5h1.4M601.9 475.6h1.4M609.4 474.3h1.4M612.4 474.9h1.4M614.1 474.6h1.4M602.7 474.5h1.4M609.1 475.2h1.4M615 474.6h1.4M611.9 474.9h1.4M628.9 473.3h1.4M617.3 473.5h1.4M621.8 474.7h1.4M622.1 475.3h1.4M626.4 474.5h1.4M618.7 474.4h1.4M619.4 475.6h1.4M623.2 473.6h1.4M619.3 474h1.4M634.5 475.8h1.4M641.5 473.3h1.4M639.8 473.8h1.4M663.3 474.6h1.4M661.3 473.9h1.4M663.6 475.3h1.4M659.1 474.9h1.4M662.1 474.6h1.4M655.4 473.5h1.4M670 474.4h1.4M668.6 475.6h1.4" fill="none" stroke="#c3d2c3" stroke-width="1.4"/>
<path d="M154.1 478.6h1.4M165 479.7h1.4M153 479.6h1.4M166.1 478.6h1.4M148.8 479.7h1.4M149.8 478.6h1.4M164.3 479.9h1.4M162 478.4h1.4M164.2 480.8h1.4M224.9 479.5h1.4M301.3 480.6h1.4M296.5 480.2h1.4M288.3 478.8h1.4M295.9 479.5h1.4M296.9 479h1.4M284.4 480.6h1.4M278.6 479.4h1.4M274.4 480.1h1.4M302.9 480.8h1.4M301.7 480.6h1.4M299.3 479.9h1.4M277.4 479.1h1.4M284.1 478.5h1.4M272.7 479.2h1.4M330.9 478.4h1.4M308.1 480.2h1.4M337.2 479.5h1.4M315.1 480.3h1.4M310.6 478.9h1.4M329.4 478.7h1.4M322 479.8h1.4M330.3 478.7h1.4M316.3 479.4h1.4M327.5 480.8h1.4M336.4 479.2h1.4M336.4 480.5h1.4M339.1 479h1.4M309.3 479.5h1.4M318.7 479.9h1.4M316 478.5h1.4M340.9 479.5h1.4M360.4 479.6h1.4M360.8 480.7h1.4M356.8 479.4h1.4M361.5 479h1.4M366.1 480.3h1.4M390 480.1h1.4M394.6 480.4h1.4M388.6 480.6h1.4M423 479h1.4M440.3 480.4h1.4M449.9 479.3h1.4M439.7 479.4h1.4M444.4 478.7h1.4M451.4 480.3h1.4M450.5 480.2h1.4M427.4 480.3h1.4M452.5 479h1.4M448.3 478.9h1.4M434.7 480.8h1.4M428.8 478.8h1.4M436.6 479.4h1.4M468.1 478.4h1.4M467.4 480.7h1.4M476.8 480.6h1.4M458.5 480.2h1.4M474.4 480.8h1.4M471.3 479.8h1.4M457.2 480.5h1.4M463.6 479.9h1.4M467 479.2h1.4M465 478.6h1.4M467 479.8h1.4M457.6 479.5h1.4M477.6 480h1.4M483.5 479.9h1.4M482.7 478.8h1.4M499.2 480.7h1.4M491.7 480.6h1.4M498 480h1.4M492.1 480.7h1.4M496.4 479.8h1.4M489.5 479h1.4M498.5 479.2h1.4M501.1 480h1.4M530.1 480h1.4M546.3 479.9h1.4M561.7 480.4h1.4M565.4 480.1h1.4M584.4 479.2h1.4M584.5 478.6h1.4M582.1 480.4h1.4M571.3 480.7h1.4M576.2 480.3h1.4M578.8 479.7h1.4M573.9 479.8h1.4M586.4 480.3h1.4M590.1 479.8h1.4M585.7 479.3h1.4M589.1 480h1.4M590.8 479.9h1.4M592.1 479.9h1.4M596.9 480.9h1.4M598.3 479.2h1.4M600 478.6h1.4M596.6 478.6h1.4M615.5 479.8h1.4M611.7 479.7h1.4M606.3 480.3h1.4M614.7 478.4h1.4M611.7 479.1h1.4M619.6 479.3h1.4M623.9 479.6h1.4M622.9 478.6h1.4M620.7 478.5h1.4M630 480.3h1.4M630.6 480.3h1.4M617.9 480.8h1.4M626.4 478.6h1.4M639.7 479.8h1.4M641.5 480.4h1.4M640.1 479.7h1.4M645.5 480h1.4M655.2 478.8h1.4M670.4 480.3h1.4M669.2 480.3h1.4M668.4 480h1.4" fill="none" stroke="#d4c3c3" stroke-width="1.4"/>
<path d="M163.1 472.5h1.4M164.3 473h1.4M162.4 473.1h1.4M157.5 472h1.4M147.9 473.2h1.4M162 472.5h1.4M160.7 471.3h1.4M153.3 473.1h1.4M149.5 470.9h1.4M154.2 472.2h1.4M167.8 471.1h1.4M172.7 470.9h1.4M220.7 472.7h1.4M197.7 471.8h1.4M220.8 471.7h1.4M216.4 471.2h1.4M193.1 470.9h1.4M201.9 472.3h1.4M222.9 472.8h1.4M216 471.6h1.4M218.7 471.6h1.4M211 472.1h1.4M216.8 472.8h1.4M218.4 471.8h1.4M246.3 471.2h1.4M266.6 472.9h1.4M271.5 470.8h1.4M256.1 471.9h1.4M260.3 471h1.4M260.4 473.2h1.4M300.3 471.8h1.4M299.6 472.3h1.4M337.3 473.2h1.4M329.8 471.5h1.4M324.5 472.4h1.4M323.6 472.6h1.4M338.9 471.5h1.4M335 472.5h1.4M311.8 470.9h1.4M321.4 473.1h1.4M310.8 472.5h1.4M331.3 472.3h1.4M310.9 471.3h1.4M336.5 471.8h1.4M313.6 471.2h1.4M315.1 471.3h1.4M329.4 472.9h1.4M319.8 471.8h1.4M327.1 472.1h1.4M310.1 472.9h1.4M341.1 472.5h1.4M340.9 473h1.4M358.2 472.2h1.4M346.6 471.1h1.4M361.1 472.1h1.4M346.9 472.2h1.4M365.3 473.1h1.4M351.7 471.9h1.4M343.6 471h1.4M368.3 472.3h1.4M366.3 472.7h1.4M365.9 472.6h1.4M364.5 473.2h1.4M370.1 471.4h1.4M369.7 471.4h1.4M355.1 473.3h1.4M386.5 472.9h1.4M383.8 473.2h1.4M392.6 471.3h1.4M395 472.3h1.4M398.8 472.8h1.4M385.3 470.8h1.4M386.9 472.8h1.4M383 472.3h1.4M402.4 473.1h1.4M418.7 471.5h1.4M402.7 471.2h1.4M404.8 471.2h1.4M412.9 470.9h1.4M425.4 472.3h1.4M424.2 471.2h1.4M413.2 473.1h1.4M422.7 472.4h1.4M412.7 471h1.4M408.6 473h1.4M416.8 473.3h1.4M427.1 471.9h1.4M442.4 472.2h1.4M435.3 472h1.4M449.6 472.7h1.4M454.2 471.7h1.4M482.4 472.8h1.4M494.9 471h1.4M504.8 471.5h1.4M519.3 470.9h1.4M510.8 470.8h1.4M524.4 471.1h1.4M517.4 473.1h1.4M510.9 471.4h1.4M524 471.4h1.4M563.5 472.4h1.4M555.1 472.8h1.4M552.7 472.8h1.4M561.7 471.5h1.4M562.6 470.9h1.4M550.1 472.6h1.4M551.2 472.1h1.4M556.3 472.7h1.4M554.9 472.6h1.4M553.4 471.2h1.4M566.2 472.9h1.4M569.8 470.8h1.4M593.9 473.3h1.4M610.1 471.5h1.4M607 471.8h1.4M618 471.2h1.4M620.5 471.7h1.4M630.1 471.1h1.4M628.9 471.8h1.4M624 472h1.4M633.5 471.7h1.4M633.4 473.3h1.4M632.7 473h1.4M632.5 471h1.4M648 472.7h1.4M663.1 471.7h1.4M660.2 471h1.4M657.4 471.4h1.4M660.8 472h1.4M658.5 471.6h1.4M662.7 473.3h1.4" fill="none" stroke="#b9d7b9" stroke-width="1.4"/>
<path d="M159.3 482.5h1.4M151.6 481.6h1.4M163.9 481.6h1.4M149 482.5h1.4M149.2 481.3h1.4M160.1 481.7h1.4M248.9 483.3h1.4M288.2 481h1.4M285.6 481.3h1.4M274.3 481.7h1.4M303.3 482.7h1.4M279.9 481h1.4M276.2 482.6h1.4M285.8 482.2h1.4M292.1 483.2h1.4M288.9 481h1.4M305.3 483.2h1.4M302.2 481.9h1.4M275.3 483h1.4M293.5 481.3h1.4M290.1 481.9h1.4M276.1 481.8h1.4M280.1 482h1.4M309.7 482.6h1.4M339.4 481.2h1.4M336.2 481.5h1.4M327.6 482.4h1.4M328.4 481.6h1.4M319.9 483.2h1.4M325.8 481.1h1.4M328 483.3h1.4M364.5 481.2h1.4M367.2 481h1.4M359.1 481.1h1.4M369.1 481.1h1.4M348.1 481h1.4M388.5 481.2h1.4M405.1 481.8h1.4M432.5 482.9h1.4M435.3 482h1.4M451.1 481.9h1.4M441.3 482.2h1.4M439.3 481.1h1.4M445 482h1.4M430.1 483.1h1.4M451.8 482.4h1.4M442.8 482.1h1.4M448.3 481.2h1.4M431.9 482.6h1.4M429.1 482.5h1.4M428 482.4h1.4M427.4 482.6h1.4M452.5 482.9h1.4M438.5 482.5h1.4M430.1 481h1.4M468.8 482.3h1.4M461.6 482.9h1.4M452.8 481.2h1.4M457.7 481.5h1.4M461 482.4h1.4M457.6 482.2h1.4M455.7 481.3h1.4M460.2 482h1.4M475.3 483.4h1.4M464.6 481.5h1.4M466.3 483.1h1.4M457 481.8h1.4M483.6 481.3h1.4M485 481.9h1.4M485 481.5h1.4M485.6 481.1h1.4M483.3 483h1.4M484.8 481.1h1.4M478.3 481.5h1.4M479.4 482.9h1.4M490.8 483.1h1.4M490.7 483.1h1.4M496.8 483.1h1.4M494.7 481.3h1.4M491.3 482.1h1.4M489.1 481.6h1.4M546.8 480.9h1.4M529.6 481.6h1.4M540.7 481.4h1.4M542 483.3h1.4M536.7 481.2h1.4M529.5 482.8h1.4M530.5 483.4h1.4M543.9 481.9h1.4M563.5 483.1h1.4M553.2 482.3h1.4M578.4 481.7h1.4M579 481.2h1.4M575.1 481.6h1.4M584.3 481.3h1.4M581.3 481.6h1.4M575.8 482h1.4M571.5 482.7h1.4M587.2 483.3h1.4M586.1 483.2h1.4M599.6 481.7h1.4M595.8 483.4h1.4M597.2 482.8h1.4M595.3 483.1h1.4M594.6 482h1.4M610.6 480.9h1.4M604.6 481.7h1.4M602.7 483h1.4M624.6 482.2h1.4M617.8 482h1.4M657.3 482h1.4M659 483.3h1.4M666.6 482.1h1.4M669.8 482.7h1.4" fill="none" stroke="#d9b8b8" stroke-width="1.4"/>
<path d="M155.5 468.5h1.4M149.4 469.5h1.4M165.4 469.3h1.4M168.6 469h1.4M170.5 469.7h1.4M169.1 468.8h1.4M171.3 468.6h1.4M207.3 469.8h1.4M212.6 468.6h1.4M221.3 469.7h1.4M198.6 469.2h1.4M224.7 468.8h1.4M233.2 468.8h1.4M225.6 468.7h1.4M234.6 469.9h1.4M211.8 469.6h1.4M197.9 468.6h1.4M193.1 469.9h1.4M232.6 469.7h1.4M194.2 470.5h1.4M200.6 468.7h1.4M270 470.7h1.4M242.2 469h1.4M260.7 470.6h1.4M271.6 470.3h1.4M260.7 468.8h1.4M237 470h1.4M272.3 469.9h1.4M284.4 469.3h1.4M333.7 469.6h1.4M326.3 469.5h1.4M330.8 470.4h1.4M324.1 470.1h1.4M321.1 469.9h1.4M316.3 469.2h1.4M329.7 470.1h1.4M308.1 470.1h1.4M335.9 469.2h1.4M326.2 469.5h1.4M313.7 470.2h1.4M338 470.8h1.4M331.4 469.4h1.4M365.3 470.6h1.4M370.7 469.6h1.4M362.6 470.2h1.4M368 469.6h1.4M355.7 469.9h1.4M365.4 470.2h1.4M357.2 470.1h1.4M356.3 469.8h1.4M364.2 470.1h1.4M364.3 468.3h1.4M340.6 470.4h1.4M355.4 470.5h1.4M356.1 468.7h1.4M343.9 468.9h1.4M360.1 469.2h1.4M367 470.4h1.4M369.9 469.3h1.4M352 469h1.4M390.5 469.5h1.4M386.2 468.4h1.4M398.8 470.6h1.4M396.8 470.2h1.4M395.9 469.5h1.4M398 468.8h1.4M399 469.6h1.4M384 469.4h1.4M390.2 470.7h1.4M397.2 470.1h1.4M409.8 470.7h1.4M409.2 469.7h1.4M417.7 470.5h1.4M410.6 470.3h1.4M400.4 469.4h1.4M414.6 469.3h1.4M413.7 468.5h1.4M404.8 470.2h1.4M411.7 468.9h1.4M418.6 470.6h1.4M410.7 468.4h1.4M403.4 468.5h1.4M412.6 468.7h1.4M414.3 469.3h1.4M407.9 470.1h1.4M425.4 469.4h1.4M426.7 470.5h1.4M411.3 468.5h1.4M473.5 468.5h1.4M505.9 468.5h1.4M510.1 469.7h1.4M522.2 469.6h1.4M512.2 469.3h1.4M517.6 469.6h1.4M511.4 469.7h1.4M562.1 468.7h1.4M564.7 469.3h1.4M562.2 469.7h1.4M557.2 469.3h1.4M550.7 469.8h1.4M556.2 468.3h1.4M560.1 469.9h1.4M562.4 469.3h1.4M556.6 470h1.4M550 470.5h1.4M552.4 469.4h1.4M553.3 468.5h1.4M584.6 469.4h1.4M609.4 469.7h1.4M623.8 470.2h1.4M624.7 468.7h1.4M622.3 468.6h1.4M616.7 470.3h1.4M627.8 470.7h1.4M623 468.6h1.4M619.4 470.3h1.4M630 470.6h1.4M638.1 469.3h1.4M633.2 468.7h1.4M638.6 469.5h1.4M636.8 469.3h1.4M652.9 470.5h1.4M652.2 470.7h1.4M646.6 470.4h1.4M655.7 468.7h1.4M656.7 468.5h1.4" fill="none" stroke="#aedcae" stroke-width="1.4"/>
<path d="M160.3 485.1h1.4M163.3 485.2h1.4M157.1 484.2h1.4M161.3 485.5h1.4M298.1 485.3h1.4M298 484.7h1.4M290.1 485.1h1.4M303.8 484h1.4M288.5 484.9h1.4M300.1 485.5h1.4M303.9 484.2h1.4M299.8 484.9h1.4M280.4 484.1h1.4M292 485.7h1.4M275.6 483.5h1.4M292.6 484.9h1.4M279.8 483.7h1.4M279.1 484.3h1.4M282.5 484.9h1.4M306.4 483.7h1.4M297.5 485.5h1.4M298 485.5h1.4M329.3 485.9h1.4M323.8 483.7h1.4M338.5 483.5h1.4M315.2 484.9h1.4M317.1 483.5h1.4M324.7 484h1.4M351.8 484.5h1.4M386.2 485.5h1.4M391.3 484.4h1.4M431.8 484h1.4M430.1 484.2h1.4M445.8 483.9h1.4M435.9 485.4h1.4M441.4 484.7h1.4M442.5 483.8h1.4M435 484.1h1.4M439.8 485.9h1.4M440.4 483.4h1.4M451.7 485.3h1.4M439.2 484h1.4M441.3 485.2h1.4M448.9 484.7h1.4M452.2 484.1h1.4M449.8 485.3h1.4M445.8 484.6h1.4M461.3 485.5h1.4M463.7 485.5h1.4M469.1 484.1h1.4M475.6 483.7h1.4M474.6 485.1h1.4M455 485.4h1.4M459.1 484.8h1.4M465.2 484h1.4M471 485.7h1.4M454.8 485.2h1.4M476.8 484.1h1.4M462.2 484.8h1.4M475.2 484.4h1.4M470.6 485.3h1.4M470.6 484.7h1.4M471.7 483.9h1.4M460.9 484.1h1.4M462.5 483.9h1.4M456.2 483.7h1.4M480.8 484.3h1.4M484.8 483.6h1.4M478.8 485.7h1.4M479.6 484h1.4M484.2 483.8h1.4M480.3 484.6h1.4M497.4 485h1.4M499.3 485.8h1.4M501.2 483.8h1.4M497.8 485.8h1.4M493.6 485.1h1.4M488.3 484.8h1.4M493.1 483.8h1.4M491.7 484.4h1.4M529.5 484.7h1.4M529.4 485.7h1.4M544.6 484.2h1.4M571.8 483.7h1.4M573.7 484h1.4M571.5 485.3h1.4M572.9 483.9h1.4M576.8 485.9h1.4M571.9 484.4h1.4M573.9 483.6h1.4M572.6 484.9h1.4M577.1 484.7h1.4M572.8 484.7h1.4M571.2 485.5h1.4M587 484.1h1.4M589.2 483.4h1.4M587.1 485.5h1.4M590.6 484.9h1.4M591.7 485.5h1.4M601.4 483.6h1.4M596.2 485.4h1.4M600.8 485.5h1.4M613.5 484.3h1.4M618.4 484.4h1.4M637.1 485.6h1.4M639.9 483.6h1.4M642.2 485.6h1.4M669.6 485.8h1.4M667 483.6h1.4" fill="none" stroke="#ddacac" stroke-width="1.4"/>
<path d="M160.1 465.8h1.4M168.9 466.1h1.4M172.1 466.2h1.4M169 467.1h1.4M169.1 467.1h1.4M181.9 467.4h1.4M181 468h1.4M177.6 467.2h1.4M188.8 466.4h1.4M218.4 467.1h1.4M223.7 466.6h1.4M231.5 467h1.4M234.8 466.1h1.4M203.9 467.9h1.4M234.4 467h1.4M209.5 467.7h1.4M220.4 467.5h1.4M211.4 467h1.4M215.7 467.8h1.4M209 467.6h1.4M207 468.2h1.4M225.9 467.1h1.4M218.1 468.2h1.4M234.9 466.5h1.4M230.1 467.5h1.4M223.3 468.2h1.4M197.9 467.4h1.4M198.9 466.8h1.4M210.5 466.7h1.4M228.4 467h1.4M201.6 466.2h1.4M230.9 466.5h1.4M240.4 466.2h1.4M258 466.5h1.4M246.4 466.5h1.4M248.4 467.8h1.4M237.7 466.6h1.4M245.6 468.2h1.4M237 466.2h1.4M247.4 465.9h1.4M269.5 465.8h1.4M316.2 466.2h1.4M313.6 467h1.4M348.9 466.4h1.4M365.9 467.9h1.4M346.2 467.9h1.4M348.3 468.1h1.4M347.6 467.9h1.4M359.6 467.6h1.4M360.4 467.5h1.4M390.7 467.3h1.4M394.2 466.6h1.4M383 466.4h1.4M399.8 466h1.4M383 466.7h1.4M401.7 467.2h1.4M423 467.4h1.4M413.9 468h1.4M401 467.2h1.4M411.3 467.2h1.4M425.8 467.1h1.4M400.7 466.7h1.4M409 466.5h1.4M403.1 466.9h1.4M406.3 467.6h1.4M415.7 468.2h1.4M410.5 467.7h1.4M414.1 466.4h1.4M448.6 467.7h1.4M465.7 467.5h1.4M460.9 466.8h1.4M503.3 468.2h1.4M505.6 466.5h1.4M505.7 466.3h1.4M518.4 466.6h1.4M512.9 468.2h1.4M521.5 467.1h1.4M517 468h1.4M520.2 466.2h1.4M516.1 466.3h1.4M523.9 467.9h1.4M525.7 465.9h1.4M511.8 465.9h1.4M515.4 467.5h1.4M518.6 467.7h1.4M518.5 467.7h1.4M518.9 466.8h1.4M562.4 467.4h1.4M560.7 467.9h1.4M591.9 467h1.4M603.4 466.8h1.4M617 467.8h1.4M639 467.6h1.4M637.7 466.8h1.4M638.1 465.8h1.4M637.7 467.7h1.4M634.7 468.1h1.4M646.8 468h1.4M650.9 467.4h1.4M657.6 468h1.4M655.8 465.8h1.4M655.2 467.7h1.4M654.9 466.1h1.4M665 466.8h1.4M666 468.2h1.4" fill="none" stroke="#a4dfa4" stroke-width="1.4"/>
<path d="M165.5 486.4h1.4M284.5 486h1.4M282.4 486.8h1.4M285.9 486.2h1.4M274.1 487.7h1.4M304 487.2h1.4M288.9 486.6h1.4M300.4 487.1h1.4M278.5 487.4h1.4M285.2 488.4h1.4M292.3 487h1.4M288.6 487.9h1.4M305.7 487.9h1.4M301.6 488.2h1.4M273.5 488h1.4M306.4 487.6h1.4M293.3 487.6h1.4M310.4 487.4h1.4M428.7 487h1.4M431 488.3h1.4M443.2 487.6h1.4M431.2 486.3h1.4M435.4 486.5h1.4M434.7 486.2h1.4M440.4 487.6h1.4M455.6 486.7h1.4M455.2 486.2h1.4M460.4 488.5h1.4M457.7 487.6h1.4M457.4 487.1h1.4M456.7 486.5h1.4M464.2 486h1.4M477.1 488.4h1.4M468.3 487.4h1.4M482.2 488.2h1.4M483.8 487.2h1.4M485.7 486.3h1.4M489.8 486.3h1.4M495.3 486h1.4M492.5 486.5h1.4M498.8 486.1h1.4M488.9 486.3h1.4M534.7 486.2h1.4M541.4 486.1h1.4M537.3 488.1h1.4M541.6 487.6h1.4M542.8 487.7h1.4M533.9 487.3h1.4M540.8 488.2h1.4M534.8 487.4h1.4M533.5 488.3h1.4M584.1 486.5h1.4M581.7 486.7h1.4M584.2 487.5h1.4M576.2 486.3h1.4M578.7 488.1h1.4M587.5 486h1.4M585.1 486.7h1.4M587.8 487.7h1.4M590.8 487.1h1.4M601 487h1.4M598 486.8h1.4M593.9 488.3h1.4M644.1 487h1.4M645.8 488.4h1.4M642.6 486.9h1.4M642.4 487h1.4M667.9 486.9h1.4" fill="none" stroke="#dfa0a0" stroke-width="1.4"/>
<path d="M168.3 465h1.4M170.3 463.4h1.4M172.5 463.7h1.4M206.4 465h1.4M230.4 465.5h1.4M211.2 464.8h1.4M200.6 464.7h1.4M217.6 465.5h1.4M194.4 464.3h1.4M232.5 464.5h1.4M226.6 463.8h1.4M224.6 463.2h1.4M209.2 465.4h1.4M215 463.3h1.4M226.1 465.1h1.4M205.3 464.7h1.4M220.4 465.5h1.4M222.5 465.6h1.4M200.2 464.3h1.4M213.4 463.5h1.4M209.8 464.4h1.4M199.9 463.4h1.4M216.1 464.5h1.4M223.2 464.6h1.4M210.1 463.4h1.4M214.7 465.4h1.4M210.6 463.4h1.4M209.3 465.2h1.4M244.2 464.4h1.4M269.1 463.4h1.4M252.4 465.5h1.4M246.1 464.2h1.4M255 464.4h1.4M248.4 463.7h1.4M255.1 465.6h1.4M251.8 463.9h1.4M256.1 465.2h1.4M264.6 464.4h1.4M245.9 465.4h1.4M258.3 465.2h1.4M260.3 464h1.4M242.6 464.3h1.4M254.6 465.6h1.4M259.6 464.5h1.4M237.2 463.6h1.4M246.4 463.9h1.4M245.4 465.7h1.4M261.1 465.5h1.4M244.4 463.4h1.4M300.6 465.2h1.4M326.3 465.3h1.4M335.4 464.8h1.4M358.7 465.1h1.4M346.6 465.7h1.4M367 465h1.4M359.8 465.5h1.4M398.9 464.8h1.4M421.5 465.3h1.4M417.9 463.3h1.4M403.5 464.8h1.4M411.4 464.9h1.4M400.7 464.8h1.4M425.3 465.7h1.4M424.4 464.8h1.4M409 465.3h1.4M403.7 465.1h1.4M420.3 463.7h1.4M473.4 464.3h1.4M504.6 465.6h1.4M501.6 463.9h1.4M506 464.9h1.4M505.4 463.3h1.4M524.8 464.6h1.4M511.6 464.2h1.4M513.9 463.8h1.4M510.2 463.6h1.4M562.3 465.5h1.4M620.2 465.5h1.4M638.6 463.6h1.4M637.4 465.6h1.4M650.6 463.9h1.4M648.7 464.6h1.4M656 465h1.4M665.7 463.5h1.4M664.4 463.5h1.4M664.3 464.6h1.4" fill="none" stroke="#9ae09a" stroke-width="1.4"/>
<path d="M159.6 490.3h1.4M295.7 488.6h1.4M298.3 490.7h1.4M282.9 489.6h1.4M296.7 488.5h1.4M290.4 489.6h1.4M280.3 489.9h1.4M306.5 490.3h1.4M288.2 490.8h1.4M273.6 489.3h1.4M287.9 488.8h1.4M280.3 489.6h1.4M285.9 489h1.4M304.1 489h1.4M296.2 490.7h1.4M446.9 489.8h1.4M435.2 488.6h1.4M442.7 490.3h1.4M457.4 489h1.4M452.9 489h1.4M466.3 490.7h1.4M470.3 489.5h1.4M459.7 490h1.4M496.1 490.2h1.4M494.9 488.9h1.4M532.9 491h1.4M543.8 489.5h1.4M540.1 489.7h1.4M540.4 489.7h1.4M535.5 490.8h1.4M541.7 489.2h1.4M532.2 491h1.4M547 490.7h1.4M533.3 490h1.4M535 488.5h1.4M534.6 489.8h1.4M571.7 488.6h1.4M571.5 490h1.4M578.1 489.2h1.4M586.8 489.8h1.4M595 490.2h1.4M616 489.8h1.4M614.2 489.6h1.4M645.6 489.9h1.4M644.7 489.3h1.4M668.2 490.2h1.4" fill="none" stroke="#e19595" stroke-width="1.4"/>
<path d="M166.8 461.9h1.4M166.6 462h1.4M172.5 462.6h1.4M172.6 461.9h1.4M181.5 462h1.4M191.4 461.2h1.4M185.3 462.6h1.4M187.4 463.1h1.4M203.9 462.4h1.4M229.5 463.1h1.4M218.5 461.4h1.4M197.9 462.7h1.4M228.3 462.8h1.4M227.8 462.6h1.4M224.6 460.8h1.4M219.9 462.6h1.4M232.6 462.3h1.4M230.5 462.9h1.4M195.9 461.6h1.4M207.3 463.1h1.4M218.6 461.7h1.4M227 462.4h1.4M200.2 461.8h1.4M203 461.3h1.4M269 461.2h1.4M245.7 460.7h1.4M237 461.5h1.4M258.6 460.7h1.4M272.2 460.8h1.4M236.2 461.1h1.4M262.2 462.5h1.4M248.9 462.3h1.4M263.3 462.6h1.4M272 461.4h1.4M251.9 461.1h1.4M243.9 460.8h1.4M245.9 460.9h1.4M257.5 461.2h1.4M244 462h1.4M238.2 462.6h1.4M246.6 463.1h1.4M251.6 463h1.4M260.1 461.4h1.4M246.2 461.4h1.4M241.3 460.8h1.4M254.4 462.9h1.4M244.9 463.1h1.4M249.1 462.6h1.4M270 460.7h1.4M245 463.2h1.4M360.1 463.1h1.4M350.4 463.1h1.4M419.4 461h1.4M404.9 461.6h1.4M416.1 463.1h1.4M419.3 462.3h1.4M413.6 462.3h1.4M417.4 461.1h1.4M404.1 463h1.4M401.3 461.7h1.4M405.9 462.4h1.4M506.6 460.8h1.4M501.8 462h1.4M506 460.9h1.4M501.8 463h1.4M501.4 462.7h1.4M503.6 463.2h1.4M509.9 462.8h1.4M520.1 462.2h1.4M522.7 462h1.4M523.1 463h1.4M518.1 461.1h1.4M512.3 461.8h1.4M522 461.9h1.4M520.7 461.3h1.4M634.9 462.9h1.4M635 462.7h1.4M649.4 461.5h1.4M647.3 461.3h1.4M652.8 462.5h1.4M646.9 463h1.4M665.4 462.7h1.4M664.4 461.5h1.4M664.5 463h1.4" fill="none" stroke="#90e190" stroke-width="1.4"/>
<path d="M293.9 492h1.4M295.5 491.2h1.4M279.7 493.4h1.4M453.4 491.5h1.4M481.2 492.3h1.4M479.3 491h1.4M544.6 492.2h1.4M538 493.3h1.4M532.3 493h1.4M539 491.9h1.4M540.6 492.2h1.4M533.9 492.5h1.4M542.9 491.9h1.4M532.8 491.8h1.4M573 492.1h1.4M596.5 492.9h1.4M642.2 492.9h1.4M643.3 492.3h1.4M670.4 491.9h1.4" fill="none" stroke="#e38a8a" stroke-width="1.4"/>
<path d="M172.3 459.2h1.4M167.9 460.3h1.4M171.6 460.6h1.4M187.2 459.3h1.4M176.3 459.9h1.4M175.4 459.6h1.4M178.3 458.3h1.4M177.5 459.8h1.4M191.7 459.4h1.4M185.8 459.4h1.4M190.8 458.1h1.4M188.5 459.1h1.4M175.5 458.9h1.4M189.8 458.1h1.4M209.7 460h1.4M222 459.7h1.4M231.1 459.3h1.4M202.4 459.4h1.4M232.8 458.7h1.4M215.6 458.8h1.4M235.2 458.8h1.4M223 458.4h1.4M214.3 458.2h1.4M216.9 458.9h1.4M233 460.2h1.4M198.2 459.1h1.4M201.2 458.3h1.4M201.9 459.1h1.4M215.9 458.7h1.4M208 459.4h1.4M192.6 460.6h1.4M230.4 459.6h1.4M204.8 459.3h1.4M217.5 458.5h1.4M237.8 460.1h1.4M266.4 460.6h1.4M269.2 459.5h1.4M260.8 460.2h1.4M256.9 460.5h1.4M256.2 460.4h1.4M271.6 458.9h1.4M246.5 460.6h1.4M237.5 459.1h1.4M264.2 458.8h1.4M268.5 459.1h1.4M250.5 460.6h1.4M238.6 459.5h1.4M267.9 458.9h1.4M376.2 460.6h1.4M374.5 458.4h1.4M373.5 459.6h1.4M399.2 458.9h1.4M411.8 459.5h1.4M506.3 460.2h1.4M505 460.1h1.4M506.4 458.9h1.4M505.9 459.1h1.4M519.3 460.1h1.4M517 459.6h1.4M512.2 458.7h1.4M520.7 458.6h1.4M522.8 460h1.4M516 458.4h1.4M524.8 460.4h1.4M517.7 460.1h1.4M520.5 460.5h1.4M636.8 460.2h1.4M651.6 460.2h1.4M649.6 459.6h1.4M664.7 460.2h1.4M665.1 460.1h1.4M665.8 458.2h1.4M664.9 458.2h1.4M664.9 460.3h1.4M664.9 459.9h1.4" fill="none" stroke="#86e286" stroke-width="1.4"/>
<path d="M279 494.5h1.4M281.2 493.7h1.4M289.9 494.8h1.4M452.3 495h1.4M538.2 494h1.4M534.7 494h1.4M542 495.8h1.4M535 494.7h1.4M530.9 493.7h1.4M584.8 493.8h1.4M612.8 495.6h1.4M630.1 496h1.4M641.8 494h1.4M156.9 494.8h1.4" fill="none" stroke="#e47e7e" stroke-width="1.4"/>
<path d="M188.2 456.6h1.4M176.1 456h1.4M176.5 456.9h1.4M191.2 456.9h1.4M181 456.2h1.4M188.7 456.6h1.4M227.8 457.4h1.4M223.8 455.8h1.4M219 456.1h1.4M211 455.7h1.4M192.5 455.9h1.4M197.9 457.4h1.4M230.4 456.3h1.4M199.4 456.9h1.4M223.8 457.3h1.4M226 456.1h1.4M260 457.1h1.4M264.1 457.9h1.4M236.4 456.2h1.4M251.2 457.9h1.4M251.2 456.2h1.4M252.5 457h1.4M257 456.8h1.4M270.1 456.1h1.4M244.6 455.7h1.4M253.9 458.1h1.4M378.8 457.8h1.4M372.1 457.9h1.4M375.9 456.4h1.4M375.4 455.6h1.4M372.9 455.7h1.4M373 457.4h1.4M374.8 456h1.4M376.7 455.7h1.4M390.1 457.7h1.4M482.5 458h1.4M499.8 458.1h1.4M514.1 457.6h1.4M652.6 458.1h1.4M647.1 458h1.4M648.1 457.6h1.4M664.7 456h1.4M665.3 455.7h1.4M665.9 457.1h1.4M665.7 457h1.4" fill="none" stroke="#79e379" stroke-width="1.4"/>
<path d="M463.8 496.8h1.4M474.2 496.1h1.4M547 497h1.4M545.5 496.1h1.4M545.5 498.6h1.4M543.4 497.5h1.4M544 497.3h1.4M537.8 498.3h1.4" fill="none" stroke="#e47373" stroke-width="1.4"/>
<path d="M183.9 455.5h1.4M178 454.4h1.4M175.3 454.7h1.4M178.8 455.4h1.4M204.6 455.1h1.4M202.1 454.8h1.4M207.8 455.4h1.4M193.5 453.8h1.4M261.3 455.2h1.4M247.1 455.5h1.4M245.3 453.6h1.4M378.6 453.6h1.4M505.2 455h1.4M514.2 455.1h1.4M520.7 454.9h1.4M649.7 455.4h1.4M653 455.4h1.4M650.9 455h1.4M649 455.5h1.4M665.7 454.4h1.4M664.9 454.9h1.4M665.8 453.9h1.4M665.5 454.7h1.4M664.9 453.1h1.4M664.3 454.3h1.4M664.6 453.6h1.4" fill="none" stroke="#6ce36c" stroke-width="1.4"/>
<path d="M541 499.7h1.4M543.3 501h1.4M573.9 500.7h1.4" fill="none" stroke="#e46767" stroke-width="1.4"/>
<path d="M188.2 452.1h1.4M188.3 452.8h1.4M185.9 453h1.4M181.9 451.4h1.4M184.7 451h1.4M188.6 451.6h1.4M185.2 452.6h1.4M210.4 453h1.4M208.1 452.7h1.4M196.8 453h1.4M265.3 451.7h1.4M271 450.9h1.4M249.5 452.3h1.4M266.5 452.5h1.4M371.5 452.3h1.4M380.8 452.9h1.4M373.5 453.1h1.4M373.7 452.2h1.4M371.4 452.1h1.4M372.8 451.7h1.4M376.5 451.6h1.4M416 451.6h1.4M201.9 451.8h1.4M665.2 451.8h1.4M666 451.5h1.4M664.8 450.7h1.4M665.3 451.3h1.4M665.1 452.7h1.4" fill="none" stroke="#5fe45f" stroke-width="1.4"/>
<path d="M470.8 501.9h1.4M644.9 501.8h1.4M566.9 502.4h1.4M583.9 502.4h1.4" fill="none" stroke="#e45c5c" stroke-width="1.4"/>
<path d="M181.9 449.4h1.4M189.9 450h1.4M187.6 450.1h1.4M183.3 450.3h1.4M179.9 450.3h1.4M183.9 449.1h1.4M247.8 449.6h1.4M379.3 450h1.4M375.3 449.6h1.4M378.8 450.5h1.4M372.8 448.5h1.4M375.7 450.4h1.4M375.8 449.5h1.4M373.2 448.4h1.4M503.2 449.7h1.4M180.9 449.3h1.4M186.9 448.5h1.4M665.7 450.1h1.4M665.6 448.2h1.4M665.5 448.3h1.4" fill="none" stroke="#55e455" stroke-width="1.4"/>
<path d="M178.8 447.1h1.4M174.4 447.4h1.4M180.6 446.8h1.4M179.7 447.9h1.4M180.6 447h1.4M179.6 446.8h1.4M371.8 446.3h1.4M665.2 447.6h1.4M665.7 445.9h1.4M665.9 446h1.4" fill="none" stroke="#4be34b" stroke-width="1.4"/>
<path d="M181.5 445.1h1.4M190 445.3h1.4M181.4 443.2h1.4M181.9 444.4h1.4M271.5 445.2h1.4M240 445.4h1.4M381.6 443.8h1.4M381.1 445.2h1.4M373.8 443.8h1.4M174.9 443.4h1.4M665.2 443.4h1.4M665.8 443.7h1.4" fill="none" stroke="#41e341" stroke-width="1.4"/>
<path d="M183.8 440.5h1.4M374.9 442.5h1.4M665.7 441.7h1.4M665 441.8h1.4M665.6 442.7h1.4" fill="none" stroke="#37e237" stroke-width="1.4"/>
<path d="M187.5 438.4h1.4M174.9 439.2h1.4M665.2 439.2h1.4M664.7 438h1.4M665.2 440.4h1.4M665.3 439.3h1.4M665.2 438h1.4M665.8 438.9h1.4" fill="none" stroke="#2de22d" stroke-width="1.4"/>
<path d="M665.7 437.5h1.4M665.8 436.8h1.4M665.3 437.3h1.4" fill="none" stroke="#2be12b" stroke-width="1.4"/>
<path d="M345.7 515.9h1.4" fill="none" stroke="#df2727" stroke-width="1.4"/>
<path d="M174.9 435h1.4M665.2 435h1.4M665.7 433.3h1.4M665.6 433.4h1.4" fill="none" stroke="#29e129" stroke-width="1.4"/>
<path d="M665.2 430.8h1.4M665.6 430.8h1.4M664.8 432.1h1.4M664.7 430.4h1.4" fill="none" stroke="#27e027" stroke-width="1.4"/>
<path d="M665.7 428.2h1.4M665.4 428h1.4" fill="none" stroke="#24e024" stroke-width="1.4"/>
<path d="M665.2 426.6h1.4M665.8 427.8h1.4" fill="none" stroke="#22df22" stroke-width="1.4"/>
<path d="M345.7 535.2h1.4" fill="none" stroke="#d90f0f" stroke-width="1.4"/>
<path d="M147.6 477.1H166.9M166.9 465H174.1M174.1 455.2H192.4M192.4 464.1H236.8M236.8 462.8H273.2M273.2 483.7H308M308 476.3H340.7M340.7 473.1H372M372 452.9H382.5M382.5 472.7H401M401 468H427.8M427.8 481.3H453.3M453.3 482.9H478.1M478.1 482.4H487M488.3 481.3H502M502 464.1H509M509.7 465H526.9M530 490.3H548M550.5 474H567.7M570.2 482H585.5M585.5 480.9H591.9M591.9 481.3H602.1M602.1 477.5H616.8M617.4 474.6H631.4M632.6 468.7H639.7M639.7 481.3H642.5M642.5 488.6H646.7M646.7 463.4H653.8M655.4 474H664.5M667.2 482.9H671.4" fill="none" stroke="#16167a" stroke-width="2"/>
<line x1="147.6" y1="364.8" x2="671.4" y2="364.8" stroke="#585858" stroke-width="1.6"/>
<line x1="192.4" y1="363.9" x2="192.4" y2="365.7" stroke="#c4c4c4" stroke-width="1"/>
<line x1="236.7" y1="363.9" x2="236.7" y2="365.7" stroke="#c4c4c4" stroke-width="1"/>
<line x1="272.7" y1="363.9" x2="272.7" y2="365.7" stroke="#c4c4c4" stroke-width="1"/>
<line x1="307.5" y1="363.9" x2="307.5" y2="365.7" stroke="#c4c4c4" stroke-width="1"/>
<line x1="340.5" y1="363.9" x2="340.5" y2="365.7" stroke="#c4c4c4" stroke-width="1"/>
<line x1="371.6" y1="363.9" x2="371.6" y2="365.7" stroke="#c4c4c4" stroke-width="1"/>
<line x1="400.6" y1="363.9" x2="400.6" y2="365.7" stroke="#c4c4c4" stroke-width="1"/>
<line x1="427.3" y1="363.9" x2="427.3" y2="365.7" stroke="#c4c4c4" stroke-width="1"/>
<line x1="453" y1="363.9" x2="453" y2="365.7" stroke="#c4c4c4" stroke-width="1"/>
<line x1="477.7" y1="363.9" x2="477.7" y2="365.7" stroke="#c4c4c4" stroke-width="1"/>
<line x1="502.2" y1="363.9" x2="502.2" y2="365.7" stroke="#c4c4c4" stroke-width="1"/>
<line x1="526.6" y1="363.9" x2="526.6" y2="365.7" stroke="#c4c4c4" stroke-width="1"/>
<line x1="547.6" y1="363.9" x2="547.6" y2="365.7" stroke="#c4c4c4" stroke-width="1"/>
<line x1="567.1" y1="363.9" x2="567.1" y2="365.7" stroke="#c4c4c4" stroke-width="1"/>
<line x1="585.8" y1="363.9" x2="585.8" y2="365.7" stroke="#c4c4c4" stroke-width="1"/>
<line x1="602.2" y1="363.9" x2="602.2" y2="365.7" stroke="#c4c4c4" stroke-width="1"/>
<line x1="617" y1="363.9" x2="617" y2="365.7" stroke="#c4c4c4" stroke-width="1"/>
<line x1="631.3" y1="363.9" x2="631.3" y2="365.7" stroke="#c4c4c4" stroke-width="1"/>
<line x1="642" y1="363.9" x2="642" y2="365.7" stroke="#c4c4c4" stroke-width="1"/>
<line x1="653.5" y1="363.9" x2="653.5" y2="365.7" stroke="#c4c4c4" stroke-width="1"/>
<line x1="662.3" y1="363.9" x2="662.3" y2="365.7" stroke="#c4c4c4" stroke-width="1"/>
<line x1="671.4" y1="364.8" x2="671.4" y2="590.3" stroke="#ccc" stroke-width="1.4"/>
<line x1="147.6" y1="364.8" x2="147.6" y2="590.3" stroke="#ccc" stroke-width="1.4"/>
<line x1="147.6" y1="376" x2="147.6" y2="578.2" stroke="#484848" stroke-width="1.6"/>
<line x1="146.8" y1="590.3" x2="671.4" y2="590.3" stroke="#4a4a4a" stroke-width="1.7"/>
<line x1="142.6" y1="376" x2="147.6" y2="376" stroke="#444" stroke-width="1.5"/>
<text x="138.2" y="379.2" class="yl">1.2</text>
<line x1="142.6" y1="409.7" x2="147.6" y2="409.7" stroke="#444" stroke-width="1.5"/>
<text x="138.2" y="412.9" class="yl">0.8</text>
<line x1="142.6" y1="443.4" x2="147.6" y2="443.4" stroke="#444" stroke-width="1.5"/>
<text x="138.2" y="446.6" class="yl">0.4</text>
<line x1="142.6" y1="477.1" x2="147.6" y2="477.1" stroke="#444" stroke-width="1.5"/>
<text x="138.2" y="480.3" class="yl">0.0</text>
<line x1="142.6" y1="510.8" x2="147.6" y2="510.8" stroke="#444" stroke-width="1.5"/>
<text x="138.2" y="514" class="yl">-0.4</text>
<line x1="142.6" y1="544.5" x2="147.6" y2="544.5" stroke="#444" stroke-width="1.5"/>
<text x="138.2" y="547.7" class="yl">-0.8</text>
<line x1="142.6" y1="578.2" x2="147.6" y2="578.2" stroke="#444" stroke-width="1.5"/>
<text x="138.2" y="581.4" class="yl">-1.2</text>
<line x1="169.7" y1="590.3" x2="169.7" y2="594.8" stroke="#444" stroke-width="1.5"/>
<text transform="translate(172.8 599.7) rotate(-90)" class="xl">chr1</text>
<line x1="214.5" y1="590.3" x2="214.5" y2="594.8" stroke="#444" stroke-width="1.5"/>
<text transform="translate(217.6 599.7) rotate(-90)" class="xl">chr2</text>
<line x1="254.7" y1="590.3" x2="254.7" y2="594.8" stroke="#444" stroke-width="1.5"/>
<text transform="translate(257.8 599.7) rotate(-90)" class="xl">chr3</text>
<line x1="290.1" y1="590.3" x2="290.1" y2="594.8" stroke="#444" stroke-width="1.5"/>
<text transform="translate(293.2 599.7) rotate(-90)" class="xl">chr4</text>
<line x1="324" y1="590.3" x2="324" y2="594.8" stroke="#444" stroke-width="1.5"/>
<text transform="translate(327.1 599.7) rotate(-90)" class="xl">chr5</text>
<line x1="356.1" y1="590.3" x2="356.1" y2="594.8" stroke="#444" stroke-width="1.5"/>
<text transform="translate(359.2 599.7) rotate(-90)" class="xl">chr6</text>
<line x1="386.1" y1="590.3" x2="386.1" y2="594.8" stroke="#444" stroke-width="1.5"/>
<text transform="translate(389.2 599.7) rotate(-90)" class="xl">chr7</text>
<line x1="413.9" y1="590.3" x2="413.9" y2="594.8" stroke="#444" stroke-width="1.5"/>
<text transform="translate(417 599.7) rotate(-90)" class="xl">chr8</text>
<line x1="440.1" y1="590.3" x2="440.1" y2="594.8" stroke="#444" stroke-width="1.5"/>
<text transform="translate(443.2 599.7) rotate(-90)" class="xl">chr9</text>
<line x1="465.3" y1="590.3" x2="465.3" y2="594.8" stroke="#444" stroke-width="1.5"/>
<text transform="translate(468.4 599.7) rotate(-90)" class="xl">chr10</text>
<line x1="489.9" y1="590.3" x2="489.9" y2="594.8" stroke="#444" stroke-width="1.5"/>
<text transform="translate(493 599.7) rotate(-90)" class="xl">chr11</text>
<line x1="514.4" y1="590.3" x2="514.4" y2="594.8" stroke="#444" stroke-width="1.5"/>
<text transform="translate(517.5 599.7) rotate(-90)" class="xl">chr12</text>
<line x1="537.1" y1="590.3" x2="537.1" y2="594.8" stroke="#444" stroke-width="1.5"/>
<text transform="translate(540.2 599.7) rotate(-90)" class="xl">chr13</text>
<line x1="557.4" y1="590.3" x2="557.4" y2="594.8" stroke="#444" stroke-width="1.5"/>
<text transform="translate(560.5 599.7) rotate(-90)" class="xl">chr14</text>
<line x1="576.5" y1="590.3" x2="576.5" y2="594.8" stroke="#444" stroke-width="1.5"/>
<text transform="translate(579.6 599.7) rotate(-90)" class="xl">chr15</text>
<line x1="594" y1="590.3" x2="594" y2="594.8" stroke="#444" stroke-width="1.5"/>
<text transform="translate(597.1 599.7) rotate(-90)" class="xl">chr16</text>
<line x1="609.6" y1="590.3" x2="609.6" y2="594.8" stroke="#444" stroke-width="1.5"/>
<text transform="translate(612.7 599.7) rotate(-90)" class="xl">chr17</text>
<line x1="624.1" y1="590.3" x2="624.1" y2="594.8" stroke="#444" stroke-width="1.5"/>
<text transform="translate(627.2 599.7) rotate(-90)" class="xl">chr18</text>
<line x1="636.6" y1="590.3" x2="636.6" y2="594.8" stroke="#444" stroke-width="1.5"/>
<text transform="translate(639.7 599.7) rotate(-90)" class="xl">chr19</text>
<line x1="647.8" y1="590.3" x2="647.8" y2="594.8" stroke="#444" stroke-width="1.5"/>
<text transform="translate(650.9 599.7) rotate(-90)" class="xl">chr20</text>
<line x1="657.9" y1="590.3" x2="657.9" y2="594.8" stroke="#444" stroke-width="1.5"/>
<text transform="translate(661 599.7) rotate(-90)" class="xl">chr21</text>
<line x1="666.9" y1="590.3" x2="666.9" y2="594.8" stroke="#444" stroke-width="1.5"/>
<text transform="translate(670 599.7) rotate(-90)" class="xl">chr22</text>
<text transform="translate(702.4 339.9) scale(0.965 1)" font-size="29.5">GCT57</text>
<line x1="768.1" y1="364.6" x2="768.1" y2="589.7" class="cb"/>
<line x1="812.3" y1="364.6" x2="812.3" y2="589.7" class="cb"/>
<line x1="848.2" y1="364.6" x2="848.2" y2="589.7" class="cb"/>
<line x1="883" y1="364.6" x2="883" y2="589.7" class="cb"/>
<line x1="915.8" y1="364.6" x2="915.8" y2="589.7" class="cb"/>
<line x1="946.9" y1="364.6" x2="946.9" y2="589.7" class="cb"/>
<line x1="975.8" y1="364.6" x2="975.8" y2="589.7" class="cb"/>
<line x1="1002.4" y1="364.6" x2="1002.4" y2="589.7" class="cb"/>
<line x1="1028.1" y1="364.6" x2="1028.1" y2="589.7" class="cb"/>
<line x1="1052.7" y1="364.6" x2="1052.7" y2="589.7" class="cb"/>
<line x1="1077.2" y1="364.6" x2="1077.2" y2="589.7" class="cb"/>
<line x1="1101.5" y1="364.6" x2="1101.5" y2="589.7" class="cb"/>
<line x1="1122.5" y1="364.6" x2="1122.5" y2="589.7" class="cb"/>
<line x1="1142" y1="364.6" x2="1142" y2="589.7" class="cb"/>
<line x1="1160.6" y1="364.6" x2="1160.6" y2="589.7" class="cb"/>
<line x1="1177" y1="364.6" x2="1177" y2="589.7" class="cb"/>
<line x1="1191.8" y1="364.6" x2="1191.8" y2="589.7" class="cb"/>
<line x1="1205.9" y1="364.6" x2="1205.9" y2="589.7" class="cb"/>
<line x1="1216.7" y1="364.6" x2="1216.7" y2="589.7" class="cb"/>
<line x1="1228.1" y1="364.6" x2="1228.1" y2="589.7" class="cb"/>
<line x1="1236.9" y1="364.6" x2="1236.9" y2="589.7" class="cb"/>
<line x1="1246.2" y1="364.6" x2="1246.2" y2="589.7" class="cb"/>
<line x1="746.7" y1="366.6" x2="746.7" y2="589.7" class="cd"/>
<line x1="785" y1="366.6" x2="785" y2="589.7" class="cd"/>
<line x1="828.8" y1="366.6" x2="828.8" y2="589.7" class="cd"/>
<line x1="857.4" y1="366.6" x2="857.4" y2="589.7" class="cd"/>
<line x1="891.8" y1="366.6" x2="891.8" y2="589.7" class="cd"/>
<line x1="926.9" y1="366.6" x2="926.9" y2="589.7" class="cd"/>
<line x1="957.8" y1="366.6" x2="957.8" y2="589.7" class="cd"/>
<line x1="984.1" y1="366.6" x2="984.1" y2="589.7" class="cd"/>
<line x1="1011.3" y1="366.6" x2="1011.3" y2="589.7" class="cd"/>
<line x1="1035.4" y1="366.6" x2="1035.4" y2="589.7" class="cd"/>
<line x1="1062.5" y1="366.6" x2="1062.5" y2="589.7" class="cd"/>
<line x1="1083.7" y1="366.6" x2="1083.7" y2="589.7" class="cd"/>
<line x1="1104.8" y1="366.6" x2="1104.8" y2="589.7" class="cd"/>
<line x1="1125.7" y1="366.6" x2="1125.7" y2="589.7" class="cd"/>
<line x1="1145.4" y1="366.6" x2="1145.4" y2="589.7" class="cd"/>
<line x1="1167.2" y1="366.6" x2="1167.2" y2="589.7" class="cd"/>
<line x1="1181.4" y1="366.6" x2="1181.4" y2="589.7" class="cd"/>
<line x1="1194.9" y1="366.6" x2="1194.9" y2="589.7" class="cd"/>
<line x1="1210.8" y1="366.6" x2="1210.8" y2="589.7" class="cd"/>
<line x1="1221.7" y1="366.6" x2="1221.7" y2="589.7" class="cd"/>
<line x1="1230.5" y1="366.6" x2="1230.5" y2="589.7" class="cd"/>
<line x1="1239.6" y1="366.6" x2="1239.6" y2="589.7" class="cd"/>
<path d="M1077.4 411.6h6.6v3.9h-6.6z" fill="#17dd17" stroke="none" mask="url(#mS)"/>
<path d="M1077.4 415.4h6.6v3.9h-6.6z" fill="#1bde1b" stroke="none" mask="url(#mS)"/>
<path d="M856.4 422.5h1.5v3.4h-1.5zM1230.4 423.5h6.6v3.2h-6.6z" fill="#21df21" stroke="none" mask="url(#mS)"/>
<path d="M856.4 425.9h1.5v3.4h-1.5zM1230.4 426.6h6.6v3.2h-6.6z" fill="#24e024" stroke="none" mask="url(#mS)"/>
<path d="M778.1 436.8h4.9v3h-4.9z" fill="#2ce22c" stroke="none" mask="url(#mS)"/>
<path d="M768.4 438.9h4.9v2.5h-4.9z" fill="#30e230" stroke="none" mask="url(#mS)"/>
<path d="M773.3 440.6h4.9v2.4h-4.9zM778.1 439.7h4.9v3h-4.9z" fill="#37e237" stroke="none" mask="url(#mS)"/>
<path d="M768.4 441.4h4.9v2.5h-4.9zM773.3 442.9h4.9v2.4h-4.9z" fill="#3ee33e" stroke="none" mask="url(#mS)"/>
<path d="M947.3 446.3h4.8v2.6h-4.8zM1097.4 447.1h4.5v2.7h-4.5zM1240.2 447.6h3.2v2.3h-3.2z" fill="#52e352" stroke="none" mask="url(#mS)"/>
<path d="M813 449.8h5.2v1.8h-5.2zM818.2 448.4h5.2v2h-5.2zM823.4 449.8h5.2v1.7h-5.2zM828.6 449.1h5.2v1.9h-5.2zM947.3 448.8h4.8v2.6h-4.8zM1088.5 448.9h4.5v2.5h-4.5zM1093 449h4.5v2.4h-4.5z" fill="#58e458" stroke="none" mask="url(#mS)"/>
<path d="M745.4 450.8h4.6v2.2h-4.6zM759.2 451.2h4.6v2.3h-4.6zM783 450.8h3.9v2.7h-3.9zM813 451.6h5.2v1.8h-5.2zM818.2 450.3h5.2v2h-5.2zM823.4 451.4h5.2v1.7h-5.2zM828.6 451h5.2v1.9h-5.2zM952.1 451h4.8v2.2h-4.8zM976.6 450h5.3v2.6h-5.3zM1084 450.5h4.5v2.3h-4.5zM1097.4 449.8h4.5v2.7h-4.5zM1240.2 449.9h3.2v2.3h-3.2z" fill="#5fe45f" stroke="none" mask="url(#mS)"/>
<path d="M745.4 452.9h4.6v2.2h-4.6zM750 452.2h4.6v2h-4.6zM763.8 451.9h4.6v2.1h-4.6zM952.1 453.1h4.8v2.2h-4.8zM956.8 451.7h4.8v2.2h-4.8zM976.6 452.5h5.3v2.6h-5.3zM987.2 451.9h5.3v2.4h-5.3zM1084 452.7h4.5v2.3h-4.5zM1088.5 451.3h4.5v2.5h-4.5zM1093 451.3h4.5v2.4h-4.5z" fill="#68e468" stroke="none" mask="url(#mS)"/>
<path d="M750 454.1h4.6v2h-4.6zM754.6 453.3h4.6v2h-4.6zM759.2 453.5h4.6v2.3h-4.6zM763.8 453.9h4.6v2.1h-4.6zM783 453.4h3.9v2.7h-3.9zM848.7 453.4h3.9v2.1h-3.9zM956.8 453.8h4.8v2.2h-4.8zM981.9 453.2h5.3v2.1h-5.3zM987.2 454.3h5.3v2.4h-5.3zM992.5 454.5h5.3v2.1h-5.3zM997.8 454.8h5.3v2.1h-5.3zM1182.9 454.5h4.4v1.9h-4.4zM1187.3 454.8h4.5v1.9h-4.5z" fill="#70e370" stroke="none" mask="url(#mS)"/>
<path d="M754.6 455.2h4.6v2h-4.6zM848.7 455.4h3.9v2.1h-3.9zM981.9 455.3h5.3v2.1h-5.3zM1024.2 456.2h4.4v2.1h-4.4zM1182.9 456.4h4.4v1.9h-4.4zM1223 456.4h5.8v2h-5.8z" fill="#79e379" stroke="none" mask="url(#mS)"/>
<path d="M852.5 457.2h3.9v1.5h-3.9zM992.5 456.5h5.3v2.1h-5.3zM997.8 456.9h5.3v2.1h-5.3zM1019.9 456.9h4.4v2h-4.4zM1024.2 458.2h4.4v2.1h-4.4zM1187.3 456.7h4.5v1.9h-4.5z" fill="#81e281" stroke="none" mask="url(#mS)"/>
<path d="M852.5 458.6h3.9v1.5h-3.9zM1015.5 459.6h4.4v1.5h-4.4zM1019.9 458.9h4.4v2h-4.4zM1077.4 458.1h6.6v3.9h-6.6zM1114 459.6h4.5v2.4h-4.5zM1126.1 459h5.3v2.2h-5.3zM1217.3 458.6h5.8v1.9h-5.8zM1223 458.4h5.8v2h-5.8z" fill="#8ae28a" stroke="none" mask="url(#mS)"/>
<path d="M833.8 461.4h5v2.1h-5zM1015.5 461.1h4.4v1.5h-4.4zM1109.5 461.4h4.5v2.1h-4.5zM1126.1 461.2h5.3v2.2h-5.3zM1131.4 460.1h5.3v2h-5.3zM1136.7 460.4h5.3v2h-5.3zM1155.8 461.3h5v1.9h-5zM1217.3 460.4h5.8v1.9h-5.8zM1230.4 460.7h6.6v3.2h-6.6z" fill="#90e190" stroke="none" mask="url(#mS)"/>
<path d="M1077.4 462h6.6v3.9h-6.6zM1114 461.9h4.5v2.4h-4.5zM1131.4 462.1h5.3v2h-5.3zM1136.7 462.3h5.3v2h-5.3zM1150.9 461.9h5v1.9h-5zM1155.8 463.2h5v1.9h-5z" fill="#97e097" stroke="none" mask="url(#mS)"/>
<path d="M833.8 463.4h5v2.1h-5zM843.7 464.3h5v1.8h-5zM856.4 463.2h1.5v3.4h-1.5zM1105 464.9h4.5v1.7h-4.5zM1109.5 463.5h4.5v2.1h-4.5zM1118.4 463.9h4.5v1.8h-4.5zM1145.9 464.1h5v1.8h-5zM1150.9 463.8h5v1.9h-5zM1230.4 463.8h6.6v3.2h-6.6z" fill="#9de09d" stroke="none" mask="url(#mS)"/>
<path d="M723.4 466.1h3.8v1.8h-3.8zM838.8 465.6h5v1.6h-5zM843.7 466.1h5v1.8h-5zM901.6 465h4.8v2.2h-4.8zM906.4 465.4h4.8v2.1h-4.8zM1105 466.6h4.5v1.7h-4.5zM1118.4 465.6h4.5v1.8h-4.5zM1145.9 465.8h5v1.8h-5zM1166.4 466.4h5.6v1.9h-5.6z" fill="#a4dfa4" stroke="none" mask="url(#mS)"/>
<path d="M723.4 467.8h3.8v1.8h-3.8zM808.3 467.4h4.7v2.5h-4.7zM838.8 467.1h5v1.6h-5zM856.4 466.5h1.5v3.4h-1.5zM901.6 467.2h4.8v2.2h-4.8zM906.4 467.5h4.8v2.1h-4.8zM911.2 467.8h4.8v2h-4.8zM961.6 467.8h6.1v2h-6.1zM1047 468h6v2.2h-6zM1166.4 468.3h5.6v1.9h-5.6zM1243.4 467.3h2.6v1.5h-2.6z" fill="#aadeaa" stroke="none" mask="url(#mS)"/>
<path d="M768.4 468.7h4.9v2.5h-4.9zM773.3 468.4h4.9v2.4h-4.9zM786.9 468.9h3.1v2.1h-3.1zM803.7 468.7h4.7v2.5h-4.7zM823.4 469.1h5.2v1.7h-5.2zM911.2 469.7h4.8v2h-4.8zM961.6 469.7h6.1v2h-6.1zM1053 469.2h4.9v2.3h-4.9zM1160.8 470.1h5.6v1.7h-5.6zM1177.1 469.6h5.8v2h-5.8zM1205.8 469.4h7v2.2h-7zM1243.4 468.7h2.6v1.5h-2.6z" fill="#b1dbb1" stroke="none" mask="url(#mS)"/>
<path d="M768.4 471.1h4.9v2.5h-4.9zM773.3 470.7h4.9v2.4h-4.9zM786.9 470.9h3.1v2.1h-3.1zM803.7 471.1h4.7v2.5h-4.7zM808.3 469.8h4.7v2.5h-4.7zM813 471.2h5.2v1.8h-5.2zM823.4 470.7h5.2v1.7h-5.2zM828.6 471.7h5.2v1.9h-5.2zM969 470.5h3.8v2.3h-3.8zM1003.1 470.8h6.7v1.6h-6.7zM1042 471.3h5v2h-5zM1047 470.2h6v2.2h-6zM1053 471.5h4.9v2.3h-4.9zM1160.8 471.8h5.6v1.7h-5.6zM1177.1 471.6h5.8v2h-5.8zM1191.8 471.1h4.4v1.6h-4.4zM1205.8 471.5h7v2.2h-7zM1212.8 470.6h4.5v1.9h-4.5z" fill="#b9d7b9" stroke="none" mask="url(#mS)"/>
<path d="M778.1 471.8h4.9v3h-4.9zM799 472.8h4.7v2.1h-4.7zM813 473h5.2v1.8h-5.2zM818.2 471.9h5.2v2h-5.2zM969 472.7h3.8v2.3h-3.8zM1003.1 472.3h6.7v1.6h-6.7zM1042 473.2h5v2h-5zM1067.6 473.1h4.9v2h-4.9zM1191.8 472.6h4.4v1.6h-4.4zM1212.8 472.4h4.5v1.9h-4.5z" fill="#c0d4c0" stroke="none" mask="url(#mS)"/>
<path d="M750 475.1h4.6v2h-4.6zM799 474.8h4.7v2.1h-4.7zM818.2 473.9h5.2v2h-5.2zM828.6 473.6h5.2v1.9h-5.2zM852.5 474.1h3.9v1.5h-3.9zM972.8 473.7h3.8v1.8h-3.8zM1032.1 473.7h5v1.9h-5zM1037.1 474.3h5v1.8h-5zM1057.9 475h4.9v1.8h-4.9zM1072.5 474.7h4.9v1.8h-4.9zM1201 473.9h4.8v2.7h-4.8zM1240.2 474.2h3.2v2.3h-3.2z" fill="#c6d0c6" stroke="none" mask="url(#mS)"/>
<path d="M745.4 476.1h4.6v2.2h-4.6zM754.6 476.3h4.6v2h-4.6zM763.8 476.7h4.6v2.1h-4.6zM778.1 474.8h4.9v3h-4.9zM852.5 475.5h3.9v1.5h-3.9zM897.1 475.8h4.5v2.4h-4.5zM972.8 475.4h3.8v1.8h-3.8zM1032.1 475.6h5v1.9h-5zM1037.1 476.1h5v1.8h-5zM1057.9 476.7h4.9v1.8h-4.9zM1062.8 477h4.9v1.5h-4.9zM1067.6 475.1h4.9v2h-4.9zM1072.5 476.4h4.9v1.8h-4.9zM1196.2 475.9h4.8v2.2h-4.8zM1240.2 476.4h3.2v2.3h-3.2z" fill="#cccccc" stroke="none" mask="url(#mS)"/>
<path d="M731.8 476.5h4.5v2.6h-4.5zM745.4 478.2h4.6v2.2h-4.6zM750 477h4.6v2h-4.6zM754.6 478.2h4.6v2h-4.6zM794.5 477.9h4.5v2.4h-4.5zM848.7 478h3.9v2.1h-3.9zM897.1 478.1h4.5v2.4h-4.5zM926.7 476.7h5.3v3.1h-5.3zM947.3 477.1h4.8v2.6h-4.8zM952.1 476.8h4.8v2.2h-4.8zM956.8 477.3h4.8v2.2h-4.8zM981.9 478h5.3v2.1h-5.3zM1015.5 477.2h4.4v1.5h-4.4zM1015.5 478.7h4.4v1.5h-4.4zM1062.8 478.4h4.9v1.5h-4.9zM1084 477.2h4.5v2.3h-4.5zM1088.5 477.9h4.5v2.5h-4.5zM1093 477.7h4.5v2.4h-4.5zM1182.9 477h4.4v1.9h-4.4zM1187.3 477.4h4.5v1.9h-4.5zM1196.2 478h4.8v2.2h-4.8zM1201 476.6h4.8v2.7h-4.8z" fill="#d1c6c6" stroke="none" mask="url(#mS)"/>
<path d="M727.2 480h4.6v2.2h-4.6zM731.8 479.1h4.5v2.6h-4.5zM740.8 478.5h4.6v2.5h-4.6zM759.2 478.7h4.6v2.3h-4.6zM763.8 478.7h4.6v2.1h-4.6zM790 478.7h4.5v2.3h-4.5zM848.7 480h3.9v2.1h-3.9zM859.5 478.9h4.9v3.3h-4.9zM883.8 479.9h4.5v1.8h-4.5zM888.2 478.7h4.4v1.9h-4.4zM892.7 480.1h4.4v1.7h-4.4zM947.3 479.7h4.8v2.6h-4.8zM952.1 479h4.8v2.2h-4.8zM956.8 479.4h4.8v2.2h-4.8zM981.9 480h5.3v2.1h-5.3zM992.5 479.2h5.3v2.1h-5.3zM997.8 479.3h5.3v2.1h-5.3zM1019.9 479.9h4.4v2h-4.4zM1028.6 478.2h3.5v2.7h-3.5zM1084 479.4h4.5v2.3h-4.5zM1097.4 478.7h4.5v2.7h-4.5zM1172 479.9h5.1v2.3h-5.1zM1182.9 478.9h4.4v1.9h-4.4zM1187.3 479.2h4.5v1.9h-4.5z" fill="#d6c0c0" stroke="none" mask="url(#mS)"/>
<path d="M736.3 480.6h4.5v2.3h-4.5zM740.8 481h4.6v2.5h-4.6zM759.2 481h4.6v2.3h-4.6zM790 480.9h4.5v2.3h-4.5zM794.5 480.3h4.5v2.4h-4.5zM883.8 481.6h4.5v1.8h-4.5zM888.2 480.6h4.4v1.9h-4.4zM892.7 481.8h4.4v1.7h-4.4zM926.7 479.7h5.3v3.1h-5.3zM937.1 480.9h5.1v2.6h-5.1zM942.2 480.9h5.1v2.6h-5.1zM976.6 480.2h5.3v2.6h-5.3zM987.2 480.5h5.3v2.4h-5.3zM992.5 481.2h5.3v2.1h-5.3zM997.8 481.4h5.3v2.1h-5.3zM1019.9 481.8h4.4v2h-4.4zM1024.2 480.5h4.4v2.1h-4.4zM1028.6 480.9h3.5v2.7h-3.5zM1088.5 480.3h4.5v2.5h-4.5zM1093 480.1h4.5v2.4h-4.5zM1097.4 481.3h4.5v2.7h-4.5zM1217.3 480.5h5.8v1.9h-5.8zM1223 480.4h5.8v2h-5.8z" fill="#d9b8b8" stroke="none" mask="url(#mS)"/>
<path d="M727.2 482.1h4.6v2.2h-4.6zM736.3 482.9h4.5v2.3h-4.5zM783 482.1h3.9v2.7h-3.9zM838.8 483.7h5v1.6h-5zM859.5 482.2h4.9v3.3h-4.9zM921.3 482.4h5.3v2.3h-5.3zM976.6 482.8h5.3v2.6h-5.3zM987.2 482.8h5.3v2.4h-5.3zM1024.2 482.5h4.4v2.1h-4.4zM1136.7 483.2h5.3v2h-5.3zM1172 482.2h5.1v2.3h-5.1zM1217.3 482.3h5.8v1.9h-5.8zM1223 482.4h5.8v2h-5.8z" fill="#dbb0b0" stroke="none" mask="url(#mS)"/>
<path d="M859.5 521.4h4.9v3.3h-4.9zM864.4 520.1h4.9v2.9h-4.9z" fill="#dc1818" stroke="none" mask="url(#mS)"/>
<path d="M859.5 518.1h4.9v3.3h-4.9zM864.4 517.3h4.9v2.9h-4.9zM869.2 517.1h4.9v2.4h-4.9zM874.1 518.1h4.9v2.6h-4.9zM878.9 517h4.9v2.5h-4.9z" fill="#de1e1e" stroke="none" mask="url(#mS)"/>
<path d="M874.1 515.5h4.9v2.6h-4.9zM926.7 515.7h5.3v3.1h-5.3z" fill="#de2222" stroke="none" mask="url(#mS)"/>
<path d="M783 484.7h3.9v2.7h-3.9zM838.8 485.2h5v1.6h-5zM864.4 483.5h4.9v2.9h-4.9zM874.1 484.5h4.9v2.6h-4.9zM916 485.2h5.3v1.8h-5.3zM921.3 484.6h5.3v2.3h-5.3zM932 483.3h5.1v2.4h-5.1zM937.1 483.5h5.1v2.6h-5.1zM942.2 483.4h5.1v2.6h-5.1zM1105 485.2h4.5v1.7h-4.5zM1118.4 484.6h4.5v1.8h-4.5zM1126.1 484.4h5.3v2.2h-5.3zM1131.4 483.7h5.3v2h-5.3zM1136.7 485.1h5.3v2h-5.3zM1145.9 484.5h5v1.8h-5zM1150.9 484.5h5v1.9h-5zM1155.8 483.7h5v1.9h-5zM1243.4 484.9h2.6v1.5h-2.6z" fill="#dea8a8" stroke="none" mask="url(#mS)"/>
<path d="M869.2 514.8h4.9v2.4h-4.9zM878.9 514.5h4.9v2.5h-4.9zM932 514.1h5.1v2.4h-5.1zM937.1 513.7h5.1v2.6h-5.1zM942.2 513.8h5.1v2.6h-5.1z" fill="#df2525" stroke="none" mask="url(#mS)"/>
<path d="M926.7 512.7h5.3v3.1h-5.3zM1028.6 513.2h3.5v2.7h-3.5z" fill="#df2929" stroke="none" mask="url(#mS)"/>
<path d="M723.4 486.5h3.8v1.8h-3.8zM833.8 486h5v2.1h-5zM843.7 485.7h5v1.8h-5zM864.4 486.3h4.9v2.9h-4.9zM878.9 485.1h4.9v2.5h-4.9zM932 485.7h5.1v2.4h-5.1zM1105 486.9h4.5v1.7h-4.5zM1109.5 486.4h4.5v2.1h-4.5zM1118.4 486.3h4.5v1.8h-4.5zM1126.1 486.6h5.3v2.2h-5.3zM1131.4 485.7h5.3v2h-5.3zM1145.9 486.3h5v1.8h-5zM1150.9 486.4h5v1.9h-5zM1155.8 485.6h5v1.9h-5zM1243.4 486.4h2.6v1.5h-2.6z" fill="#dfa0a0" stroke="none" mask="url(#mS)"/>
<path d="M736.3 510.4h4.5v2.3h-4.5zM740.8 510.9h4.6v2.5h-4.6zM921.3 511.4h5.3v2.3h-5.3zM932 511.7h5.1v2.4h-5.1zM937.1 511.2h5.1v2.6h-5.1zM942.2 511.2h5.1v2.6h-5.1zM1028.6 510.5h3.5v2.7h-3.5z" fill="#e02c2c" stroke="none" mask="url(#mS)"/>
<path d="M723.4 488.2h3.8v1.8h-3.8zM833.8 488.1h5v2.1h-5zM843.7 487.5h5v1.8h-5zM869.2 487h4.9v2.4h-4.9zM874.1 487.1h4.9v2.6h-4.9zM878.9 487.5h4.9v2.5h-4.9zM916 487h5.3v1.8h-5.3zM1114 487.7h4.5v2.4h-4.5z" fill="#e09999" stroke="none" mask="url(#mS)"/>
<path d="M731.8 510h4.5v2.6h-4.5zM794.5 508.5h4.5v2.4h-4.5zM921.3 509.2h5.3v2.3h-5.3zM1172 509.1h5.1v2.3h-5.1zM1201 508.6h4.8v2.7h-4.8z" fill="#e13434" stroke="none" mask="url(#mS)"/>
<path d="M727.2 507.4h4.6v2.2h-4.6zM731.8 507.5h4.5v2.6h-4.5zM736.3 508.1h4.5v2.3h-4.5zM740.8 508.4h4.6v2.5h-4.6zM790 507.9h4.5v2.3h-4.5zM916 508.4h5.3v1.8h-5.3z" fill="#e13c3c" stroke="none" mask="url(#mS)"/>
<path d="M790 505.6h4.5v2.3h-4.5zM794.5 506.2h4.5v2.4h-4.5zM897.1 505.8h4.5v2.4h-4.5zM916 506.6h5.3v1.8h-5.3zM1172 506.8h5.1v2.3h-5.1zM1201 505.9h4.8v2.7h-4.8z" fill="#e24444" stroke="none" mask="url(#mS)"/>
<path d="M869.2 489.3h4.9v2.4h-4.9zM1003.1 489.6h6.7v1.6h-6.7zM1109.5 488.5h4.5v2.1h-4.5zM1114 490h4.5v2.4h-4.5zM1160.8 489.6h5.6v1.7h-5.6zM1166.4 488.8h5.6v1.9h-5.6zM1191.8 489.6h4.4v1.6h-4.4z" fill="#e29191" stroke="none" mask="url(#mS)"/>
<path d="M727.2 505.3h4.6v2.2h-4.6zM897.1 503.5h4.5v2.4h-4.5z" fill="#e34c4c" stroke="none" mask="url(#mS)"/>
<path d="M883.8 502.3h4.5v1.8h-4.5zM888.2 503.3h4.4v1.9h-4.4zM892.7 502.1h4.4v1.7h-4.4zM1196.2 503.6h4.8v2.2h-4.8z" fill="#e35454" stroke="none" mask="url(#mS)"/>
<path d="M901.6 491.3h4.8v2.2h-4.8zM906.4 490.5h4.8v2.1h-4.8zM911.2 490.8h4.8v2h-4.8zM961.6 490.8h6.1v2h-6.1zM1003.1 491.2h6.7v1.6h-6.7zM1160.8 491.2h5.6v1.7h-5.6zM1166.4 490.7h5.6v1.9h-5.6zM1191.8 491.1h4.4v1.6h-4.4z" fill="#e38a8a" stroke="none" mask="url(#mS)"/>
<path d="M803.7 500.7h4.7v2.5h-4.7zM883.8 500.5h4.5v1.8h-4.5zM888.2 501.4h4.4v1.9h-4.4zM1196.2 501.4h4.8v2.2h-4.8z" fill="#e45c5c" stroke="none" mask="url(#mS)"/>
<path d="M799 499h4.7v2.1h-4.7zM808.3 499.6h4.7v2.5h-4.7zM892.7 500.4h4.4v1.7h-4.4zM969 499.3h3.8v2.3h-3.8zM1053 498.8h4.9v2.3h-4.9zM1067.6 498.7h4.9v2h-4.9z" fill="#e46464" stroke="none" mask="url(#mS)"/>
<path d="M799 497h4.7v2.1h-4.7zM803.7 498.2h4.7v2.5h-4.7zM808.3 497.1h4.7v2.5h-4.7zM969 497.1h3.8v2.3h-3.8zM1032.1 498.2h5v1.9h-5zM1037.1 497.7h5v1.8h-5zM1042 497.1h5v2h-5zM1057.9 497.1h4.9v1.8h-4.9zM1072.5 497.4h4.9v1.8h-4.9zM1205.8 497.1h7v2.2h-7z" fill="#e46b6b" stroke="none" mask="url(#mS)"/>
<path d="M786.9 495.5h3.1v2.1h-3.1zM972.8 496.5h3.8v1.8h-3.8zM1032.1 496.3h5v1.9h-5zM1037.1 495.9h5v1.8h-5zM1047 496h6v2.2h-6zM1053 496.6h4.9v2.3h-4.9zM1057.9 495.4h4.9v1.8h-4.9zM1067.6 496.8h4.9v2h-4.9zM1072.5 495.6h4.9v1.8h-4.9z" fill="#e47373" stroke="none" mask="url(#mS)"/>
<path d="M972.8 494.8h3.8v1.8h-3.8zM1042 495.1h5v2h-5zM1047 493.9h6v2.2h-6zM1062.8 494h4.9v1.5h-4.9zM1062.8 495.4h4.9v1.5h-4.9zM1177.1 495h5.8v2h-5.8zM1205.8 495h7v2.2h-7zM1212.8 494.1h4.5v1.9h-4.5z" fill="#e47a7a" stroke="none" mask="url(#mS)"/>
<path d="M786.9 493.5h3.1v2.1h-3.1zM901.6 493.5h4.8v2.2h-4.8zM906.4 492.6h4.8v2.1h-4.8zM911.2 492.7h4.8v2h-4.8zM961.6 492.7h6.1v2h-6.1zM1177.1 493h5.8v2h-5.8zM1212.8 492.3h4.5v1.9h-4.5z" fill="#e48282" stroke="none" mask="url(#mS)"/>
<path d="M1077.4 419.3h6.6v5.5h-6.6z" fill="#1ede1e" stroke="none" mask="url(#mD)"/>
<path d="M1077.4 424.7h6.6v5.5h-6.6z" fill="#24e024" stroke="none" mask="url(#mD)"/>
<path d="M856.4 429.2h1.5v4.8h-1.5zM1230.4 429.7h6.6v4.4h-6.6z" fill="#27e027" stroke="none" mask="url(#mD)"/>
<path d="M856.4 434h1.5v4.8h-1.5zM1230.4 434h6.6v4.4h-6.6z" fill="#2be12b" stroke="none" mask="url(#mD)"/>
<path d="M768.4 443.9h4.9v3.5h-4.9zM778.1 442.6h4.9v4.1h-4.9z" fill="#44e344" stroke="none" mask="url(#mD)"/>
<path d="M773.3 445.2h4.9v3.3h-4.9z" fill="#4be34b" stroke="none" mask="url(#mD)"/>
<path d="M768.4 447.3h4.9v3.5h-4.9zM778.1 446.7h4.9v4.1h-4.9z" fill="#52e352" stroke="none" mask="url(#mD)"/>
<path d="M773.3 448.4h4.9v3.3h-4.9zM1077.4 447.2h6.6v5.5h-6.6z" fill="#58e458" stroke="none" mask="url(#mD)"/>
<path d="M818.2 452.3h5.2v2.8h-5.2zM823.4 453h5.2v2.3h-5.2zM947.3 451.4h4.8v3.6h-4.8zM1230.4 452h6.6v4.4h-6.6zM1240.2 452.1h3.2v3.2h-3.2z" fill="#68e468" stroke="none" mask="url(#mD)"/>
<path d="M813 453.4h5.2v2.5h-5.2zM828.6 452.9h5.2v2.7h-5.2zM1077.4 452.7h6.6v5.5h-6.6zM1088.5 453.7h4.5v3.4h-4.5zM1093 453.7h4.5v3.4h-4.5zM1097.4 452.4h4.5v3.7h-4.5z" fill="#70e370" stroke="none" mask="url(#mD)"/>
<path d="M745.4 455h4.6v3h-4.6zM750 456h4.6v2.7h-4.6zM759.2 455.8h4.6v3.3h-4.6zM763.8 456h4.6v2.9h-4.6zM813 455.9h5.2v2.5h-5.2zM818.2 455h5.2v2.8h-5.2zM823.4 455.3h5.2v2.3h-5.2zM828.6 455.5h5.2v2.7h-5.2zM856.4 453.7h1.5v4.8h-1.5zM947.3 455h4.8v3.6h-4.8zM952.1 455.3h4.8v3.1h-4.8zM956.8 456h4.8v3h-4.8zM976.6 455.1h5.3v3.6h-5.3zM1084 455h4.5v3.2h-4.5zM1240.2 455.2h3.2v3.2h-3.2z" fill="#79e379" stroke="none" mask="url(#mD)"/>
<path d="M754.6 457.1h4.6v2.7h-4.6zM783 456h3.9v3.7h-3.9zM848.7 457.5h3.9v2.9h-3.9zM981.9 457.3h5.3v2.9h-5.3zM987.2 456.7h5.3v3.4h-5.3zM1088.5 457.1h4.5v3.4h-4.5zM1093 457.1h4.5v3.4h-4.5zM1097.4 456.1h4.5v3.7h-4.5zM1230.4 456.3h6.6v4.4h-6.6z" fill="#81e281" stroke="none" mask="url(#mD)"/>
<path d="M745.4 457.9h4.6v3h-4.6zM750 458.7h4.6v2.7h-4.6zM759.2 459h4.6v3.3h-4.6zM763.8 458.9h4.6v2.9h-4.6zM856.4 458.4h1.5v4.8h-1.5zM952.1 458.3h4.8v3.1h-4.8zM956.8 459h4.8v3h-4.8zM976.6 458.6h5.3v3.6h-5.3zM992.5 458.6h5.3v2.9h-5.3zM997.8 458.9h5.3v2.9h-5.3zM1084 458.1h4.5v3.2h-4.5zM1182.9 458.3h4.4v2.7h-4.4zM1187.3 458.5h4.5v2.7h-4.5z" fill="#8ae28a" stroke="none" mask="url(#mD)"/>
<path d="M754.6 459.8h4.6v2.7h-4.6zM783 459.7h3.9v3.7h-3.9zM848.7 460.4h3.9v2.9h-3.9zM852.5 460h3.9v2h-3.9zM981.9 460.2h5.3v2.9h-5.3zM987.2 460h5.3v3.4h-5.3zM1019.9 460.8h4.4v2.7h-4.4zM1024.2 460.2h4.4v2.9h-4.4zM1182.9 460.9h4.4v2.7h-4.4zM1187.3 461.2h4.5v2.7h-4.5zM1223 460.4h5.8v2.8h-5.8z" fill="#90e190" stroke="none" mask="url(#mD)"/>
<path d="M768.4 461.7h4.9v3.5h-4.9zM773.3 461.9h4.9v3.3h-4.9zM852.5 462h3.9v2h-3.9zM992.5 461.5h5.3v2.9h-5.3zM997.8 461.8h5.3v2.9h-5.3zM1015.5 462.5h4.4v2.1h-4.4zM1217.3 462.2h5.8v2.6h-5.8z" fill="#97e097" stroke="none" mask="url(#mD)"/>
<path d="M778.1 463.7h4.9v4.1h-4.9zM823.4 464.6h5.2v2.3h-5.2zM1015.5 464.6h4.4v2.1h-4.4zM1019.9 463.5h4.4v2.7h-4.4zM1024.2 463.1h4.4v2.9h-4.4zM1114 464.3h4.5v3.3h-4.5zM1126.1 463.3h5.3v3h-5.3zM1131.4 464h5.3v2.8h-5.3zM1136.7 464.2h5.3v2.7h-5.3zM1223 463.2h5.8v2.8h-5.8z" fill="#9de09d" stroke="none" mask="url(#mD)"/>
<path d="M768.4 465.2h4.9v3.5h-4.9zM773.3 465.1h4.9v3.3h-4.9zM813 466.2h5.2v2.5h-5.2zM833.8 465.5h5v2.9h-5zM1109.5 465.6h4.5v3h-4.5zM1150.9 465.7h5v2.7h-5zM1155.8 465h5v2.7h-5zM1217.3 464.8h5.8v2.6h-5.8z" fill="#a4dfa4" stroke="none" mask="url(#mD)"/>
<path d="M818.2 466.4h5.2v2.8h-5.2zM823.4 466.9h5.2v2.3h-5.2zM828.6 466.5h5.2v2.7h-5.2zM843.7 467.9h5v2.5h-5zM1114 467.6h4.5v3.3h-4.5zM1118.4 467.4h4.5v2.5h-4.5zM1126.1 466.2h5.3v3h-5.3zM1131.4 466.8h5.3v2.8h-5.3zM1136.7 466.9h5.3v2.7h-5.3zM1145.9 467.5h5v2.4h-5zM1155.8 467.7h5v2.7h-5z" fill="#aadeaa" stroke="none" mask="url(#mD)"/>
<path d="M723.4 469.5h3.8v2.4h-3.8zM778.1 467.7h4.9v4.1h-4.9zM813 468.7h5.2v2.5h-5.2zM818.2 469.2h5.2v2.8h-5.2zM828.6 469.1h5.2v2.7h-5.2zM833.8 468.4h5v2.9h-5zM838.8 468.6h5v2.2h-5zM901.6 469.4h4.8v3.1h-4.8zM1105 468.3h4.5v2.4h-4.5zM1109.5 468.5h4.5v3h-4.5zM1118.4 469.8h4.5v2.5h-4.5zM1150.9 468.3h5v2.7h-5zM1240.2 468h3.2v3.2h-3.2z" fill="#b1dbb1" stroke="none" mask="url(#mD)"/>
<path d="M745.4 470.2h4.6v3h-4.6zM750 469.8h4.6v2.7h-4.6zM754.6 470.9h4.6v2.7h-4.6zM763.8 470.9h4.6v2.9h-4.6zM838.8 470.7h5v2.2h-5zM843.7 470.4h5v2.5h-5zM852.5 470.2h3.9v2h-3.9zM906.4 469.6h4.8v3h-4.8zM947.3 469.9h4.8v3.6h-4.8zM952.1 470.8h4.8v3.1h-4.8zM1084 471h4.5v3.2h-4.5zM1093 471h4.5v3.4h-4.5zM1105 470.7h4.5v2.4h-4.5zM1145.9 469.9h5v2.4h-5zM1166.4 470.2h5.6v2.7h-5.6zM1240.2 471.1h3.2v3.2h-3.2zM1243.4 470.2h2.6v2.1h-2.6z" fill="#b9d7b9" stroke="none" mask="url(#mD)"/>
<path d="M723.4 471.9h3.8v2.4h-3.8zM750 472.4h4.6v2.7h-4.6zM759.2 472.3h4.6v3.3h-4.6zM808.3 472.3h4.7v3.5h-4.7zM848.7 472.2h3.9v2.9h-3.9zM852.5 472.1h3.9v2h-3.9zM901.6 472.4h4.8v3.1h-4.8zM906.4 472.5h4.8v3h-4.8zM911.2 471.6h4.8v2.7h-4.8zM956.8 471.3h4.8v3h-4.8zM961.6 471.6h6.1v2.7h-6.1zM981.9 472.2h5.3v2.9h-5.3zM1015.5 473.1h4.4v2.1h-4.4zM1047 472.3h6v3.1h-6zM1088.5 471.1h4.5v3.4h-4.5zM1097.4 471.3h4.5v3.7h-4.5zM1166.4 472.8h5.6v2.7h-5.6zM1182.9 471.8h4.4v2.7h-4.4zM1187.3 472.1h4.5v2.7h-4.5zM1243.4 472.3h2.6v2.1h-2.6z" fill="#c0d4c0" stroke="none" mask="url(#mD)"/>
<path d="M745.4 473.2h4.6v3h-4.6zM754.6 473.6h4.6v2.7h-4.6zM763.8 473.8h4.6v2.9h-4.6zM786.9 473h3.1v2.9h-3.1zM803.7 473.6h4.7v3.5h-4.7zM911.2 474.3h4.8v2.7h-4.8zM947.3 473.5h4.8v3.6h-4.8zM952.1 473.8h4.8v3.1h-4.8zM956.8 474.3h4.8v3h-4.8zM961.6 474.3h6.1v2.7h-6.1zM976.6 473.2h5.3v3.6h-5.3zM987.2 473.8h5.3v3.4h-5.3zM992.5 473.4h5.3v2.9h-5.3zM997.8 473.6h5.3v2.9h-5.3zM1003.1 473.9h6.7v2.3h-6.7zM1019.9 474.5h4.4v2.7h-4.4zM1053 473.8h4.9v3.2h-4.9zM1084 474.1h4.5v3.2h-4.5zM1093 474.3h4.5v3.4h-4.5zM1160.8 473.4h5.6v2.3h-5.6zM1177.1 473.5h5.8v2.8h-5.8zM1182.9 474.4h4.4v2.7h-4.4zM1187.3 474.7h4.5v2.7h-4.5zM1191.8 474.2h4.4v2.2h-4.4zM1205.8 473.6h7v3h-7zM1212.8 474.3h4.5v2.6h-4.5z" fill="#c6d0c6" stroke="none" mask="url(#mD)"/>
<path d="M759.2 475.5h4.6v3.3h-4.6zM783 474.8h3.9v3.7h-3.9zM786.9 475.8h3.1v2.9h-3.1zM808.3 475.8h4.7v3.5h-4.7zM848.7 475.1h3.9v2.9h-3.9zM969 474.9h3.8v3.2h-3.8zM981.9 475.1h5.3v2.9h-5.3zM1003.1 476.1h6.7v2.3h-6.7zM1015.5 475.1h4.4v2.1h-4.4zM1024.2 474.8h4.4v2.9h-4.4zM1042 475.2h5v2.8h-5zM1047 475.3h6v3.1h-6zM1088.5 474.5h4.5v3.4h-4.5zM1097.4 475h4.5v3.7h-4.5zM1160.8 475.6h5.6v2.3h-5.6zM1177.1 476.3h5.8v2.8h-5.8zM1191.8 476.3h4.4v2.2h-4.4zM1217.3 475.4h5.8v2.6h-5.8zM1223 474.8h5.8v2.8h-5.8z" fill="#cccccc" stroke="none" mask="url(#mD)"/>
<path d="M799 476.8h4.7v2.9h-4.7zM803.7 477h4.7v3.5h-4.7zM972.8 477.2h3.8v2.5h-3.8zM976.6 476.7h5.3v3.6h-5.3zM987.2 477.1h5.3v3.4h-5.3zM992.5 476.3h5.3v2.9h-5.3zM997.8 476.5h5.3v2.9h-5.3zM1019.9 477.2h4.4v2.7h-4.4zM1024.2 477.6h4.4v2.9h-4.4zM1032.1 477.5h5v2.7h-5zM1037.1 477.9h5v2.6h-5zM1042 478h5v2.8h-5zM1053 477h4.9v3.2h-4.9zM1067.6 477.1h4.9v2.8h-4.9zM1072.5 478.2h4.9v2.5h-4.9zM1136.7 477.9h5.3v2.7h-5.3zM1205.8 476.6h7v3h-7zM1212.8 476.8h4.5v2.6h-4.5zM1217.3 477.9h5.8v2.6h-5.8zM1223 477.6h5.8v2.8h-5.8z" fill="#d1c6c6" stroke="none" mask="url(#mD)"/>
<path d="M783 478.4h3.9v3.7h-3.9zM799 479.6h4.7v2.9h-4.7zM838.8 479.5h5v2.2h-5zM969 478h3.8v3.2h-3.8zM972.8 479.7h3.8v2.5h-3.8zM1057.9 478.4h4.9v2.4h-4.9zM1062.8 479.8h4.9v2h-4.9zM1118.4 479.8h4.5v2.5h-4.5zM1126.1 478.5h5.3v3h-5.3zM1131.4 478.2h5.3v2.8h-5.3zM1145.9 479.8h5v2.4h-5zM1150.9 479.2h5v2.7h-5zM1155.8 478.5h5v2.7h-5z" fill="#d6c0c0" stroke="none" mask="url(#mD)"/>
<path d="M833.8 480.3h5v2.9h-5zM838.8 481.6h5v2.2h-5zM843.7 480.7h5v2.5h-5zM897.1 480.4h4.5v3.3h-4.5zM1032.1 480.1h5v2.7h-5zM1037.1 480.4h5v2.6h-5zM1057.9 480.8h4.9v2.4h-4.9zM1067.6 479.8h4.9v2.8h-4.9zM1072.5 480.6h4.9v2.5h-4.9zM1105 480.5h4.5v2.4h-4.5zM1109.5 480.6h4.5v3h-4.5zM1114 481.1h4.5v3.3h-4.5zM1131.4 481h5.3v2.8h-5.3zM1136.7 480.6h5.3v2.7h-5.3zM1155.8 481.1h5v2.7h-5zM1196.2 480.1h4.8v3h-4.8zM1201 479.3h4.8v3.8h-4.8zM1243.4 480.8h2.6v2.1h-2.6z" fill="#d9b8b8" stroke="none" mask="url(#mD)"/>
<path d="M723.4 481.7h3.8v2.4h-3.8zM731.8 481.7h4.5v3.7h-4.5zM794.5 482.6h4.5v3.3h-4.5zM843.7 483.2h5v2.5h-5zM888.2 482.5h4.4v2.7h-4.4zM1062.8 481.8h4.9v2h-4.9zM1105 482.8h4.5v2.4h-4.5zM1118.4 482.2h4.5v2.5h-4.5zM1126.1 481.5h5.3v3h-5.3zM1145.9 482.2h5v2.4h-5zM1150.9 481.9h5v2.7h-5zM1243.4 482.9h2.6v2.1h-2.6z" fill="#dbb0b0" stroke="none" mask="url(#mD)"/>
<path d="M723.4 484.1h3.8v2.4h-3.8zM727.2 484.2h4.6v3h-4.6zM740.8 483.5h4.6v3.5h-4.6zM790 483.2h4.5v3.2h-4.5zM833.8 483.2h5v2.9h-5zM883.8 483.4h4.5v2.5h-4.5zM892.7 483.5h4.4v2.4h-4.4zM897.1 483.6h4.5v3.3h-4.5zM906.4 484.7h4.8v3h-4.8zM926.7 482.7h5.3v4.3h-5.3zM1028.6 483.6h3.5v3.8h-3.5zM1109.5 483.5h4.5v3h-4.5zM1114 484.4h4.5v3.3h-4.5zM1166.4 483.6h5.6v2.7h-5.6zM1172 484.4h5.1v3.2h-5.1zM1196.2 483.1h4.8v3h-4.8zM1201 483h4.8v3.8h-4.8z" fill="#dea8a8" stroke="none" mask="url(#mD)"/>
<path d="M859.5 513.5h4.9v4.6h-4.9zM864.4 513.4h4.9v4h-4.9z" fill="#df2525" stroke="none" mask="url(#mD)"/>
<path d="M869.2 511.6h4.9v3.3h-4.9zM874.1 511.9h4.9v3.7h-4.9z" fill="#df2929" stroke="none" mask="url(#mD)"/>
<path d="M731.8 485.3h4.5v3.7h-4.5zM736.3 485.2h4.5v3.3h-4.5zM794.5 485.9h4.5v3.3h-4.5zM859.5 485.4h4.9v4.6h-4.9zM883.8 485.8h4.5v2.5h-4.5zM888.2 485.1h4.4v2.7h-4.4zM892.7 485.9h4.4v2.4h-4.4zM901.6 485.1h4.8v3.1h-4.8zM911.2 485.4h4.8v2.7h-4.8zM937.1 486h5.1v3.6h-5.1zM942.2 485.9h5.1v3.6h-5.1zM961.6 485.4h6.1v2.7h-6.1zM1003.1 485.2h6.7v2.3h-6.7zM1160.8 485h5.6v2.3h-5.6zM1166.4 486.2h5.6v2.7h-5.6zM1191.8 485.2h4.4v2.2h-4.4z" fill="#dfa0a0" stroke="none" mask="url(#mD)"/>
<path d="M864.4 509.4h4.9v4h-4.9zM878.9 511.1h4.9v3.5h-4.9z" fill="#e02c2c" stroke="none" mask="url(#mD)"/>
<path d="M727.2 487.2h4.6v3h-4.6zM740.8 487h4.6v3.5h-4.6zM786.9 487.7h3.1v2.9h-3.1zM790 486.3h4.5v3.2h-4.5zM906.4 487.6h4.8v3h-4.8zM911.2 488.1h4.8v2.7h-4.8zM921.3 486.8h5.3v3.2h-5.3zM926.7 486.9h5.3v4.3h-5.3zM961.6 488.1h6.1v2.7h-6.1zM1003.1 487.4h6.7v2.3h-6.7zM1028.6 487.4h3.5v3.8h-3.5zM1047 487.8h6v3.1h-6zM1160.8 487.3h5.6v2.3h-5.6zM1172 487.6h5.1v3.2h-5.1zM1177.1 487.6h5.8v2.8h-5.8zM1191.8 487.4h4.4v2.2h-4.4zM1212.8 487.2h4.5v2.6h-4.5z" fill="#e09999" stroke="none" mask="url(#mD)"/>
<path d="M859.5 509h4.9v4.6h-4.9zM869.2 508.3h4.9v3.3h-4.9zM874.1 508.3h4.9v3.7h-4.9zM926.7 508.5h5.3v4.3h-5.3zM932 508.4h5.1v3.4h-5.1z" fill="#e13434" stroke="none" mask="url(#mD)"/>
<path d="M878.9 507.6h4.9v3.5h-4.9zM937.1 507.7h5.1v3.6h-5.1zM942.2 507.7h5.1v3.6h-5.1zM1028.6 506.7h3.5v3.8h-3.5z" fill="#e13c3c" stroke="none" mask="url(#mD)"/>
<path d="M736.3 504.9h4.5v3.3h-4.5zM740.8 504.9h4.6v3.5h-4.6zM921.3 506h5.3v3.2h-5.3zM926.7 504.3h5.3v4.3h-5.3zM932 505.1h5.1v3.4h-5.1z" fill="#e24444" stroke="none" mask="url(#mD)"/>
<path d="M736.3 488.4h4.5v3.3h-4.5zM864.4 489.2h4.9v4h-4.9zM901.6 488.2h4.8v3.1h-4.8zM916 488.8h5.3v2.5h-5.3zM932 488.1h5.1v3.4h-5.1zM972.8 489.8h3.8v2.5h-3.8zM1042 489.6h5v2.8h-5zM1062.8 490h4.9v2h-4.9zM1205.8 489h7v3h-7zM1212.8 489.8h4.5v2.6h-4.5z" fill="#e29191" stroke="none" mask="url(#mD)"/>
<path d="M731.8 503.9h4.5v3.7h-4.5zM916 504.1h5.3v2.5h-5.3zM937.1 504.1h5.1v3.6h-5.1zM942.2 504.2h5.1v3.6h-5.1zM1028.6 503h3.5v3.8h-3.5zM1172 503.7h5.1v3.2h-5.1z" fill="#e34c4c" stroke="none" mask="url(#mD)"/>
<path d="M727.2 502.3h4.6v3h-4.6zM736.3 501.7h4.5v3.3h-4.5zM740.8 501.4h4.6v3.5h-4.6zM790 502.5h4.5v3.2h-4.5zM794.5 502.9h4.5v3.3h-4.5zM921.3 502.9h5.3v3.2h-5.3zM1201 502.2h4.8v3.8h-4.8z" fill="#e35454" stroke="none" mask="url(#mD)"/>
<path d="M786.9 490.6h3.1v2.9h-3.1zM799 491.3h4.7v2.9h-4.7zM808.3 490.2h4.7v3.5h-4.7zM859.5 490h4.9v4.6h-4.9zM874.1 489.7h4.9v3.7h-4.9zM878.9 490h4.9v3.5h-4.9zM916 491.3h5.3v2.5h-5.3zM921.3 490h5.3v3.2h-5.3zM937.1 489.5h5.1v3.6h-5.1zM942.2 489.5h5.1v3.6h-5.1zM969 490.9h3.8v3.2h-3.8zM1032.1 491.1h5v2.7h-5zM1037.1 490.9h5v2.6h-5zM1047 490.9h6v3.1h-6zM1053 490.2h4.9v3.2h-4.9zM1057.9 490.6h4.9v2.4h-4.9zM1067.6 491.2h4.9v2.8h-4.9zM1072.5 490.8h4.9v2.5h-4.9zM1177.1 490.3h5.8v2.8h-5.8z" fill="#e38a8a" stroke="none" mask="url(#mD)"/>
<path d="M731.8 500.2h4.5v3.7h-4.5zM897.1 500.3h4.5v3.3h-4.5zM916 501.6h5.3v2.5h-5.3zM1172 500.6h5.1v3.2h-5.1z" fill="#e45c5c" stroke="none" mask="url(#mD)"/>
<path d="M727.2 499.4h4.6v3h-4.6zM790 499.3h4.5v3.2h-4.5zM794.5 499.6h4.5v3.3h-4.5zM888.2 498.8h4.4v2.7h-4.4zM1196.2 498.5h4.8v3h-4.8zM1201 498.5h4.8v3.8h-4.8z" fill="#e46464" stroke="none" mask="url(#mD)"/>
<path d="M883.8 498.1h4.5v2.5h-4.5zM892.7 498.1h4.4v2.4h-4.4zM897.1 497h4.5v3.3h-4.5z" fill="#e46b6b" stroke="none" mask="url(#mD)"/>
<path d="M803.7 494.8h4.7v3.5h-4.7zM869.2 494.9h4.9v3.3h-4.9zM883.8 495.7h4.5v2.5h-4.5zM888.2 496.1h4.4v2.7h-4.4zM892.7 495.7h4.4v2.4h-4.4zM1196.2 495.5h4.8v3h-4.8z" fill="#e47373" stroke="none" mask="url(#mD)"/>
<path d="M799 494.2h4.7v2.9h-4.7zM808.3 493.6h4.7v3.5h-4.7zM864.4 493.1h4.9v4h-4.9zM874.1 493.3h4.9v3.7h-4.9zM878.9 493.4h4.9v3.5h-4.9zM969 494h3.8v3.2h-3.8zM1032.1 493.7h5v2.7h-5zM1037.1 493.4h5v2.6h-5zM1053 493.4h4.9v3.2h-4.9zM1067.6 494h4.9v2.8h-4.9z" fill="#e47a7a" stroke="none" mask="url(#mD)"/>
<path d="M803.7 491.3h4.7v3.5h-4.7zM869.2 491.7h4.9v3.3h-4.9zM932 491.4h5.1v3.4h-5.1zM972.8 492.3h3.8v2.5h-3.8zM1042 492.4h5v2.8h-5zM1057.9 493h4.9v2.4h-4.9zM1062.8 492h4.9v2h-4.9zM1072.5 493.2h4.9v2.5h-4.9zM1205.8 492h7v3h-7z" fill="#e48282" stroke="none" mask="url(#mD)"/>
<path d="M1077.4 430.2h6.6v4.3h-6.6z" fill="#27e027" stroke="none" fill-opacity="0.92"/>
<path d="M1077.4 434.4h6.6v4.3h-6.6z" fill="#2be12b" stroke="none" fill-opacity="0.92"/>
<path d="M856.4 438.7h1.5v3.8h-1.5zM1230.4 438.3h6.6v3.5h-6.6z" fill="#30e230" stroke="none" fill-opacity="0.92"/>
<path d="M1077.4 438.7h6.6v4.3h-6.6z" fill="#37e237" stroke="none" fill-opacity="0.92"/>
<path d="M1230.4 441.8h6.6v3.5h-6.6z" fill="#3ee33e" stroke="none" fill-opacity="0.92"/>
<path d="M856.4 442.5h1.5v3.8h-1.5zM1077.4 443h6.6v4.3h-6.6z" fill="#44e344" stroke="none" fill-opacity="0.92"/>
<path d="M1230.4 445.2h6.6v3.5h-6.6z" fill="#4be34b" stroke="none" fill-opacity="0.92"/>
<path d="M856.4 446.2h1.5v3.8h-1.5z" fill="#52e352" stroke="none" fill-opacity="0.92"/>
<path d="M1230.4 448.6h6.6v3.5h-6.6z" fill="#58e458" stroke="none" fill-opacity="0.92"/>
<path d="M768.4 450.8h4.9v2.8h-4.9zM778.1 450.8h4.9v3.3h-4.9zM856.4 449.9h1.5v3.8h-1.5z" fill="#5fe45f" stroke="none" fill-opacity="0.92"/>
<path d="M773.3 451.7h4.9v2.6h-4.9z" fill="#68e468" stroke="none" fill-opacity="0.92"/>
<path d="M768.4 453.5h4.9v2.8h-4.9zM773.3 454.2h4.9v2.6h-4.9zM778.1 454h4.9v3.3h-4.9z" fill="#70e370" stroke="none" fill-opacity="0.92"/>
<path d="M768.4 456.3h4.9v2.8h-4.9zM773.3 456.8h4.9v2.6h-4.9zM778.1 457.2h4.9v3.3h-4.9zM818.2 457.8h5.2v2.2h-5.2zM823.4 457.5h5.2v1.8h-5.2zM828.6 458.2h5.2v2.1h-5.2z" fill="#81e281" stroke="none" fill-opacity="0.92"/>
<path d="M768.4 459h4.9v2.8h-4.9zM773.3 459.3h4.9v2.6h-4.9zM813 458.4h5.2v2h-5.2zM823.4 459.3h5.2v1.8h-5.2zM947.3 458.6h4.8v2.9h-4.8zM1240.2 458.3h3.2v2.5h-3.2z" fill="#8ae28a" stroke="none" fill-opacity="0.92"/>
<path d="M745.4 460.9h4.6v2.4h-4.6zM750 461.3h4.6v2.2h-4.6zM778.1 460.4h4.9v3.3h-4.9zM813 460.3h5.2v2h-5.2zM818.2 460h5.2v2.2h-5.2zM823.4 461.1h5.2v1.8h-5.2zM828.6 460.2h5.2v2.1h-5.2zM952.1 461.3h4.8v2.4h-4.8zM1084 461.2h4.5v2.5h-4.5zM1088.5 460.5h4.5v2.7h-4.5zM1093 460.4h4.5v2.7h-4.5zM1097.4 459.8h4.5v2.9h-4.5zM1240.2 460.7h3.2v2.5h-3.2z" fill="#90e190" stroke="none" fill-opacity="0.92"/>
<path d="M754.6 462.5h4.6v2.2h-4.6zM759.2 462.2h4.6v2.6h-4.6zM763.8 461.8h4.6v2.3h-4.6zM813 462.3h5.2v2h-5.2zM818.2 462.1h5.2v2.2h-5.2zM823.4 462.9h5.2v1.8h-5.2zM828.6 462.3h5.2v2.1h-5.2zM947.3 461.4h4.8v2.9h-4.8zM956.8 462h4.8v2.4h-4.8zM976.6 462.1h5.3v2.8h-5.3zM981.9 463.1h5.3v2.3h-5.3zM1097.4 462.7h4.5v2.9h-4.5z" fill="#97e097" stroke="none" fill-opacity="0.92"/>
<path d="M745.4 463.2h4.6v2.4h-4.6zM750 463.4h4.6v2.2h-4.6zM754.6 464.6h4.6v2.2h-4.6zM763.8 464.1h4.6v2.3h-4.6zM783 463.3h3.9v2.9h-3.9zM813 464.3h5.2v2h-5.2zM818.2 464.3h5.2v2.2h-5.2zM828.6 464.4h5.2v2.1h-5.2zM848.7 463.2h3.9v2.3h-3.9zM852.5 464h3.9v1.6h-3.9zM947.3 464.2h4.8v2.9h-4.8zM952.1 463.7h4.8v2.4h-4.8zM956.8 464.3h4.8v2.4h-4.8zM987.2 463.3h5.3v2.7h-5.3zM992.5 464.4h5.3v2.3h-5.3zM997.8 464.6h5.3v2.3h-5.3zM1084 463.6h4.5v2.5h-4.5zM1088.5 463.2h4.5v2.7h-4.5zM1093 463.1h4.5v2.7h-4.5zM1182.9 463.5h4.4v2.1h-4.4zM1187.3 463.8h4.5v2.1h-4.5zM1240.2 463.1h3.2v2.5h-3.2z" fill="#9de09d" stroke="none" fill-opacity="0.92"/>
<path d="M745.4 465.5h4.6v2.4h-4.6zM750 465.5h4.6v2.2h-4.6zM759.2 464.7h4.6v2.6h-4.6zM763.8 466.3h4.6v2.3h-4.6zM783 466.2h3.9v2.9h-3.9zM848.7 465.5h3.9v2.3h-3.9zM852.5 465.5h3.9v1.6h-3.9zM952.1 466h4.8v2.4h-4.8zM976.6 464.9h5.3v2.8h-5.3zM981.9 465.4h5.3v2.3h-5.3zM987.2 466h5.3v2.7h-5.3zM1015.5 466.6h4.4v1.7h-4.4zM1019.9 466.1h4.4v2.2h-4.4zM1024.2 465.9h4.4v2.3h-4.4zM1084 466.1h4.5v2.5h-4.5zM1088.5 465.8h4.5v2.7h-4.5zM1093 465.7h4.5v2.7h-4.5zM1097.4 465.5h4.5v2.9h-4.5zM1182.9 465.6h4.4v2.1h-4.4zM1187.3 465.9h4.5v2.1h-4.5zM1223 466h5.8v2.2h-5.8zM1240.2 465.6h3.2v2.5h-3.2z" fill="#a4dfa4" stroke="none" fill-opacity="0.92"/>
<path d="M745.4 467.9h4.6v2.4h-4.6zM750 467.6h4.6v2.2h-4.6zM754.6 466.7h4.6v2.2h-4.6zM759.2 467.3h4.6v2.6h-4.6zM848.7 467.7h3.9v2.3h-3.9zM852.5 467.1h3.9v1.6h-3.9zM947.3 467.1h4.8v2.9h-4.8zM956.8 466.6h4.8v2.4h-4.8zM976.6 467.6h5.3v2.8h-5.3zM981.9 467.6h5.3v2.3h-5.3zM992.5 466.6h5.3v2.3h-5.3zM997.8 466.9h5.3v2.3h-5.3zM1015.5 468.2h4.4v1.7h-4.4zM1019.9 468.2h4.4v2.2h-4.4zM1024.2 468.1h4.4v2.3h-4.4zM1182.9 467.6h4.4v2.1h-4.4zM1187.3 467.9h4.5v2.1h-4.5zM1217.3 467.3h5.8v2.1h-5.8zM1223 468.2h5.8v2.2h-5.8z" fill="#aadeaa" stroke="none" fill-opacity="0.92"/>
<path d="M754.6 468.8h4.6v2.2h-4.6zM763.8 468.6h4.6v2.3h-4.6zM783 469h3.9v2.9h-3.9zM852.5 468.6h3.9v1.6h-3.9zM952.1 468.4h4.8v2.4h-4.8zM956.8 469h4.8v2.4h-4.8zM987.2 468.6h5.3v2.7h-5.3zM992.5 468.9h5.3v2.3h-5.3zM997.8 469.1h5.3v2.3h-5.3zM1015.5 469.9h4.4v1.7h-4.4zM1084 468.5h4.5v2.5h-4.5zM1088.5 468.5h4.5v2.7h-4.5zM1093 468.3h4.5v2.7h-4.5zM1097.4 468.4h4.5v2.9h-4.5zM1126.1 469.2h5.3v2.4h-5.3zM1131.4 469.6h5.3v2.2h-5.3zM1136.7 469.5h5.3v2.1h-5.3zM1182.9 469.7h4.4v2.1h-4.4zM1217.3 469.3h5.8v2.1h-5.8z" fill="#b1dbb1" stroke="none" fill-opacity="0.92"/>
<path d="M759.2 469.8h4.6v2.6h-4.6zM833.8 471.2h5v2.3h-5zM848.7 470h3.9v2.3h-3.9zM976.6 470.4h5.3v2.8h-5.3zM981.9 469.9h5.3v2.3h-5.3zM987.2 471.2h5.3v2.7h-5.3zM992.5 471.2h5.3v2.3h-5.3zM997.8 471.4h5.3v2.3h-5.3zM1015.5 471.5h4.4v1.7h-4.4zM1019.9 470.3h4.4v2.2h-4.4zM1024.2 470.3h4.4v2.3h-4.4zM1109.5 471.4h4.5v2.3h-4.5zM1114 470.8h4.5v2.6h-4.5zM1136.7 471.6h5.3v2.1h-5.3zM1150.9 471h5v2.1h-5zM1155.8 470.3h5v2.1h-5zM1187.3 470h4.5v2.1h-4.5zM1217.3 471.3h5.8v2.1h-5.8zM1223 470.4h5.8v2.2h-5.8z" fill="#b9d7b9" stroke="none" fill-opacity="0.92"/>
<path d="M783 471.9h3.9v2.9h-3.9zM838.8 472.8h5v1.7h-5zM843.7 472.9h5v2h-5zM1019.9 472.4h4.4v2.2h-4.4zM1024.2 472.6h4.4v2.3h-4.4zM1105 473h4.5v1.9h-4.5zM1118.4 472.2h4.5v1.9h-4.5zM1126.1 471.5h5.3v2.4h-5.3zM1131.4 471.7h5.3v2.2h-5.3zM1145.9 472.3h5v1.9h-5zM1150.9 473h5v2.1h-5zM1155.8 472.3h5v2.1h-5zM1217.3 473.4h5.8v2.1h-5.8zM1223 472.6h5.8v2.2h-5.8z" fill="#c0d4c0" stroke="none" fill-opacity="0.92"/>
<path d="M723.4 474.3h3.8v1.9h-3.8zM833.8 473.5h5v2.3h-5zM838.8 474.5h5v1.7h-5zM843.7 474.8h5v2h-5zM1105 474.9h4.5v1.9h-4.5zM1109.5 473.7h4.5v2.3h-4.5zM1114 473.4h4.5v2.6h-4.5zM1118.4 474.1h4.5v1.9h-4.5zM1126.1 473.9h5.3v2.4h-5.3zM1131.4 473.9h5.3v2.2h-5.3zM1136.7 473.7h5.3v2.1h-5.3zM1145.9 474.2h5v1.9h-5zM1155.8 474.4h5v2.1h-5zM1243.4 474.3h2.6v1.7h-2.6z" fill="#c6d0c6" stroke="none" fill-opacity="0.92"/>
<path d="M723.4 476.1h3.8v1.9h-3.8zM833.8 475.8h5v2.3h-5zM838.8 476.2h5v1.7h-5zM901.6 475.5h4.8v2.5h-4.8zM906.4 475.5h4.8v2.4h-4.8zM1105 476.7h4.5v1.9h-4.5zM1109.5 476h4.5v2.3h-4.5zM1114 476h4.5v2.6h-4.5zM1118.4 476h4.5v1.9h-4.5zM1126.1 476.2h5.3v2.4h-5.3zM1131.4 476h5.3v2.2h-5.3zM1136.7 475.8h5.3v2.1h-5.3zM1145.9 476h5v1.9h-5zM1150.9 475.1h5v2.1h-5zM1155.8 476.4h5v2.1h-5zM1166.4 475.4h5.6v2.1h-5.6zM1243.4 476h2.6v1.7h-2.6z" fill="#cccccc" stroke="none" fill-opacity="0.92"/>
<path d="M723.4 478h3.8v1.9h-3.8zM833.8 478h5v2.3h-5zM838.8 477.8h5v1.7h-5zM843.7 476.8h5v2h-5zM901.6 477.9h4.8v2.5h-4.8zM906.4 477.8h4.8v2.4h-4.8zM911.2 477h4.8v2.2h-4.8zM961.6 477h6.1v2.2h-6.1zM1003.1 478.3h6.7v1.8h-6.7zM1118.4 477.9h4.5v1.9h-4.5zM1145.9 477.9h5v1.9h-5zM1150.9 477.2h5v2.1h-5zM1160.8 477.9h5.6v1.8h-5.6zM1166.4 477.5h5.6v2.1h-5.6zM1191.8 478.5h4.4v1.7h-4.4zM1243.4 477.6h2.6v1.7h-2.6z" fill="#d1c6c6" stroke="none" fill-opacity="0.92"/>
<path d="M723.4 479.9h3.8v1.9h-3.8zM786.9 478.7h3.1v2.3h-3.1zM808.3 479.3h4.7v2.8h-4.7zM843.7 478.8h5v2h-5zM911.2 479.1h4.8v2.2h-4.8zM961.6 479.1h6.1v2.2h-6.1zM1003.1 480h6.7v1.8h-6.7zM1047 478.4h6v2.4h-6zM1105 478.6h4.5v1.9h-4.5zM1109.5 478.3h4.5v2.3h-4.5zM1114 478.5h4.5v2.6h-4.5zM1160.8 479.7h5.6v1.8h-5.6zM1166.4 479.5h5.6v2.1h-5.6zM1177.1 479h5.8v2.2h-5.8zM1191.8 480.2h4.4v1.7h-4.4zM1205.8 479.6h7v2.4h-7zM1212.8 479.3h4.5v2h-4.5zM1243.4 479.2h2.6v1.7h-2.6z" fill="#d6c0c0" stroke="none" fill-opacity="0.92"/>
<path d="M786.9 481h3.1v2.3h-3.1zM803.7 480.5h4.7v2.8h-4.7zM901.6 480.3h4.8v2.5h-4.8zM906.4 480.1h4.8v2.4h-4.8zM911.2 481.2h4.8v2.2h-4.8zM961.6 481.2h6.1v2.2h-6.1zM969 481.1h3.8v2.5h-3.8zM1003.1 481.8h6.7v1.8h-6.7zM1042 480.8h5v2.2h-5zM1047 480.7h6v2.4h-6zM1053 480.1h4.9v2.6h-4.9zM1160.8 481.5h5.6v1.8h-5.6zM1166.4 481.6h5.6v2.1h-5.6zM1177.1 481.1h5.8v2.2h-5.8zM1191.8 481.9h4.4v1.7h-4.4zM1212.8 481.3h4.5v2h-4.5z" fill="#d9b8b8" stroke="none" fill-opacity="0.92"/>
<path d="M786.9 483.2h3.1v2.3h-3.1zM799 482.5h4.7v2.3h-4.7zM808.3 482h4.7v2.8h-4.7zM901.6 482.7h4.8v2.5h-4.8zM906.4 482.4h4.8v2.4h-4.8zM911.2 483.3h4.8v2.2h-4.8zM961.6 483.3h6.1v2.2h-6.1zM972.8 482.1h3.8v2h-3.8zM1003.1 483.5h6.7v1.8h-6.7zM1032.1 482.8h5v2.1h-5zM1037.1 483h5v2h-5zM1042 483h5v2.2h-5zM1047 483.1h6v2.4h-6zM1053 482.7h4.9v2.6h-4.9zM1057.9 483.2h4.9v1.9h-4.9zM1067.6 482.6h4.9v2.2h-4.9zM1072.5 483.1h4.9v2h-4.9zM1160.8 483.3h5.6v1.8h-5.6zM1177.1 483.3h5.8v2.2h-5.8zM1191.8 483.6h4.4v1.7h-4.4zM1205.8 481.9h7v2.4h-7zM1212.8 483.3h4.5v2h-4.5z" fill="#dbb0b0" stroke="none" fill-opacity="0.92"/>
<path d="M799 484.7h4.7v2.3h-4.7zM803.7 483.2h4.7v2.8h-4.7zM808.3 484.7h4.7v2.8h-4.7zM969 483.5h3.8v2.5h-3.8zM972.8 484.1h3.8v2h-3.8zM1032.1 484.8h5v2.1h-5zM1037.1 484.9h5v2h-5zM1057.9 485h4.9v1.9h-4.9zM1062.8 483.8h4.9v1.6h-4.9zM1062.8 485.3h4.9v1.6h-4.9zM1067.6 484.7h4.9v2.2h-4.9zM1072.5 485h4.9v2h-4.9zM1205.8 484.3h7v2.4h-7z" fill="#dea8a8" stroke="none" fill-opacity="0.92"/>
<path d="M786.9 485.5h3.1v2.3h-3.1zM803.7 485.9h4.7v2.8h-4.7zM969 486h3.8v2.5h-3.8zM972.8 486h3.8v2h-3.8zM1042 485.2h5v2.2h-5zM1047 485.5h6v2.4h-6zM1053 485.2h4.9v2.6h-4.9zM1062.8 486.9h4.9v1.6h-4.9zM1177.1 485.4h5.8v2.2h-5.8zM1196.2 486.1h4.8v2.4h-4.8zM1205.8 486.6h7v2.4h-7zM1212.8 485.3h4.5v2h-4.5z" fill="#dfa0a0" stroke="none" fill-opacity="0.92"/>
<path d="M799 486.9h4.7v2.3h-4.7zM808.3 487.4h4.7v2.8h-4.7zM883.8 488.2h4.5v1.9h-4.5zM888.2 487.8h4.4v2.1h-4.4zM892.7 488.2h4.4v1.9h-4.4zM897.1 486.9h4.5v2.6h-4.5zM972.8 487.9h3.8v2h-3.8zM1032.1 486.9h5v2.1h-5zM1037.1 486.9h5v2h-5zM1042 487.4h5v2.2h-5zM1053 487.7h4.9v2.6h-4.9zM1057.9 486.9h4.9v1.9h-4.9zM1062.8 488.5h4.9v1.6h-4.9zM1067.6 486.9h4.9v2.2h-4.9zM1072.5 486.9h4.9v2h-4.9zM1201 486.7h4.8v3h-4.8z" fill="#e09999" stroke="none" fill-opacity="0.92"/>
<path d="M859.5 505.4h4.9v3.6h-4.9zM864.4 506.3h4.9v3.1h-4.9zM869.2 505.8h4.9v2.6h-4.9zM874.1 505.4h4.9v2.9h-4.9z" fill="#e24444" stroke="none" fill-opacity="0.92"/>
<path d="M731.8 488.9h4.5v2.9h-4.5zM790 489.5h4.5v2.5h-4.5zM794.5 489.2h4.5v2.6h-4.5zM799 489.1h4.7v2.3h-4.7zM803.7 488.6h4.7v2.8h-4.7zM883.8 490.1h4.5v1.9h-4.5zM888.2 489.9h4.4v2.1h-4.4zM892.7 490.1h4.4v1.9h-4.4zM897.1 489.4h4.5v2.6h-4.5zM969 488.4h3.8v2.5h-3.8zM1032.1 489h5v2.1h-5zM1037.1 488.9h5v2h-5zM1057.9 488.8h4.9v1.9h-4.9zM1067.6 489.1h4.9v2.2h-4.9zM1072.5 488.8h4.9v2h-4.9zM1196.2 488.4h4.8v2.4h-4.8zM1201 489.7h4.8v3h-4.8z" fill="#e29191" stroke="none" fill-opacity="0.92"/>
<path d="M864.4 503.2h4.9v3.1h-4.9zM878.9 504.9h4.9v2.7h-4.9z" fill="#e34c4c" stroke="none" fill-opacity="0.92"/>
<path d="M859.5 501.8h4.9v3.6h-4.9zM869.2 503.2h4.9v2.6h-4.9zM874.1 502.6h4.9v2.9h-4.9zM878.9 502.2h4.9v2.7h-4.9zM932 502.5h5.1v2.7h-5.1z" fill="#e35454" stroke="none" fill-opacity="0.92"/>
<path d="M727.2 490.1h4.6v2.4h-4.6zM736.3 491.6h4.5v2.6h-4.5zM740.8 490.4h4.6v2.8h-4.6zM926.7 491.1h5.3v3.4h-5.3zM1028.6 491.1h3.5v3h-3.5zM1172 490.7h5.1v2.5h-5.1zM1196.2 490.8h4.8v2.4h-4.8z" fill="#e38a8a" stroke="none" fill-opacity="0.92"/>
<path d="M864.4 500.1h4.9v3.1h-4.9zM869.2 500.7h4.9v2.6h-4.9zM921.3 500.5h5.3v2.5h-5.3zM926.7 501h5.3v3.4h-5.3zM937.1 501.4h5.1v2.8h-5.1zM942.2 501.4h5.1v2.8h-5.1zM1028.6 500h3.5v3h-3.5z" fill="#e45c5c" stroke="none" fill-opacity="0.92"/>
<path d="M736.3 499.2h4.5v2.6h-4.5zM740.8 498.7h4.6v2.8h-4.6zM859.5 498.2h4.9v3.6h-4.9zM874.1 499.8h4.9v2.9h-4.9zM878.9 499.5h4.9v2.7h-4.9zM916 499.7h5.3v2h-5.3zM932 499.9h5.1v2.7h-5.1zM937.1 498.6h5.1v2.8h-5.1zM942.2 498.6h5.1v2.8h-5.1z" fill="#e46464" stroke="none" fill-opacity="0.92"/>
<path d="M727.2 497.1h4.6v2.4h-4.6zM731.8 497.4h4.5v2.9h-4.5zM790 496.9h4.5v2.5h-4.5zM794.5 497h4.5v2.6h-4.5zM864.4 497h4.9v3.1h-4.9zM869.2 498.1h4.9v2.6h-4.9zM874.1 496.9h4.9v2.9h-4.9zM878.9 496.9h4.9v2.7h-4.9zM916 497.7h5.3v2h-5.3zM921.3 498h5.3v2.5h-5.3zM926.7 497.7h5.3v3.4h-5.3zM932 497.3h5.1v2.7h-5.1zM1028.6 497.1h3.5v3h-3.5zM1172 498.1h5.1v2.5h-5.1z" fill="#e46b6b" stroke="none" fill-opacity="0.92"/>
<path d="M736.3 496.6h4.5v2.6h-4.5zM740.8 495.9h4.6v2.8h-4.6zM859.5 494.6h4.9v3.6h-4.9zM916 495.7h5.3v2h-5.3zM921.3 495.6h5.3v2.5h-5.3zM937.1 495.8h5.1v2.8h-5.1zM942.2 495.8h5.1v2.8h-5.1zM1172 495.6h5.1v2.5h-5.1zM1201 495.5h4.8v3h-4.8z" fill="#e47373" stroke="none" fill-opacity="0.92"/>
<path d="M727.2 494.8h4.6v2.4h-4.6zM731.8 494.6h4.5v2.9h-4.5zM736.3 494.1h4.5v2.6h-4.5zM790 494.4h4.5v2.5h-4.5zM794.5 494.4h4.5v2.6h-4.5zM883.8 493.8h4.5v1.9h-4.5zM888.2 494h4.4v2.1h-4.4zM892.7 493.8h4.4v1.9h-4.4zM897.1 494.5h4.5v2.6h-4.5zM916 493.8h5.3v2h-5.3zM926.7 494.4h5.3v3.4h-5.3zM932 494.7h5.1v2.7h-5.1zM1028.6 494.1h3.5v3h-3.5z" fill="#e47a7a" stroke="none" fill-opacity="0.92"/>
<path d="M727.2 492.4h4.6v2.4h-4.6zM731.8 491.7h4.5v2.9h-4.5zM740.8 493.2h4.6v2.8h-4.6zM790 491.9h4.5v2.5h-4.5zM794.5 491.8h4.5v2.6h-4.5zM883.8 492h4.5v1.9h-4.5zM888.2 492h4.4v2.1h-4.4zM892.7 492h4.4v1.9h-4.4zM897.1 492h4.5v2.6h-4.5zM921.3 493.1h5.3v2.5h-5.3zM937.1 493h5.1v2.8h-5.1zM942.2 493h5.1v2.8h-5.1zM1172 493.2h5.1v2.5h-5.1zM1196.2 493.1h4.8v2.4h-4.8zM1201 492.6h4.8v3h-4.8z" fill="#e48282" stroke="none" fill-opacity="0.92"/>
<path d="M725.7 476.5h1.4M739.9 477.9h1.4M766.4 477.8h1.4M758.2 477.8h1.4M747.6 477.3h1.4M758.9 477.8h1.4M787.3 476.6h1.4M801.1 476.3h1.4M799.1 477.4h1.4M843.2 476.6h1.4M833.5 476.1h1.4M841.6 476.3h1.4M843.3 476.1h1.4M839.7 477.1h1.4M840.8 477h1.4M845.2 477.5h1.4M850.3 476.3h1.4M894.7 475.7h1.4M896.9 476h1.4M911.9 476.5h1.4M909 477.8h1.4M907.7 477.5h1.4M907.8 476h1.4M907.8 476h1.4M918 478h1.4M950.1 476.9h1.4M964.4 477.5h1.4M961.4 477.6h1.4M963.3 476.5h1.4M973.4 477.6h1.4M975.5 475.7h1.4M971.5 478h1.4M968.9 477.4h1.4M990.6 477.2h1.4M976.3 476.2h1.4M986.2 476.7h1.4M982.4 477.2h1.4M991.2 475.8h1.4M991.6 476.8h1.4M1004.8 475.8h1.4M1007.2 476.5h1.4M1004.8 477.3h1.4M1002.9 476.5h1.4M1015.6 476.4h1.4M1027.4 476.7h1.4M1025.5 476.2h1.4M1023.5 476.6h1.4M1042.7 476.5h1.4M1031.7 477.7h1.4M1034.7 477.5h1.4M1032.6 475.8h1.4M1044.8 476.2h1.4M1058.1 476.7h1.4M1059.6 476.4h1.4M1072.4 475.8h1.4M1064.6 476.9h1.4M1065.2 476.2h1.4M1060.9 475.9h1.4M1114.3 477.3h1.4M1115.1 477h1.4M1116.4 476.9h1.4M1107.6 477.3h1.4M1120.4 476.1h1.4M1134.6 477.4h1.4M1139.7 477.2h1.4M1130.2 477.7h1.4M1131.8 476.2h1.4M1129 477h1.4M1139 477.5h1.4M1137.6 477h1.4M1131.5 478h1.4M1134.5 476h1.4M1148 477h1.4M1155.8 475.8h1.4M1152 476.2h1.4M1154.4 477.3h1.4M1152.4 477.8h1.4M1169.1 477.2h1.4M1167.3 476.1h1.4M1174.6 477h1.4M1178 477.5h1.4M1179.9 478.1h1.4M1189.5 477.4h1.4M1189.9 476.2h1.4M1185.1 476.9h1.4M1207.5 477.9h1.4M1208.8 476h1.4M1215 477.5h1.4M1216.5 477h1.4M1224.6 477.8h1.4" fill="none" stroke="#cccccc" stroke-width="1.4"/>
<path d="M723.7 474.9h1.4M763.6 474.7h1.4M762.6 474.2h1.4M752.2 475.5h1.4M766.9 474.3h1.4M760.1 473.3h1.4M765.6 475.1h1.4M785.5 475.4h1.4M785.9 474.2h1.4M801.9 475.5h1.4M829.3 475.5h1.4M819.3 473.4h1.4M831.9 474.3h1.4M840.7 474.1h1.4M842.9 473.9h1.4M835.1 473.8h1.4M840.5 475h1.4M844.4 475.3h1.4M837.8 473.6h1.4M847.7 473.3h1.4M837.7 475.1h1.4M853.2 475.6h1.4M855.2 474h1.4M854.8 474.6h1.4M851.2 475.3h1.4M887.6 475.2h1.4M888 474.1h1.4M900 475.6h1.4M915.1 473.7h1.4M911.9 474.5h1.4M910.4 474.9h1.4M911 473.9h1.4M936.5 475.3h1.4M953.5 473.6h1.4M970.4 473.5h1.4M975.1 473.9h1.4M997.6 475.1h1.4M983.9 475.6h1.4M997.1 474h1.4M981.5 475.1h1.4M982.9 474.7h1.4M993.7 475h1.4M987.3 474.9h1.4M984.3 474.9h1.4M1001.1 474.2h1.4M1004.9 474.4h1.4M1003.5 474.6h1.4M1024.9 473.9h1.4M1017.5 475.5h1.4M1018.7 474.8h1.4M1023.3 473.2h1.4M1034.2 475.2h1.4M1063.3 475h1.4M1052.3 475.4h1.4M1072.3 474.2h1.4M1067.6 474.5h1.4M1085.3 473.9h1.4M1097.9 475.2h1.4M1100.8 474.5h1.4M1090 473.6h1.4M1119.1 474.1h1.4M1108.5 474.7h1.4M1109.4 474.5h1.4M1121.4 474.7h1.4M1114.8 473.7h1.4M1132.3 474.1h1.4M1128.4 473.6h1.4M1135.6 475h1.4M1131.6 473.3h1.4M1131 473.6h1.4M1125.9 474.6h1.4M1153.1 473.7h1.4M1149.6 475.6h1.4M1150.7 474.8h1.4M1152.2 474.4h1.4M1154.6 473.5h1.4M1159.9 474.5h1.4M1156.3 473.8h1.4M1167.8 475.3h1.4M1168.8 474.2h1.4M1166.3 474.8h1.4M1160.8 473.7h1.4M1171.8 475.6h1.4M1180.5 475.1h1.4M1211 474.1h1.4M1215.7 473.1h1.4M1219.9 474.6h1.4M1227.5 473.9h1.4M1223.5 474.4h1.4M1226.7 475.6h1.4M1220.5 475.3h1.4M1244.1 475.2h1.4M1244.7 475h1.4" fill="none" stroke="#c3d2c3" stroke-width="1.4"/>
<path d="M726.2 478.5h1.4M726 479.3h1.4M733.2 479.7h1.4M739.7 480.3h1.4M767.7 479.2h1.4M744.7 478.8h1.4M786 478.3h1.4M807.2 479.8h1.4M798.4 479.7h1.4M804.7 478.5h1.4M807.2 479.1h1.4M803 478.3h1.4M815.3 479.6h1.4M844.5 479.6h1.4M836.2 478.5h1.4M847.8 480.1h1.4M851.6 478.2h1.4M855.2 479.6h1.4M891.9 478.8h1.4M889.4 478.7h1.4M889.6 479.2h1.4M890.8 479.6h1.4M887.8 478.4h1.4M892 478.3h1.4M904.1 479.7h1.4M907 479.1h1.4M912.7 478.9h1.4M915.1 479.1h1.4M901 479.7h1.4M903.1 478.8h1.4M927.5 480.5h1.4M936.5 480.2h1.4M955.3 479.7h1.4M963.5 479.1h1.4M972.1 479h1.4M973.7 479.8h1.4M969.9 480.3h1.4M978.8 480h1.4M980.4 479h1.4M977.7 478.2h1.4M1003.8 480.4h1.4M1005.9 478.5h1.4M1009 478.5h1.4M1018.4 478.2h1.4M1044.2 478.7h1.4M1049.3 480.2h1.4M1052.1 478.9h1.4M1052.1 480.4h1.4M1060.2 480.3h1.4M1064.3 478.6h1.4M1052.4 480.2h1.4M1062.1 478.2h1.4M1071 479.6h1.4M1067.8 478.9h1.4M1053.4 480.6h1.4M1110.7 480.3h1.4M1117.1 479.8h1.4M1114.6 480.2h1.4M1112.5 480.2h1.4M1106.8 479h1.4M1108.7 478.8h1.4M1118.7 479h1.4M1126.2 478.2h1.4M1129.5 478.3h1.4M1137.6 480.5h1.4M1151.3 479.2h1.4M1156.2 479.3h1.4M1152.6 478.2h1.4M1151.2 480.4h1.4M1149.7 478.6h1.4M1150 478.4h1.4M1159.1 480.5h1.4M1152.7 478.8h1.4M1157.3 480.7h1.4M1145.4 478.5h1.4M1155.5 478.7h1.4M1161.5 478.6h1.4M1169.6 478.2h1.4M1166.3 479.7h1.4M1164 479.8h1.4M1160.5 479.6h1.4M1160.9 480.5h1.4M1160.8 479.4h1.4M1164.2 479.6h1.4M1173.3 478.3h1.4M1175.1 479.8h1.4M1177.3 478.4h1.4M1187.6 480.2h1.4M1194.8 479h1.4M1191.7 480.1h1.4M1203.3 480.5h1.4M1205.3 480.3h1.4M1205.6 479.8h1.4M1209.7 480.3h1.4M1213.7 480.6h1.4M1224.5 480.5h1.4M1222.1 478.9h1.4M1226.3 479.3h1.4M1244 479.5h1.4" fill="none" stroke="#d4c3c3" stroke-width="1.4"/>
<path d="M761.9 471.2h1.4M744.8 471.8h1.4M747.8 473h1.4M757.5 473.1h1.4M754.3 472.2h1.4M753.1 473h1.4M753.8 472.4h1.4M773.9 470.6h1.4M773.7 472.8h1.4M784.4 472.1h1.4M807 472.1h1.4M804.7 471h1.4M817.1 472h1.4M832.1 471.9h1.4M830.2 470.7h1.4M829.9 471.7h1.4M822.5 470.7h1.4M815.6 472.7h1.4M836.8 472.1h1.4M844.5 471.5h1.4M833.5 472.3h1.4M838.1 472.2h1.4M833.7 472.8h1.4M837.9 473h1.4M853 471.1h1.4M888.8 472.3h1.4M907.6 472.5h1.4M905 472.7h1.4M914.3 472.7h1.4M906.7 472.7h1.4M926 471.3h1.4M951.4 471.4h1.4M953.7 471.9h1.4M953 472.8h1.4M977.3 470.7h1.4M984.2 471.6h1.4M999 472.5h1.4M986.7 470.9h1.4M996.9 472.8h1.4M982.1 471.4h1.4M987.9 472.5h1.4M981.5 472.2h1.4M980.6 471.9h1.4M990.3 471.9h1.4M983.2 471.7h1.4M983.7 473h1.4M1003.2 471.7h1.4M1042.3 472.3h1.4M1040.7 472.8h1.4M1035.3 472h1.4M1045.7 472.9h1.4M1053 471.2h1.4M1065.3 472.7h1.4M1056.6 470.9h1.4M1077.1 471.9h1.4M1088.7 472.5h1.4M1098.7 470.9h1.4M1097.1 472.4h1.4M1099.3 471.6h1.4M1090.6 471.3h1.4M1101.1 472.3h1.4M1085.9 471.7h1.4M1094.3 472.1h1.4M1099.4 470.7h1.4M1094.8 471.8h1.4M1121.4 471.5h1.4M1113 472.1h1.4M1121.1 472.9h1.4M1106.6 472.9h1.4M1106.6 471.5h1.4M1115.3 473h1.4M1133.6 472.4h1.4M1137.7 472.7h1.4M1140.4 472.7h1.4M1127.2 471.3h1.4M1126.8 472.6h1.4M1129.9 472.2h1.4M1136.3 472.2h1.4M1134.2 472.2h1.4M1145.9 470.6h1.4M1152.8 471.3h1.4M1145.5 470.8h1.4M1159 473h1.4M1180.1 472.9h1.4M1176.6 472.5h1.4M1181.8 472.1h1.4M1183.3 471.6h1.4M1184.8 473h1.4M1182.9 472.8h1.4M1207.8 472.8h1.4M1226.9 473h1.4M1227.9 472.7h1.4M1219.3 473h1.4M1224.3 471.7h1.4M1245.2 473h1.4" fill="none" stroke="#b9d7b9" stroke-width="1.4"/>
<path d="M723.2 482.7h1.4M730.4 482.9h1.4M758.1 481.4h1.4M787.8 482h1.4M790.4 482.6h1.4M800.8 483.2h1.4M798.7 482.2h1.4M807.4 481.3h1.4M799.1 483.1h1.4M801.4 483h1.4M835.9 481.5h1.4M847.9 480.8h1.4M836.5 482.3h1.4M845.7 482.1h1.4M842.1 481.3h1.4M838.2 481.2h1.4M852.3 482.1h1.4M855.2 481.5h1.4M855.9 482.9h1.4M879.1 481.4h1.4M896.7 483h1.4M911.4 482.8h1.4M901.3 482.6h1.4M939 480.9h1.4M950.7 480.8h1.4M965.3 482.7h1.4M965.9 482.3h1.4M965.6 481h1.4M961.8 482.2h1.4M961.3 481.2h1.4M966.3 483.2h1.4M972 480.7h1.4M970 482.8h1.4M993.6 481.2h1.4M980.3 481h1.4M1006.9 481.6h1.4M1003.9 482h1.4M1006.7 481.1h1.4M1016.9 482.9h1.4M1024.5 482.8h1.4M1018.1 481.8h1.4M1028.8 482.7h1.4M1042.8 481.8h1.4M1041.2 481.1h1.4M1050.6 482.6h1.4M1052.1 481.7h1.4M1050.6 482.3h1.4M1048.6 481.4h1.4M1051.7 481.3h1.4M1074 483.2h1.4M1065.4 482.2h1.4M1058.3 480.8h1.4M1076.3 480.8h1.4M1052.7 481.7h1.4M1064.1 482.7h1.4M1054.6 481.2h1.4M1065.4 482.5h1.4M1062.9 481.5h1.4M1055.8 482.8h1.4M1096 482.7h1.4M1091.3 482.6h1.4M1108.5 481h1.4M1114.4 482.2h1.4M1114.6 481.3h1.4M1114 482.8h1.4M1109.3 481.8h1.4M1119.5 482.8h1.4M1108.8 482.6h1.4M1111.9 482.2h1.4M1117.4 480.7h1.4M1129.8 481.1h1.4M1134.2 481.6h1.4M1135.1 481.5h1.4M1150.2 480.9h1.4M1147.2 481.8h1.4M1155.9 482.2h1.4M1153.5 481.1h1.4M1156.6 481.5h1.4M1146.6 481.1h1.4M1158 482.6h1.4M1160.5 482.1h1.4M1168.6 481.1h1.4M1167.2 480.8h1.4M1164 480.7h1.4M1171.1 481.6h1.4M1168 482.8h1.4M1180.7 482.5h1.4M1181.4 480.8h1.4M1191.5 481.7h1.4M1193 482.3h1.4M1193.4 481h1.4M1198.4 483.1h1.4M1199 480.9h1.4M1205 482.5h1.4M1210.5 481.1h1.4M1209.1 481.6h1.4M1205.2 483h1.4M1216.5 481.5h1.4M1212.2 482.3h1.4M1215.3 481.9h1.4" fill="none" stroke="#d9b8b8" stroke-width="1.4"/>
<path d="M723.5 468.6h1.4M754.8 468.4h1.4M757.6 469.1h1.4M749.1 470h1.4M748.8 470.5h1.4M745.4 470.5h1.4M748.1 468.6h1.4M763.4 470.2h1.4M754.9 468.7h1.4M766.5 468.3h1.4M764.4 468.1h1.4M768.8 468.4h1.4M782.5 468.7h1.4M807.3 470h1.4M830.6 469.1h1.4M828.1 468.5h1.4M843.9 470.4h1.4M836.5 470.5h1.4M848.4 469.4h1.4M853.5 470.2h1.4M851.3 468.9h1.4M850.6 469.5h1.4M913.4 470.6h1.4M914.6 469.3h1.4M915.2 470.4h1.4M910.4 470h1.4M952 469h1.4M947.7 468.5h1.4M959.9 468.9h1.4M958.8 469.5h1.4M968.6 469.4h1.4M999.9 469.1h1.4M996.2 470h1.4M982.1 469.9h1.4M986.1 470.6h1.4M985.7 470h1.4M997.2 469h1.4M987.7 469.9h1.4M994.6 469h1.4M995.2 468.5h1.4M1024.9 470.5h1.4M1020 468.6h1.4M1022 470.2h1.4M1027.6 469.4h1.4M1019.4 470.3h1.4M1075.9 468.4h1.4M1066.7 468.6h1.4M1058.5 468.4h1.4M1054.9 469.7h1.4M1092.2 469.9h1.4M1084.3 470.1h1.4M1100.1 470.5h1.4M1100.1 469.6h1.4M1099.4 468.2h1.4M1089.5 470.1h1.4M1094.5 470h1.4M1109.1 469.7h1.4M1109.7 469.7h1.4M1121.2 468.2h1.4M1105.8 468.7h1.4M1109.8 469.7h1.4M1119.9 470h1.4M1132.5 470.4h1.4M1134.7 470.1h1.4M1187.8 469.8h1.4M1185 469.9h1.4M1184.5 469.3h1.4M1182.4 469h1.4M1220.5 468.4h1.4M1220.7 470.5h1.4M1241 469.8h1.4M1240.2 469.5h1.4M1243.1 469.2h1.4M1243.3 469.5h1.4" fill="none" stroke="#aedcae" stroke-width="1.4"/>
<path d="M725.4 483.7h1.4M736.1 483.5h1.4M752.6 484.6h1.4M749 485.7h1.4M788.3 484.7h1.4M793.3 485.6h1.4M803.7 483.3h1.4M804.9 485.4h1.4M809.2 484.6h1.4M812.1 485.7h1.4M811.3 484.7h1.4M807 484.5h1.4M804.7 485.2h1.4M845.5 485.3h1.4M836.6 483.9h1.4M845.3 485.5h1.4M841.5 484.9h1.4M871.4 484.1h1.4M889.3 484.7h1.4M886.6 485.4h1.4M884.4 484.4h1.4M889.7 485.7h1.4M886.6 485.2h1.4M905.1 483.7h1.4M902.1 484.7h1.4M913.4 484h1.4M906.4 483.3h1.4M920.7 484.3h1.4M923.2 485.1h1.4M943.1 485.2h1.4M958.8 483.3h1.4M962.7 485.3h1.4M971 485h1.4M1004.3 484h1.4M1006 484.3h1.4M1008.1 485.1h1.4M1003.9 483.5h1.4M1040.9 484.3h1.4M1034.1 483.8h1.4M1039.3 484.3h1.4M1045.1 483.6h1.4M1034.8 484.1h1.4M1043.9 484.9h1.4M1037.5 484.4h1.4M1045.9 483.4h1.4M1037.4 484.4h1.4M1047.7 483.8h1.4M1047.1 484.8h1.4M1049 484.9h1.4M1061.3 485h1.4M1065.4 484.5h1.4M1065.5 485.6h1.4M1100.8 485.1h1.4M1120.5 485.6h1.4M1112.9 483.3h1.4M1114.3 484.7h1.4M1110.8 483.5h1.4M1111.7 485.5h1.4M1137.8 484.5h1.4M1136.5 484.9h1.4M1130.2 484.5h1.4M1140.1 484.6h1.4M1155.7 485.6h1.4M1159.1 483.8h1.4M1150.1 484.7h1.4M1162.7 483.8h1.4M1169.7 483.2h1.4M1175.4 483.8h1.4M1177.5 483.2h1.4M1181.6 485.7h1.4M1180.6 485.5h1.4M1195.4 484.5h1.4M1196.7 485.5h1.4M1200.7 483.8h1.4M1204.9 484.5h1.4M1204 485.7h1.4" fill="none" stroke="#ddacac" stroke-width="1.4"/>
<path d="M723.4 467.6h1.4M722.8 467.8h1.4M735.1 466.3h1.4M748.7 466.1h1.4M746.1 467.1h1.4M746 466h1.4M759.6 466h1.4M751.1 466.4h1.4M754.5 466.1h1.4M745.7 465.6h1.4M750.1 466.3h1.4M760.9 467.5h1.4M754.8 466.9h1.4M774.8 467.9h1.4M781.5 466.6h1.4M785.5 466.3h1.4M783.8 466.2h1.4M807.4 466.3h1.4M825.6 465.8h1.4M817.1 466.1h1.4M822.2 467.1h1.4M824 465.7h1.4M827.8 466.9h1.4M830.9 467.7h1.4M818.3 467.6h1.4M830.6 465.7h1.4M834.3 465.7h1.4M847.4 467h1.4M841.9 466.3h1.4M854.5 467.7h1.4M853.7 465.7h1.4M914.6 466.7h1.4M902 466.4h1.4M905.6 467.3h1.4M904 467.7h1.4M904.7 467.5h1.4M943 465.9h1.4M950.1 467.8h1.4M959.1 467.2h1.4M954.6 466.3h1.4M948 467.8h1.4M949.1 466.9h1.4M950.8 466.2h1.4M960.5 465.7h1.4M951.1 466.5h1.4M956.3 467h1.4M956.1 465.9h1.4M959.7 466h1.4M970.1 466.7h1.4M980.4 468.1h1.4M987.3 465.7h1.4M989 467.4h1.4M987.9 467.7h1.4M977.9 466.8h1.4M976.8 467.3h1.4M990.3 465.8h1.4M985.1 466.2h1.4M988.3 467.6h1.4M1020.7 466.2h1.4M1022.3 467.3h1.4M1023.5 466.4h1.4M1021.9 467.4h1.4M1021.2 466.6h1.4M1019.6 465.9h1.4M1016.5 467.4h1.4M1036 466.7h1.4M1034.2 467.6h1.4M1097.1 466.9h1.4M1087.2 467.6h1.4M1088.4 467.6h1.4M1100.5 467.4h1.4M1098.2 466.9h1.4M1087 466.8h1.4M1093.8 467h1.4M1109.8 467.8h1.4M1110.6 465.8h1.4M1111.8 465.8h1.4M1117.1 467.5h1.4M1131.5 468h1.4M1139 465.7h1.4M1127.5 466.2h1.4M1132.6 467.1h1.4M1150.9 467.1h1.4M1153.9 465.6h1.4M1190 467h1.4M1215.5 468h1.4M1219.1 467.6h1.4M1221 466.9h1.4M1225.6 467.5h1.4M1225.3 466.3h1.4M1233.5 466.1h1.4M1239.8 465.9h1.4" fill="none" stroke="#a4dfa4" stroke-width="1.4"/>
<path d="M724.6 487h1.4M740.7 488.2h1.4M738.7 487.2h1.4M741.5 485.8h1.4M752.2 486.7h1.4M781.1 486.5h1.4M788.9 487.4h1.4M796.1 487h1.4M789.9 487.4h1.4M797.3 488.2h1.4M804.1 487.9h1.4M801.7 486.1h1.4M810.8 488.2h1.4M807.5 486.1h1.4M807.9 486.4h1.4M799.1 488.1h1.4M803 487.4h1.4M807.8 487.2h1.4M834.3 487.5h1.4M847.8 487h1.4M879.1 486.6h1.4M882.2 487.4h1.4M864.4 487.1h1.4M893.2 486.9h1.4M887.1 485.7h1.4M887.3 488.2h1.4M883.2 486.9h1.4M892 486.7h1.4M908.2 487.5h1.4M903.5 486.2h1.4M903.2 487.1h1.4M908.2 486.3h1.4M917.5 487.5h1.4M925.5 487.6h1.4M930.7 486.8h1.4M930.2 486.3h1.4M917.7 487.8h1.4M961.1 487.3h1.4M969.8 486.3h1.4M971.8 487.7h1.4M972.3 486.5h1.4M969.9 486.5h1.4M974.5 487.1h1.4M975.1 487.5h1.4M996.8 486.8h1.4M984.3 486.8h1.4M1026.5 487.9h1.4M1029.4 488.1h1.4M1030.7 486.2h1.4M1039.6 488h1.4M1034.3 487.5h1.4M1037.4 486.3h1.4M1040 488.1h1.4M1037.5 487.7h1.4M1051 488.1h1.4M1066.7 487.3h1.4M1055.3 487.7h1.4M1057.7 486.1h1.4M1075.2 486.1h1.4M1071.3 487.7h1.4M1074 488.1h1.4M1069 486.5h1.4M1053.7 485.9h1.4M1065.5 487.6h1.4M1052.4 486.4h1.4M1084.9 485.9h1.4M1115.2 486.1h1.4M1121.7 485.9h1.4M1121.6 488h1.4M1137.7 487.6h1.4M1130.2 486.1h1.4M1155.6 486.1h1.4M1165.2 487.8h1.4M1167.5 486.8h1.4M1162.5 487.7h1.4M1169.4 486.4h1.4M1165.9 487.7h1.4M1171 486.7h1.4M1180.6 488h1.4M1176.5 487.8h1.4M1188 486.1h1.4M1194.6 486.1h1.4M1208.4 488.1h1.4M1207.9 487.2h1.4M1209.8 487.5h1.4M1207.6 486.3h1.4M1208.5 485.8h1.4M1205.4 486.2h1.4M1214.9 486.2h1.4M1213 488.1h1.4M1213.9 485.8h1.4M1226.1 486.9h1.4M1222.5 486.4h1.4M1243.3 488h1.4" fill="none" stroke="#dfa0a0" stroke-width="1.4"/>
<path d="M757 464.1h1.4M758.9 463.3h1.4M762.2 464.5h1.4M747 463.4h1.4M761.8 463.8h1.4M767.4 465.1h1.4M778.3 463.1h1.4M774.6 463.4h1.4M776.6 463.6h1.4M772.6 465.4h1.4M785.4 465.4h1.4M806.5 464.2h1.4M830.6 463.4h1.4M821 463.2h1.4M823.9 465.4h1.4M827.8 464.3h1.4M828.4 464.3h1.4M818.7 463.4h1.4M823.3 463.3h1.4M816.3 464.9h1.4M827 464.5h1.4M831.6 464.9h1.4M815.4 464.9h1.4M852.3 464.2h1.4M952 464.4h1.4M947.4 463.4h1.4M983.3 465h1.4M997.6 465.4h1.4M978.8 463.3h1.4M983.9 464.9h1.4M996.7 464.8h1.4M985.1 463.2h1.4M1000.1 464.2h1.4M983.2 465.2h1.4M1005.6 463.9h1.4M1025.7 464.1h1.4M1015.1 463.2h1.4M1017 463.7h1.4M1022.7 463.3h1.4M1018.9 463.6h1.4M1096.4 464.2h1.4M1083.7 463.4h1.4M1092.8 463.3h1.4M1097.8 463.4h1.4M1095.4 463.6h1.4M1092.8 463.1h1.4M1083.7 463.6h1.4M1095.6 465.4h1.4M1086.5 463.9h1.4M1125.8 463h1.4M1128.7 465.5h1.4M1152.1 464.4h1.4M1178 463.4h1.4M1191 464.9h1.4M1189.4 465h1.4M1191 463.9h1.4M1187.4 464.4h1.4M1221.4 464.1h1.4M1219.6 464h1.4M1220 463.2h1.4M1241.9 463.8h1.4M1239.8 465.4h1.4" fill="none" stroke="#9ae09a" stroke-width="1.4"/>
<path d="M726.9 490h1.4M742 488.7h1.4M729.9 490.7h1.4M727.7 489h1.4M742 489h1.4M786.9 489.3h1.4M786.6 490.1h1.4M791.2 489h1.4M797.5 488.4h1.4M807.3 489.5h1.4M805.4 489.9h1.4M802.7 490.2h1.4M835.1 488.6h1.4M840.8 489.7h1.4M859 488.4h1.4M882 490.2h1.4M895.7 490.6h1.4M884 489.7h1.4M897.7 490.5h1.4M885.4 489.5h1.4M900.1 489.3h1.4M899 490.3h1.4M905.3 490.3h1.4M901.2 489.6h1.4M902.1 489h1.4M911.4 489.3h1.4M922 490.5h1.4M919.9 489.1h1.4M920.9 488.8h1.4M941.7 488.4h1.4M931.9 489.6h1.4M966.3 490.6h1.4M966.4 488.6h1.4M975.3 488.9h1.4M980.2 488.4h1.4M1004.7 489.1h1.4M1028.7 490.5h1.4M1043.1 490.3h1.4M1033.7 490.2h1.4M1035.1 488.5h1.4M1046 490.5h1.4M1034 488.9h1.4M1045.1 489.2h1.4M1040.5 489.1h1.4M1050.4 490.3h1.4M1051.6 488.6h1.4M1051.7 489.5h1.4M1068.3 490.4h1.4M1057.9 490.2h1.4M1067.9 488.8h1.4M1064.4 490.1h1.4M1058.5 490.2h1.4M1062.3 490.6h1.4M1061.2 488.7h1.4M1105.7 489.1h1.4M1111.4 489.9h1.4M1134.3 490.4h1.4M1152.5 489h1.4M1160.9 489.6h1.4M1172.5 489.4h1.4M1180.4 489.6h1.4M1177.9 489.5h1.4M1192.1 488.3h1.4M1201.1 490.3h1.4M1199 489.6h1.4M1205.3 489.2h1.4M1208.6 488.3h1.4M1214.9 488.6h1.4" fill="none" stroke="#e19595" stroke-width="1.4"/>
<path d="M752.8 461.2h1.4M760.6 462.4h1.4M758 460.8h1.4M767.1 461.8h1.4M763.7 461.5h1.4M750.2 462.6h1.4M782.5 461.3h1.4M833 460.8h1.4M813.3 460.9h1.4M821.9 462.7h1.4M831.5 462.7h1.4M820.7 463h1.4M812.7 461.9h1.4M816.8 461.2h1.4M957.9 461.4h1.4M954.6 461.7h1.4M948.4 463h1.4M978 460.7h1.4M985.3 461.8h1.4M988.9 462.9h1.4M992.1 461.8h1.4M987.8 462.2h1.4M987.5 461.6h1.4M1017.4 460.5h1.4M1025.8 461.3h1.4M1022.5 462.1h1.4M1016.6 461h1.4M1015.2 462.8h1.4M1097 460.8h1.4M1087.9 461.3h1.4M1095.2 462.3h1.4M1100.3 462.9h1.4M1092.6 462.1h1.4M1107 462.4h1.4M1152.1 461h1.4M1171 460.6h1.4M1186.6 461h1.4M1217.6 461.4h1.4M1219.4 462.5h1.4M1226.3 461.5h1.4M1227 462.4h1.4M1219.6 462.8h1.4" fill="none" stroke="#90e190" stroke-width="1.4"/>
<path d="M728.9 492.5h1.4M731.1 492.4h1.4M737.9 491.8h1.4M737.3 491.4h1.4M743.6 491.8h1.4M736.9 492.5h1.4M731.9 493.2h1.4M735.3 493.1h1.4M736.9 492h1.4M730.7 491.9h1.4M727.2 493.2h1.4M794.9 493.3h1.4M794.3 490.9h1.4M807.1 493.2h1.4M805.7 492.9h1.4M802.8 490.8h1.4M828.4 492.8h1.4M879.5 490.8h1.4M876.7 492.6h1.4M880.2 491.6h1.4M862 492.5h1.4M874.2 491.9h1.4M866.6 491.9h1.4M874.5 492.9h1.4M889.4 493h1.4M885.5 491.7h1.4M919.7 491.5h1.4M929.3 492.1h1.4M920.7 491.2h1.4M921.2 490.9h1.4M921.4 492.7h1.4M928.6 492.3h1.4M929.6 493.1h1.4M936.1 491.5h1.4M943.6 491.5h1.4M937.6 491.8h1.4M940.7 491.9h1.4M966.2 490.9h1.4M964.8 491.1h1.4M971.3 491.4h1.4M1036.5 492.3h1.4M1065.9 492.7h1.4M1074.8 491.9h1.4M1058.6 493.1h1.4M1055 491.3h1.4M1070.2 492.9h1.4M1073.5 490.9h1.4M1056.7 493h1.4M1067.6 491.3h1.4M1174.8 492.5h1.4M1175.1 491.5h1.4M1171.4 492.7h1.4M1173.5 492.5h1.4M1193.6 490.9h1.4M1192.3 492.6h1.4M1196.1 491.4h1.4M1199.2 492.4h1.4M1202.2 492.9h1.4M1202.8 493h1.4M1208.3 492.8h1.4M1214.1 491.1h1.4" fill="none" stroke="#e38a8a" stroke-width="1.4"/>
<path d="M723.6 458.9h1.4M763.9 458.8h1.4M749.9 460.3h1.4M745.1 460.4h1.4M759.4 460.3h1.4M753.9 458.4h1.4M755.1 459.9h1.4M762.1 458.3h1.4M749 458.1h1.4M762.4 460.4h1.4M760.5 460.4h1.4M771.6 458.6h1.4M785 458.3h1.4M828.6 459h1.4M829.5 459h1.4M813.6 459.6h1.4M815.3 460.4h1.4M822.1 459.9h1.4M850.8 459.3h1.4M948.3 458.9h1.4M957.7 458.9h1.4M958 459.2h1.4M947.8 460.4h1.4M958.7 458.6h1.4M947.1 460.4h1.4M997.2 460.1h1.4M980.5 459.7h1.4M980.4 458.9h1.4M993.9 460.3h1.4M993.5 459.8h1.4M1021.8 459.5h1.4M1088.4 460.2h1.4M1091.5 460.3h1.4M1090.7 460.1h1.4M1140.3 459.8h1.4M1149.6 460.1h1.4M1187.6 458.8h1.4M1184.3 460.3h1.4M1185.2 459.3h1.4M1224.4 458.2h1.4M1230.9 460.4h1.4M1236 459.4h1.4M1233.7 458.3h1.4M1240.1 459.7h1.4" fill="none" stroke="#86e286" stroke-width="1.4"/>
<path d="M740.1 495.3h1.4M730.1 494.2h1.4M736.9 495.3h1.4M733.3 493.7h1.4M736.9 494.7h1.4M733.8 493.4h1.4M787.2 495.7h1.4M787 495.2h1.4M789.1 494.6h1.4M793 493.9h1.4M795.6 494.2h1.4M793 495h1.4M789.3 493.7h1.4M797.5 495.1h1.4M803.7 493.4h1.4M875 494h1.4M861.4 495.7h1.4M879.4 493.5h1.4M868.4 495.3h1.4M868.9 495.8h1.4M865.3 495.3h1.4M866 494.1h1.4M884.5 494h1.4M893.2 495h1.4M890.9 494.8h1.4M891.9 494.1h1.4M928.8 494.8h1.4M929 493.6h1.4M922.6 495.3h1.4M923.6 494.1h1.4M933.9 494h1.4M941.1 495h1.4M945.3 495.6h1.4M934.1 494.9h1.4M939.1 494.8h1.4M987 495.2h1.4M1006.2 494.7h1.4M1029.9 494.8h1.4M1030.3 493.8h1.4M1044.2 494.1h1.4M1044 493.5h1.4M1042.8 493.4h1.4M1066.6 495.7h1.4M1056 494.7h1.4M1053.3 495h1.4M1053.1 494h1.4M1055.8 493.8h1.4M1064.5 494.7h1.4M1068.7 494.1h1.4M1058.9 493.6h1.4M1052.4 495.1h1.4M1167.1 495.4h1.4M1175.2 495.2h1.4M1195.4 493.6h1.4M1201.5 495.8h1.4M1204.4 495h1.4M1198.1 495.5h1.4M1203.9 493.9h1.4M1198.8 493.7h1.4M1197.5 493.9h1.4M1197 493.4h1.4M1209.5 493.4h1.4" fill="none" stroke="#e47e7e" stroke-width="1.4"/>
<path d="M758.8 456.8h1.4M760.1 456.7h1.4M770.2 457.3h1.4M771.3 457.3h1.4M776.7 457h1.4M774.7 457.8h1.4M782.2 456h1.4M775.3 455.5h1.4M768.4 458h1.4M785.8 457.9h1.4M813.5 456.8h1.4M825.4 456.7h1.4M820.1 457h1.4M821.2 457.9h1.4M820.9 457h1.4M830.5 457.8h1.4M841.4 457.7h1.4M849.9 456.7h1.4M854.1 456.3h1.4M950.3 457.7h1.4M955.8 455.8h1.4M958.1 456.7h1.4M1000.2 457.9h1.4M1024.6 456.1h1.4M1017.3 456.2h1.4M1082.7 455.5h1.4M1081.9 457.4h1.4M1094.1 455.8h1.4M1086.1 456.4h1.4M1096 457.7h1.4M1098.6 456.7h1.4M1189.2 455.7h1.4M1189.9 455.6h1.4M1217.9 456.3h1.4M1221.7 456.5h1.4M1233.9 455.5h1.4M1235.4 455.7h1.4M1240.9 456.5h1.4M1241.9 456.6h1.4" fill="none" stroke="#79e379" stroke-width="1.4"/>
<path d="M727.2 496.1h1.4M730.1 496.7h1.4M730.4 496.6h1.4M728.4 498.3h1.4M733 498h1.4M734.6 497.2h1.4M796.7 497.8h1.4M790.3 498.2h1.4M795 497.7h1.4M795.7 497.4h1.4M795.4 496.2h1.4M792.2 497.3h1.4M807.8 498.1h1.4M863.9 496.6h1.4M874.3 496.4h1.4M865.9 497.6h1.4M865.5 497.3h1.4M858.9 496.4h1.4M864.9 496.2h1.4M879.3 497.5h1.4M872.4 496.8h1.4M888.8 496.1h1.4M898.2 496.1h1.4M891.8 496.9h1.4M885.3 496h1.4M894.9 495.9h1.4M891.8 496h1.4M894.1 497.9h1.4M893.3 497.5h1.4M928 497.6h1.4M916.1 497.2h1.4M920.4 496.5h1.4M944.8 497h1.4M938.2 496.4h1.4M932.3 496h1.4M964.5 498.1h1.4M1037.9 496.3h1.4M1049.8 495.9h1.4M1048.2 497.3h1.4M1061.4 495.9h1.4M1129.7 497.7h1.4M1170.6 497.2h1.4M1176.3 497.4h1.4M1195.7 497.3h1.4M1204.8 497.7h1.4M1198.3 498h1.4M1207.9 496h1.4M1227.5 497.9h1.4" fill="none" stroke="#e47373" stroke-width="1.4"/>
<path d="M770.4 454.1h1.4M772.2 453.4h1.4M769.2 455.4h1.4M772.5 453.7h1.4M778.9 455.4h1.4M781.9 453.3h1.4M831.2 455h1.4M816.4 453.9h1.4M829.8 454h1.4M815.7 454.5h1.4M831.4 453h1.4M856.5 454.4h1.4M956.2 453h1.4M951.6 453.8h1.4M999.5 453.2h1.4M981.5 454.7h1.4M1020.3 455.1h1.4M1231.9 453.6h1.4M1240.7 453.1h1.4" fill="none" stroke="#6ce36c" stroke-width="1.4"/>
<path d="M741 499.1h1.4M736.3 499.6h1.4M737.9 500.7h1.4M726.6 498.8h1.4M735.7 499.6h1.4M738 500.4h1.4M795.8 498.6h1.4M798.2 499h1.4M804.5 499.1h1.4M881.2 500.3h1.4M865.7 499.5h1.4M868 498.7h1.4M871 499.1h1.4M865.7 499.6h1.4M867.8 499.9h1.4M873.5 499.3h1.4M862.6 498.9h1.4M885.2 500.5h1.4M889.5 499.2h1.4M913.3 500.5h1.4M921.6 498.5h1.4M924.7 499.7h1.4M920.4 500.6h1.4M930.9 500h1.4M926.3 500.7h1.4M928.7 499.4h1.4M943.4 499.4h1.4M935.2 500.8h1.4M938.8 498.5h1.4M946.2 498.4h1.4M961.3 499.5h1.4M1000.8 498.5h1.4M1028.3 500.2h1.4M1031.6 500.4h1.4M1035.9 500.1h1.4M1050.5 499.3h1.4M1065.5 499.3h1.4M1194 498.5h1.4M1199.4 499.1h1.4" fill="none" stroke="#e46767" stroke-width="1.4"/>
<path d="M754.3 452.2h1.4M780.4 452.3h1.4M781.6 450.9h1.4M780.6 451.8h1.4M771.8 450.8h1.4M778.5 450.6h1.4M772.9 451.4h1.4M824.3 452.5h1.4M827.7 451.4h1.4M848 452.7h1.4M850.1 452h1.4M960.8 450.7h1.4M953.4 452.6h1.4M983.3 452.4h1.4M976.2 451.2h1.4M1083.2 452.1h1.4M1079.5 452.2h1.4M1188.9 452.7h1.4M966.7 451.7h1.4" fill="none" stroke="#5fe45f" stroke-width="1.4"/>
<path d="M744.5 500.9h1.4M874.5 502.8h1.4M873.2 502.2h1.4M877.6 501.6h1.4M870.2 501.7h1.4M880.6 501.3h1.4M878.9 501.3h1.4M864.2 502.7h1.4M865.7 501h1.4M872.8 501.6h1.4M876.5 501.6h1.4M877.9 502.5h1.4M881.3 502.5h1.4M892.5 502.5h1.4M889.9 502.2h1.4M889 501.2h1.4M888.4 502.1h1.4M928 501.9h1.4M920.4 503.1h1.4M945.9 501.2h1.4M932.1 501.6h1.4M946.3 501.1h1.4M945.2 502.2h1.4M939.3 501.4h1.4M1164.6 503.2h1.4M1174 501.4h1.4M1192 501.7h1.4M1220.8 503h1.4" fill="none" stroke="#e45c5c" stroke-width="1.4"/>
<path d="M776.8 450h1.4M775.1 448.4h1.4M771.2 450.2h1.4M775.8 449.1h1.4M771.3 447.9h1.4M818.1 448h1.4M822.4 448.7h1.4M851.2 449.3h1.4M955.4 450.2h1.4M1083.1 449.1h1.4M1187.6 450.3h1.4M967 449.1h1.4" fill="none" stroke="#55e455" stroke-width="1.4"/>
<path d="M790.6 505.4h1.4M863.9 504.8h1.4M863.6 504.4h1.4M863.5 504.3h1.4M882.6 505h1.4M867.2 505.7h1.4M864.5 504.1h1.4M897.1 504.3h1.4M897.4 503.8h1.4M892.8 505.5h1.4M927.3 503.8h1.4M921.4 504.2h1.4M934.4 504.9h1.4M932.3 503.7h1.4M937.2 504.1h1.4M945.5 505.3h1.4M941.2 505.7h1.4M942.5 504.4h1.4M943.5 503.7h1.4M1029.2 505.2h1.4" fill="none" stroke="#e35050" stroke-width="1.4"/>
<path d="M764.4 447.8h1.4M778.4 446.9h1.4M772.4 447.3h1.4M778.5 445.4h1.4M776.9 446.3h1.4M855.9 447h1.4M1081.5 446.7h1.4M1079 446.4h1.4M1236 446.9h1.4M967.3 446.6h1.4" fill="none" stroke="#4be34b" stroke-width="1.4"/>
<path d="M729.7 506h1.4M736.7 506.4h1.4M873 505.9h1.4M882.3 505.9h1.4M878 506.5h1.4M873.9 508h1.4M878.1 507.1h1.4M900.3 507.2h1.4M929.9 506.6h1.4M922.3 507h1.4M915.8 507.7h1.4M917 506.8h1.4M928.5 506.8h1.4M932.2 506.9h1.4M944.2 508.1h1.4M938.3 507h1.4M1028.3 507.8h1.4M1030.4 508h1.4M1032 506h1.4M1175.5 506.9h1.4" fill="none" stroke="#e24444" stroke-width="1.4"/>
<path d="M772.5 444.6h1.4M775.7 444.5h1.4M832.8 443.7h1.4M1079.6 443.3h1.4M1183 443.6h1.4M1230.3 445.3h1.4M966.9 443.3h1.4M967.2 444.9h1.4M964 443.3h1.4" fill="none" stroke="#41e341" stroke-width="1.4"/>
<path d="M729.7 508.9h1.4M731.1 509.4h1.4M736.4 509.5h1.4M863.6 508.8h1.4M873.7 509.7h1.4M861.8 510.5h1.4M866.6 510.5h1.4M871.7 510.3h1.4M918.7 509.2h1.4M934.5 508.5h1.4M1202.1 508.7h1.4M1049.7 510.5h1.4" fill="none" stroke="#e13838" stroke-width="1.4"/>
<path d="M1081.5 442.4h1.4M1078.9 440.9h1.4M1080.8 441.4h1.4M1125.6 440.7h1.4M1236.2 441.3h1.4M1230.4 440.8h1.4M1231.9 442h1.4M856.2 441.6h1.4" fill="none" stroke="#37e237" stroke-width="1.4"/>
<path d="M728.6 511.6h1.4M734.4 512.4h1.4M732.3 512.9h1.4M793.8 513.2h1.4M866.2 511.9h1.4M929.2 511h1.4M923.8 512.6h1.4M935.6 512.2h1.4M942.1 512.1h1.4M939.1 512.6h1.4M1195.7 513h1.4" fill="none" stroke="#e02c2c" stroke-width="1.4"/>
<path d="M828 439.6h1.4M1234.3 439.2h1.4M1234.1 439.7h1.4M1230.4 439.2h1.4M963.7 439.1h1.4" fill="none" stroke="#2de22d" stroke-width="1.4"/>
<path d="M774 436.7h1.4M778 437.3h1.4M831.1 436.8h1.4M1083.1 436.4h1.4M1081.4 436.9h1.4M1081.8 437h1.4M1082.8 436.2h1.4M1076.7 437h1.4M1230.6 437.6h1.4M856.2 436.5h1.4" fill="none" stroke="#2be12b" stroke-width="1.4"/>
<path d="M736.6 513.6h1.4M859.6 513.7h1.4M925.5 515.2h1.4M937 514.8h1.4M1173.5 515.9h1.4M1196.2 514.3h1.4M1052.7 514.7h1.4" fill="none" stroke="#df2727" stroke-width="1.4"/>
<path d="M1231.8 434.6h1.4M1230.4 432.9h1.4M781.7 434.8h1.4" fill="none" stroke="#29e129" stroke-width="1.4"/>
<path d="M1232.7 431.7h1.4M775.7 430.6h1.4M780.2 430.6h1.4M789.7 430.6h1.4" fill="none" stroke="#27e027" stroke-width="1.4"/>
<path d="M876.5 518.2h1.4M868.9 517.9h1.4M925.9 517.2h1.4M919 516.8h1.4M919.7 517.3h1.4" fill="none" stroke="#de2222" stroke-width="1.4"/>
<path d="M1083.2 425.2h1.4M779.7 426.4h1.4" fill="none" stroke="#22df22" stroke-width="1.4"/>
<path d="M1079.1 424.7h1.4" fill="none" stroke="#20df20" stroke-width="1.4"/>
<path d="M730.1 520.6h1.4M791.5 519.6h1.4M793.8 518.8h1.4M877.1 520h1.4M924.7 518.9h1.4" fill="none" stroke="#dd1d1d" stroke-width="1.4"/>
<path d="M855.8 422.1h1.4" fill="none" stroke="#1ede1e" stroke-width="1.4"/>
<path d="M882.4 522.2h1.4M943.9 522.5h1.4M867.7 523.2h1.4" fill="none" stroke="#dc1818" stroke-width="1.4"/>
<path d="M868 525h1.4M869.7 524.8h1.4" fill="none" stroke="#dc1515" stroke-width="1.4"/>
<path d="M946.2 527.4h1.4" fill="none" stroke="#db1414" stroke-width="1.4"/>
<path d="M789.4 534.6h1.4" fill="none" stroke="#d90f0f" stroke-width="1.4"/>
<path d="M920.7 581.2h1.4" fill="none" stroke="#d70a0a" stroke-width="1.4"/>
<path d="M723.4 475.9H727.2M727.2 495H745.4M745.4 467.6H768.4M768.4 455.1H783M783 469.8H786.9M786.9 485.3H790M790 496.5H799M799 484.8H813M813 462.5H833.8M833.8 475.9H848.7M848.7 469.2H856.4M856.4 448.3H857.9M859.5 501.1H883.8M883.8 489.9H901.6M901.6 479.7H916M916 495.9H932M932 500.3H947.3M947.3 465.5H961.6M961.6 483.3H967.7M969 483.9H976.6M976.6 469.8H1003.1M1003.1 479.7H1009.8M1015.5 468.2H1028.6M1028.6 496.5H1032.1M1032.1 484.8H1047M1047 484.5H1053M1053 484.8H1077.4M1077.4 437H1084M1084 467.6H1101.9M1105 478.1H1122.9M1126.1 475H1142M1145.9 476.5H1160.8M1160.8 481.6H1172M1172 495H1177.1M1177.1 483.3H1182.9M1182.9 469.8H1191.8M1191.8 482.6H1196.2M1196.2 492H1205.8M1205.8 482.6H1212.8M1212.8 483.3H1217.3M1217.3 469.2H1228.8M1230.4 444.4H1237M1240.2 463.2H1243.4M1243.4 476.5H1246" fill="none" stroke="#16167a" stroke-width="2"/>
<line x1="723.4" y1="364.6" x2="1246" y2="364.6" stroke="#585858" stroke-width="1.6"/>
<line x1="768.1" y1="363.7" x2="768.1" y2="365.5" stroke="#c4c4c4" stroke-width="1"/>
<line x1="812.3" y1="363.7" x2="812.3" y2="365.5" stroke="#c4c4c4" stroke-width="1"/>
<line x1="848.2" y1="363.7" x2="848.2" y2="365.5" stroke="#c4c4c4" stroke-width="1"/>
<line x1="883" y1="363.7" x2="883" y2="365.5" stroke="#c4c4c4" stroke-width="1"/>
<line x1="915.8" y1="363.7" x2="915.8" y2="365.5" stroke="#c4c4c4" stroke-width="1"/>
<line x1="946.9" y1="363.7" x2="946.9" y2="365.5" stroke="#c4c4c4" stroke-width="1"/>
<line x1="975.8" y1="363.7" x2="975.8" y2="365.5" stroke="#c4c4c4" stroke-width="1"/>
<line x1="1002.4" y1="363.7" x2="1002.4" y2="365.5" stroke="#c4c4c4" stroke-width="1"/>
<line x1="1028.1" y1="363.7" x2="1028.1" y2="365.5" stroke="#c4c4c4" stroke-width="1"/>
<line x1="1052.7" y1="363.7" x2="1052.7" y2="365.5" stroke="#c4c4c4" stroke-width="1"/>
<line x1="1077.2" y1="363.7" x2="1077.2" y2="365.5" stroke="#c4c4c4" stroke-width="1"/>
<line x1="1101.5" y1="363.7" x2="1101.5" y2="365.5" stroke="#c4c4c4" stroke-width="1"/>
<line x1="1122.5" y1="363.7" x2="1122.5" y2="365.5" stroke="#c4c4c4" stroke-width="1"/>
<line x1="1142" y1="363.7" x2="1142" y2="365.5" stroke="#c4c4c4" stroke-width="1"/>
<line x1="1160.6" y1="363.7" x2="1160.6" y2="365.5" stroke="#c4c4c4" stroke-width="1"/>
<line x1="1177" y1="363.7" x2="1177" y2="365.5" stroke="#c4c4c4" stroke-width="1"/>
<line x1="1191.8" y1="363.7" x2="1191.8" y2="365.5" stroke="#c4c4c4" stroke-width="1"/>
<line x1="1205.9" y1="363.7" x2="1205.9" y2="365.5" stroke="#c4c4c4" stroke-width="1"/>
<line x1="1216.7" y1="363.7" x2="1216.7" y2="365.5" stroke="#c4c4c4" stroke-width="1"/>
<line x1="1228.1" y1="363.7" x2="1228.1" y2="365.5" stroke="#c4c4c4" stroke-width="1"/>
<line x1="1236.9" y1="363.7" x2="1236.9" y2="365.5" stroke="#c4c4c4" stroke-width="1"/>
<line x1="1246" y1="364.6" x2="1246" y2="589.7" stroke="#ccc" stroke-width="1.4"/>
<line x1="723.4" y1="364.6" x2="723.4" y2="589.7" stroke="#ccc" stroke-width="1.4"/>
<line x1="723.4" y1="376" x2="723.4" y2="577.8" stroke="#484848" stroke-width="1.6"/>
<line x1="722.6" y1="589.7" x2="1246" y2="589.7" stroke="#4a4a4a" stroke-width="1.7"/>
<line x1="718.4" y1="376" x2="723.4" y2="376" stroke="#444" stroke-width="1.5"/>
<text x="714" y="379.2" class="yl">1.2</text>
<line x1="718.4" y1="409.6" x2="723.4" y2="409.6" stroke="#444" stroke-width="1.5"/>
<text x="714" y="412.8" class="yl">0.8</text>
<line x1="718.4" y1="443.3" x2="723.4" y2="443.3" stroke="#444" stroke-width="1.5"/>
<text x="714" y="446.5" class="yl">0.4</text>
<line x1="718.4" y1="476.9" x2="723.4" y2="476.9" stroke="#444" stroke-width="1.5"/>
<text x="714" y="480.1" class="yl">0.0</text>
<line x1="718.4" y1="510.5" x2="723.4" y2="510.5" stroke="#444" stroke-width="1.5"/>
<text x="714" y="513.7" class="yl">-0.4</text>
<line x1="718.4" y1="544.2" x2="723.4" y2="544.2" stroke="#444" stroke-width="1.5"/>
<text x="714" y="547.4" class="yl">-0.8</text>
<line x1="718.4" y1="577.8" x2="723.4" y2="577.8" stroke="#444" stroke-width="1.5"/>
<text x="714" y="581" class="yl">-1.2</text>
<line x1="745.4" y1="589.7" x2="745.4" y2="594.2" stroke="#444" stroke-width="1.5"/>
<text transform="translate(748.5 599.1) rotate(-90)" class="xl">chr1</text>
<line x1="790.2" y1="589.7" x2="790.2" y2="594.2" stroke="#444" stroke-width="1.5"/>
<text transform="translate(793.3 599.1) rotate(-90)" class="xl">chr2</text>
<line x1="830.3" y1="589.7" x2="830.3" y2="594.2" stroke="#444" stroke-width="1.5"/>
<text transform="translate(833.4 599.1) rotate(-90)" class="xl">chr3</text>
<line x1="865.6" y1="589.7" x2="865.6" y2="594.2" stroke="#444" stroke-width="1.5"/>
<text transform="translate(868.7 599.1) rotate(-90)" class="xl">chr4</text>
<line x1="899.4" y1="589.7" x2="899.4" y2="594.2" stroke="#444" stroke-width="1.5"/>
<text transform="translate(902.5 599.1) rotate(-90)" class="xl">chr5</text>
<line x1="931.4" y1="589.7" x2="931.4" y2="594.2" stroke="#444" stroke-width="1.5"/>
<text transform="translate(934.5 599.1) rotate(-90)" class="xl">chr6</text>
<line x1="961.4" y1="589.7" x2="961.4" y2="594.2" stroke="#444" stroke-width="1.5"/>
<text transform="translate(964.5 599.1) rotate(-90)" class="xl">chr7</text>
<line x1="989.1" y1="589.7" x2="989.1" y2="594.2" stroke="#444" stroke-width="1.5"/>
<text transform="translate(992.2 599.1) rotate(-90)" class="xl">chr8</text>
<line x1="1015.2" y1="589.7" x2="1015.2" y2="594.2" stroke="#444" stroke-width="1.5"/>
<text transform="translate(1018.3 599.1) rotate(-90)" class="xl">chr9</text>
<line x1="1040.4" y1="589.7" x2="1040.4" y2="594.2" stroke="#444" stroke-width="1.5"/>
<text transform="translate(1043.5 599.1) rotate(-90)" class="xl">chr10</text>
<line x1="1065" y1="589.7" x2="1065" y2="594.2" stroke="#444" stroke-width="1.5"/>
<text transform="translate(1068.1 599.1) rotate(-90)" class="xl">chr11</text>
<line x1="1089.4" y1="589.7" x2="1089.4" y2="594.2" stroke="#444" stroke-width="1.5"/>
<text transform="translate(1092.5 599.1) rotate(-90)" class="xl">chr12</text>
<line x1="1112" y1="589.7" x2="1112" y2="594.2" stroke="#444" stroke-width="1.5"/>
<text transform="translate(1115.1 599.1) rotate(-90)" class="xl">chr13</text>
<line x1="1132.2" y1="589.7" x2="1132.2" y2="594.2" stroke="#444" stroke-width="1.5"/>
<text transform="translate(1135.3 599.1) rotate(-90)" class="xl">chr14</text>
<line x1="1151.3" y1="589.7" x2="1151.3" y2="594.2" stroke="#444" stroke-width="1.5"/>
<text transform="translate(1154.4 599.1) rotate(-90)" class="xl">chr15</text>
<line x1="1168.8" y1="589.7" x2="1168.8" y2="594.2" stroke="#444" stroke-width="1.5"/>
<text transform="translate(1171.9 599.1) rotate(-90)" class="xl">chr16</text>
<line x1="1184.4" y1="589.7" x2="1184.4" y2="594.2" stroke="#444" stroke-width="1.5"/>
<text transform="translate(1187.5 599.1) rotate(-90)" class="xl">chr17</text>
<line x1="1198.9" y1="589.7" x2="1198.9" y2="594.2" stroke="#444" stroke-width="1.5"/>
<text transform="translate(1202 599.1) rotate(-90)" class="xl">chr18</text>
<line x1="1211.3" y1="589.7" x2="1211.3" y2="594.2" stroke="#444" stroke-width="1.5"/>
<text transform="translate(1214.4 599.1) rotate(-90)" class="xl">chr19</text>
<line x1="1222.4" y1="589.7" x2="1222.4" y2="594.2" stroke="#444" stroke-width="1.5"/>
<text transform="translate(1225.5 599.1) rotate(-90)" class="xl">chr20</text>
<line x1="1232.5" y1="589.7" x2="1232.5" y2="594.2" stroke="#444" stroke-width="1.5"/>
<text transform="translate(1235.6 599.1) rotate(-90)" class="xl">chr21</text>
<line x1="1241.5" y1="589.7" x2="1241.5" y2="594.2" stroke="#444" stroke-width="1.5"/>
<text transform="translate(1244.6 599.1) rotate(-90)" class="xl">chr22</text>
<text transform="translate(125.6 662.6) scale(0.965 1)" font-size="29.5">GCT65</text>
<line x1="192.2" y1="687.3" x2="192.2" y2="912.4" class="cb"/>
<line x1="236.3" y1="687.3" x2="236.3" y2="912.4" class="cb"/>
<line x1="272.2" y1="687.3" x2="272.2" y2="912.4" class="cb"/>
<line x1="306.9" y1="687.3" x2="306.9" y2="912.4" class="cb"/>
<line x1="339.7" y1="687.3" x2="339.7" y2="912.4" class="cb"/>
<line x1="370.7" y1="687.3" x2="370.7" y2="912.4" class="cb"/>
<line x1="399.6" y1="687.3" x2="399.6" y2="912.4" class="cb"/>
<line x1="426.1" y1="687.3" x2="426.1" y2="912.4" class="cb"/>
<line x1="451.8" y1="687.3" x2="451.8" y2="912.4" class="cb"/>
<line x1="476.3" y1="687.3" x2="476.3" y2="912.4" class="cb"/>
<line x1="500.8" y1="687.3" x2="500.8" y2="912.4" class="cb"/>
<line x1="525.1" y1="687.3" x2="525.1" y2="912.4" class="cb"/>
<line x1="546" y1="687.3" x2="546" y2="912.4" class="cb"/>
<line x1="565.4" y1="687.3" x2="565.4" y2="912.4" class="cb"/>
<line x1="584" y1="687.3" x2="584" y2="912.4" class="cb"/>
<line x1="600.4" y1="687.3" x2="600.4" y2="912.4" class="cb"/>
<line x1="615.2" y1="687.3" x2="615.2" y2="912.4" class="cb"/>
<line x1="629.3" y1="687.3" x2="629.3" y2="912.4" class="cb"/>
<line x1="640" y1="687.3" x2="640" y2="912.4" class="cb"/>
<line x1="651.5" y1="687.3" x2="651.5" y2="912.4" class="cb"/>
<line x1="660.2" y1="687.3" x2="660.2" y2="912.4" class="cb"/>
<line x1="669.5" y1="687.3" x2="669.5" y2="912.4" class="cb"/>
<line x1="170.8" y1="689.3" x2="170.8" y2="912.4" class="cd"/>
<line x1="209.1" y1="689.3" x2="209.1" y2="912.4" class="cd"/>
<line x1="252.8" y1="689.3" x2="252.8" y2="912.4" class="cd"/>
<line x1="281.4" y1="689.3" x2="281.4" y2="912.4" class="cd"/>
<line x1="315.7" y1="689.3" x2="315.7" y2="912.4" class="cd"/>
<line x1="350.8" y1="689.3" x2="350.8" y2="912.4" class="cd"/>
<line x1="381.6" y1="689.3" x2="381.6" y2="912.4" class="cd"/>
<line x1="407.9" y1="689.3" x2="407.9" y2="912.4" class="cd"/>
<line x1="435" y1="689.3" x2="435" y2="912.4" class="cd"/>
<line x1="459" y1="689.3" x2="459" y2="912.4" class="cd"/>
<line x1="486.1" y1="689.3" x2="486.1" y2="912.4" class="cd"/>
<line x1="507.3" y1="689.3" x2="507.3" y2="912.4" class="cd"/>
<line x1="528.3" y1="689.3" x2="528.3" y2="912.4" class="cd"/>
<line x1="549.2" y1="689.3" x2="549.2" y2="912.4" class="cd"/>
<line x1="568.9" y1="689.3" x2="568.9" y2="912.4" class="cd"/>
<line x1="590.7" y1="689.3" x2="590.7" y2="912.4" class="cd"/>
<line x1="604.8" y1="689.3" x2="604.8" y2="912.4" class="cd"/>
<line x1="618.3" y1="689.3" x2="618.3" y2="912.4" class="cd"/>
<line x1="634.1" y1="689.3" x2="634.1" y2="912.4" class="cd"/>
<line x1="645" y1="689.3" x2="645" y2="912.4" class="cd"/>
<line x1="653.9" y1="689.3" x2="653.9" y2="912.4" class="cd"/>
<line x1="662.9" y1="689.3" x2="662.9" y2="912.4" class="cd"/>
<path d="M501 752.4h6.5v2.8h-6.5z" fill="#25e025" stroke="none" mask="url(#mS)"/>
<path d="M501 755.1h6.5v2.8h-6.5z" fill="#28e128" stroke="none" mask="url(#mS)"/>
<path d="M188.2 766.5h4.6v2.5h-4.6z" fill="#44e344" stroke="none" mask="url(#mS)"/>
<path d="M188.2 768.9h4.6v2.5h-4.6z" fill="#4be34b" stroke="none" mask="url(#mS)"/>
<path d="M159 770.9h4.8v1.9h-4.8zM163.8 771.2h4.8v1.9h-4.8zM179.1 770.1h4.6v2h-4.6zM183.6 770.5h4.6v1.9h-4.6zM241.2 770.3h4.4v2.1h-4.4zM272.5 771.3h4.6v2.2h-4.6zM645.5 771.2h6.3v2h-6.3z" fill="#52e352" stroke="none" mask="url(#mS)"/>
<path d="M159 772.8h4.8v1.9h-4.8zM163.8 773.1h4.8v1.9h-4.8zM169.9 773.1h4.6v1.6h-4.6zM174.5 771.9h4.6v1.8h-4.6zM179.1 772h4.6v2h-4.6zM183.6 772.3h4.6v1.9h-4.6zM236.8 773.1h4.4v1.6h-4.4zM241.2 772.3h4.4v2.1h-4.4zM534.5 773.1h5.8v1.7h-5.8zM540.2 771.9h5.8v1.8h-5.8z" fill="#58e458" stroke="none" mask="url(#mS)"/>
<path d="M169.9 774.6h4.6v1.6h-4.6zM174.5 773.6h4.6v1.8h-4.6zM236.8 774.7h4.4v1.6h-4.4zM272.5 773.4h4.6v2.2h-4.6zM534.5 774.7h5.8v1.7h-5.8zM540.2 773.6h5.8v1.8h-5.8zM645.5 773.2h6.3v2h-6.3z" fill="#5fe45f" stroke="none" mask="url(#mS)"/>
<path d="M277.1 775.1h4.6v1.7h-4.6z" fill="#68e468" stroke="none" mask="url(#mS)"/>
<path d="M277.1 776.7h4.6v1.7h-4.6z" fill="#70e370" stroke="none" mask="url(#mS)"/>
<path d="M231.9 786.2h4.9v1.8h-4.9zM391.1 786.5h5.1v1.9h-5.1zM437 785.5h5v1.8h-5zM501 785.6h6.5v2.8h-6.5zM610.3 786.6h5.2v1.7h-5.2z" fill="#97e097" stroke="none" mask="url(#mS)"/>
<path d="M154.6 788.4h4.4v1.6h-4.4zM217.2 786.8h4.9v1.7h-4.9zM227 788.1h4.9v1.7h-4.9zM231.9 788h4.9v1.8h-4.9zM344.9 786.9h5.1v1.8h-5.1zM350.1 787h5.1v1.8h-5.1zM355.2 786.9h5.1v1.8h-5.1zM365.4 788.4h5.1v1.7h-5.1zM416.7 788.1h5.1v1.9h-5.1zM432 787.8h5v1.5h-5zM437 787.2h5v1.8h-5zM442 787.8h5v1.5h-5zM447 787.4h5v1.6h-5zM452 787h4.9v1.8h-4.9zM456.9 787.6h4.9v1.7h-4.9zM584.3 787h5.2v1.8h-5.2zM594.7 787.3h5.2v1.7h-5.2zM599.9 787.1h5.2v1.7h-5.2zM610.3 788.2h5.2v1.7h-5.2zM653.8 787.3h7v1.7h-7zM663.3 787.9h6v1.5h-6z" fill="#9de09d" stroke="none" mask="url(#mS)"/>
<path d="M154.6 789.9h4.4v1.6h-4.4zM192.8 790h4.9v1.4h-4.9zM202.6 788.7h4.9v1.5h-4.9zM202.6 790.1h4.9v1.5h-4.9zM207.5 788.7h4.9v1.4h-4.9zM207.5 790.1h4.9v1.4h-4.9zM217.2 788.5h4.9v1.7h-4.9zM227 789.8h4.9v1.7h-4.9zM251.1 789.7h5.4v1.5h-5.4zM256.4 789.2h5.4v1.5h-5.4zM261.8 788.4h5.4v1.6h-5.4zM261.8 790h5.4v1.6h-5.4zM267.1 789.7h5.4v1.4h-5.4zM319.2 789.6h5.2v1.8h-5.2zM339.8 790.1h5.1v1.5h-5.1zM344.9 788.7h5.1v1.8h-5.1zM350.1 788.7h5.1v1.8h-5.1zM355.2 788.6h5.1v1.8h-5.1zM360.3 789.1h5.1v1.5h-5.1zM365.4 790h5.1v1.7h-5.1zM386 789.6h5.1v1.6h-5.1zM391.1 788.4h5.1v1.9h-5.1zM401.4 789.9h5.1v1.6h-5.1zM416.7 789.9h5.1v1.9h-5.1zM427 788.7h5v1.3h-5zM427 790h5v1.3h-5zM432 789.2h5v1.5h-5zM442 789.2h5v1.5h-5zM447 788.9h5v1.6h-5zM452 788.8h4.9v1.8h-4.9zM456.9 789.3h4.9v1.7h-4.9zM471.6 790.1h4.9v1.6h-4.9zM491.2 789.6h4.9v1.7h-4.9zM501 788.4h6.5v2.8h-6.5zM507.5 789.6h4.5v1.4h-4.5zM512 790h4.5v1.3h-4.5zM516.5 789.3h4.5v1.5h-4.5zM549.8 788.6h5.3v1.6h-5.3zM555.1 789.8h5.3v1.4h-5.3zM579.4 789.3h4.9v1.7h-4.9zM584.3 788.7h5.2v1.8h-5.2zM589.5 788.7h5.2v1.5h-5.2zM594.7 788.9h5.2v1.7h-5.2zM599.9 788.7h5.2v1.7h-5.2zM605.1 789.6h5.2v1.3h-5.2zM624.8 790.1h4.7v1.5h-4.7zM629.5 789.2h5.5v1.5h-5.5zM635 788.9h5.4v1.6h-5.4zM653.8 788.9h7v1.7h-7zM663.3 789.4h6v1.5h-6z" fill="#a4dfa4" stroke="none" mask="url(#mS)"/>
<path d="M169.9 791.2h4.6v1.6h-4.6zM192.8 791.4h4.9v1.4h-4.9zM197.7 791.2h4.9v1.2h-4.9zM212.4 791.1h4.9v1.1h-4.9zM222.1 790.8h4.9v1.3h-4.9zM245.7 790.8h5.4v1.4h-5.4zM251.1 791.2h5.4v1.5h-5.4zM256.4 790.6h5.4v1.5h-5.4zM267.1 791h5.4v1.4h-5.4zM314 791.8h5.2v1.5h-5.2zM319.2 791.3h5.2v1.8h-5.2zM324.3 791.4h5.2v1.5h-5.2zM329.5 790.5h5.2v1.5h-5.2zM334.6 790.6h5.2v1.5h-5.2zM339.8 791.5h5.1v1.5h-5.1zM360.3 790.6h5.1v1.5h-5.1zM370.6 790.6h5.1v1.5h-5.1zM375.7 791.5h5.1v1.3h-5.1zM380.8 791.2h5.1v1.3h-5.1zM386 791.1h5.1v1.6h-5.1zM396.2 791.9h5.1v1.2h-5.1zM401.4 791.4h5.1v1.6h-5.1zM406.5 791.9h5.1v1.3h-5.1zM411.6 790.5h5.1v1.6h-5.1zM421.9 791.6h5.1v1.4h-5.1zM461.8 791h4.9v1.4h-4.9zM466.7 791.3h4.9v1.4h-4.9zM471.6 791.6h4.9v1.6h-4.9zM476.5 790.4h4.9v1.6h-4.9zM481.4 790.2h4.9v1.6h-4.9zM481.4 791.7h4.9v1.6h-4.9zM491.2 791.2h4.9v1.7h-4.9zM496.1 790.5h4.9v1.6h-4.9zM507.5 791h4.5v1.4h-4.5zM512 791.3h4.5v1.3h-4.5zM516.5 790.7h4.5v1.5h-4.5zM521.1 790.5h4.5v1.4h-4.5zM521.1 791.8h4.5v1.4h-4.5zM528.8 790.8h5.7v1.4h-5.7zM549.8 790.2h5.3v1.6h-5.3zM555.1 791.1h5.3v1.4h-5.3zM560.5 791.5h5.3v1.4h-5.3zM569.6 791.9h4.9v1.2h-4.9zM574.5 790.2h4.9v1.6h-4.9zM574.5 791.8h4.9v1.6h-4.9zM579.4 791h4.9v1.7h-4.9zM589.5 790.2h5.2v1.5h-5.2zM605.1 790.9h5.2v1.3h-5.2zM615.5 790.4h4.7v1.5h-4.7zM620.2 790.7h4.7v1.5h-4.7zM624.8 791.5h4.7v1.5h-4.7zM629.5 790.7h5.5v1.5h-5.5zM635 790.5h5.4v1.6h-5.4z" fill="#aadeaa" stroke="none" mask="url(#mS)"/>
<path d="M169.9 792.7h4.6v1.6h-4.6zM174.5 793.1h4.6v1.8h-4.6zM179.1 793.1h4.6v2h-4.6zM183.6 793.1h4.6v1.9h-4.6zM197.7 792.4h4.9v1.2h-4.9zM212.4 792.2h4.9v1.1h-4.9zM222.1 792.1h4.9v1.3h-4.9zM236.8 792.2h4.4v1.6h-4.4zM245.7 792.2h5.4v1.4h-5.4zM314 793.2h5.2v1.5h-5.2zM324.3 792.9h5.2v1.5h-5.2zM329.5 792h5.2v1.5h-5.2zM334.6 792h5.2v1.5h-5.2zM370.6 792.1h5.1v1.5h-5.1zM375.7 792.8h5.1v1.3h-5.1zM380.8 792.5h5.1v1.3h-5.1zM396.2 793.1h5.1v1.2h-5.1zM406.5 793.2h5.1v1.3h-5.1zM411.6 792h5.1v1.6h-5.1zM421.9 792.9h5.1v1.4h-5.1zM461.8 792.3h4.9v1.4h-4.9zM466.7 792.7h4.9v1.4h-4.9zM476.5 791.9h4.9v1.6h-4.9zM486.3 792.1h4.9v1.3h-4.9zM486.3 793.4h4.9v1.3h-4.9zM496.1 792h4.9v1.6h-4.9zM528.8 792.1h5.7v1.4h-5.7zM534.5 792.7h5.8v1.7h-5.8zM540.2 792.4h5.8v1.8h-5.8zM560.5 792.8h5.3v1.4h-5.3zM569.6 793h4.9v1.2h-4.9zM615.5 791.8h4.7v1.5h-4.7zM620.2 792.2h4.7v1.5h-4.7z" fill="#b1dbb1" stroke="none" mask="url(#mS)"/>
<path d="M159 793.7h4.8v1.9h-4.8zM163.8 793.8h4.8v1.9h-4.8zM174.5 794.8h4.6v1.8h-4.6zM183.6 795h4.6v1.9h-4.6zM236.8 793.8h4.4v1.6h-4.4zM277.1 794.3h4.6v1.7h-4.6zM534.5 794.4h5.8v1.7h-5.8zM540.2 794.1h5.8v1.8h-5.8zM645.5 794.6h6.3v2h-6.3z" fill="#b9d7b9" stroke="none" mask="url(#mS)"/>
<path d="M159 795.6h4.8v1.9h-4.8zM163.8 795.7h4.8v1.9h-4.8zM179.1 795h4.6v2h-4.6zM188.2 795.4h4.6v2.5h-4.6zM241.2 795h4.4v2.1h-4.4zM277.1 795.9h4.6v1.7h-4.6zM645.5 796.5h6.3v2h-6.3z" fill="#c0d4c0" stroke="none" mask="url(#mS)"/>
<path d="M147.6 797.1h7v3.4h-7zM188.2 797.9h4.6v2.5h-4.6zM241.2 797.1h4.4v2.1h-4.4zM272.5 797.2h4.6v2.2h-4.6z" fill="#c6d0c6" stroke="none" mask="url(#mS)"/>
<path d="M272.5 799.4h4.6v2.2h-4.6z" fill="#cccccc" stroke="none" mask="url(#mS)"/>
<path d="M147.6 800.4h7v3.4h-7z" fill="#d1c6c6" stroke="none" mask="url(#mS)"/>
<path d="M197.7 805.2h4.9v1.2h-4.9zM207.5 805.2h4.9v1.4h-4.9zM212.4 804.2h4.9v1.1h-4.9zM212.4 805.3h4.9v1.1h-4.9zM427 804h5v1.3h-5zM427 805.3h5v1.3h-5zM432 804.7h5v1.5h-5zM605.1 805.1h5.2v1.3h-5.2z" fill="#d9b8b8" stroke="none" mask="url(#mS)"/>
<path d="M282 852.6h5.1v2.9h-5.1z" fill="#da1212" stroke="none" mask="url(#mS)"/>
<path d="M287.1 851.2h5.1v2.6h-5.1zM297.4 850.4h5.1v2.5h-5.1z" fill="#db1313" stroke="none" mask="url(#mS)"/>
<path d="M282 849.8h5.1v2.9h-5.1zM287.1 848.6h5.1v2.6h-5.1zM292.2 849.8h5.1v2.4h-5.1zM307.6 848.2h6.4v3h-6.4z" fill="#db1414" stroke="none" mask="url(#mS)"/>
<path d="M292.2 847.5h5.1v2.4h-5.1zM297.4 848h5.1v2.5h-5.1zM302.5 847.9h5.1v2.1h-5.1z" fill="#db1515" stroke="none" mask="url(#mS)"/>
<path d="M192.8 805.8h4.9v1.4h-4.9zM197.7 806.3h4.9v1.2h-4.9zM202.6 806.1h4.9v1.5h-4.9zM207.5 806.6h4.9v1.4h-4.9zM222.1 806.3h4.9v1.3h-4.9zM245.7 806.7h5.4v1.4h-5.4zM256.4 806.1h5.4v1.5h-5.4zM261.8 806.7h5.4v1.6h-5.4zM267.1 805.8h5.4v1.4h-5.4zM360.3 806.6h5.1v1.5h-5.1zM375.7 806.7h5.1v1.3h-5.1zM380.8 806.4h5.1v1.3h-5.1zM396.2 805.8h5.1v1.2h-5.1zM396.2 807h5.1v1.2h-5.1zM406.5 806.6h5.1v1.3h-5.1zM432 806.1h5v1.5h-5zM437 806.4h5v1.8h-5zM442 805.3h5v1.5h-5zM442 806.7h5v1.5h-5zM447 805.5h5v1.6h-5zM507.5 805.9h4.5v1.4h-4.5zM512 805.4h4.5v1.3h-4.5zM512 806.7h4.5v1.3h-4.5zM516.5 806.3h4.5v1.5h-4.5zM521.1 806.4h4.5v1.4h-4.5zM528.8 806.6h5.7v1.4h-5.7zM555.1 806.3h5.3v1.4h-5.3zM569.6 806.2h4.9v1.2h-4.9zM589.5 806.3h5.2v1.5h-5.2zM599.9 806.4h5.2v1.7h-5.2zM605.1 806.4h5.2v1.3h-5.2zM610.3 806.8h5.2v1.7h-5.2zM624.8 806.9h4.7v1.5h-4.7zM663.3 805.8h6v1.5h-6z" fill="#dbb0b0" stroke="none" mask="url(#mS)"/>
<path d="M302.5 845.9h5.1v2.1h-5.1zM307.6 845.3h6.4v3h-6.4z" fill="#dc1616" stroke="none" mask="url(#mS)"/>
<path d="M147.6 840.3h7v3.4h-7z" fill="#de1e1e" stroke="none" mask="url(#mS)"/>
<path d="M640.4 839.1h5.1v2.4h-5.1z" fill="#de2222" stroke="none" mask="url(#mS)"/>
<path d="M154.6 807h4.4v1.6h-4.4zM192.8 807.1h4.9v1.4h-4.9zM202.6 807.5h4.9v1.5h-4.9zM217.2 807h4.9v1.7h-4.9zM222.1 807.6h4.9v1.3h-4.9zM227 808.3h4.9v1.7h-4.9zM231.9 807.8h4.9v1.8h-4.9zM245.7 808h5.4v1.4h-5.4zM251.1 807.6h5.4v1.5h-5.4zM256.4 807.5h5.4v1.5h-5.4zM261.8 808.2h5.4v1.6h-5.4zM267.1 807.1h5.4v1.4h-5.4zM314 808.6h5.2v1.5h-5.2zM324.3 808.4h5.2v1.5h-5.2zM329.5 808.2h5.2v1.5h-5.2zM334.6 807.4h5.2v1.5h-5.2zM339.8 807h5.1v1.5h-5.1zM339.8 808.4h5.1v1.5h-5.1zM344.9 808.3h5.1v1.8h-5.1zM350.1 807.7h5.1v1.8h-5.1zM355.2 808h5.1v1.8h-5.1zM360.3 808.1h5.1v1.5h-5.1zM365.4 808h5.1v1.7h-5.1zM370.6 808h5.1v1.5h-5.1zM375.7 807.9h5.1v1.3h-5.1zM380.8 807.7h5.1v1.3h-5.1zM386 807.9h5.1v1.6h-5.1zM401.4 808h5.1v1.6h-5.1zM406.5 807.9h5.1v1.3h-5.1zM411.6 808.5h5.1v1.6h-5.1zM421.9 807.9h5.1v1.4h-5.1zM437 808.1h5v1.8h-5zM447 807.1h5v1.6h-5zM452 807.8h4.9v1.8h-4.9zM456.9 808h4.9v1.7h-4.9zM461.8 807.1h4.9v1.4h-4.9zM461.8 808.4h4.9v1.4h-4.9zM466.7 807.5h4.9v1.4h-4.9zM471.6 808.2h4.9v1.6h-4.9zM486.3 807.2h4.9v1.3h-4.9zM486.3 808.5h4.9v1.3h-4.9zM507.5 807.2h4.5v1.4h-4.5zM516.5 807.7h4.5v1.5h-4.5zM521.1 807.8h4.5v1.4h-4.5zM528.8 807.9h5.7v1.4h-5.7zM549.8 807.6h5.3v1.6h-5.3zM555.1 807.6h5.3v1.4h-5.3zM560.5 807.1h5.3v1.4h-5.3zM560.5 808.4h5.3v1.4h-5.3zM569.6 807.4h4.9v1.2h-4.9zM574.5 808.5h4.9v1.6h-4.9zM584.3 807.7h5.2v1.8h-5.2zM589.5 807.7h5.2v1.5h-5.2zM594.7 807.1h5.2v1.7h-5.2zM599.9 808h5.2v1.7h-5.2zM610.3 808.4h5.2v1.7h-5.2zM615.5 808h4.7v1.5h-4.7zM620.2 808.5h4.7v1.5h-4.7zM624.8 808.3h4.7v1.5h-4.7zM629.5 807h5.5v1.5h-5.5zM629.5 808.5h5.5v1.5h-5.5zM635 807.7h5.4v1.6h-5.4zM640.4 808.1h5.1v2.4h-5.1zM653.8 807.6h7v1.7h-7zM663.3 807.2h6v1.5h-6z" fill="#dea8a8" stroke="none" mask="url(#mS)"/>
<path d="M147.6 837h7v3.4h-7zM640.4 836.7h5.1v2.4h-5.1z" fill="#df2525" stroke="none" mask="url(#mS)"/>
<path d="M154.6 808.6h4.4v1.6h-4.4zM217.2 808.7h4.9v1.7h-4.9zM227 810h4.9v1.7h-4.9zM231.9 809.6h4.9v1.8h-4.9zM251.1 809.1h5.4v1.5h-5.4zM314 810h5.2v1.5h-5.2zM324.3 809.8h5.2v1.5h-5.2zM329.5 809.7h5.2v1.5h-5.2zM334.6 808.8h5.2v1.5h-5.2zM350.1 809.4h5.1v1.8h-5.1zM355.2 809.7h5.1v1.8h-5.1zM365.4 809.7h5.1v1.7h-5.1zM370.6 809.5h5.1v1.5h-5.1zM386 809.4h5.1v1.6h-5.1zM391.1 808.7h5.1v1.9h-5.1zM401.4 809.5h5.1v1.6h-5.1zM411.6 810h5.1v1.6h-5.1zM421.9 809.3h5.1v1.4h-5.1zM452 809.5h4.9v1.8h-4.9zM456.9 809.7h4.9v1.7h-4.9zM466.7 808.9h4.9v1.4h-4.9zM471.6 809.8h4.9v1.6h-4.9zM476.5 808.8h4.9v1.6h-4.9zM481.4 808.9h4.9v1.6h-4.9zM491.2 809.3h4.9v1.7h-4.9zM496.1 808.7h4.9v1.6h-4.9zM496.1 810.2h4.9v1.6h-4.9zM549.8 809.2h5.3v1.6h-5.3zM574.5 810h4.9v1.6h-4.9zM579.4 809.2h4.9v1.7h-4.9zM584.3 809.5h5.2v1.8h-5.2zM594.7 808.8h5.2v1.7h-5.2zM615.5 809.5h4.7v1.5h-4.7zM620.2 810h4.7v1.5h-4.7zM635 809.2h5.4v1.6h-5.4zM653.8 809.2h7v1.7h-7z" fill="#dfa0a0" stroke="none" mask="url(#mS)"/>
<path d="M307.6 810.3h6.4v3h-6.4zM319.2 810.4h5.2v1.8h-5.2zM344.9 810.1h5.1v1.8h-5.1zM391.1 810.6h5.1v1.9h-5.1zM416.7 810.2h5.1v1.9h-5.1zM476.5 810.3h4.9v1.6h-4.9zM481.4 810.5h4.9v1.6h-4.9zM491.2 811h4.9v1.7h-4.9zM579.4 810.8h4.9v1.7h-4.9zM640.4 810.5h5.1v2.4h-5.1z" fill="#e09999" stroke="none" mask="url(#mS)"/>
<path d="M319.2 812.1h5.2v1.8h-5.2zM416.7 812h5.1v1.9h-5.1z" fill="#e29191" stroke="none" mask="url(#mS)"/>
<path d="M307.6 813.2h6.4v3h-6.4z" fill="#e38a8a" stroke="none" mask="url(#mS)"/>
<path d="M302.5 823.6h5.1v2.1h-5.1z" fill="#e45c5c" stroke="none" mask="url(#mS)"/>
<path d="M292.2 821.9h5.1v2.4h-5.1z" fill="#e46464" stroke="none" mask="url(#mS)"/>
<path d="M287.1 820.3h5.1v2.6h-5.1zM297.4 821.5h5.1v2.5h-5.1zM302.5 821.6h5.1v2.1h-5.1z" fill="#e46b6b" stroke="none" mask="url(#mS)"/>
<path d="M282 818.8h5.1v2.9h-5.1zM292.2 819.5h5.1v2.4h-5.1zM297.4 819.1h5.1v2.5h-5.1z" fill="#e47373" stroke="none" mask="url(#mS)"/>
<path d="M287.1 817.7h5.1v2.6h-5.1z" fill="#e47a7a" stroke="none" mask="url(#mS)"/>
<path d="M282 815.9h5.1v2.9h-5.1z" fill="#e48282" stroke="none" mask="url(#mS)"/>
<path d="M501 757.9h6.5v3.9h-6.5z" fill="#2be12b" stroke="none" mask="url(#mD)"/>
<path d="M501 761.8h6.5v3.9h-6.5z" fill="#30e230" stroke="none" mask="url(#mD)"/>
<path d="M188.2 771.4h4.6v3.4h-4.6z" fill="#58e458" stroke="none" mask="url(#mD)"/>
<path d="M179.1 773.9h4.6v2.7h-4.6zM183.6 774.2h4.6v2.7h-4.6z" fill="#5fe45f" stroke="none" mask="url(#mD)"/>
<path d="M159 774.7h4.8v2.7h-4.8zM163.8 775h4.8v2.7h-4.8zM169.9 776.1h4.6v2.2h-4.6zM174.5 775.4h4.6v2.5h-4.6zM188.2 774.7h4.6v3.4h-4.6zM236.8 776.3h4.4v2.3h-4.4zM241.2 774.4h4.4v2.9h-4.4zM272.5 775.6h4.6v3.1h-4.6zM540.2 775.3h5.8v2.4h-5.8zM645.5 775.1h6.3v2.8h-6.3z" fill="#68e468" stroke="none" mask="url(#mD)"/>
<path d="M159 777.4h4.8v2.7h-4.8zM163.8 777.6h4.8v2.7h-4.8zM174.5 777.9h4.6v2.5h-4.6zM179.1 776.6h4.6v2.7h-4.6zM183.6 776.9h4.6v2.7h-4.6zM241.2 777.3h4.4v2.9h-4.4zM534.5 776.4h5.8v2.3h-5.8zM540.2 777.7h5.8v2.4h-5.8z" fill="#70e370" stroke="none" mask="url(#mD)"/>
<path d="M169.9 778.2h4.6v2.2h-4.6zM236.8 778.5h4.4v2.3h-4.4zM272.5 778.6h4.6v3.1h-4.6zM277.1 778.3h4.6v2.3h-4.6zM501 777.9h6.5v3.9h-6.5zM534.5 778.7h5.8v2.3h-5.8zM645.5 777.8h6.3v2.8h-6.3z" fill="#79e379" stroke="none" mask="url(#mD)"/>
<path d="M277.1 780.5h4.6v2.3h-4.6z" fill="#81e281" stroke="none" mask="url(#mD)"/>
<path d="M501 781.7h6.5v3.9h-6.5z" fill="#8ae28a" stroke="none" mask="url(#mD)"/>
<path d="M169.9 787h4.6v2.2h-4.6zM179.1 787.7h4.6v2.7h-4.6zM183.6 787.8h4.6v2.7h-4.6zM236.8 787.7h4.4v2.3h-4.4zM540.2 787.6h5.8v2.4h-5.8z" fill="#9de09d" stroke="none" mask="url(#mD)"/>
<path d="M159 788.4h4.8v2.7h-4.8zM163.8 788.5h4.8v2.7h-4.8zM169.9 789.1h4.6v2.2h-4.6zM174.5 788.1h4.6v2.5h-4.6zM188.2 788.7h4.6v3.4h-4.6zM241.2 789.3h4.4v2.9h-4.4zM437 789h5v2.5h-5zM534.5 788.1h5.8v2.3h-5.8zM645.5 789.1h6.3v2.8h-6.3z" fill="#a4dfa4" stroke="none" mask="url(#mD)"/>
<path d="M159 791h4.8v2.7h-4.8zM163.8 791.1h4.8v2.7h-4.8zM174.5 790.6h4.6v2.5h-4.6zM179.1 790.4h4.6v2.7h-4.6zM183.6 790.4h4.6v2.7h-4.6zM207.5 791.4h4.9v2h-4.9zM217.2 790.2h4.9v2.4h-4.9zM231.9 789.8h4.9v2.6h-4.9zM236.8 790h4.4v2.3h-4.4zM261.8 791.5h5.4v2.2h-5.4zM277.1 789.8h4.6v2.3h-4.6zM344.9 790.5h5.1v2.6h-5.1zM350.1 790.5h5.1v2.5h-5.1zM355.2 790.4h5.1v2.5h-5.1zM391.1 790.2h5.1v2.6h-5.1zM427 791.3h5v1.8h-5zM432 790.6h5v2h-5zM442 790.7h5v2.1h-5zM447 790.4h5v2.2h-5zM452 790.5h4.9v2.5h-4.9zM456.9 791h4.9v2.4h-4.9zM534.5 790.4h5.8v2.3h-5.8zM540.2 790h5.8v2.4h-5.8zM584.3 790.5h5.2v2.5h-5.2zM594.7 790.6h5.2v2.4h-5.2zM599.9 790.3h5.2v2.3h-5.2zM610.3 789.9h5.2v2.4h-5.2zM653.8 790.6h7v2.4h-7zM663.3 790.9h6v2.1h-6z" fill="#aadeaa" stroke="none" mask="url(#mD)"/>
<path d="M154.6 791.5h4.4v2.2h-4.4zM188.2 792.1h4.6v3.4h-4.6zM192.8 792.7h4.9v1.9h-4.9zM202.6 791.6h4.9v2.1h-4.9zM212.4 793.3h4.9v1.6h-4.9zM217.2 792.5h4.9v2.4h-4.9zM227 791.4h4.9v2.4h-4.9zM231.9 792.3h4.9v2.6h-4.9zM241.2 792.1h4.4v2.9h-4.4zM251.1 792.7h5.4v2.1h-5.4zM256.4 792.1h5.4v2h-5.4zM267.1 792.4h5.4v1.9h-5.4zM272.5 791.2h4.6v3.1h-4.6zM277.1 792h4.6v2.3h-4.6zM339.8 792.9h5.1v2h-5.1zM344.9 793h5.1v2.6h-5.1zM350.1 792.9h5.1v2.5h-5.1zM355.2 792.8h5.1v2.5h-5.1zM360.3 792h5.1v2.1h-5.1zM365.4 791.6h5.1v2.3h-5.1zM386 792.6h5.1v2.2h-5.1zM391.1 792.8h5.1v2.6h-5.1zM401.4 792.9h5.1v2.2h-5.1zM416.7 791.8h5.1v2.6h-5.1zM427 793.1h5v1.8h-5zM432 792.6h5v2h-5zM437 791.4h5v2.5h-5zM442 792.7h5v2.1h-5zM447 792.5h5v2.2h-5zM452 792.9h4.9v2.5h-4.9zM471.6 793.1h4.9v2.2h-4.9zM491.2 792.9h4.9v2.4h-4.9zM507.5 792.3h4.5v1.9h-4.5zM512 792.6h4.5v1.8h-4.5zM516.5 792.1h4.5v2h-4.5zM521.1 793.2h4.5v1.9h-4.5zM549.8 791.8h5.3v2.3h-5.3zM555.1 792.5h5.3v2h-5.3zM579.4 792.6h4.9v2.4h-4.9zM584.3 792.9h5.2v2.5h-5.2zM589.5 791.6h5.2v2.1h-5.2zM594.7 792.9h5.2v2.4h-5.2zM599.9 792.5h5.2v2.3h-5.2zM605.1 792.1h5.2v1.9h-5.2zM610.3 792.3h5.2v2.4h-5.2zM624.8 792.9h4.7v2h-4.7zM629.5 792.2h5.5v2.1h-5.5zM635 792h5.4v2.2h-5.4zM645.5 791.8h6.3v2.8h-6.3zM653.8 793h7v2.4h-7zM663.3 793h6v2.1h-6z" fill="#b1dbb1" stroke="none" mask="url(#mD)"/>
<path d="M154.6 793.7h4.4v2.2h-4.4zM192.8 794.5h4.9v1.9h-4.9zM197.7 793.5h4.9v1.7h-4.9zM202.6 793.6h4.9v2.1h-4.9zM207.5 793.4h4.9v2h-4.9zM212.4 794.8h4.9v1.6h-4.9zM222.1 793.4h4.9v1.9h-4.9zM227 793.8h4.9v2.4h-4.9zM245.7 793.5h5.4v1.9h-5.4zM251.1 794.8h5.4v2.1h-5.4zM256.4 794h5.4v2h-5.4zM261.8 793.6h5.4v2.2h-5.4zM267.1 794.3h5.4v1.9h-5.4zM272.5 794.2h4.6v3.1h-4.6zM314 794.6h5.2v2h-5.2zM319.2 793.1h5.2v2.5h-5.2zM324.3 794.3h5.2v2h-5.2zM329.5 793.5h5.2v2.1h-5.2zM334.6 793.4h5.2v2h-5.2zM339.8 794.9h5.1v2h-5.1zM360.3 794.1h5.1v2.1h-5.1zM365.4 793.9h5.1v2.3h-5.1zM370.6 793.5h5.1v2.1h-5.1zM375.7 794.1h5.1v1.8h-5.1zM380.8 793.7h5.1v1.8h-5.1zM386 794.8h5.1v2.2h-5.1zM396.2 794.2h5.1v1.7h-5.1zM406.5 794.4h5.1v1.8h-5.1zM411.6 793.5h5.1v2.2h-5.1zM416.7 794.4h5.1v2.6h-5.1zM421.9 794.3h5.1v2h-5.1zM456.9 793.4h4.9v2.4h-4.9zM461.8 793.7h4.9v1.9h-4.9zM466.7 794h4.9v1.9h-4.9zM476.5 793.4h4.9v2.2h-4.9zM481.4 793.3h4.9v2.2h-4.9zM486.3 794.7h4.9v1.8h-4.9zM496.1 793.5h4.9v2.2h-4.9zM507.5 794.2h4.5v1.9h-4.5zM512 794.4h4.5v1.8h-4.5zM516.5 794.1h4.5v2h-4.5zM528.8 793.4h5.7v1.9h-5.7zM549.8 794h5.3v2.3h-5.3zM555.1 794.4h5.3v2h-5.3zM560.5 794.1h5.3v1.9h-5.3zM569.6 794.2h4.9v1.7h-4.9zM574.5 793.3h4.9v2.2h-4.9zM589.5 793.7h5.2v2.1h-5.2zM605.1 794h5.2v1.9h-5.2zM615.5 793.3h4.7v2.1h-4.7zM620.2 793.7h4.7v2.1h-4.7zM624.8 794.9h4.7v2h-4.7zM629.5 794.3h5.5v2.1h-5.5zM635 794.2h5.4v2.2h-5.4z" fill="#b9d7b9" stroke="none" mask="url(#mD)"/>
<path d="M197.7 795.2h4.9v1.7h-4.9zM222.1 795.2h4.9v1.9h-4.9zM245.7 795.3h5.4v1.9h-5.4zM314 796.5h5.2v2h-5.2zM319.2 795.5h5.2v2.5h-5.2zM324.3 796.2h5.2v2h-5.2zM329.5 795.5h5.2v2.1h-5.2zM334.6 795.3h5.2v2h-5.2zM370.6 795.5h5.1v2.1h-5.1zM375.7 795.8h5.1v1.8h-5.1zM380.8 795.5h5.1v1.8h-5.1zM396.2 795.9h5.1v1.7h-5.1zM401.4 795h5.1v2.2h-5.1zM406.5 796.1h5.1v1.8h-5.1zM411.6 795.6h5.1v2.2h-5.1zM421.9 796.2h5.1v2h-5.1zM461.8 795.5h4.9v1.9h-4.9zM466.7 795.9h4.9v1.9h-4.9zM471.6 795.2h4.9v2.2h-4.9zM476.5 795.6h4.9v2.2h-4.9zM481.4 795.5h4.9v2.2h-4.9zM486.3 796.4h4.9v1.8h-4.9zM491.2 795.2h4.9v2.4h-4.9zM496.1 795.6h4.9v2.2h-4.9zM521.1 795h4.5v1.9h-4.5zM528.8 795.3h5.7v1.9h-5.7zM560.5 796h5.3v1.9h-5.3zM569.6 795.9h4.9v1.7h-4.9zM574.5 795.4h4.9v2.2h-4.9zM579.4 794.9h4.9v2.4h-4.9zM615.5 795.4h4.7v2.1h-4.7zM620.2 795.8h4.7v2.1h-4.7z" fill="#c0d4c0" stroke="none" mask="url(#mD)"/>
<path d="M207.5 801.4h4.9v2h-4.9zM212.4 801.2h4.9v1.6h-4.9zM427 800.5h5v1.8h-5zM432 800.8h5v2h-5zM442 801.2h5v2.1h-5zM447 801.3h5v2.2h-5zM605.1 801.5h5.2v1.9h-5.2z" fill="#d1c6c6" stroke="none" mask="url(#mD)"/>
<path d="M154.6 802.7h4.4v2.2h-4.4zM192.8 802.1h4.9v1.9h-4.9zM197.7 801.9h4.9v1.7h-4.9zM202.6 802h4.9v2.1h-4.9zM207.5 803.3h4.9v2h-4.9zM212.4 802.7h4.9v1.6h-4.9zM217.2 802.3h4.9v2.4h-4.9zM222.1 802.7h4.9v1.9h-4.9zM231.9 802.8h4.9v2.6h-4.9zM245.7 803h5.4v1.9h-5.4zM256.4 802.2h5.4v2h-5.4zM261.8 802.4h5.4v2.2h-5.4zM267.1 802h5.4v1.9h-5.4zM339.8 803h5.1v2h-5.1zM350.1 802.9h5.1v2.5h-5.1zM355.2 803h5.1v2.5h-5.1zM360.3 802.6h5.1v2.1h-5.1zM375.7 803.1h5.1v1.8h-5.1zM380.8 802.9h5.1v1.8h-5.1zM396.2 802.6h5.1v1.7h-5.1zM406.5 803.2h5.1v1.8h-5.1zM427 802.3h5v1.8h-5zM432 802.7h5v2h-5zM437 801.5h5v2.5h-5zM442 803.2h5v2.1h-5zM452 802.9h4.9v2.5h-4.9zM461.8 803.3h4.9v1.9h-4.9zM507.5 802.1h4.5v1.9h-4.5zM512 801.8h4.5v1.8h-4.5zM516.5 802.3h4.5v2h-4.5zM521.1 802.7h4.5v1.9h-4.5zM528.8 802.9h5.7v1.9h-5.7zM549.8 803.2h5.3v2.3h-5.3zM555.1 802.4h5.3v2h-5.3zM569.6 802.9h4.9v1.7h-4.9zM584.3 802.9h5.2v2.5h-5.2zM589.5 802.2h5.2v2.1h-5.2zM594.7 802.5h5.2v2.4h-5.2zM599.9 801.9h5.2v2.3h-5.2zM605.1 803.3h5.2v1.9h-5.2zM610.3 802h5.2v2.4h-5.2zM624.8 803h4.7v2h-4.7zM629.5 802.8h5.5v2.1h-5.5zM653.8 802.8h7v2.4h-7zM663.3 801.6h6v2.1h-6z" fill="#d6c0c0" stroke="none" mask="url(#mD)"/>
<path d="M154.6 804.9h4.4v2.2h-4.4zM192.8 803.9h4.9v1.9h-4.9zM197.7 803.5h4.9v1.7h-4.9zM202.6 804.1h4.9v2.1h-4.9zM217.2 804.7h4.9v2.4h-4.9zM222.1 804.5h4.9v1.9h-4.9zM227 803.6h4.9v2.4h-4.9zM245.7 804.8h5.4v1.9h-5.4zM251.1 803.4h5.4v2.1h-5.4zM256.4 804.2h5.4v2h-5.4zM261.8 804.6h5.4v2.2h-5.4zM267.1 803.9h5.4v1.9h-5.4zM314 804.7h5.2v2h-5.2zM324.3 804.4h5.2v2h-5.2zM329.5 804.1h5.2v2.1h-5.2zM334.6 803.5h5.2v2h-5.2zM344.9 803.3h5.1v2.6h-5.1zM360.3 804.6h5.1v2.1h-5.1zM365.4 803.4h5.1v2.3h-5.1zM370.6 803.9h5.1v2.1h-5.1zM375.7 804.9h5.1v1.8h-5.1zM380.8 804.6h5.1v1.8h-5.1zM386 803.6h5.1v2.2h-5.1zM391.1 803.5h5.1v2.6h-5.1zM396.2 804.2h5.1v1.7h-5.1zM401.4 803.8h5.1v2.2h-5.1zM406.5 804.9h5.1v1.8h-5.1zM411.6 804.3h5.1v2.2h-5.1zM421.9 804.1h5.1v2h-5.1zM437 803.9h5v2.5h-5zM447 803.4h5v2.2h-5zM456.9 803.2h4.9v2.4h-4.9zM466.7 803.7h4.9v1.9h-4.9zM471.6 804h4.9v2.2h-4.9zM476.5 804.5h4.9v2.2h-4.9zM481.4 804.5h4.9v2.2h-4.9zM486.3 803.7h4.9v1.8h-4.9zM491.2 804.7h4.9v2.4h-4.9zM496.1 804.4h4.9v2.2h-4.9zM507.5 804h4.5v1.9h-4.5zM512 803.6h4.5v1.8h-4.5zM516.5 804.3h4.5v2h-4.5zM521.1 804.6h4.5v1.9h-4.5zM528.8 804.7h5.7v1.9h-5.7zM555.1 804.3h5.3v2h-5.3zM560.5 803.5h5.3v1.9h-5.3zM569.6 804.6h4.9v1.7h-4.9zM574.5 804.3h4.9v2.2h-4.9zM579.4 804.6h4.9v2.4h-4.9zM589.5 804.2h5.2v2.1h-5.2zM594.7 804.8h5.2v2.4h-5.2zM599.9 804.1h5.2v2.3h-5.2zM610.3 804.4h5.2v2.4h-5.2zM615.5 803.9h4.7v2.1h-4.7zM620.2 804.4h4.7v2.1h-4.7zM624.8 805h4.7v2h-4.7zM629.5 804.9h5.5v2.1h-5.5zM635 803.3h5.4v2.2h-5.4zM663.3 803.7h6v2.1h-6z" fill="#d9b8b8" stroke="none" mask="url(#mD)"/>
<path d="M147.6 803.8h7v4.7h-7zM227 805.9h4.9v2.4h-4.9zM231.9 805.3h4.9v2.6h-4.9zM251.1 805.5h5.4v2.1h-5.4zM314 806.6h5.2v2h-5.2zM319.2 805.5h5.2v2.5h-5.2zM324.3 806.4h5.2v2h-5.2zM329.5 806.2h5.2v2.1h-5.2zM334.6 805.5h5.2v2h-5.2zM339.8 805h5.1v2h-5.1zM344.9 805.8h5.1v2.6h-5.1zM350.1 805.3h5.1v2.5h-5.1zM355.2 805.5h5.1v2.5h-5.1zM365.4 805.7h5.1v2.3h-5.1zM370.6 806h5.1v2.1h-5.1zM386 805.8h5.1v2.2h-5.1zM391.1 806.1h5.1v2.6h-5.1zM401.4 805.9h5.1v2.2h-5.1zM411.6 806.4h5.1v2.2h-5.1zM416.7 805h5.1v2.6h-5.1zM421.9 806h5.1v2h-5.1zM452 805.4h4.9v2.5h-4.9zM456.9 805.6h4.9v2.4h-4.9zM461.8 805.2h4.9v1.9h-4.9zM466.7 805.6h4.9v1.9h-4.9zM471.6 806.1h4.9v2.2h-4.9zM486.3 805.5h4.9v1.8h-4.9zM496.1 806.6h4.9v2.2h-4.9zM549.8 805.4h5.3v2.3h-5.3zM560.5 805.3h5.3v1.9h-5.3zM574.5 806.4h4.9v2.2h-4.9zM584.3 805.3h5.2v2.5h-5.2zM615.5 806h4.7v2.1h-4.7zM620.2 806.4h4.7v2.1h-4.7zM635 805.5h5.4v2.2h-5.4zM653.8 805.2h7v2.4h-7z" fill="#dbb0b0" stroke="none" mask="url(#mD)"/>
<path d="M282 845.8h5.1v4h-5.1zM287.1 845h5.1v3.7h-5.1zM297.4 844.6h5.1v3.4h-5.1z" fill="#dc1616" stroke="none" mask="url(#mD)"/>
<path d="M292.2 844.2h5.1v3.3h-5.1z" fill="#dc1818" stroke="none" mask="url(#mD)"/>
<path d="M282 841.9h5.1v4h-5.1zM287.1 841.4h5.1v3.7h-5.1zM297.4 841.2h5.1v3.4h-5.1zM302.5 843.1h5.1v2.9h-5.1zM307.6 841.2h6.4v4.1h-6.4z" fill="#dd1b1b" stroke="none" mask="url(#mD)"/>
<path d="M292.2 840.9h5.1v3.3h-5.1zM302.5 840.2h5.1v2.9h-5.1z" fill="#de1e1e" stroke="none" mask="url(#mD)"/>
<path d="M319.2 807.9h5.2v2.5h-5.2zM416.7 807.6h5.1v2.6h-5.1zM476.5 806.6h4.9v2.2h-4.9zM481.4 806.7h4.9v2.2h-4.9zM491.2 807h4.9v2.4h-4.9zM579.4 806.9h4.9v2.4h-4.9z" fill="#dea8a8" stroke="none" mask="url(#mD)"/>
<path d="M307.6 837.1h6.4v4.1h-6.4z" fill="#df2525" stroke="none" mask="url(#mD)"/>
<path d="M147.6 808.4h7v4.7h-7z" fill="#dfa0a0" stroke="none" mask="url(#mD)"/>
<path d="M147.6 832.3h7v4.7h-7zM640.4 833.4h5.1v3.4h-5.1z" fill="#e02c2c" stroke="none" mask="url(#mD)"/>
<path d="M640.4 830.1h5.1v3.4h-5.1z" fill="#e13c3c" stroke="none" mask="url(#mD)"/>
<path d="M147.6 827.7h7v4.7h-7zM302.5 828.5h5.1v2.9h-5.1z" fill="#e24444" stroke="none" mask="url(#mD)"/>
<path d="M287.1 826.5h5.1v3.7h-5.1zM292.2 827.4h5.1v3.3h-5.1zM297.4 827.3h5.1v3.4h-5.1z" fill="#e34c4c" stroke="none" mask="url(#mD)"/>
<path d="M282 825.5h5.1v4h-5.1zM302.5 825.6h5.1v2.9h-5.1z" fill="#e35454" stroke="none" mask="url(#mD)"/>
<path d="M640.4 812.9h5.1v3.4h-5.1z" fill="#e38a8a" stroke="none" mask="url(#mD)"/>
<path d="M287.1 822.9h5.1v3.7h-5.1zM292.2 824.2h5.1v3.3h-5.1zM297.4 823.9h5.1v3.4h-5.1z" fill="#e45c5c" stroke="none" mask="url(#mD)"/>
<path d="M282 821.6h5.1v4h-5.1z" fill="#e46464" stroke="none" mask="url(#mD)"/>
<path d="M307.6 820.2h6.4v4.1h-6.4z" fill="#e46b6b" stroke="none" mask="url(#mD)"/>
<path d="M307.6 816.1h6.4v4.1h-6.4zM640.4 816.2h5.1v3.4h-5.1z" fill="#e47a7a" stroke="none" mask="url(#mD)"/>
<path d="M501 765.7h6.5v3.1h-6.5z" fill="#3ee33e" stroke="none" fill-opacity="0.92"/>
<path d="M501 768.7h6.5v3.1h-6.5z" fill="#4be34b" stroke="none" fill-opacity="0.92"/>
<path d="M501 771.8h6.5v3.1h-6.5z" fill="#58e458" stroke="none" fill-opacity="0.92"/>
<path d="M501 774.8h6.5v3.1h-6.5z" fill="#68e468" stroke="none" fill-opacity="0.92"/>
<path d="M179.1 779.3h4.6v2.2h-4.6zM183.6 779.5h4.6v2.1h-4.6zM188.2 778.1h4.6v2.7h-4.6z" fill="#79e379" stroke="none" fill-opacity="0.92"/>
<path d="M159 780h4.8v2.1h-4.8zM163.8 780.2h4.8v2.1h-4.8zM169.9 780.3h4.6v1.7h-4.6zM174.5 780.3h4.6v2h-4.6zM179.1 781.4h4.6v2.2h-4.6zM188.2 780.8h4.6v2.7h-4.6zM236.8 780.8h4.4v1.8h-4.4zM241.2 780.2h4.4v2.3h-4.4zM534.5 780.9h5.8v1.8h-5.8zM540.2 780.1h5.8v1.9h-5.8zM645.5 780.6h6.3v2.2h-6.3z" fill="#81e281" stroke="none" fill-opacity="0.92"/>
<path d="M159 782.1h4.8v2.1h-4.8zM163.8 782.3h4.8v2.1h-4.8zM169.9 782h4.6v1.7h-4.6zM174.5 782.3h4.6v2h-4.6zM183.6 781.6h4.6v2.1h-4.6zM236.8 782.5h4.4v1.8h-4.4zM241.2 782.4h4.4v2.3h-4.4zM272.5 781.7h4.6v2.4h-4.6zM277.1 782.7h4.6v1.8h-4.6zM534.5 782.7h5.8v1.8h-5.8zM540.2 782h5.8v1.9h-5.8zM645.5 782.7h6.3v2.2h-6.3z" fill="#8ae28a" stroke="none" fill-opacity="0.92"/>
<path d="M159 784.2h4.8v2.1h-4.8zM163.8 784.4h4.8v2.1h-4.8zM169.9 783.7h4.6v1.7h-4.6zM174.5 784.2h4.6v2h-4.6zM179.1 783.5h4.6v2.2h-4.6zM183.6 783.7h4.6v2.1h-4.6zM188.2 783.4h4.6v2.7h-4.6zM236.8 784.2h4.4v1.8h-4.4zM272.5 784h4.6v2.4h-4.6zM277.1 784.5h4.6v1.8h-4.6zM534.5 784.5h5.8v1.8h-5.8zM540.2 783.8h5.8v1.9h-5.8z" fill="#90e190" stroke="none" fill-opacity="0.92"/>
<path d="M159 786.3h4.8v2.1h-4.8zM163.8 786.4h4.8v2.1h-4.8zM169.9 785.3h4.6v1.7h-4.6zM174.5 786.2h4.6v2h-4.6zM179.1 785.6h4.6v2.2h-4.6zM183.6 785.7h4.6v2.1h-4.6zM188.2 786.1h4.6v2.7h-4.6zM236.8 786h4.4v1.8h-4.4zM241.2 784.7h4.4v2.3h-4.4zM277.1 786.3h4.6v1.8h-4.6zM534.5 786.3h5.8v1.8h-5.8zM540.2 785.7h5.8v1.9h-5.8zM645.5 784.8h6.3v2.2h-6.3z" fill="#97e097" stroke="none" fill-opacity="0.92"/>
<path d="M241.2 787h4.4v2.3h-4.4zM272.5 786.4h4.6v2.4h-4.6zM277.1 788h4.6v1.8h-4.6zM645.5 787h6.3v2.2h-6.3z" fill="#9de09d" stroke="none" fill-opacity="0.92"/>
<path d="M272.5 788.8h4.6v2.4h-4.6z" fill="#a4dfa4" stroke="none" fill-opacity="0.92"/>
<path d="M217.2 794.9h4.9v1.9h-4.9zM231.9 794.8h4.9v2h-4.9zM427 794.9h5v1.5h-5zM432 794.6h5v1.6h-5zM437 793.8h5v2h-5zM442 794.8h5v1.7h-5zM447 794.6h5v1.7h-5zM599.9 794.8h5.2v1.8h-5.2zM610.3 794.6h5.2v1.9h-5.2zM663.3 795h6v1.7h-6z" fill="#b9d7b9" stroke="none" fill-opacity="0.92"/>
<path d="M154.6 795.8h4.4v1.8h-4.4zM192.8 796.3h4.9v1.5h-4.9zM197.7 796.8h4.9v1.3h-4.9zM202.6 795.6h4.9v1.6h-4.9zM207.5 795.3h4.9v1.6h-4.9zM207.5 796.8h4.9v1.6h-4.9zM212.4 796.4h4.9v1.2h-4.9zM227 796.2h4.9v1.9h-4.9zM256.4 796h5.4v1.6h-5.4zM261.8 795.7h5.4v1.7h-5.4zM267.1 796.1h5.4v1.5h-5.4zM344.9 795.5h5.1v2h-5.1zM350.1 795.3h5.1v1.9h-5.1zM355.2 795.3h5.1v2h-5.1zM360.3 796.1h5.1v1.7h-5.1zM365.4 796.2h5.1v1.9h-5.1zM391.1 795.4h5.1v2.1h-5.1zM427 796.3h5v1.5h-5zM432 796.1h5v1.6h-5zM437 795.8h5v2h-5zM442 796.4h5v1.7h-5zM447 796.3h5v1.7h-5zM452 795.3h4.9v2h-4.9zM456.9 795.8h4.9v1.9h-4.9zM507.5 796.1h4.5v1.5h-4.5zM512 796.2h4.5v1.5h-4.5zM516.5 796.1h4.5v1.6h-4.5zM549.8 796.2h5.3v1.8h-5.3zM555.1 796.4h5.3v1.6h-5.3zM584.3 795.3h5.2v1.9h-5.2zM589.5 795.7h5.2v1.7h-5.2zM594.7 795.2h5.2v1.9h-5.2zM599.9 796.6h5.2v1.8h-5.2zM605.1 795.8h5.2v1.5h-5.2zM610.3 796.5h5.2v1.9h-5.2zM629.5 796.3h5.5v1.7h-5.5zM635 796.4h5.4v1.8h-5.4zM653.8 795.4h7v1.9h-7zM663.3 796.7h6v1.7h-6z" fill="#c0d4c0" stroke="none" fill-opacity="0.92"/>
<path d="M154.6 797.6h4.4v1.8h-4.4zM192.8 797.8h4.9v1.5h-4.9zM197.7 798.1h4.9v1.3h-4.9zM202.6 797.2h4.9v1.6h-4.9zM207.5 798.3h4.9v1.6h-4.9zM212.4 797.6h4.9v1.2h-4.9zM217.2 796.8h4.9v1.9h-4.9zM222.1 797h4.9v1.5h-4.9zM222.1 798.4h4.9v1.5h-4.9zM227 798h4.9v1.9h-4.9zM231.9 796.8h4.9v2h-4.9zM245.7 797.2h5.4v1.5h-5.4zM251.1 796.8h5.4v1.7h-5.4zM256.4 797.5h5.4v1.6h-5.4zM261.8 797.4h5.4v1.7h-5.4zM267.1 797.6h5.4v1.5h-5.4zM319.2 797.9h5.2v2h-5.2zM324.3 798.2h5.2v1.6h-5.2zM329.5 797.6h5.2v1.7h-5.2zM334.6 797.3h5.2v1.6h-5.2zM339.8 796.8h5.1v1.6h-5.1zM339.8 798.4h5.1v1.6h-5.1zM344.9 797.4h5.1v2h-5.1zM350.1 797.2h5.1v1.9h-5.1zM355.2 797.2h5.1v2h-5.1zM360.3 797.7h5.1v1.7h-5.1zM365.4 798h5.1v1.9h-5.1zM370.6 797.6h5.1v1.6h-5.1zM375.7 797.6h5.1v1.4h-5.1zM380.8 797.3h5.1v1.4h-5.1zM386 796.9h5.1v1.7h-5.1zM391.1 797.4h5.1v2.1h-5.1zM396.2 797.5h5.1v1.3h-5.1zM401.4 797.1h5.1v1.7h-5.1zM406.5 797.8h5.1v1.4h-5.1zM411.6 797.7h5.1v1.7h-5.1zM416.7 796.9h5.1v2.1h-5.1zM421.9 798.1h5.1v1.5h-5.1zM427 797.7h5v1.5h-5zM432 797.7h5v1.6h-5zM437 797.7h5v2h-5zM442 798h5v1.7h-5zM447 798h5v1.7h-5zM452 797.2h4.9v2h-4.9zM456.9 797.6h4.9v1.9h-4.9zM461.8 797.4h4.9v1.5h-4.9zM466.7 797.8h4.9v1.5h-4.9zM471.6 797.3h4.9v1.7h-4.9zM476.5 797.7h4.9v1.7h-4.9zM481.4 797.7h4.9v1.8h-4.9zM486.3 798.2h4.9v1.4h-4.9zM491.2 797.5h4.9v1.9h-4.9zM496.1 797.8h4.9v1.7h-4.9zM507.5 797.6h4.5v1.5h-4.5zM512 797.6h4.5v1.5h-4.5zM516.5 797.7h4.5v1.6h-4.5zM521.1 796.9h4.5v1.5h-4.5zM521.1 798.3h4.5v1.5h-4.5zM528.8 797.1h5.7v1.5h-5.7zM549.8 797.9h5.3v1.8h-5.3zM555.1 797.9h5.3v1.6h-5.3zM560.5 797.8h5.3v1.5h-5.3zM569.6 797.6h4.9v1.4h-4.9zM574.5 797.5h4.9v1.7h-4.9zM579.4 797.3h4.9v1.9h-4.9zM584.3 797.2h5.2v1.9h-5.2zM589.5 797.3h5.2v1.7h-5.2zM594.7 797h5.2v1.9h-5.2zM599.9 798.3h5.2v1.8h-5.2zM605.1 797.2h5.2v1.5h-5.2zM615.5 797.4h4.7v1.7h-4.7zM620.2 797.8h4.7v1.7h-4.7zM624.8 796.8h4.7v1.6h-4.7zM624.8 798.4h4.7v1.6h-4.7zM629.5 798h5.5v1.7h-5.5zM635 798.1h5.4v1.8h-5.4zM653.8 797.2h7v1.9h-7zM663.3 798.3h6v1.7h-6z" fill="#c6d0c6" stroke="none" fill-opacity="0.92"/>
<path d="M154.6 799.3h4.4v1.8h-4.4zM192.8 799.2h4.9v1.5h-4.9zM197.7 799.4h4.9v1.3h-4.9zM202.6 798.8h4.9v1.6h-4.9zM207.5 799.9h4.9v1.6h-4.9zM212.4 798.8h4.9v1.2h-4.9zM212.4 800h4.9v1.2h-4.9zM217.2 798.6h4.9v1.9h-4.9zM222.1 799.8h4.9v1.5h-4.9zM227 799.9h4.9v1.9h-4.9zM231.9 798.8h4.9v2h-4.9zM245.7 798.6h5.4v1.5h-5.4zM245.7 800.1h5.4v1.5h-5.4zM251.1 798.5h5.4v1.7h-5.4zM256.4 799.1h5.4v1.6h-5.4zM261.8 799.1h5.4v1.7h-5.4zM267.1 799.1h5.4v1.5h-5.4zM314 798.5h5.2v1.6h-5.2zM314 800h5.2v1.6h-5.2zM319.2 799.8h5.2v2h-5.2zM324.3 799.8h5.2v1.6h-5.2zM329.5 799.2h5.2v1.7h-5.2zM334.6 798.8h5.2v1.6h-5.2zM339.8 799.9h5.1v1.6h-5.1zM344.9 799.4h5.1v2h-5.1zM350.1 799.1h5.1v1.9h-5.1zM355.2 799.2h5.1v2h-5.1zM360.3 799.3h5.1v1.7h-5.1zM365.4 799.8h5.1v1.9h-5.1zM370.6 799.2h5.1v1.6h-5.1zM375.7 799h5.1v1.4h-5.1zM380.8 798.7h5.1v1.4h-5.1zM380.8 800.1h5.1v1.4h-5.1zM386 798.6h5.1v1.7h-5.1zM391.1 799.5h5.1v2.1h-5.1zM396.2 798.8h5.1v1.3h-5.1zM396.2 800h5.1v1.3h-5.1zM401.4 798.8h5.1v1.7h-5.1zM406.5 799.2h5.1v1.4h-5.1zM411.6 799.3h5.1v1.7h-5.1zM416.7 799h5.1v2.1h-5.1zM421.9 799.6h5.1v1.5h-5.1zM427 799.1h5v1.5h-5zM432 799.2h5v1.6h-5zM437 799.6h5v2h-5zM442 799.6h5v1.7h-5zM447 799.6h5v1.7h-5zM452 799.1h4.9v2h-4.9zM456.9 799.5h4.9v1.9h-4.9zM461.8 798.9h4.9v1.5h-4.9zM466.7 799.3h4.9v1.5h-4.9zM471.6 799h4.9v1.7h-4.9zM476.5 799.4h4.9v1.7h-4.9zM481.4 799.4h4.9v1.8h-4.9zM486.3 799.6h4.9v1.4h-4.9zM491.2 799.3h4.9v1.9h-4.9zM496.1 799.4h4.9v1.7h-4.9zM507.5 799.1h4.5v1.5h-4.5zM512 799h4.5v1.5h-4.5zM516.5 799.2h4.5v1.6h-4.5zM521.1 799.8h4.5v1.5h-4.5zM528.8 798.6h5.7v1.5h-5.7zM528.8 800h5.7v1.5h-5.7zM549.8 799.7h5.3v1.8h-5.3zM555.1 799.4h5.3v1.6h-5.3zM560.5 799.2h5.3v1.5h-5.3zM569.6 798.9h4.9v1.4h-4.9zM569.6 800.2h4.9v1.4h-4.9zM574.5 799.2h4.9v1.7h-4.9zM579.4 799.1h4.9v1.9h-4.9zM584.3 799.1h5.2v1.9h-5.2zM589.5 798.9h5.2v1.7h-5.2zM594.7 798.8h5.2v1.9h-5.2zM605.1 798.6h5.2v1.5h-5.2zM605.1 800h5.2v1.5h-5.2zM610.3 798.3h5.2v1.9h-5.2zM615.5 799.1h4.7v1.7h-4.7zM620.2 799.5h4.7v1.7h-4.7zM624.8 799.9h4.7v1.6h-4.7zM629.5 799.6h5.5v1.7h-5.5zM635 799.8h5.4v1.8h-5.4zM653.8 799.1h7v1.9h-7zM663.3 800h6v1.7h-6z" fill="#cccccc" stroke="none" fill-opacity="0.92"/>
<path d="M154.6 801h4.4v1.8h-4.4zM192.8 800.6h4.9v1.5h-4.9zM197.7 800.6h4.9v1.3h-4.9zM202.6 800.4h4.9v1.6h-4.9zM217.2 800.5h4.9v1.9h-4.9zM222.1 801.2h4.9v1.5h-4.9zM231.9 800.8h4.9v2h-4.9zM245.7 801.5h5.4v1.5h-5.4zM251.1 800.1h5.4v1.7h-5.4zM251.1 801.8h5.4v1.7h-5.4zM256.4 800.6h5.4v1.6h-5.4zM261.8 800.8h5.4v1.7h-5.4zM267.1 800.6h5.4v1.5h-5.4zM314 801.6h5.2v1.6h-5.2zM324.3 801.3h5.2v1.6h-5.2zM329.5 800.9h5.2v1.7h-5.2zM334.6 800.4h5.2v1.6h-5.2zM339.8 801.5h5.1v1.6h-5.1zM344.9 801.4h5.1v2h-5.1zM350.1 801h5.1v1.9h-5.1zM355.2 801.1h5.1v2h-5.1zM360.3 800.9h5.1v1.7h-5.1zM365.4 801.6h5.1v1.9h-5.1zM370.6 800.8h5.1v1.6h-5.1zM375.7 800.4h5.1v1.4h-5.1zM375.7 801.7h5.1v1.4h-5.1zM380.8 801.5h5.1v1.4h-5.1zM386 800.3h5.1v1.7h-5.1zM391.1 801.5h5.1v2.1h-5.1zM396.2 801.3h5.1v1.3h-5.1zM401.4 800.4h5.1v1.7h-5.1zM406.5 800.5h5.1v1.4h-5.1zM406.5 801.9h5.1v1.4h-5.1zM411.6 801h5.1v1.7h-5.1zM416.7 801h5.1v2.1h-5.1zM421.9 801.1h5.1v1.5h-5.1zM452 801h4.9v2h-4.9zM456.9 801.4h4.9v1.9h-4.9zM461.8 800.4h4.9v1.5h-4.9zM461.8 801.8h4.9v1.5h-4.9zM466.7 800.8h4.9v1.5h-4.9zM471.6 800.7h4.9v1.7h-4.9zM476.5 801.1h4.9v1.7h-4.9zM481.4 801.1h4.9v1.8h-4.9zM486.3 800.9h4.9v1.4h-4.9zM491.2 801.1h4.9v1.9h-4.9zM496.1 801.1h4.9v1.7h-4.9zM507.5 800.6h4.5v1.5h-4.5zM512 800.4h4.5v1.5h-4.5zM516.5 800.8h4.5v1.6h-4.5zM521.1 801.3h4.5v1.5h-4.5zM528.8 801.5h5.7v1.5h-5.7zM549.8 801.4h5.3v1.8h-5.3zM555.1 800.9h5.3v1.6h-5.3zM560.5 800.6h5.3v1.5h-5.3zM569.6 801.6h4.9v1.4h-4.9zM574.5 800.9h4.9v1.7h-4.9zM579.4 800.9h4.9v1.9h-4.9zM584.3 801h5.2v1.9h-5.2zM589.5 800.6h5.2v1.7h-5.2zM594.7 800.7h5.2v1.9h-5.2zM599.9 800.1h5.2v1.8h-5.2zM610.3 800.2h5.2v1.9h-5.2zM615.5 800.7h4.7v1.7h-4.7zM620.2 801.1h4.7v1.7h-4.7zM624.8 801.5h4.7v1.6h-4.7zM629.5 801.2h5.5v1.7h-5.5zM635 801.6h5.4v1.8h-5.4zM653.8 801h7v1.9h-7z" fill="#d1c6c6" stroke="none" fill-opacity="0.92"/>
<path d="M227 801.7h4.9v1.9h-4.9zM314 803.1h5.2v1.6h-5.2zM319.2 801.7h5.2v2h-5.2zM324.3 802.9h5.2v1.6h-5.2zM329.5 802.5h5.2v1.7h-5.2zM334.6 801.9h5.2v1.6h-5.2zM370.6 802.4h5.1v1.6h-5.1zM386 802h5.1v1.7h-5.1zM401.4 802.1h5.1v1.7h-5.1zM411.6 802.7h5.1v1.7h-5.1zM416.7 803h5.1v2.1h-5.1zM421.9 802.6h5.1v1.5h-5.1zM466.7 802.2h4.9v1.5h-4.9zM471.6 802.3h4.9v1.7h-4.9zM476.5 802.8h4.9v1.7h-4.9zM481.4 802.8h4.9v1.8h-4.9zM486.3 802.3h4.9v1.4h-4.9zM491.2 802.9h4.9v1.9h-4.9zM496.1 802.8h4.9v1.7h-4.9zM560.5 802.1h5.3v1.5h-5.3zM574.5 802.6h4.9v1.7h-4.9zM579.4 802.7h4.9v1.9h-4.9zM615.5 802.3h4.7v1.7h-4.7zM620.2 802.7h4.7v1.7h-4.7z" fill="#d6c0c0" stroke="none" fill-opacity="0.92"/>
<path d="M319.2 803.6h5.2v2h-5.2z" fill="#d9b8b8" stroke="none" fill-opacity="0.92"/>
<path d="M282 838.8h5.1v3.2h-5.1zM287.1 838.6h5.1v2.9h-5.1zM292.2 838.4h5.1v2.6h-5.1zM297.4 838.6h5.1v2.7h-5.1z" fill="#de2222" stroke="none" fill-opacity="0.92"/>
<path d="M302.5 838h5.1v2.3h-5.1z" fill="#df2525" stroke="none" fill-opacity="0.92"/>
<path d="M282 835.7h5.1v3.2h-5.1zM287.1 835.8h5.1v2.9h-5.1zM292.2 835.8h5.1v2.6h-5.1zM297.4 835.9h5.1v2.7h-5.1zM302.5 835.8h5.1v2.3h-5.1z" fill="#df2929" stroke="none" fill-opacity="0.92"/>
<path d="M292.2 833.3h5.1v2.6h-5.1zM297.4 833.3h5.1v2.7h-5.1zM302.5 833.5h5.1v2.3h-5.1zM307.6 833.9h6.4v3.3h-6.4z" fill="#e02c2c" stroke="none" fill-opacity="0.92"/>
<path d="M282 832.6h5.1v3.2h-5.1zM287.1 832.9h5.1v2.9h-5.1z" fill="#e13434" stroke="none" fill-opacity="0.92"/>
<path d="M287.1 830.1h5.1v2.9h-5.1zM292.2 830.7h5.1v2.6h-5.1zM297.4 830.6h5.1v2.7h-5.1zM302.5 831.3h5.1v2.3h-5.1zM307.6 830.7h6.4v3.3h-6.4z" fill="#e13c3c" stroke="none" fill-opacity="0.92"/>
<path d="M282 829.5h5.1v3.2h-5.1z" fill="#e24444" stroke="none" fill-opacity="0.92"/>
<path d="M307.6 827.5h6.4v3.3h-6.4zM640.4 827.4h5.1v2.7h-5.1z" fill="#e34c4c" stroke="none" fill-opacity="0.92"/>
<path d="M640.4 824.8h5.1v2.7h-5.1z" fill="#e35454" stroke="none" fill-opacity="0.92"/>
<path d="M147.6 813.1h7v3.7h-7z" fill="#e38a8a" stroke="none" fill-opacity="0.92"/>
<path d="M147.6 824h7v3.7h-7zM307.6 824.3h6.4v3.3h-6.4z" fill="#e45c5c" stroke="none" fill-opacity="0.92"/>
<path d="M640.4 822.2h5.1v2.7h-5.1z" fill="#e46464" stroke="none" fill-opacity="0.92"/>
<path d="M147.6 820.4h7v3.7h-7z" fill="#e46b6b" stroke="none" fill-opacity="0.92"/>
<path d="M640.4 819.6h5.1v2.7h-5.1z" fill="#e47373" stroke="none" fill-opacity="0.92"/>
<path d="M147.6 816.7h7v3.7h-7z" fill="#e47a7a" stroke="none" fill-opacity="0.92"/>
<path d="M156.5 801h1.4M156.1 800.9h1.4M156.8 800h1.4M206.4 801.2h1.4M232.2 800.2h1.4M233 800.2h1.4M224.2 799.1h1.4M201 799.9h1.4M196 801.2h1.4M227.4 799.1h1.4M202.5 799.1h1.4M194.2 800h1.4M234.6 800.3h1.4M232.5 799.7h1.4M208.5 800.4h1.4M195.8 800.3h1.4M233.8 799.6h1.4M230.7 799.9h1.4M215.2 799.9h1.4M219.6 799.4h1.4M232.3 801.1h1.4M203.3 799.9h1.4M206.1 799.7h1.4M193.7 799.6h1.4M198.5 801h1.4M228.4 801.1h1.4M206.1 800.3h1.4M218.5 801.2h1.4M211.3 800.3h1.4M215.4 799.8h1.4M225.3 800.6h1.4M227.9 799.1h1.4M223.3 799.2h1.4M246.3 799.2h1.4M259.7 799h1.4M254.9 800.2h1.4M254.1 799h1.4M253.6 800.4h1.4M251.5 798.9h1.4M250.4 800.8h1.4M257.9 799.1h1.4M267 799.8h1.4M254.3 799.6h1.4M256.2 799.7h1.4M251.5 799.1h1.4M268.7 801.1h1.4M256.9 800.2h1.4M261.5 799.9h1.4M269.3 800.5h1.4M263.2 801.3h1.4M328.8 798.9h1.4M335.5 801.2h1.4M327.4 798.9h1.4M318.1 801.1h1.4M321.9 800.5h1.4M319.2 799h1.4M316.2 799.4h1.4M315.2 800.8h1.4M328.2 801.4h1.4M327.8 799.4h1.4M327.1 800.9h1.4M344.8 800.6h1.4M386 799.1h1.4M340.7 799.3h1.4M418.2 799.9h1.4M373.4 799.7h1.4M364.3 800.4h1.4M343.8 799.1h1.4M398.9 800.9h1.4M339.4 799.1h1.4M410.4 800.5h1.4M352.6 800.9h1.4M349.8 800.3h1.4M351.7 801.2h1.4M345.5 801.3h1.4M414.6 799.7h1.4M392.2 801h1.4M378.1 799h1.4M392.8 799.2h1.4M358 799.6h1.4M349.5 801.2h1.4M411.4 800.6h1.4M372.8 800.9h1.4M374.7 799.5h1.4M363.4 800.6h1.4M369.1 801.2h1.4M388.6 800.4h1.4M407.4 799.1h1.4M421.4 801h1.4M373.7 800.4h1.4M374 801.2h1.4M391.3 800.8h1.4M426 800.7h1.4M376.8 801h1.4M418.7 799.6h1.4M368 800.7h1.4M382.5 800.2h1.4M399.8 799.1h1.4M398.4 800.4h1.4M410.7 799.6h1.4M386.8 799.2h1.4M417.4 800.9h1.4M352.5 799.8h1.4M357.5 801.3h1.4M391.9 801.2h1.4M355.9 800.4h1.4M344.6 800.1h1.4M434.5 801.4h1.4M428.9 801.2h1.4M429.5 799.5h1.4M430.5 799.3h1.4M440.8 801.2h1.4M431.3 799.2h1.4M434.2 799.4h1.4M430.1 801h1.4M434.8 799.6h1.4M445.9 798.9h1.4M436 799.4h1.4M441.6 801.3h1.4M442.5 800.2h1.4M438.8 800.2h1.4M434.3 799.3h1.4M440 799.4h1.4M437.2 799.3h1.4M484.5 801h1.4M495.2 799.5h1.4M477.4 799h1.4M495 800.7h1.4M493 800.7h1.4M478.2 800.1h1.4M459 801h1.4M495.1 800.3h1.4M452.1 799.4h1.4M467.8 799.8h1.4M486.9 800.3h1.4M466 799.4h1.4M494.1 799h1.4M459.8 799.5h1.4M464.2 799.2h1.4M459.6 800.4h1.4M462 799.2h1.4M495.9 801.2h1.4M480 800.3h1.4M474.5 801.1h1.4M476.5 799.5h1.4M467 799.6h1.4M499.1 800h1.4M468 799.2h1.4M480.5 799.8h1.4M461.8 801h1.4M477 800.2h1.4M468.1 799.6h1.4M469.9 800.3h1.4M478.1 800.1h1.4M522.4 800.8h1.4M508.3 799.7h1.4M521.1 800.6h1.4M517.1 799.4h1.4M508.3 801.1h1.4M517.3 799.1h1.4M507.7 800.7h1.4M518.5 800.3h1.4M509.6 799.4h1.4M511.8 799.6h1.4M511.3 798.9h1.4M531 800.4h1.4M557.8 800.1h1.4M554.1 801h1.4M552.6 800.6h1.4M556.3 801.3h1.4M562.2 800.1h1.4M557.3 799.3h1.4M552.8 800.4h1.4M550.1 800.6h1.4M564.4 799.2h1.4M551.7 800.1h1.4M555 799.8h1.4M558.4 799.4h1.4M564.3 800.8h1.4M580.2 800.8h1.4M570.9 800.1h1.4M581.9 801h1.4M571.6 799.1h1.4M580.2 800.2h1.4M569.1 801.2h1.4M570.5 800.1h1.4M571.4 799.3h1.4M581.9 799h1.4M604.3 800.9h1.4M605.2 801.2h1.4M607.4 801.3h1.4M612.6 800.5h1.4M597.5 800.1h1.4M613.6 801.2h1.4M596.2 799.3h1.4M589.2 799h1.4M595.3 799.1h1.4M613.3 799.7h1.4M605.4 800.2h1.4M610.4 799.7h1.4M605.8 801.2h1.4M584.9 800h1.4M586.8 800h1.4M595.6 801.2h1.4M621.9 799.7h1.4M621.6 801.2h1.4M623.9 799.1h1.4M624.5 801h1.4M615.2 801.1h1.4M619.6 801.3h1.4M628.1 799.5h1.4M627.9 800.9h1.4M635.4 801.2h1.4M631.7 799h1.4M634 800.2h1.4M637 800.1h1.4M658.6 799h1.4M655 799h1.4M658.7 800.3h1.4M659.1 800.3h1.4M658.9 799.8h1.4M657.6 799.9h1.4M659.5 799.5h1.4M664.1 800.4h1.4M667.1 799.6h1.4" fill="none" stroke="#cccccc" stroke-width="1.4"/>
<path d="M155.2 797.8h1.4M157.9 797.1h1.4M157 797.6h1.4M156.2 796.6h1.4M174.7 798h1.4M225.5 798.1h1.4M210.6 796.7h1.4M219.1 798.7h1.4M196.5 798.4h1.4M217.9 797.5h1.4M222.1 798.5h1.4M219.1 798h1.4M214.8 797.3h1.4M217.1 797.7h1.4M216.8 797.9h1.4M201.5 797.1h1.4M193.7 796.8h1.4M202.3 798.4h1.4M208.3 797.9h1.4M206.5 797.8h1.4M216.9 796.5h1.4M198.5 797.3h1.4M227.5 797.2h1.4M214.5 797.5h1.4M215 798.4h1.4M202 797.5h1.4M212.5 797.3h1.4M192.6 798.3h1.4M219.2 796.8h1.4M231.6 798.3h1.4M211.8 798.2h1.4M237.3 797.3h1.4M251.4 796.6h1.4M269.6 797.3h1.4M250.9 796.9h1.4M263.3 796.7h1.4M265.9 797.8h1.4M259.3 798.8h1.4M258.3 798.4h1.4M263.8 798.5h1.4M255.5 796.4h1.4M257.5 798.1h1.4M255.9 798.1h1.4M253.7 796.5h1.4M260.9 797.4h1.4M251 798.2h1.4M262.1 798.8h1.4M276.5 798.7h1.4M311.2 797.3h1.4M313.8 797.4h1.4M314.2 798.2h1.4M320.3 796.7h1.4M333.7 797.7h1.4M334.9 798.5h1.4M325.1 798.2h1.4M324.1 797.8h1.4M324.1 797.4h1.4M338.7 798.3h1.4M322.6 798.7h1.4M334.3 798.3h1.4M333.4 797.3h1.4M418.6 797h1.4M392 797.8h1.4M402.2 796.6h1.4M365.6 798.7h1.4M426.2 798.7h1.4M344.8 798.6h1.4M370.9 797.6h1.4M398.2 797.4h1.4M362.8 796.6h1.4M412.3 797.3h1.4M344.9 797.9h1.4M406 796.9h1.4M408.4 797.7h1.4M396.3 796.8h1.4M354.5 798.7h1.4M407.5 796.6h1.4M348.1 798.7h1.4M357.4 797.6h1.4M354.1 797.3h1.4M347.5 798.5h1.4M404.6 796.7h1.4M362.3 796.7h1.4M425.8 797.9h1.4M420.1 798.6h1.4M425.7 797.7h1.4M378.1 797.8h1.4M373.1 798h1.4M381.6 797.7h1.4M347.3 797.1h1.4M403.5 797.6h1.4M390.4 797.1h1.4M394.4 797.5h1.4M398.6 797.8h1.4M422.8 796.6h1.4M410 796.7h1.4M422.8 796.4h1.4M340.2 797.4h1.4M418.2 797.1h1.4M413.9 797.9h1.4M376.3 796.8h1.4M422.1 796.7h1.4M366 798.5h1.4M400.4 798.4h1.4M384.9 798.7h1.4M440 798.8h1.4M443.9 798.4h1.4M446.2 796.6h1.4M430.7 797.8h1.4M430.8 798.6h1.4M451.2 796.8h1.4M438.3 797.9h1.4M437.2 798.7h1.4M450.4 798.5h1.4M445 797.6h1.4M464.9 797.2h1.4M489 798.6h1.4M452.9 797.2h1.4M462.3 798.6h1.4M465.7 797.8h1.4M497.6 796.6h1.4M487.8 798.2h1.4M472.7 797.6h1.4M463.3 797.4h1.4M466.1 796.4h1.4M451.8 798.6h1.4M497.1 796.8h1.4M490.5 798.2h1.4M496 797.2h1.4M471.3 797.9h1.4M479.4 797.3h1.4M490.2 797.1h1.4M466.7 796.9h1.4M476.5 798.6h1.4M482.9 796.5h1.4M471.1 798.2h1.4M462.1 798.2h1.4M479.5 797.7h1.4M488.8 796.5h1.4M462.8 796.3h1.4M518.8 797.6h1.4M518.6 798.5h1.4M508.8 797.9h1.4M517.2 797.4h1.4M510.1 797.1h1.4M523.5 797.5h1.4M519.5 796.7h1.4M524.6 797.7h1.4M516.5 798.2h1.4M519.1 797.8h1.4M511.9 798.1h1.4M528.2 797h1.4M533.4 797.1h1.4M532.9 796.6h1.4M528.7 798h1.4M530.3 798.8h1.4M553.5 797.6h1.4M563.4 798.5h1.4M549.6 797.7h1.4M563.9 798.4h1.4M554.2 796.9h1.4M553.9 796.5h1.4M551.9 796.9h1.4M561.9 797h1.4M580.7 797.2h1.4M577.8 797.4h1.4M577.7 798.1h1.4M577.8 796.7h1.4M571.6 796.6h1.4M580.4 797.8h1.4M594.7 798.1h1.4M593 797.8h1.4M613.1 796.9h1.4M601 796.9h1.4M589.2 796.9h1.4M588.6 797.3h1.4M594.4 798.2h1.4M592.8 798.8h1.4M606.8 798.7h1.4M590.1 797.8h1.4M588.9 797.1h1.4M610.2 797.2h1.4M605 797.6h1.4M611.4 798.3h1.4M612.8 797.3h1.4M612.4 797.4h1.4M622.4 797.2h1.4M625.1 797h1.4M619.9 798.4h1.4M622.5 796.8h1.4M624.3 798.5h1.4M616.6 798.2h1.4M623.2 798.1h1.4M620 797.1h1.4M630.9 798.5h1.4M636.6 798.2h1.4M632.4 798.7h1.4M633.7 798.8h1.4M630.9 797.9h1.4M635.1 798.2h1.4M638.4 796.5h1.4M636.2 798.8h1.4M629.9 798.4h1.4M638.2 796.4h1.4M635.1 798.5h1.4M658.2 798.2h1.4M653.4 797.8h1.4M655.8 798.2h1.4M665.9 797.3h1.4M662.6 798.6h1.4M668.5 797.8h1.4M667.9 797.8h1.4M663.5 798h1.4" fill="none" stroke="#c3d2c3" stroke-width="1.4"/>
<path d="M147 802.3h1.4M154.3 801.6h1.4M175.4 802.3h1.4M224.6 801.8h1.4M227.2 801.7h1.4M233.6 803.2h1.4M217.3 803.3h1.4M195.8 802.1h1.4M204.5 803.4h1.4M222.1 801.5h1.4M206.1 803.1h1.4M234 803.3h1.4M194.5 801.7h1.4M206.8 803h1.4M231.6 803.6h1.4M204.5 803.2h1.4M211.2 801.5h1.4M203.6 803.6h1.4M197.5 803.1h1.4M204.6 803h1.4M254.4 801.4h1.4M253.9 802h1.4M257.6 803.2h1.4M266 803.7h1.4M251.8 803.5h1.4M269.7 801.9h1.4M261.3 803.2h1.4M252.2 802.3h1.4M269.8 801.6h1.4M270.3 803.2h1.4M270.8 803h1.4M271.3 801.6h1.4M261.9 801.7h1.4M246.6 802.8h1.4M320.5 802.5h1.4M328.3 803.4h1.4M315.7 801.4h1.4M328.8 803.2h1.4M337.2 802.2h1.4M336.4 801.7h1.4M317.3 801.4h1.4M323.9 802h1.4M336.4 803h1.4M318.2 802.6h1.4M321.6 802.6h1.4M338 801.5h1.4M328.2 801.8h1.4M313.4 802.1h1.4M323.4 803.5h1.4M319.6 803.2h1.4M313.4 803.9h1.4M334.3 803.3h1.4M423.6 802.6h1.4M409.2 801.9h1.4M422.6 803.8h1.4M391.5 802h1.4M367.2 801.4h1.4M340.3 801.9h1.4M409.8 803.6h1.4M377.4 803.2h1.4M414.4 803.4h1.4M407.7 803.9h1.4M347 803.2h1.4M392.8 803.5h1.4M423.9 802.7h1.4M381.4 803.1h1.4M350.3 803.7h1.4M364.1 801.6h1.4M363.4 803.8h1.4M400.3 803.3h1.4M416.5 803.4h1.4M372.4 802.8h1.4M385.7 802.8h1.4M402.9 803.5h1.4M402.2 803.3h1.4M364 801.5h1.4M416.1 803.5h1.4M353.9 801.9h1.4M354.3 802.9h1.4M416.6 803.8h1.4M361.1 801.6h1.4M357.4 803.8h1.4M391.6 802.1h1.4M395.7 801.7h1.4M343.4 803.1h1.4M386.3 803.8h1.4M393.2 801.9h1.4M339.3 801.4h1.4M367.9 802.9h1.4M346.2 802.8h1.4M375.2 803.6h1.4M359.1 802.1h1.4M426.2 802.5h1.4M340.1 802.5h1.4M392 802.9h1.4M415.4 801.4h1.4M391.1 803.1h1.4M359.2 802.6h1.4M376.4 803.1h1.4M440.6 803.5h1.4M434.6 802h1.4M448.8 803.6h1.4M448.2 802.5h1.4M446.5 802.9h1.4M437.6 803.8h1.4M444.9 802h1.4M447.4 802.1h1.4M431.4 802.6h1.4M447 802.4h1.4M442 801.4h1.4M439.6 803.1h1.4M487.6 803h1.4M465.1 802h1.4M473.7 803.3h1.4M483.2 802.3h1.4M499.4 803.7h1.4M499.8 801.8h1.4M459.2 801.9h1.4M469.6 801.8h1.4M486.4 802.2h1.4M492.8 802.9h1.4M497.9 803.6h1.4M456.5 803h1.4M489.7 802.5h1.4M478 801.5h1.4M469.7 801.5h1.4M471.1 803.3h1.4M455.5 801.7h1.4M485.2 802.6h1.4M491.4 803.5h1.4M466.8 802.2h1.4M485.5 803h1.4M467.7 802.8h1.4M492.4 803h1.4M454.8 802.8h1.4M463.1 801.4h1.4M467.7 802h1.4M459.4 803.8h1.4M516.7 802.3h1.4M522.5 801.5h1.4M509.4 802.2h1.4M521.4 802h1.4M523.1 802.6h1.4M529.7 803h1.4M531.8 802.2h1.4M528.1 802.9h1.4M533.6 802.1h1.4M528.5 802.4h1.4M555.2 802.4h1.4M563.4 803.6h1.4M555.7 801.8h1.4M553.4 803.7h1.4M557.3 801.9h1.4M564.6 801.9h1.4M552 802.9h1.4M560.6 802h1.4M560.7 801.9h1.4M560.1 802.3h1.4M569.7 801.8h1.4M571.7 801.9h1.4M603.3 801.8h1.4M608.6 802.1h1.4M601 801.7h1.4M606 801.8h1.4M600 802.6h1.4M602.8 801.6h1.4M590.9 803h1.4M605.1 803h1.4M609.4 803.6h1.4M612.7 803.4h1.4M600.8 801.8h1.4M609 802h1.4M599.2 802.2h1.4M601.9 803.8h1.4M613.9 802h1.4M604 802.6h1.4M599.3 801.8h1.4M601.9 802.5h1.4M625.1 803.1h1.4M622.8 803.5h1.4M616.7 802.6h1.4M628.7 802.6h1.4M625.4 801.5h1.4M627.4 802.7h1.4M638.7 802.8h1.4M632.9 803.6h1.4M633 801.6h1.4M655.7 802h1.4M654.7 801.5h1.4M657.7 801.7h1.4M663 803.6h1.4M664.1 801.8h1.4M663.5 803.8h1.4M663.4 803h1.4" fill="none" stroke="#d4c3c3" stroke-width="1.4"/>
<path d="M190.4 795h1.4M180.9 794.6h1.4M176.7 795.3h1.4M185.1 793.9h1.4M174.9 795.1h1.4M221.6 794.9h1.4M213.6 794.7h1.4M214.5 795.8h1.4M223 795h1.4M204.4 796.2h1.4M232.4 795.8h1.4M234 795.4h1.4M206 793.9h1.4M201.9 794.1h1.4M218.8 793.8h1.4M225.2 795.5h1.4M236.5 795.2h1.4M268 795.1h1.4M246.6 793.9h1.4M265.7 795.6h1.4M259.9 795h1.4M257.1 794.5h1.4M263.9 795.8h1.4M248.1 796.1h1.4M332.6 794.9h1.4M336.1 796h1.4M321.5 796h1.4M329.7 794.6h1.4M313.3 795.4h1.4M336 796.2h1.4M327.4 796.2h1.4M367.3 795.7h1.4M343 796.1h1.4M377 795.2h1.4M369.5 795.2h1.4M389.5 795.3h1.4M424.4 794.3h1.4M396.2 793.9h1.4M379 796.1h1.4M378.7 795.3h1.4M374.9 795.3h1.4M396.8 794.5h1.4M400.6 795.9h1.4M351 793.9h1.4M426.1 794.9h1.4M340 795.7h1.4M406.1 795.8h1.4M411.6 794.6h1.4M358.6 794h1.4M417.3 794.2h1.4M345.4 794.9h1.4M419.3 796.1h1.4M376.2 794.7h1.4M362 794.9h1.4M392.8 795.1h1.4M405.6 794h1.4M386.9 794.5h1.4M397.7 793.8h1.4M413.3 795.8h1.4M425.8 796.2h1.4M404.3 793.9h1.4M377.1 796.1h1.4M362.9 794.7h1.4M401 794.6h1.4M405.8 796h1.4M358.9 795.3h1.4M386.5 795.6h1.4M438.2 794.2h1.4M447.8 794.3h1.4M440.9 794.5h1.4M434.7 794.8h1.4M448.7 794h1.4M445.9 795.6h1.4M494.8 795.3h1.4M472.6 795.1h1.4M492.2 796.1h1.4M468.1 795.3h1.4M496.4 795.6h1.4M487.9 796h1.4M459.3 794.6h1.4M476.3 795.2h1.4M478.5 796.1h1.4M451.6 796.3h1.4M489.3 795.7h1.4M493.2 794.3h1.4M470.3 795.1h1.4M485.8 795.4h1.4M491.3 795h1.4M466.5 796.1h1.4M491.2 795.7h1.4M480.1 794.2h1.4M455.7 795.2h1.4M499.3 794.6h1.4M492.1 794.2h1.4M515.4 794.8h1.4M517.8 794.3h1.4M508.8 796h1.4M508.8 794.2h1.4M532.4 796.2h1.4M531 795.3h1.4M549.5 794h1.4M559.9 794.3h1.4M558.2 795.4h1.4M558.1 796.1h1.4M559.2 794.6h1.4M572.7 795.7h1.4M575.2 795.1h1.4M580.6 795.5h1.4M579.3 795.3h1.4M581.4 795h1.4M572.6 794.7h1.4M576.9 795.9h1.4M575.9 795.6h1.4M579.2 793.9h1.4M579.9 795.5h1.4M596.2 796.2h1.4M608.9 793.8h1.4M591.8 795.8h1.4M609.5 795.8h1.4M583.9 794.4h1.4M599.5 795.7h1.4M594.4 795.8h1.4M594.5 794.9h1.4M589.2 794.5h1.4M596.5 795.2h1.4M612 793.9h1.4M592.1 795.9h1.4M591.8 794.9h1.4M622.7 795.3h1.4M620.9 795.5h1.4M620.8 795.2h1.4M627 795h1.4M619.6 796.3h1.4M625.6 794.8h1.4M638.4 796.1h1.4M659.2 795.5h1.4M663.6 796.3h1.4M665.3 794.7h1.4M666.8 794h1.4" fill="none" stroke="#b9d7b9" stroke-width="1.4"/>
<path d="M155.7 806.2h1.4M157.3 804.6h1.4M180.4 804h1.4M196.5 804.4h1.4M218.8 805.3h1.4M234.4 804.3h1.4M197.8 804h1.4M232.4 806.3h1.4M236 805.6h1.4M214.2 806h1.4M206.3 804.9h1.4M229.6 805.9h1.4M210.9 804h1.4M201.5 804.7h1.4M224.5 804.4h1.4M209.5 805.4h1.4M225.8 805.9h1.4M194.4 806h1.4M208 804.5h1.4M206.5 805.8h1.4M217.8 805.8h1.4M263.1 806.2h1.4M268.8 805.8h1.4M249.3 804.8h1.4M254.7 805.5h1.4M250.8 805.6h1.4M267.7 805.7h1.4M268 805.5h1.4M246.4 805.2h1.4M266.8 804.8h1.4M248.2 804.1h1.4M265.6 805.9h1.4M267.6 804.9h1.4M297.4 804.9h1.4M283.1 805.1h1.4M320.3 806.1h1.4M323.2 804h1.4M329 805h1.4M320.6 805h1.4M328.3 805.6h1.4M327.2 804.9h1.4M323.6 804.6h1.4M395.6 805.2h1.4M418.4 806.1h1.4M411.2 805.9h1.4M425.1 804h1.4M366.6 805.4h1.4M411.5 804h1.4M379.5 804.3h1.4M378.6 804.6h1.4M421.9 804.1h1.4M372 804.9h1.4M380.6 805.5h1.4M353.4 806.2h1.4M381.2 804.2h1.4M416.6 804.1h1.4M385.6 805.1h1.4M349.6 804.8h1.4M356.4 804h1.4M409 806.2h1.4M342.8 804.2h1.4M372.7 804.8h1.4M384.5 804h1.4M374.7 804.2h1.4M425.1 805.4h1.4M416.2 804h1.4M411.7 803.9h1.4M396.3 804.4h1.4M384.9 806h1.4M432.5 805.6h1.4M432.4 805.9h1.4M429.7 804.2h1.4M431.7 805.9h1.4M446.5 804.7h1.4M498.1 804.7h1.4M468.5 806.1h1.4M482.2 804.1h1.4M473.3 804.7h1.4M494.3 804.5h1.4M454.6 804.6h1.4M457.1 804.5h1.4M487.8 804.4h1.4M480.1 805.1h1.4M454.4 804.4h1.4M479.8 804.8h1.4M468.8 804.2h1.4M483.4 806.3h1.4M481.7 804.3h1.4M457.5 804.2h1.4M482.2 803.9h1.4M451.6 806h1.4M454.9 806h1.4M485.2 804.9h1.4M520.5 805.2h1.4M520 806.1h1.4M521.7 805.8h1.4M507.9 806.2h1.4M509.3 805.4h1.4M517 805.2h1.4M563.9 804h1.4M559.8 805.9h1.4M555.6 805.3h1.4M550.7 804.2h1.4M560 806h1.4M578.5 805.2h1.4M575.9 804.4h1.4M571.1 805.6h1.4M574.8 804.2h1.4M579.9 805.8h1.4M592.5 804.8h1.4M587.5 804.2h1.4M605.4 806h1.4M591.5 804.6h1.4M593.2 806h1.4M592.3 804.5h1.4M612.7 804.7h1.4M594.6 805.6h1.4M591.8 805h1.4M624.1 805.1h1.4M622.6 805.4h1.4M620.5 806.2h1.4M628.1 804.2h1.4M627.8 803.9h1.4M621.3 804h1.4M617.9 805.4h1.4M636.1 804.4h1.4M633.6 804.7h1.4M633.7 804.5h1.4M637.1 805.6h1.4M636.1 804.5h1.4M649.3 804.2h1.4M653.9 804h1.4M658.9 804.3h1.4M665.9 804.2h1.4M667.7 805.4h1.4" fill="none" stroke="#d9b8b8" stroke-width="1.4"/>
<path d="M157.5 791.8h1.4M167.6 791.6h1.4M178.6 792.9h1.4M191.7 793.4h1.4M173.2 793.8h1.4M173.9 792h1.4M195.1 793.8h1.4M215.5 791.7h1.4M198.8 792.9h1.4M211.8 793.6h1.4M229.9 793.1h1.4M203.2 793h1.4M201.3 791.6h1.4M238.1 792.5h1.4M247.3 793.1h1.4M258.7 792.8h1.4M249.6 793.6h1.4M248.2 793.6h1.4M256.5 792.6h1.4M280.6 792.4h1.4M272.4 792.3h1.4M325.3 793.6h1.4M324.6 792.1h1.4M318.5 792.2h1.4M329.1 792.9h1.4M331 793.7h1.4M332.6 791.7h1.4M360.3 791.3h1.4M369.9 791.7h1.4M385.7 792.9h1.4M384.1 792.6h1.4M362.8 792.9h1.4M393.2 792.9h1.4M356 793.4h1.4M422.8 793.8h1.4M353.3 792.6h1.4M365.7 793.7h1.4M353.7 792.7h1.4M425.7 793.2h1.4M346.1 793.7h1.4M406.1 791.4h1.4M380.6 792.5h1.4M378.2 791.6h1.4M346.2 792.4h1.4M417.4 793.5h1.4M387.7 792h1.4M434.4 792.8h1.4M447.7 791.6h1.4M449.7 793.4h1.4M440.3 793.1h1.4M430.4 791.6h1.4M436.6 792.8h1.4M441 792.7h1.4M443.9 791.3h1.4M450.5 793.8h1.4M429.3 791.9h1.4M461.6 793.7h1.4M478.9 793.7h1.4M483.5 793.1h1.4M502.8 793.6h1.4M510.2 791.8h1.4M523.1 791.9h1.4M513.3 792.2h1.4M530.2 793.3h1.4M532 792h1.4M535.4 793.3h1.4M537.7 793.5h1.4M541.8 792.4h1.4M563.3 791.5h1.4M569.5 791.8h1.4M574.3 791.9h1.4M572 792.5h1.4M572.4 793.7h1.4M581.5 792.1h1.4M592.9 793.5h1.4M603.7 792.6h1.4M584.4 793.1h1.4M599 793.4h1.4M611.9 792.2h1.4M612.8 793.5h1.4M594.1 792.1h1.4M585.6 793.8h1.4M588.1 793.4h1.4M590.8 791.6h1.4M630.5 792.8h1.4M629.7 791.8h1.4M639.5 792.8h1.4M635.5 793h1.4M647.6 792.1h1.4M654.8 793.8h1.4M658.6 791.3h1.4M659.7 792.8h1.4M668.2 792.5h1.4M665.4 791.4h1.4" fill="none" stroke="#aedcae" stroke-width="1.4"/>
<path d="M147.9 807.8h1.4M152.8 808.4h1.4M155.8 806.5h1.4M157.3 807h1.4M205.1 808h1.4M212.6 807.9h1.4M219.7 808.9h1.4M199.8 808.7h1.4M193.8 807.2h1.4M230.5 807.2h1.4M195.9 807.7h1.4M197 807.6h1.4M267.1 808.4h1.4M259.1 807.7h1.4M260.6 806.7h1.4M247 807.7h1.4M311.6 808.1h1.4M334 808.2h1.4M317.1 808.5h1.4M313.8 808.6h1.4M321.5 807.4h1.4M335 808.6h1.4M344.5 807.6h1.4M392.4 807h1.4M368.7 807.6h1.4M410.8 806.7h1.4M380 807.6h1.4M374.7 808.9h1.4M380.5 806.8h1.4M424.9 808.6h1.4M375.9 806.9h1.4M380.6 807.6h1.4M350.8 807.4h1.4M363.9 808.9h1.4M418.1 808.8h1.4M393.7 806.4h1.4M399.4 807.7h1.4M390.9 806.6h1.4M383.7 806.6h1.4M389.2 808.1h1.4M446.8 806.5h1.4M498.8 806.5h1.4M478.1 807.8h1.4M473.6 806.9h1.4M466.7 808.9h1.4M495.3 806.9h1.4M484.3 807.8h1.4M465.3 807.5h1.4M489.4 806.8h1.4M455.2 808.3h1.4M514.3 808.7h1.4M517.5 806.8h1.4M552.5 808.1h1.4M564.5 807.3h1.4M582.4 807.2h1.4M572.5 807.6h1.4M579.4 807.8h1.4M579.6 807.5h1.4M586.7 806.5h1.4M596.7 806.8h1.4M602.9 807h1.4M613.2 807.1h1.4M586.8 807.2h1.4M596.5 808h1.4M624.8 807h1.4M615.8 806.5h1.4M637.5 806.4h1.4M640.4 807.6h1.4M655.7 808.5h1.4M656.9 808.8h1.4" fill="none" stroke="#ddacac" stroke-width="1.4"/>
<path d="M158.7 789.7h1.4M177.1 790.1h1.4M169.9 789.2h1.4M187.7 789.2h1.4M187.8 789.6h1.4M220.6 789.8h1.4M218.3 790.3h1.4M197 789.5h1.4M229.3 790.4h1.4M203.2 791h1.4M218.8 790.7h1.4M214.3 789.2h1.4M208.2 790.5h1.4M243.7 789h1.4M241.8 789.5h1.4M236.1 789.8h1.4M252.3 789.5h1.4M270.3 790.7h1.4M251.2 791h1.4M251.4 790.3h1.4M272.4 790h1.4M275.5 789.9h1.4M275.2 789h1.4M323.6 791h1.4M337.5 789.7h1.4M326.2 789h1.4M332.8 790.3h1.4M314.8 790.1h1.4M399.6 791.1h1.4M415.5 790.1h1.4M339.9 791.1h1.4M358.5 790.6h1.4M391.9 790.3h1.4M339.8 791h1.4M389.7 789.2h1.4M448.8 789.6h1.4M448.4 790.3h1.4M434.2 790.2h1.4M434.3 790.7h1.4M475.8 790.4h1.4M465.2 790.7h1.4M477.5 790.1h1.4M483.6 791.2h1.4M517.4 791.1h1.4M513.9 788.8h1.4M518.5 789.9h1.4M522.9 789h1.4M516 789.2h1.4M540.5 789.2h1.4M544.1 790.9h1.4M539.3 790.3h1.4M569.6 789.5h1.4M605.5 790.6h1.4M625.2 790.7h1.4M647.9 788.9h1.4M646.5 789.7h1.4M649.8 790.1h1.4M644.8 790.2h1.4" fill="none" stroke="#a4dfa4" stroke-width="1.4"/>
<path d="M152.2 809h1.4M214.1 810.5h1.4M217.4 809.2h1.4M217.1 811.1h1.4M248.1 810.4h1.4M258.3 811.2h1.4M295.7 810.6h1.4M336.9 809.8h1.4M321.3 809.3h1.4M421.6 810.6h1.4M365.2 810h1.4M362.4 809.6h1.4M355.6 810.9h1.4M401.5 811h1.4M417.9 810.8h1.4M375.4 810.3h1.4M450.4 809.8h1.4M476.6 811.1h1.4M467.1 810.7h1.4M453.5 810.1h1.4M486.5 811.2h1.4M508.1 809h1.4M514.3 809.3h1.4M549.4 809.9h1.4M574.6 810.1h1.4M601.6 810.2h1.4M615.3 809.5h1.4M624.4 809.3h1.4M617.2 810.8h1.4M635.8 809.8h1.4" fill="none" stroke="#dfa0a0" stroke-width="1.4"/>
<path d="M166 787.8h1.4M167.6 788.6h1.4M174.8 787.3h1.4M187 787h1.4M179.1 788.5h1.4M186.7 787.2h1.4M204.8 787.4h1.4M240.3 786.6h1.4M236.5 787.1h1.4M236.5 788.2h1.4M242.7 787.9h1.4M238.2 787.3h1.4M242.2 786.3h1.4M238.9 787.8h1.4M278.9 786.9h1.4M272.8 786.3h1.4M274.5 787h1.4M273.1 788.2h1.4M273 788.1h1.4M274.9 786.5h1.4M275.5 786.9h1.4M326.6 788.6h1.4M369.7 788.1h1.4M389.2 786.4h1.4M356.4 788.3h1.4M406.5 788.3h1.4M437.9 788.6h1.4M442.3 788.2h1.4M435.9 786.6h1.4M446.3 788.1h1.4M442.3 788.5h1.4M455.4 788.1h1.4M510.7 787.6h1.4M513.4 787.4h1.4M519.8 788.6h1.4M537.6 787.3h1.4M540.8 786.3h1.4M543.1 787.5h1.4M534.6 786.4h1.4M541.8 788.1h1.4M559.3 788.5h1.4M553.5 786.3h1.4M579.3 787.7h1.4M595.1 787.6h1.4M600.2 788.7h1.4M639.1 786.9h1.4M646 786.8h1.4M650.3 786.7h1.4" fill="none" stroke="#9ae09a" stroke-width="1.4"/>
<path d="M147.2 812.8h1.4M150.3 813.7h1.4M151.5 812.3h1.4M231.4 812.5h1.4M228 812h1.4M193 812.3h1.4M312.3 812.7h1.4M315.9 811.9h1.4M369.2 812.6h1.4M447.3 811.4h1.4M482.5 813.5h1.4M532.2 813.2h1.4M529.6 813.5h1.4M638.4 811.7h1.4" fill="none" stroke="#e19595" stroke-width="1.4"/>
<path d="M162.2 785.5h1.4M163.8 785.6h1.4M167.2 785h1.4M170.9 785.6h1.4M169.6 783.8h1.4M169.2 784.4h1.4M181.3 784.9h1.4M189.6 784.2h1.4M175 785.5h1.4M190.2 783.8h1.4M174.2 785.5h1.4M185.5 784.2h1.4M180.8 785.3h1.4M180.4 784.3h1.4M239.8 783.8h1.4M241.8 785.1h1.4M275.6 785.8h1.4M277.2 785.7h1.4M392.4 785.4h1.4M375 785h1.4M445 786.2h1.4M444 784.3h1.4M497.9 784.7h1.4M535.1 786.2h1.4M534.4 784.7h1.4M534.8 785.9h1.4M584.5 784.9h1.4M648 785.7h1.4M645.5 786h1.4M645.4 785.5h1.4M648.5 784.4h1.4M648.6 784.2h1.4" fill="none" stroke="#90e190" stroke-width="1.4"/>
<path d="M147 814.1h1.4M331.5 814.4h1.4M330.5 814h1.4M352.1 814.1h1.4M406.6 815.3h1.4M485.9 816h1.4M641.1 815.7h1.4M642.1 815.6h1.4M641.9 815.8h1.4" fill="none" stroke="#e38a8a" stroke-width="1.4"/>
<path d="M158.7 782.4h1.4M166.7 782.4h1.4M162.9 783.6h1.4M163.7 782.6h1.4M174.5 782.4h1.4M182.8 782.4h1.4M191.5 782.7h1.4M185.7 782.2h1.4M182.1 782h1.4M175.4 781.6h1.4M172.9 783.5h1.4M176.6 781.6h1.4M181.5 782.4h1.4M187.4 782.6h1.4M182.7 782.8h1.4M172.4 781.6h1.4M172.2 782.6h1.4M189.2 782.7h1.4M241.3 781.6h1.4M271.9 781.4h1.4M272.7 781.7h1.4M278.6 783.5h1.4M276.6 783.1h1.4M540.3 783h1.4M534.8 781.9h1.4M535.1 782.9h1.4M538.9 782.8h1.4M535.9 783.3h1.4M649.4 781.7h1.4M266.9 783.3h1.4" fill="none" stroke="#86e286" stroke-width="1.4"/>
<path d="M151.3 817.5h1.4M152 817.4h1.4M295.3 817h1.4M296.9 818.1h1.4M436.3 818.3h1.4M515.1 818.9h1.4M644.5 818.6h1.4M641.8 816.9h1.4" fill="none" stroke="#e47e7e" stroke-width="1.4"/>
<path d="M167.7 779h1.4M159 780.2h1.4M164.3 779.4h1.4M165 780.3h1.4M166.6 780.6h1.4M158.4 779.6h1.4M166.9 780h1.4M175.6 779.6h1.4M189.7 780.4h1.4M184.6 779.8h1.4M187.9 780.8h1.4M177.1 780.8h1.4M185.1 780.4h1.4M171.6 779.3h1.4M241 780.7h1.4M236.8 779.4h1.4M242.6 780.3h1.4M243.6 779.3h1.4M277.7 779.2h1.4M280.1 780.9h1.4M276.7 779.8h1.4M346.4 780.3h1.4M543.3 780.7h1.4M536.9 780.3h1.4M538.3 780.5h1.4M537.7 780.5h1.4M535.9 780.4h1.4M624.7 778.9h1.4" fill="none" stroke="#79e379" stroke-width="1.4"/>
<path d="M151.7 821.1h1.4M149.3 821.2h1.4M283.4 821.3h1.4M521.7 819.5h1.4M642.4 820.4h1.4M463.1 819.4h1.4" fill="none" stroke="#e47373" stroke-width="1.4"/>
<path d="M164.4 777.3h1.4M161.7 777.5h1.4M180.9 778.6h1.4M180.3 778.2h1.4M180.3 776.6h1.4M187.2 776.3h1.4M176.4 776.7h1.4M171.9 778.3h1.4M181.5 776.5h1.4M192 777.5h1.4M243.8 777.2h1.4M238.4 778.3h1.4M280.6 778.6h1.4M271.9 777.5h1.4M273.8 776.2h1.4M539 777.8h1.4M539.2 778.2h1.4M562.7 777.2h1.4M648.5 778.2h1.4" fill="none" stroke="#6ce36c" stroke-width="1.4"/>
<path d="M153.1 822.3h1.4M150.6 823h1.4M152.4 821.7h1.4M149.5 822.1h1.4M149.9 821.5h1.4M150.4 822.8h1.4M289.3 822.5h1.4M304.5 821.7h1.4M303.8 822.7h1.4M309.2 822.6h1.4M311.3 821.9h1.4M643.6 822.1h1.4M643.7 822.6h1.4M644.4 823.4h1.4" fill="none" stroke="#e46767" stroke-width="1.4"/>
<path d="M164.4 775h1.4M162.6 776.2h1.4M165.8 775.9h1.4M160.3 775.4h1.4M189.8 776.2h1.4M244.9 775.9h1.4M243.5 775.5h1.4M277.8 775.1h1.4M279.1 776h1.4M501.3 775.9h1.4M501.5 775.5h1.4M505.9 774.5h1.4M541.3 774.4h1.4M540.3 774.9h1.4M537.2 774.4h1.4M538.5 774.6h1.4M647.1 774.6h1.4M649.4 775.2h1.4M649.2 773.7h1.4M158.9 774.9h1.4" fill="none" stroke="#5fe45f" stroke-width="1.4"/>
<path d="M149.8 825.5h1.4M291 824.7h1.4M285.1 825.2h1.4M299.5 824.6h1.4M307.2 824.6h1.4M307.5 824.8h1.4M313.2 826.1h1.4M480.8 826.3h1.4M643.8 826.3h1.4" fill="none" stroke="#e45c5c" stroke-width="1.4"/>
<path d="M162.5 772.4h1.4M189.7 772h1.4M192.1 773.4h1.4M177 773.4h1.4M240.2 772.1h1.4M236.6 772.4h1.4M505.3 771.2h1.4M502.3 771.6h1.4M504.5 773.7h1.4M506.7 771.5h1.4M538.8 773.1h1.4M536.6 773.2h1.4M540.1 772.5h1.4" fill="none" stroke="#55e455" stroke-width="1.4"/>
<path d="M151.9 828.1h1.4M288.3 826.7h1.4M281.8 827.6h1.4M285.2 828.6h1.4M297.9 827.3h1.4M299 827.5h1.4M295.8 828.8h1.4M295.6 827.8h1.4M298.4 826.7h1.4M284.2 828.5h1.4M301.3 827.8h1.4M283.9 827.5h1.4M306.5 828.9h1.4M288.6 826.6h1.4M307.6 828.8h1.4M309.5 826.9h1.4M309.5 827.1h1.4M639.7 827.1h1.4M643.6 827.1h1.4M395.6 828.6h1.4" fill="none" stroke="#e35050" stroke-width="1.4"/>
<path d="M162.9 769.2h1.4M182.1 770.1h1.4M186 771h1.4M503.5 768.8h1.4M505.9 769.1h1.4M500.4 769.8h1.4M501.8 769.2h1.4M535.1 770.6h1.4" fill="none" stroke="#4be34b" stroke-width="1.4"/>
<path d="M291 831.4h1.4M301.2 831.1h1.4M306 830.2h1.4M292.7 831h1.4M299.9 831.1h1.4M282.1 831h1.4M639.9 829.2h1.4M639.7 830h1.4M463.1 831.6h1.4" fill="none" stroke="#e24444" stroke-width="1.4"/>
<path d="M159.6 767.8h1.4M158.6 768.4h1.4M176.4 767.1h1.4M502.6 768h1.4M501.9 766.4h1.4M502.4 766.7h1.4M168.9 768.2h1.4" fill="none" stroke="#41e341" stroke-width="1.4"/>
<path d="M150.2 833h1.4M150.8 833.9h1.4M152.1 832.5h1.4M301.2 832.3h1.4M296.7 833.9h1.4M284.3 833.7h1.4M297.4 832.6h1.4M304 834h1.4M295.7 833.9h1.4M286.5 832.6h1.4M298.4 833.9h1.4M292 833.4h1.4M312 833.4h1.4M308.4 832.6h1.4M313 833h1.4M307.7 833.4h1.4" fill="none" stroke="#e13838" stroke-width="1.4"/>
<path d="M502.6 766.1h1.4M500.7 764h1.4M168.4 764.9h1.4" fill="none" stroke="#37e237" stroke-width="1.4"/>
<path d="M149.7 835.7h1.4M289.6 834.3h1.4M304.4 835.9h1.4M293.8 836.5h1.4M296.3 835.8h1.4M298.4 835.9h1.4M301.4 835.4h1.4M309.8 835.5h1.4M309.8 836.6h1.4" fill="none" stroke="#e02c2c" stroke-width="1.4"/>
<path d="M505.5 762.7h1.4M238.9 762.3h1.4" fill="none" stroke="#2de22d" stroke-width="1.4"/>
<path d="M182.8 761h1.4M168.7 759.8h1.4" fill="none" stroke="#2be12b" stroke-width="1.4"/>
<path d="M149.9 837.6h1.4M285.6 838.8h1.4M295.9 839h1.4M291 836.7h1.4M291.4 838.3h1.4M306.4 838.7h1.4M282.7 839h1.4M311.6 838.4h1.4" fill="none" stroke="#df2727" stroke-width="1.4"/>
<path d="M168.4 758.1h1.4" fill="none" stroke="#29e129" stroke-width="1.4"/>
<path d="M505.1 753.7h1.4" fill="none" stroke="#27e027" stroke-width="1.4"/>
<path d="M148.3 841.2h1.4M300.1 841.5h1.4M285.2 839.5h1.4M299.2 839.8h1.4M298.4 841.6h1.4M290.6 839.6h1.4M286.2 840.2h1.4M283.9 839.4h1.4M303.8 839.2h1.4M309.9 840.9h1.4M367.3 839.1h1.4" fill="none" stroke="#de2222" stroke-width="1.4"/>
<path d="M302.3 841.6h1.4M286.3 843h1.4M288.5 842.6h1.4M292.9 843.9h1.4M304.9 842.6h1.4M294.4 843.7h1.4M298.1 842.5h1.4M313 842.3h1.4" fill="none" stroke="#dd1d1d" stroke-width="1.4"/>
<path d="M148.8 846.2h1.4M153.4 844.7h1.4M296.4 845.2h1.4M300.4 844.6h1.4M288.2 844.2h1.4M302.8 846.6h1.4M292.8 844.7h1.4M287.6 845.5h1.4M303 846.2h1.4M305.8 846.5h1.4" fill="none" stroke="#dc1818" stroke-width="1.4"/>
<path d="M281.3 846.9h1.4M284.5 847.5h1.4M306.8 847.6h1.4M309.8 848.9h1.4M309.9 849h1.4" fill="none" stroke="#dc1515" stroke-width="1.4"/>
<path d="M301.4 852.8h1.4M281.4 853.6h1.4M289 853h1.4" fill="none" stroke="#da1212" stroke-width="1.4"/>
<path d="M287.9 854.6h1.4" fill="none" stroke="#da1111" stroke-width="1.4"/>
<path d="M282.3 857.1h1.4M284.9 858.8h1.4" fill="none" stroke="#d90f0f" stroke-width="1.4"/>
<path d="M339.5 904.1h1.4" fill="none" stroke="#d70a0a" stroke-width="1.4"/>
<path d="M147.6 820.7H154.6M154.6 799.4H159M159 783.6H168.6M169.9 784.4H192.8M192.8 799.3H236.8M236.8 784.4H245.7M245.7 800.1H272.5M272.5 787.3H281.7M282 835.1H307.6M307.6 830.3H314M314 800.8H339.8M339.8 800.1H427M427 798.7H452M452 800.1H501M501 771.6H507.5M507.5 799.3H525.6M528.8 800.6H534.5M534.5 784.4H546M549.8 800.1H565.8M569.6 800.1H584.3M584.3 799.3H615.5M615.5 800.1H629.5M629.5 799.3H640.4M640.4 823.9H645.5M645.5 784.4H651.8M653.8 800.1H660.8M663.3 798.4H669.3" fill="none" stroke="#16167a" stroke-width="2"/>
<line x1="147.6" y1="687.3" x2="669.3" y2="687.3" stroke="#585858" stroke-width="1.6"/>
<line x1="192.2" y1="686.4" x2="192.2" y2="688.2" stroke="#c4c4c4" stroke-width="1"/>
<line x1="236.3" y1="686.4" x2="236.3" y2="688.2" stroke="#c4c4c4" stroke-width="1"/>
<line x1="272.2" y1="686.4" x2="272.2" y2="688.2" stroke="#c4c4c4" stroke-width="1"/>
<line x1="306.9" y1="686.4" x2="306.9" y2="688.2" stroke="#c4c4c4" stroke-width="1"/>
<line x1="339.7" y1="686.4" x2="339.7" y2="688.2" stroke="#c4c4c4" stroke-width="1"/>
<line x1="370.7" y1="686.4" x2="370.7" y2="688.2" stroke="#c4c4c4" stroke-width="1"/>
<line x1="399.6" y1="686.4" x2="399.6" y2="688.2" stroke="#c4c4c4" stroke-width="1"/>
<line x1="426.1" y1="686.4" x2="426.1" y2="688.2" stroke="#c4c4c4" stroke-width="1"/>
<line x1="451.8" y1="686.4" x2="451.8" y2="688.2" stroke="#c4c4c4" stroke-width="1"/>
<line x1="476.3" y1="686.4" x2="476.3" y2="688.2" stroke="#c4c4c4" stroke-width="1"/>
<line x1="500.8" y1="686.4" x2="500.8" y2="688.2" stroke="#c4c4c4" stroke-width="1"/>
<line x1="525.1" y1="686.4" x2="525.1" y2="688.2" stroke="#c4c4c4" stroke-width="1"/>
<line x1="546" y1="686.4" x2="546" y2="688.2" stroke="#c4c4c4" stroke-width="1"/>
<line x1="565.4" y1="686.4" x2="565.4" y2="688.2" stroke="#c4c4c4" stroke-width="1"/>
<line x1="584" y1="686.4" x2="584" y2="688.2" stroke="#c4c4c4" stroke-width="1"/>
<line x1="600.4" y1="686.4" x2="600.4" y2="688.2" stroke="#c4c4c4" stroke-width="1"/>
<line x1="615.2" y1="686.4" x2="615.2" y2="688.2" stroke="#c4c4c4" stroke-width="1"/>
<line x1="629.3" y1="686.4" x2="629.3" y2="688.2" stroke="#c4c4c4" stroke-width="1"/>
<line x1="640" y1="686.4" x2="640" y2="688.2" stroke="#c4c4c4" stroke-width="1"/>
<line x1="651.5" y1="686.4" x2="651.5" y2="688.2" stroke="#c4c4c4" stroke-width="1"/>
<line x1="660.2" y1="686.4" x2="660.2" y2="688.2" stroke="#c4c4c4" stroke-width="1"/>
<line x1="669.3" y1="687.3" x2="669.3" y2="912.4" stroke="#ccc" stroke-width="1.4"/>
<line x1="147.6" y1="687.3" x2="147.6" y2="912.4" stroke="#ccc" stroke-width="1.4"/>
<line x1="147.6" y1="699.4" x2="147.6" y2="900.8" stroke="#484848" stroke-width="1.6"/>
<line x1="146.8" y1="912.4" x2="669.3" y2="912.4" stroke="#4a4a4a" stroke-width="1.7"/>
<line x1="142.6" y1="699.4" x2="147.6" y2="699.4" stroke="#444" stroke-width="1.5"/>
<text x="138.2" y="702.6" class="yl">1.2</text>
<line x1="142.6" y1="733" x2="147.6" y2="733" stroke="#444" stroke-width="1.5"/>
<text x="138.2" y="736.2" class="yl">0.8</text>
<line x1="142.6" y1="766.5" x2="147.6" y2="766.5" stroke="#444" stroke-width="1.5"/>
<text x="138.2" y="769.7" class="yl">0.4</text>
<line x1="142.6" y1="800.1" x2="147.6" y2="800.1" stroke="#444" stroke-width="1.5"/>
<text x="138.2" y="803.3" class="yl">0.0</text>
<line x1="142.6" y1="833.7" x2="147.6" y2="833.7" stroke="#444" stroke-width="1.5"/>
<text x="138.2" y="836.9" class="yl">-0.4</text>
<line x1="142.6" y1="867.2" x2="147.6" y2="867.2" stroke="#444" stroke-width="1.5"/>
<text x="138.2" y="870.4" class="yl">-0.8</text>
<line x1="142.6" y1="900.8" x2="147.6" y2="900.8" stroke="#444" stroke-width="1.5"/>
<text x="138.2" y="904" class="yl">-1.2</text>
<line x1="169.6" y1="912.4" x2="169.6" y2="916.9" stroke="#444" stroke-width="1.5"/>
<text transform="translate(172.7 921.8) rotate(-90)" class="xl">chr1</text>
<line x1="214.3" y1="912.4" x2="214.3" y2="916.9" stroke="#444" stroke-width="1.5"/>
<text transform="translate(217.4 921.8) rotate(-90)" class="xl">chr2</text>
<line x1="254.3" y1="912.4" x2="254.3" y2="916.9" stroke="#444" stroke-width="1.5"/>
<text transform="translate(257.4 921.8) rotate(-90)" class="xl">chr3</text>
<line x1="289.6" y1="912.4" x2="289.6" y2="916.9" stroke="#444" stroke-width="1.5"/>
<text transform="translate(292.7 921.8) rotate(-90)" class="xl">chr4</text>
<line x1="323.3" y1="912.4" x2="323.3" y2="916.9" stroke="#444" stroke-width="1.5"/>
<text transform="translate(326.4 921.8) rotate(-90)" class="xl">chr5</text>
<line x1="355.2" y1="912.4" x2="355.2" y2="916.9" stroke="#444" stroke-width="1.5"/>
<text transform="translate(358.3 921.8) rotate(-90)" class="xl">chr6</text>
<line x1="385.2" y1="912.4" x2="385.2" y2="916.9" stroke="#444" stroke-width="1.5"/>
<text transform="translate(388.3 921.8) rotate(-90)" class="xl">chr7</text>
<line x1="412.9" y1="912.4" x2="412.9" y2="916.9" stroke="#444" stroke-width="1.5"/>
<text transform="translate(416 921.8) rotate(-90)" class="xl">chr8</text>
<line x1="438.9" y1="912.4" x2="438.9" y2="916.9" stroke="#444" stroke-width="1.5"/>
<text transform="translate(442 921.8) rotate(-90)" class="xl">chr9</text>
<line x1="464" y1="912.4" x2="464" y2="916.9" stroke="#444" stroke-width="1.5"/>
<text transform="translate(467.1 921.8) rotate(-90)" class="xl">chr10</text>
<line x1="488.6" y1="912.4" x2="488.6" y2="916.9" stroke="#444" stroke-width="1.5"/>
<text transform="translate(491.7 921.8) rotate(-90)" class="xl">chr11</text>
<line x1="513" y1="912.4" x2="513" y2="916.9" stroke="#444" stroke-width="1.5"/>
<text transform="translate(516.1 921.8) rotate(-90)" class="xl">chr12</text>
<line x1="535.5" y1="912.4" x2="535.5" y2="916.9" stroke="#444" stroke-width="1.5"/>
<text transform="translate(538.6 921.8) rotate(-90)" class="xl">chr13</text>
<line x1="555.7" y1="912.4" x2="555.7" y2="916.9" stroke="#444" stroke-width="1.5"/>
<text transform="translate(558.8 921.8) rotate(-90)" class="xl">chr14</text>
<line x1="574.7" y1="912.4" x2="574.7" y2="916.9" stroke="#444" stroke-width="1.5"/>
<text transform="translate(577.8 921.8) rotate(-90)" class="xl">chr15</text>
<line x1="592.2" y1="912.4" x2="592.2" y2="916.9" stroke="#444" stroke-width="1.5"/>
<text transform="translate(595.3 921.8) rotate(-90)" class="xl">chr16</text>
<line x1="607.8" y1="912.4" x2="607.8" y2="916.9" stroke="#444" stroke-width="1.5"/>
<text transform="translate(610.9 921.8) rotate(-90)" class="xl">chr17</text>
<line x1="622.2" y1="912.4" x2="622.2" y2="916.9" stroke="#444" stroke-width="1.5"/>
<text transform="translate(625.3 921.8) rotate(-90)" class="xl">chr18</text>
<line x1="634.7" y1="912.4" x2="634.7" y2="916.9" stroke="#444" stroke-width="1.5"/>
<text transform="translate(637.8 921.8) rotate(-90)" class="xl">chr19</text>
<line x1="645.8" y1="912.4" x2="645.8" y2="916.9" stroke="#444" stroke-width="1.5"/>
<text transform="translate(648.9 921.8) rotate(-90)" class="xl">chr20</text>
<line x1="655.8" y1="912.4" x2="655.8" y2="916.9" stroke="#444" stroke-width="1.5"/>
<text transform="translate(658.9 921.8) rotate(-90)" class="xl">chr21</text>
<line x1="664.8" y1="912.4" x2="664.8" y2="916.9" stroke="#444" stroke-width="1.5"/>
<text transform="translate(667.9 921.8) rotate(-90)" class="xl">chr22</text>
<rect x="194.5" y="1033" width="1292.5" height="32.3" fill="#fafafa"/>
<rect x="195.5" y="1034" width="1290.5" height="12.3" fill="#f4f4f4"/>
<rect x="196.5" y="1046.3" width="16.7" height="7" fill="#808080" stroke="#222" stroke-width="0.6"/>
<rect x="213.2" y="1046.3" width="8.1" height="7" fill="#fff" stroke="#222" stroke-width="0.6"/>
<rect x="221.3" y="1046.3" width="30.2" height="7" fill="#808080" stroke="#222" stroke-width="0.6"/>
<rect x="251.5" y="1046.3" width="23.1" height="7" fill="#fff" stroke="#222" stroke-width="0.6"/>
<rect x="274.6" y="1046.3" width="8.1" height="7" fill="#c0c0c0" stroke="#222" stroke-width="0.6"/>
<rect x="282.7" y="1046.3" width="20.1" height="7" fill="#fff" stroke="#222" stroke-width="0.6"/>
<rect x="302.8" y="1046.3" width="49.3" height="7" fill="#000000" stroke="#222" stroke-width="0.6"/>
<rect x="352.1" y="1046.3" width="16.1" height="7" fill="#fff" stroke="#222" stroke-width="0.6"/>
<rect x="368.2" y="1046.3" width="29.2" height="7" fill="#404040" stroke="#222" stroke-width="0.6"/>
<rect x="397.4" y="1046.3" width="8.1" height="7" fill="#fff" stroke="#222" stroke-width="0.6"/>
<rect x="405.5" y="1046.3" width="28.2" height="7" fill="#808080" stroke="#222" stroke-width="0.6"/>
<rect x="433.7" y="1046.3" width="19.1" height="7" fill="#fff" stroke="#222" stroke-width="0.6"/>
<rect x="452.8" y="1046.3" width="28.5" height="7" fill="#404040" stroke="#222" stroke-width="0.6"/>
<rect x="481.3" y="1046.3" width="2" height="7" fill="#fff" stroke="#222" stroke-width="0.6"/>
<rect x="483.3" y="1046.3" width="1.4" height="7" fill="#000000" stroke="#222" stroke-width="0.6"/>
<rect x="484.7" y="1046.3" width="41.9" height="7" fill="#fff" stroke="#222" stroke-width="0.6"/>
<rect x="526.6" y="1046.3" width="11" height="7" fill="#c0c0c0" stroke="#222" stroke-width="0.6"/>
<rect x="537.6" y="1046.3" width="13.7" height="7" fill="#fff" stroke="#222" stroke-width="0.6"/>
<rect x="551.3" y="1046.3" width="27.6" height="7" fill="#808080" stroke="#222" stroke-width="0.6"/>
<rect x="578.9" y="1046.3" width="33.2" height="7" fill="#fff" stroke="#222" stroke-width="0.6"/>
<rect x="612.1" y="1046.3" width="39.9" height="7" fill="#808080" stroke="#222" stroke-width="0.6"/>
<rect x="652" y="1046.3" width="29" height="7" fill="#fff" stroke="#222" stroke-width="0.6"/>
<rect x="681" y="1046.3" width="36.8" height="7" fill="#404040" stroke="#222" stroke-width="0.6"/>
<rect x="717.8" y="1046.3" width="24.5" height="7" fill="#fff" stroke="#222" stroke-width="0.6"/>
<rect x="742.3" y="1046.3" width="23.7" height="7" fill="#404040" stroke="#222" stroke-width="0.6"/>
<rect x="766" y="1046.3" width="4" height="7" fill="#fff" stroke="#222" stroke-width="0.6"/>
<rect x="809.7" y="1046.3" width="28.8" height="7" fill="#fff" stroke="#222" stroke-width="0.6"/>
<rect x="838.5" y="1046.3" width="10.5" height="7" fill="#fff" stroke="#222" stroke-width="0.6"/>
<rect x="849" y="1046.3" width="6.4" height="7" fill="#c0c0c0" stroke="#222" stroke-width="0.6"/>
<rect x="855.4" y="1046.3" width="12.7" height="7" fill="#fff" stroke="#222" stroke-width="0.6"/>
<rect x="868.1" y="1046.3" width="22.2" height="7" fill="#404040" stroke="#222" stroke-width="0.6"/>
<rect x="890.3" y="1046.3" width="11" height="7" fill="#fff" stroke="#222" stroke-width="0.6"/>
<rect x="901.3" y="1046.3" width="22.2" height="7" fill="#808080" stroke="#222" stroke-width="0.6"/>
<rect x="923.5" y="1046.3" width="14.7" height="7" fill="#fff" stroke="#222" stroke-width="0.6"/>
<rect x="938.2" y="1046.3" width="24.5" height="7" fill="#404040" stroke="#222" stroke-width="0.6"/>
<rect x="962.7" y="1046.3" width="11.5" height="7" fill="#fff" stroke="#222" stroke-width="0.6"/>
<rect x="974.2" y="1046.3" width="18.9" height="7" fill="#404040" stroke="#222" stroke-width="0.6"/>
<rect x="993.1" y="1046.3" width="12.5" height="7" fill="#fff" stroke="#222" stroke-width="0.6"/>
<rect x="1005.6" y="1046.3" width="13.7" height="7" fill="#c0c0c0" stroke="#222" stroke-width="0.6"/>
<rect x="1019.3" y="1046.3" width="21.1" height="7" fill="#fff" stroke="#222" stroke-width="0.6"/>
<rect x="1040.4" y="1046.3" width="30.2" height="7" fill="#c0c0c0" stroke="#222" stroke-width="0.6"/>
<rect x="1070.6" y="1046.3" width="12.5" height="7" fill="#fff" stroke="#222" stroke-width="0.6"/>
<rect x="1083.1" y="1046.3" width="19.3" height="7" fill="#c0c0c0" stroke="#222" stroke-width="0.6"/>
<rect x="1102.4" y="1046.3" width="27.6" height="7" fill="#fff" stroke="#222" stroke-width="0.6"/>
<rect x="1130" y="1046.3" width="39.3" height="7" fill="#000000" stroke="#222" stroke-width="0.6"/>
<rect x="1169.3" y="1046.3" width="21" height="7" fill="#fff" stroke="#222" stroke-width="0.6"/>
<rect x="1190.3" y="1046.3" width="19.5" height="7" fill="#808080" stroke="#222" stroke-width="0.6"/>
<rect x="1209.8" y="1046.3" width="12.6" height="7" fill="#fff" stroke="#222" stroke-width="0.6"/>
<rect x="1222.4" y="1046.3" width="13.9" height="7" fill="#808080" stroke="#222" stroke-width="0.6"/>
<rect x="1236.3" y="1046.3" width="10.7" height="7" fill="#fff" stroke="#222" stroke-width="0.6"/>
<rect x="1247" y="1046.3" width="45.7" height="7" fill="#000000" stroke="#222" stroke-width="0.6"/>
<rect x="1292.7" y="1046.3" width="21.1" height="7" fill="#fff" stroke="#222" stroke-width="0.6"/>
<rect x="1313.8" y="1046.3" width="31.2" height="7" fill="#404040" stroke="#222" stroke-width="0.6"/>
<rect x="1345" y="1046.3" width="21.6" height="7" fill="#fff" stroke="#222" stroke-width="0.6"/>
<rect x="1366.6" y="1046.3" width="24.7" height="7" fill="#404040" stroke="#222" stroke-width="0.6"/>
<rect x="1391.3" y="1046.3" width="11.1" height="7" fill="#fff" stroke="#222" stroke-width="0.6"/>
<rect x="1402.4" y="1046.3" width="10.1" height="7" fill="#c0c0c0" stroke="#222" stroke-width="0.6"/>
<rect x="1412.5" y="1046.3" width="12.7" height="7" fill="#fff" stroke="#222" stroke-width="0.6"/>
<rect x="1425.2" y="1046.3" width="29.1" height="7" fill="#404040" stroke="#222" stroke-width="0.6"/>
<rect x="1454.3" y="1046.3" width="31.1" height="7" fill="#fff" stroke="#222" stroke-width="0.6"/>
<line x1="195" y1="1046.3" x2="1486" y2="1046.3" stroke="#333" stroke-width="0.8"/>
<line x1="195" y1="1053.3" x2="1486" y2="1053.3" stroke="#333" stroke-width="0.8"/>
<path d="M770 1046.3 L790.6 1049.8 L770 1053.3 Z" fill="#b00000" stroke="none"/>
<path d="M809.7 1046.3 L790.6 1049.8 L809.7 1053.3 Z" fill="#b00000" stroke="none"/>
<rect x="194.5" y="1033" width="1292.5" height="32.3" fill="none" stroke="#000" stroke-width="2"/>
<text x="197.3" y="1043.2" font-size="8.3" font-weight="bold">chr3</text>
<text x="216.6" y="1060.6" font-size="8" font-weight="bold" text-anchor="middle" fill="#111">p26.2</text>
<text x="262.5" y="1060.6" font-size="8" font-weight="bold" text-anchor="middle" fill="#111">p25.3</text>
<text x="292.1" y="1060.6" font-size="8" font-weight="bold" text-anchor="middle" fill="#111">p25.1</text>
<text x="326" y="1060.6" font-size="8" font-weight="bold" text-anchor="middle" fill="#111">p24.3</text>
<text x="359.2" y="1060.6" font-size="8" font-weight="bold" text-anchor="middle" fill="#111">p24.2</text>
<text x="400.9" y="1060.6" font-size="8" font-weight="bold" text-anchor="middle" fill="#111">p23</text>
<text x="442.7" y="1060.6" font-size="8" font-weight="bold" text-anchor="middle" fill="#111">p22.2</text>
<text x="481.3" y="1060.6" font-size="8" font-weight="bold" text-anchor="middle" fill="#111">p21.33</text>
<text x="531.6" y="1060.6" font-size="8" font-weight="bold" text-anchor="middle" fill="#111">p21.2</text>
<text x="564.2" y="1060.6" font-size="8" font-weight="bold" text-anchor="middle" fill="#111">p14.3</text>
<text x="594.6" y="1060.6" font-size="8" font-weight="bold" text-anchor="middle" fill="#111">p14.2</text>
<text x="630.9" y="1060.6" font-size="8" font-weight="bold" text-anchor="middle" fill="#111">p14.1</text>
<text x="665.1" y="1060.6" font-size="8" font-weight="bold" text-anchor="middle" fill="#111">p13</text>
<text x="698.3" y="1060.6" font-size="8" font-weight="bold" text-anchor="middle" fill="#111">p12.3</text>
<text x="729" y="1060.6" font-size="8" font-weight="bold" text-anchor="middle" fill="#111">p12.2</text>
<text x="767.4" y="1060.6" font-size="8" font-weight="bold" text-anchor="middle" fill="#111">p11.2</text>
<text x="800" y="1060.6" font-size="8" font-weight="bold" text-anchor="middle" fill="#111">q11.1</text>
<text x="843.3" y="1060.6" font-size="8" font-weight="bold" text-anchor="middle" fill="#111">q12.1</text>
<text x="878.8" y="1060.6" font-size="8" font-weight="bold" text-anchor="middle" fill="#111">q13.11</text>
<text x="930.5" y="1060.6" font-size="8" font-weight="bold" text-anchor="middle" fill="#111">q13.2</text>
<text x="967.8" y="1060.6" font-size="8" font-weight="bold" text-anchor="middle" fill="#111">q13.32</text>
<text x="1011.6" y="1060.6" font-size="8" font-weight="bold" text-anchor="middle" fill="#111">q21.2</text>
<text x="1054.9" y="1060.6" font-size="8" font-weight="bold" text-anchor="middle" fill="#111">q22.1</text>
<text x="1092.1" y="1060.6" font-size="8" font-weight="bold" text-anchor="middle" fill="#111">q22.3</text>
<text x="1148.7" y="1060.6" font-size="8" font-weight="bold" text-anchor="middle" fill="#111">q24</text>
<text x="1179.3" y="1060.6" font-size="8" font-weight="bold" text-anchor="middle" fill="#111">q25.1</text>
<text x="1215.5" y="1060.6" font-size="8" font-weight="bold" text-anchor="middle" fill="#111">q25.31</text>
<text x="1268.2" y="1060.6" font-size="8" font-weight="bold" text-anchor="middle" fill="#111">q26.1</text>
<text x="1302.1" y="1060.6" font-size="8" font-weight="bold" text-anchor="middle" fill="#111">q26.2</text>
<text x="1355.5" y="1060.6" font-size="8" font-weight="bold" text-anchor="middle" fill="#111">q26.32</text>
<text x="1396.4" y="1060.6" font-size="8" font-weight="bold" text-anchor="middle" fill="#111">q27.1</text>
<text x="1438.6" y="1060.6" font-size="8" font-weight="bold" text-anchor="middle" fill="#111">q28</text>
<text x="1472.9" y="1060.6" font-size="8" font-weight="bold" text-anchor="middle" fill="#111">q29</text>
<line x1="251.3" y1="1052.6" x2="195.5" y2="1108" stroke="#e03a3a" stroke-width="1"/>
<line x1="274.6" y1="1048.6" x2="1486.5" y2="1107.6" stroke="#e03a3a" stroke-width="1"/>
<rect x="252.3" y="1045.3" width="21.8" height="8.2" fill="#fff" stroke="#e00000" stroke-width="2"/>
<text transform="translate(246.3 1093.6) scale(0.983 1)" font-size="21.5">3p25.3 (chr3:8,700,001-11,800,000, HG19)</text>
<rect x="195" y="1108.5" width="20.5" height="59.5" fill="#fdf5f7"/>
<rect x="215.5" y="1108.5" width="20.9" height="59.5" fill="#fcf3f6"/>
<rect x="236.4" y="1108.5" width="83.6" height="59.5" fill="#f7e0e6"/>
<rect x="320" y="1108.5" width="20.9" height="59.5" fill="#fdf5f7"/>
<rect x="340.9" y="1108.5" width="83.6" height="59.5" fill="#fbeff3"/>
<rect x="424.5" y="1108.5" width="62.7" height="59.5" fill="#faeaee"/>
<rect x="487.2" y="1108.5" width="20.9" height="59.5" fill="#f6dce3"/>
<rect x="508.1" y="1108.5" width="62.7" height="59.5" fill="#ffffff"/>
<rect x="570.8" y="1108.5" width="41.8" height="59.5" fill="#fbeff3"/>
<rect x="612.6" y="1108.5" width="20.9" height="59.5" fill="#fefbfc"/>
<rect x="633.5" y="1108.5" width="20.9" height="59.5" fill="#fbeff3"/>
<rect x="654.4" y="1108.5" width="20.9" height="59.5" fill="#faeaee"/>
<rect x="675.3" y="1108.5" width="20.9" height="59.5" fill="#fdf5f7"/>
<rect x="696.2" y="1108.5" width="20.9" height="59.5" fill="#faeaee"/>
<rect x="717.1" y="1108.5" width="20.9" height="59.5" fill="#fcf3f6"/>
<rect x="738" y="1108.5" width="20.9" height="59.5" fill="#fbedf1"/>
<rect x="758.9" y="1108.5" width="41.8" height="59.5" fill="#fdf5f7"/>
<rect x="800.7" y="1108.5" width="41.8" height="59.5" fill="#fcf3f6"/>
<rect x="842.5" y="1108.5" width="20.9" height="59.5" fill="#f9e8ec"/>
<rect x="863.4" y="1108.5" width="62.7" height="59.5" fill="#fdf5f7"/>
<rect x="926.1" y="1108.5" width="41.8" height="59.5" fill="#fcfcfd"/>
<rect x="967.9" y="1108.5" width="125.4" height="59.5" fill="#fefbfc"/>
<rect x="1093.3" y="1108.5" width="20.9" height="59.5" fill="#fbeff3"/>
<rect x="1114.2" y="1108.5" width="41.8" height="59.5" fill="#fcf1f4"/>
<rect x="1156" y="1108.5" width="20.9" height="59.5" fill="#fefbfc"/>
<rect x="1176.9" y="1108.5" width="20.9" height="59.5" fill="#ffffff"/>
<rect x="1197.8" y="1108.5" width="41.8" height="59.5" fill="#fefcfd"/>
<rect x="1239.6" y="1108.5" width="41.8" height="59.5" fill="#fcf3f6"/>
<rect x="1281.4" y="1108.5" width="20.9" height="59.5" fill="#fbedf1"/>
<rect x="1302.3" y="1108.5" width="83.6" height="59.5" fill="#f8e2e8"/>
<rect x="1385.9" y="1108.5" width="20.9" height="59.5" fill="#fcf3f6"/>
<rect x="1406.8" y="1108.5" width="41.8" height="59.5" fill="#fcf1f4"/>
<rect x="1448.6" y="1108.5" width="37.9" height="59.5" fill="#fcf3f6"/>
<rect x="195" y="1168" width="20.5" height="60.5" fill="#faeaee"/>
<rect x="215.5" y="1168" width="20.9" height="60.5" fill="#ffffff"/>
<rect x="236.4" y="1168" width="83.6" height="60.5" fill="#faeaee"/>
<rect x="320" y="1168" width="20.9" height="60.5" fill="#fbeff3"/>
<rect x="340.9" y="1168" width="83.6" height="60.5" fill="#fefbfc"/>
<rect x="424.5" y="1168" width="62.7" height="60.5" fill="#fcf3f6"/>
<rect x="487.2" y="1168" width="20.9" height="60.5" fill="#faeaee"/>
<rect x="508.1" y="1168" width="62.7" height="60.5" fill="#f7e0e6"/>
<rect x="570.8" y="1168" width="41.8" height="60.5" fill="#f9e8ec"/>
<rect x="612.6" y="1168" width="20.9" height="60.5" fill="#fbedf1"/>
<rect x="633.5" y="1168" width="41.8" height="60.5" fill="#fdf7f9"/>
<rect x="675.3" y="1168" width="20.9" height="60.5" fill="#ffffff"/>
<rect x="696.2" y="1168" width="20.9" height="60.5" fill="#f8e2e8"/>
<rect x="717.1" y="1168" width="20.9" height="60.5" fill="#fcf3f6"/>
<rect x="738" y="1168" width="20.9" height="60.5" fill="#f7f7fb"/>
<rect x="758.9" y="1168" width="83.6" height="60.5" fill="#fcf3f6"/>
<rect x="842.5" y="1168" width="20.9" height="60.5" fill="#fdf7f9"/>
<rect x="863.4" y="1168" width="20.9" height="60.5" fill="#fdf5f7"/>
<rect x="884.3" y="1168" width="20.9" height="60.5" fill="#fcf1f4"/>
<rect x="905.2" y="1168" width="20.9" height="60.5" fill="#ffffff"/>
<rect x="926.1" y="1168" width="41.8" height="60.5" fill="#f7e0e6"/>
<rect x="967.9" y="1168" width="125.4" height="60.5" fill="#f8e4e9"/>
<rect x="1093.3" y="1168" width="20.9" height="60.5" fill="#f7e0e6"/>
<rect x="1114.2" y="1168" width="41.8" height="60.5" fill="#f7dee5"/>
<rect x="1156" y="1168" width="20.9" height="60.5" fill="#faeaee"/>
<rect x="1176.9" y="1168" width="20.9" height="60.5" fill="#f8e4e9"/>
<rect x="1197.8" y="1168" width="41.8" height="60.5" fill="#f6dce3"/>
<rect x="1239.6" y="1168" width="41.8" height="60.5" fill="#faeaee"/>
<rect x="1281.4" y="1168" width="20.9" height="60.5" fill="#fcf3f6"/>
<rect x="1302.3" y="1168" width="83.6" height="60.5" fill="#f9e8ec"/>
<rect x="1385.9" y="1168" width="20.9" height="60.5" fill="#fdf5f7"/>
<rect x="1406.8" y="1168" width="41.8" height="60.5" fill="#fbeff3"/>
<rect x="1448.6" y="1168" width="37.9" height="60.5" fill="#fbedf1"/>
<rect x="195" y="1228.5" width="20.5" height="59.5" fill="#f9e8ec"/>
<rect x="215.5" y="1228.5" width="20.9" height="59.5" fill="#fefbfc"/>
<rect x="236.4" y="1228.5" width="83.6" height="59.5" fill="#f9e8ec"/>
<rect x="320" y="1228.5" width="20.9" height="59.5" fill="#fffdfd"/>
<rect x="340.9" y="1228.5" width="83.6" height="59.5" fill="#fcf3f6"/>
<rect x="424.5" y="1228.5" width="62.7" height="59.5" fill="#faecf0"/>
<rect x="487.2" y="1228.5" width="20.9" height="59.5" fill="#f5d4dd"/>
<rect x="508.1" y="1228.5" width="62.7" height="59.5" fill="#fdf7f9"/>
<rect x="570.8" y="1228.5" width="62.7" height="59.5" fill="#fbedf1"/>
<rect x="633.5" y="1228.5" width="41.8" height="59.5" fill="#faeaee"/>
<rect x="675.3" y="1228.5" width="20.9" height="59.5" fill="#fefbfc"/>
<rect x="696.2" y="1228.5" width="20.9" height="59.5" fill="#f9e8ec"/>
<rect x="717.1" y="1228.5" width="20.9" height="59.5" fill="#fcf1f4"/>
<rect x="738" y="1228.5" width="20.9" height="59.5" fill="#fdf7f9"/>
<rect x="758.9" y="1228.5" width="62.7" height="59.5" fill="#faecf0"/>
<rect x="821.6" y="1228.5" width="20.9" height="59.5" fill="#faeaee"/>
<rect x="842.5" y="1228.5" width="62.7" height="59.5" fill="#fcf3f6"/>
<rect x="905.2" y="1228.5" width="20.9" height="59.5" fill="#fefcfd"/>
<rect x="926.1" y="1228.5" width="41.8" height="59.5" fill="#fbeff3"/>
<rect x="967.9" y="1228.5" width="125.4" height="59.5" fill="#fbedf1"/>
<rect x="1093.3" y="1228.5" width="83.6" height="59.5" fill="#fcf3f6"/>
<rect x="1176.9" y="1228.5" width="20.9" height="59.5" fill="#fcf1f4"/>
<rect x="1197.8" y="1228.5" width="83.6" height="59.5" fill="#faeaee"/>
<rect x="1281.4" y="1228.5" width="20.9" height="59.5" fill="#fbeff3"/>
<rect x="1302.3" y="1228.5" width="83.6" height="59.5" fill="#f7e0e6"/>
<rect x="1385.9" y="1228.5" width="20.9" height="59.5" fill="#fdf7f9"/>
<rect x="1406.8" y="1228.5" width="41.8" height="59.5" fill="#fcf1f4"/>
<rect x="1448.6" y="1228.5" width="37.9" height="59.5" fill="#f8e4e9"/>
<rect x="195" y="1288" width="20.5" height="60" fill="#f8e2e8"/>
<rect x="215.5" y="1288" width="20.9" height="60" fill="#f9e8ec"/>
<rect x="236.4" y="1288" width="83.6" height="60" fill="#f4d0da"/>
<rect x="320" y="1288" width="20.9" height="60" fill="#f8e2e8"/>
<rect x="340.9" y="1288" width="83.6" height="60" fill="#f6dce3"/>
<rect x="424.5" y="1288" width="62.7" height="60" fill="#f8e2e8"/>
<rect x="487.2" y="1288" width="83.6" height="60" fill="#f5d4dd"/>
<rect x="570.8" y="1288" width="41.8" height="60" fill="#f6d8e0"/>
<rect x="612.6" y="1288" width="20.9" height="60" fill="#f8e4e9"/>
<rect x="633.5" y="1288" width="41.8" height="60" fill="#f9e6eb"/>
<rect x="675.3" y="1288" width="20.9" height="60" fill="#f6d8e0"/>
<rect x="696.2" y="1288" width="20.9" height="60" fill="#f6dce3"/>
<rect x="717.1" y="1288" width="20.9" height="60" fill="#f5d4dd"/>
<rect x="738" y="1288" width="20.9" height="60" fill="#fdf5f7"/>
<rect x="758.9" y="1288" width="41.8" height="60" fill="#faeaee"/>
<rect x="800.7" y="1288" width="20.9" height="60" fill="#f8e2e8"/>
<rect x="821.6" y="1288" width="83.6" height="60" fill="#f8e4e9"/>
<rect x="905.2" y="1288" width="20.9" height="60" fill="#fdf5f7"/>
<rect x="926.1" y="1288" width="41.8" height="60" fill="#f8e4e9"/>
<rect x="967.9" y="1288" width="125.4" height="60" fill="#f4d0da"/>
<rect x="1093.3" y="1288" width="20.9" height="60" fill="#f3ccd7"/>
<rect x="1114.2" y="1288" width="41.8" height="60" fill="#f4d0da"/>
<rect x="1156" y="1288" width="20.9" height="60" fill="#f7e0e6"/>
<rect x="1176.9" y="1288" width="20.9" height="60" fill="#f3ced8"/>
<rect x="1197.8" y="1288" width="41.8" height="60" fill="#f5d4dd"/>
<rect x="1239.6" y="1288" width="41.8" height="60" fill="#f6dae2"/>
<rect x="1281.4" y="1288" width="125.4" height="60" fill="#f7dee5"/>
<rect x="1406.8" y="1288" width="20.9" height="60" fill="#f7e0e6"/>
<rect x="1427.7" y="1288" width="20.9" height="60" fill="#f6dce3"/>
<rect x="1448.6" y="1288" width="37.9" height="60" fill="#f8e4e9"/>
<rect x="195" y="1348" width="20.5" height="60.5" fill="#f9e8ec"/>
<rect x="215.5" y="1348" width="20.9" height="60.5" fill="#fcf3f6"/>
<rect x="236.4" y="1348" width="83.6" height="60.5" fill="#f5d4dd"/>
<rect x="320" y="1348" width="20.9" height="60.5" fill="#faecf0"/>
<rect x="340.9" y="1348" width="146.3" height="60.5" fill="#f7e0e6"/>
<rect x="487.2" y="1348" width="20.9" height="60.5" fill="#f6dce3"/>
<rect x="508.1" y="1348" width="62.7" height="60.5" fill="#f6dae2"/>
<rect x="570.8" y="1348" width="62.7" height="60.5" fill="#f6dce3"/>
<rect x="633.5" y="1348" width="20.9" height="60.5" fill="#faecf0"/>
<rect x="654.4" y="1348" width="20.9" height="60.5" fill="#f6dce3"/>
<rect x="675.3" y="1348" width="20.9" height="60.5" fill="#fbedf1"/>
<rect x="696.2" y="1348" width="20.9" height="60.5" fill="#f7e0e6"/>
<rect x="717.1" y="1348" width="20.9" height="60.5" fill="#faecf0"/>
<rect x="738" y="1348" width="20.9" height="60.5" fill="#fcf3f6"/>
<rect x="758.9" y="1348" width="41.8" height="60.5" fill="#faeaee"/>
<rect x="800.7" y="1348" width="20.9" height="60.5" fill="#f5d6de"/>
<rect x="821.6" y="1348" width="20.9" height="60.5" fill="#fbedf1"/>
<rect x="842.5" y="1348" width="20.9" height="60.5" fill="#f9e8ec"/>
<rect x="863.4" y="1348" width="41.8" height="60.5" fill="#fbedf1"/>
<rect x="905.2" y="1348" width="20.9" height="60.5" fill="#fafafd"/>
<rect x="926.1" y="1348" width="41.8" height="60.5" fill="#fcf3f6"/>
<rect x="967.9" y="1348" width="125.4" height="60.5" fill="#f9e8ec"/>
<rect x="1093.3" y="1348" width="62.7" height="60.5" fill="#f2c8d4"/>
<rect x="1156" y="1348" width="20.9" height="60.5" fill="#f3ccd7"/>
<rect x="1176.9" y="1348" width="20.9" height="60.5" fill="#f3ced8"/>
<rect x="1197.8" y="1348" width="41.8" height="60.5" fill="#f6d8e0"/>
<rect x="1239.6" y="1348" width="41.8" height="60.5" fill="#f5d4dd"/>
<rect x="1281.4" y="1348" width="20.9" height="60.5" fill="#f8e2e8"/>
<rect x="1302.3" y="1348" width="83.6" height="60.5" fill="#f6dae2"/>
<rect x="1385.9" y="1348" width="20.9" height="60.5" fill="#f6dce3"/>
<rect x="1406.8" y="1348" width="20.9" height="60.5" fill="#f8e2e8"/>
<rect x="1427.7" y="1348" width="20.9" height="60.5" fill="#f6d8e0"/>
<rect x="1448.6" y="1348" width="37.9" height="60.5" fill="#faecf0"/>
<line x1="195" y1="1168" x2="1486.5" y2="1168" stroke="#8a8a8a" stroke-width="1.2"/>
<line x1="195" y1="1228.5" x2="1486.5" y2="1228.5" stroke="#8a8a8a" stroke-width="1.2"/>
<line x1="195" y1="1288" x2="1486.5" y2="1288" stroke="#8a8a8a" stroke-width="1.2"/>
<line x1="195" y1="1348" x2="1486.5" y2="1348" stroke="#8a8a8a" stroke-width="1.2"/>
<rect x="195" y="1108.5" width="1291.5" height="300" fill="none" stroke="#000" stroke-width="2"/>
<text transform="translate(183.2 1134.5) scale(1.055 1)" font-size="18" text-anchor="end">GCT32</text>
<text transform="translate(183.4 1157.3) scale(1.055 1)" font-size="18" text-anchor="end">(ImT)</text>
<text transform="translate(183.2 1194.5) scale(1.055 1)" font-size="18" text-anchor="end">GCT40</text>
<text transform="translate(183.4 1217.3) scale(1.055 1)" font-size="18" text-anchor="end">(high grade GCT)</text>
<text transform="translate(183.2 1254.5) scale(1.055 1)" font-size="18" text-anchor="end">GCT41</text>
<text transform="translate(183.4 1277.3) scale(1.055 1)" font-size="18" text-anchor="end">(high grade GCT)</text>
<text transform="translate(183.2 1314.5) scale(1.055 1)" font-size="18" text-anchor="end">GCT57</text>
<text transform="translate(183.4 1337.3) scale(1.055 1)" font-size="18" text-anchor="end">(G+MT+YST+EC)</text>
<text transform="translate(183.2 1374.5) scale(1.055 1)" font-size="18" text-anchor="end">GCT65</text>
<text transform="translate(183.4 1397.3) scale(1.055 1)" font-size="18" text-anchor="end">(YST)</text>
<defs><linearGradient id="cbar" x1="0" x2="1" y1="0" y2="0"><stop offset="0" stop-color="#0000bf"/><stop offset="0.0227" stop-color="#0000bf"/><stop offset="0.0228" stop-color="#1010b4"/><stop offset="0.21" stop-color="#7272d2"/><stop offset="0.39" stop-color="#f4f4fb"/><stop offset="0.3915" stop-color="#faf0f2"/><stop offset="0.56" stop-color="#ecaaaa"/><stop offset="0.75" stop-color="#de6464"/><stop offset="0.973" stop-color="#cc1515"/><stop offset="0.974" stop-color="#cc0a0a"/><stop offset="1" stop-color="#cc0000"/></linearGradient></defs>
<rect x="738" y="1443" width="747.4" height="23" fill="url(#cbar)" stroke="#888" stroke-width="1"/>
<line x1="755" y1="1443.5" x2="755" y2="1465.5" stroke="#111" stroke-width="1"/>
<line x1="1030.7" y1="1443.5" x2="1030.7" y2="1465.5" stroke="#777" stroke-width="1.2"/>
<line x1="1465.6" y1="1443.5" x2="1465.6" y2="1465.5" stroke="#111" stroke-width="1"/>
<text x="755" y="1484.8" font-size="17.6" text-anchor="middle">-1.0</text>
<text x="1030.7" y="1484.8" font-size="17.6" text-anchor="middle">0.0</text>
<text x="1465.6" y="1484.8" font-size="17.6" text-anchor="middle">1.6</text>
<text transform="translate(1111.8 1509.6) scale(1.072 1)" font-size="17.6" text-anchor="middle">Log2 copy number ratio</text>
<line x1="119" y1="1639.6" x2="119" y2="2049" stroke="#000" stroke-width="2"/>
<line x1="112" y1="2049" x2="504" y2="2049" stroke="#000" stroke-width="2"/>
<line x1="112" y1="1640.6" x2="119" y2="1640.6" stroke="#000" stroke-width="2"/>
<text transform="translate(99.2 1648.3) scale(1.040 1)" font-size="22" text-anchor="end">1</text>
<line x1="112" y1="1742.7" x2="119" y2="1742.7" stroke="#000" stroke-width="2"/>
<text transform="translate(99.2 1750.4) scale(1.040 1)" font-size="22" text-anchor="end">0.75</text>
<line x1="112" y1="1844.8" x2="119" y2="1844.8" stroke="#000" stroke-width="2"/>
<text transform="translate(99.2 1852.5) scale(1.040 1)" font-size="22" text-anchor="end">0.5</text>
<line x1="112" y1="1946.9" x2="119" y2="1946.9" stroke="#000" stroke-width="2"/>
<text transform="translate(99.2 1954.6) scale(1.040 1)" font-size="22" text-anchor="end">0.25</text>
<line x1="112" y1="2049" x2="119" y2="2049" stroke="#000" stroke-width="2"/>
<text transform="translate(99.2 2056.7) scale(1.040 1)" font-size="22" text-anchor="end">0</text>
<rect x="135.6" y="1640.6" width="159.7" height="408.4" fill="#fff" stroke="#000" stroke-width="2"/>
<text x="215.4" y="1853" font-size="22" font-weight="bold" text-anchor="middle">41</text>
<rect x="327.6" y="1640.6" width="160.7" height="408.4" fill="#fff" stroke="#000" stroke-width="2"/>
<rect x="326.6" y="1998" width="162.7" height="51" fill="#000"/>
<text x="408" y="1828.3" font-size="22" font-weight="bold" text-anchor="middle">35</text>
<text x="408" y="2032.4" font-size="22" font-weight="bold" text-anchor="middle" fill="#fff">5</text>
<text transform="translate(215.3 2096) scale(1.016 1)" font-size="30" text-anchor="middle" font-weight="bold">Germinoma</text>
<text transform="translate(408 2096) scale(1.025 1)" font-size="30" text-anchor="middle" font-weight="bold">NGGCT</text>
<rect x="525.5" y="1831.5" width="19" height="19" fill="#fff" stroke="#000" stroke-width="2"/>
<rect x="524.5" y="1875.7" width="21" height="21" fill="#000"/>
<text transform="translate(553.7 1853) scale(1.035 1)" font-size="36.5">No gain</text>
<text transform="translate(553.3 1898) scale(1.035 1)" font-size="36.5">Gain</text>
<text x="523.5" y="1664.2" font-size="38">p=0.03</text>
<line x1="879" y1="1631" x2="879" y2="2048.5" stroke="#000" stroke-width="2"/>
<line x1="872" y1="2048.5" x2="1303.6" y2="2048.5" stroke="#000" stroke-width="2"/>
<line x1="872" y1="1632" x2="879" y2="1632" stroke="#000" stroke-width="2"/>
<text transform="translate(859.2 1639.7) scale(1.040 1)" font-size="22" text-anchor="end">1</text>
<line x1="872" y1="1736.1" x2="879" y2="1736.1" stroke="#000" stroke-width="2"/>
<text transform="translate(859.2 1743.8) scale(1.040 1)" font-size="22" text-anchor="end">0.75</text>
<line x1="872" y1="1840.2" x2="879" y2="1840.2" stroke="#000" stroke-width="2"/>
<text transform="translate(859.2 1848) scale(1.040 1)" font-size="22" text-anchor="end">0.5</text>
<line x1="872" y1="1944.4" x2="879" y2="1944.4" stroke="#000" stroke-width="2"/>
<text transform="translate(859.2 1952.1) scale(1.040 1)" font-size="22" text-anchor="end">0.25</text>
<line x1="872" y1="2048.5" x2="879" y2="2048.5" stroke="#000" stroke-width="2"/>
<text transform="translate(859.2 2056.2) scale(1.040 1)" font-size="22" text-anchor="end">0</text>
<rect x="896.6" y="1632" width="177.2" height="416.5" fill="#fff" stroke="#000" stroke-width="2"/>
<rect x="895.6" y="1993" width="179.2" height="55.5" fill="#000"/>
<text x="985.2" y="1821" font-size="22" font-weight="bold" text-anchor="middle">26</text>
<text x="985.2" y="2030.4" font-size="22" font-weight="bold" text-anchor="middle" fill="#fff">4</text>
<rect x="1109.3" y="1632" width="176.9" height="416.5" fill="#fff" stroke="#000" stroke-width="2"/>
<rect x="1108.3" y="2006.8" width="178.9" height="41.7" fill="#000"/>
<text x="1197.8" y="1827" font-size="22" font-weight="bold" text-anchor="middle">9</text>
<text x="1197.8" y="2036.5" font-size="22" font-weight="bold" text-anchor="middle" fill="#fff">1</text>
<text transform="translate(985 2096) scale(1.040 1)" font-size="30" text-anchor="middle" font-weight="bold">Primary</text>
<text transform="translate(1198.5 2096) scale(1.050 1)" font-size="30" text-anchor="middle" font-weight="bold">Recurrent</text>
<rect x="1321" y="1828.4" width="19" height="19" fill="#fff" stroke="#000" stroke-width="2"/>
<rect x="1320" y="1873.6" width="21" height="21" fill="#000"/>
<text transform="translate(1350.3 1849.9) scale(1.058 1)" font-size="36.5">No gain</text>
<text transform="translate(1349.9 1896.3) scale(1.058 1)" font-size="36.5">Gain</text>
</svg></body></html>
